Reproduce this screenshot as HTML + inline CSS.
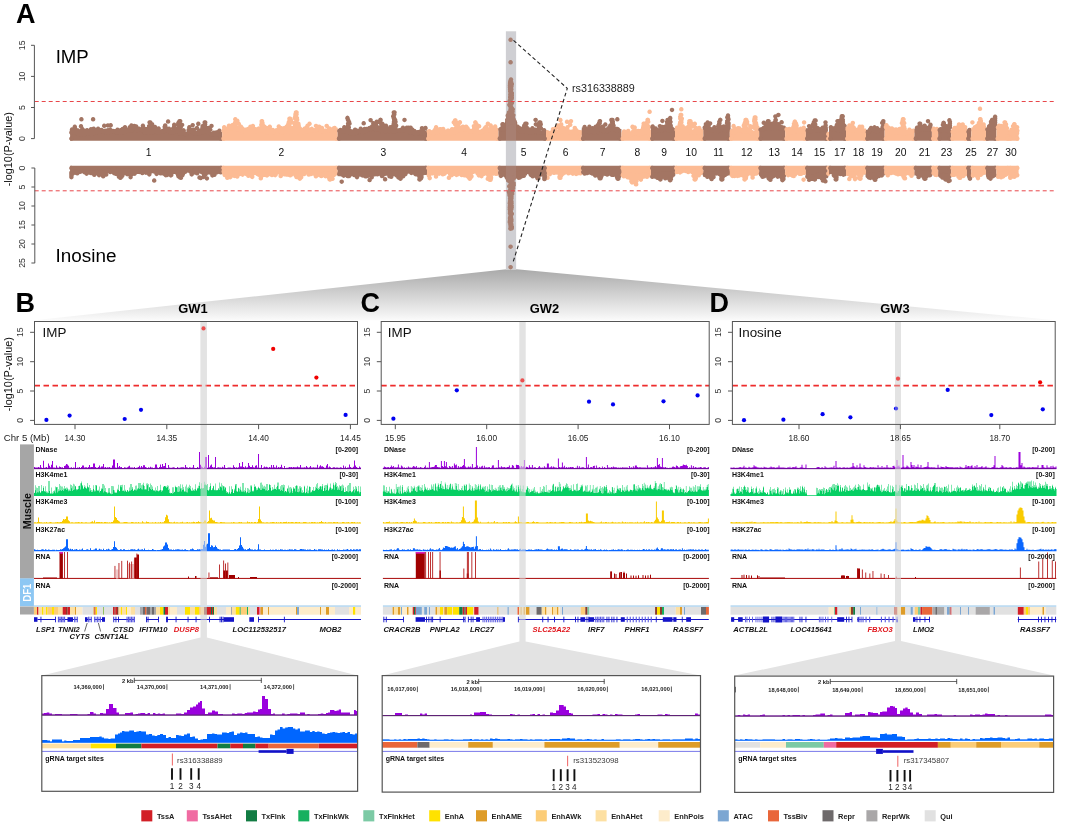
<!DOCTYPE html><html><head><meta charset="utf-8"><title>Figure</title><style>html,body{margin:0;padding:0;background:#fff;width:1065px;height:827px;overflow:hidden;}svg{display:block;font-family:"Liberation Sans",sans-serif;filter:blur(0.35px);}</style></head><body><svg width="1065" height="827" viewBox="0 0 1065 827" font-family="Liberation Sans, sans-serif"><defs><linearGradient id="fanA" gradientUnits="userSpaceOnUse" x1="0" y1="269" x2="0" y2="320"><stop offset="0" stop-color="#a9a9a9"/><stop offset="0.55" stop-color="#d6d6d6"/><stop offset="1" stop-color="#fafafa"/></linearGradient></defs><polygon points="506.3,269.3 516.8,269.3 1055,320.2 35,320.2" fill="url(#fanA)"/>
<rect x="505.9" y="31.3" width="10.2" height="238.5" fill="#d0d0d3"/>
<polygon points="70.1,140.8 70.1,130.4 71.6,130 73.1,129.9 74.6,130.1 76.1,130.6 77.6,131.2 79.1,131.7 80.6,132 82.1,131.9 83.7,131.6 85.2,131.3 86.7,131.1 88.2,131.1 89.7,131.2 91.2,131.3 92.7,131.2 94.2,130.8 95.7,130.2 97.2,129.5 98.7,128.8 100.2,128.5 101.7,128.5 103.2,128.8 104.7,129.2 106.2,129.4 107.7,129.4 109.3,129.3 110.8,129.1 112.3,129.1 113.8,129.2 115.3,129.7 116.8,130.2 118.3,130.5 119.8,130.6 121.3,130.3 122.8,129.8 124.3,129.1 125.8,128.7 127.3,128.4 128.8,128.5 130.3,128.6 131.8,128.6 133.3,128.5 134.9,128.2 136.4,127.8 137.9,127.5 139.4,127.6 140.9,127.9 142.4,128.6 143.9,129.3 145.4,129.8 146.9,130 148.4,130 149.9,129.8 151.4,129.7 152.9,129.7 154.4,129.9 155.9,130.2 157.4,130.4 159,130.4 160.5,130.1 162,129.5 163.5,129 165,128.6 166.5,128.5 168,128.8 169.5,129.3 171,129.7 172.5,130.1 174,130.1 175.5,130.1 177,130.1 178.5,130.3 180,130.7 181.5,131.3 183,131.9 184.6,132.4 186.1,132.4 187.6,132.2 189.1,131.7 190.6,131.2 192.1,130.9 193.6,130.8 195.1,131 196.6,131.1 198.1,131.1 199.6,130.9 201.1,130.5 202.6,130.2 204.1,129.9 205.6,130.1 207.1,130.5 208.6,131.1 210.2,131.7 211.7,132.1 213.2,132.2 214.7,132 216.2,131.8 217.7,131.6 219.2,131.6 220.7,131.8 222.2,132 222.2,140.8" fill="#a37563"/><path d="M71.4 136.3a2.25 2.25 0 1 0 0.01 0zM220.9 136.3a2.25 2.25 0 1 0 0.01 0zM80.1 131.1a2.25 2.25 0 1 0 0.01 0zM77 130.4a2.25 2.25 0 1 0 0.01 0zM81.8 132.4a2.25 2.25 0 1 0 0.01 0zM134.9 125.2a2.25 2.25 0 1 0 0.01 0zM89.9 131.3a2.25 2.25 0 1 0 0.01 0zM165.2 123.2a2.25 2.25 0 1 0 0.01 0zM157.7 130.1a2.25 2.25 0 1 0 0.01 0zM217.3 132.2a2.25 2.25 0 1 0 0.01 0zM199.7 130.8a2.25 2.25 0 1 0 0.01 0zM93 131.6a2.25 2.25 0 1 0 0.01 0zM117.5 127.5a2.25 2.25 0 1 0 0.01 0zM98.4 127.8a2.25 2.25 0 1 0 0.01 0zM166.9 128.3a2.25 2.25 0 1 0 0.01 0zM153.3 130.2a2.25 2.25 0 1 0 0.01 0zM80.3 132.1a2.25 2.25 0 1 0 0.01 0zM173.1 129.6a2.25 2.25 0 1 0 0.01 0zM118.4 129.4a2.25 2.25 0 1 0 0.01 0zM139.1 127.5a2.25 2.25 0 1 0 0.01 0zM190.2 129.5a2.25 2.25 0 1 0 0.01 0zM107.9 128.3a2.25 2.25 0 1 0 0.01 0zM149.9 126.2a2.25 2.25 0 1 0 0.01 0zM180.4 130.8a2.25 2.25 0 1 0 0.01 0zM217.9 132a2.25 2.25 0 1 0 0.01 0zM133.9 126.1a2.25 2.25 0 1 0 0.01 0zM94.1 130.1a2.25 2.25 0 1 0 0.01 0zM77.3 129.5a2.25 2.25 0 1 0 0.01 0zM185.7 131.4a2.25 2.25 0 1 0 0.01 0zM202.3 130.1a2.25 2.25 0 1 0 0.01 0zM175.3 128.9a2.25 2.25 0 1 0 0.01 0zM158.1 129.9a2.25 2.25 0 1 0 0.01 0zM197 125.8a2.25 2.25 0 1 0 0.01 0zM142.3 126.9a2.25 2.25 0 1 0 0.01 0zM80.5 130.1a2.25 2.25 0 1 0 0.01 0zM168.1 119.3a2.25 2.25 0 1 0 0.01 0zM194.3 130.8a2.25 2.25 0 1 0 0.01 0zM129.1 126.9a2.25 2.25 0 1 0 0.01 0zM74.8 129.5a2.25 2.25 0 1 0 0.01 0zM96.5 130.2a2.25 2.25 0 1 0 0.01 0zM80.2 129.6a2.25 2.25 0 1 0 0.01 0zM90.7 131.3a2.25 2.25 0 1 0 0.01 0zM129.8 125a2.25 2.25 0 1 0 0.01 0zM83.4 131.1a2.25 2.25 0 1 0 0.01 0zM153.5 126a2.25 2.25 0 1 0 0.01 0zM193.9 127.4a2.25 2.25 0 1 0 0.01 0zM113 128.7a2.25 2.25 0 1 0 0.01 0zM125 125.1a2.25 2.25 0 1 0 0.01 0zM214.6 132.4a2.25 2.25 0 1 0 0.01 0zM97.7 129.3a2.25 2.25 0 1 0 0.01 0zM106.3 128.7a2.25 2.25 0 1 0 0.01 0zM159.5 130.4a2.25 2.25 0 1 0 0.01 0zM72 129.5a2.25 2.25 0 1 0 0.01 0zM126.6 127.5a2.25 2.25 0 1 0 0.01 0zM213.9 130.4a2.25 2.25 0 1 0 0.01 0zM148.5 128.7a2.25 2.25 0 1 0 0.01 0zM172.5 130.6a2.25 2.25 0 1 0 0.01 0zM205.9 127.7a2.25 2.25 0 1 0 0.01 0zM202.1 127.6a2.25 2.25 0 1 0 0.01 0zM130.1 128.2a2.25 2.25 0 1 0 0.01 0zM86.9 129.7a2.25 2.25 0 1 0 0.01 0zM80.7 132.5a2.25 2.25 0 1 0 0.01 0zM102.6 129a2.25 2.25 0 1 0 0.01 0zM122.2 130.5a2.25 2.25 0 1 0 0.01 0zM71.4 130.4a2.25 2.25 0 1 0 0.01 0zM86.6 130.8a2.25 2.25 0 1 0 0.01 0zM75.2 126.7a2.25 2.25 0 1 0 0.01 0zM163.2 129.4a2.25 2.25 0 1 0 0.01 0zM109.1 129.1a2.25 2.25 0 1 0 0.01 0zM125.8 129a2.25 2.25 0 1 0 0.01 0zM198.3 121.6a2.25 2.25 0 1 0 0.01 0zM141.1 127.3a2.25 2.25 0 1 0 0.01 0zM84.2 131.9a2.25 2.25 0 1 0 0.01 0zM122.6 129.9a2.25 2.25 0 1 0 0.01 0zM195.3 131.3a2.25 2.25 0 1 0 0.01 0zM74.8 124.6a2.25 2.25 0 1 0 0.01 0zM150.4 130.1a2.25 2.25 0 1 0 0.01 0zM152.6 130.3a2.25 2.25 0 1 0 0.01 0zM150.3 122.6a2.25 2.25 0 1 0 0.01 0zM200.5 128.9a2.25 2.25 0 1 0 0.01 0zM110.4 128.9a2.25 2.25 0 1 0 0.01 0zM96.4 127.5a2.25 2.25 0 1 0 0.01 0zM151 127.3a2.25 2.25 0 1 0 0.01 0zM120.7 130.6a2.25 2.25 0 1 0 0.01 0zM192.7 122.9a2.25 2.25 0 1 0 0.01 0zM198.9 128.3a2.25 2.25 0 1 0 0.01 0zM193.7 128.7a2.25 2.25 0 1 0 0.01 0zM105.3 128.4a2.25 2.25 0 1 0 0.01 0zM124.6 129.6a2.25 2.25 0 1 0 0.01 0zM75.6 130.4a2.25 2.25 0 1 0 0.01 0zM110.1 127.4a2.25 2.25 0 1 0 0.01 0zM214.4 131.5a2.25 2.25 0 1 0 0.01 0zM211.5 123.7a2.25 2.25 0 1 0 0.01 0zM214.2 131.8a2.25 2.25 0 1 0 0.01 0zM104.4 129.2a2.25 2.25 0 1 0 0.01 0zM100.8 128.7a2.25 2.25 0 1 0 0.01 0zM164.7 124.6a2.25 2.25 0 1 0 0.01 0zM197 130.5a2.25 2.25 0 1 0 0.01 0zM169 126.5a2.25 2.25 0 1 0 0.01 0zM84.1 130a2.25 2.25 0 1 0 0.01 0zM207.4 128.1a2.25 2.25 0 1 0 0.01 0zM183.5 131.4a2.25 2.25 0 1 0 0.01 0zM98.1 126.5a2.25 2.25 0 1 0 0.01 0zM121.1 127.7a2.25 2.25 0 1 0 0.01 0zM216.7 131.3a2.25 2.25 0 1 0 0.01 0zM131.4 123.3a2.25 2.25 0 1 0 0.01 0zM179.8 130.9a2.25 2.25 0 1 0 0.01 0zM90.4 131.6a2.25 2.25 0 1 0 0.01 0zM206.7 127.6a2.25 2.25 0 1 0 0.01 0zM93.2 128.2a2.25 2.25 0 1 0 0.01 0zM218 130a2.25 2.25 0 1 0 0.01 0zM123.8 128.4a2.25 2.25 0 1 0 0.01 0zM91 131.9a2.25 2.25 0 1 0 0.01 0zM216.5 130.2a2.25 2.25 0 1 0 0.01 0zM150.1 124.9a2.25 2.25 0 1 0 0.01 0zM136.2 124.3a2.25 2.25 0 1 0 0.01 0zM194.9 131.1a2.25 2.25 0 1 0 0.01 0zM109 129.3a2.25 2.25 0 1 0 0.01 0zM107.4 128.3a2.25 2.25 0 1 0 0.01 0zM110.2 128.7a2.25 2.25 0 1 0 0.01 0zM91 127a2.25 2.25 0 1 0 0.01 0zM124.3 128.6a2.25 2.25 0 1 0 0.01 0zM158.6 126.3a2.25 2.25 0 1 0 0.01 0zM134.3 123.8a2.25 2.25 0 1 0 0.01 0zM146.4 129.1a2.25 2.25 0 1 0 0.01 0zM149.7 130.5a2.25 2.25 0 1 0 0.01 0zM137.2 127.9a2.25 2.25 0 1 0 0.01 0zM72 127.3a2.25 2.25 0 1 0 0.01 0zM97.2 128.8a2.25 2.25 0 1 0 0.01 0zM179.8 129.6a2.25 2.25 0 1 0 0.01 0zM120.1 129.7a2.25 2.25 0 1 0 0.01 0zM154.4 127.4a2.25 2.25 0 1 0 0.01 0zM87.3 130a2.25 2.25 0 1 0 0.01 0zM108.5 129.4a2.25 2.25 0 1 0 0.01 0zM186.8 131.5a2.25 2.25 0 1 0 0.01 0zM155.4 127.8a2.25 2.25 0 1 0 0.01 0zM207.8 130.2a2.25 2.25 0 1 0 0.01 0zM163 128.4a2.25 2.25 0 1 0 0.01 0zM148 128.3a2.25 2.25 0 1 0 0.01 0zM139 126.6a2.25 2.25 0 1 0 0.01 0zM142.9 123.6a2.25 2.25 0 1 0 0.01 0zM175.9 126.5a2.25 2.25 0 1 0 0.01 0zM212.3 132.2a2.25 2.25 0 1 0 0.01 0zM155 124.8a2.25 2.25 0 1 0 0.01 0zM197 131.5a2.25 2.25 0 1 0 0.01 0zM89.6 130.6a2.25 2.25 0 1 0 0.01 0zM82.2 132a2.25 2.25 0 1 0 0.01 0zM82.3 130.3a2.25 2.25 0 1 0 0.01 0zM188.6 127.8a2.25 2.25 0 1 0 0.01 0zM94.5 128.8a2.25 2.25 0 1 0 0.01 0zM170.1 129.8a2.25 2.25 0 1 0 0.01 0zM203.4 123.6a2.25 2.25 0 1 0 0.01 0zM104.2 123.5a2.25 2.25 0 1 0 0.01 0zM130.9 127.9a2.25 2.25 0 1 0 0.01 0zM219.4 128.6a2.25 2.25 0 1 0 0.01 0zM95.5 129.8a2.25 2.25 0 1 0 0.01 0zM148.5 129.8a2.25 2.25 0 1 0 0.01 0zM100.7 128.4a2.25 2.25 0 1 0 0.01 0zM179.4 131.1a2.25 2.25 0 1 0 0.01 0zM154.2 129.3a2.25 2.25 0 1 0 0.01 0zM74.1 129.8a2.25 2.25 0 1 0 0.01 0zM164.7 127.8a2.25 2.25 0 1 0 0.01 0zM81 124a2.25 2.25 0 1 0 0.01 0zM189.3 125a2.25 2.25 0 1 0 0.01 0zM87.1 131.1a2.25 2.25 0 1 0 0.01 0zM77.3 128.6a2.25 2.25 0 1 0 0.01 0zM111.8 129.4a2.25 2.25 0 1 0 0.01 0zM134.5 123.9a2.25 2.25 0 1 0 0.01 0zM193.8 130.9a2.25 2.25 0 1 0 0.01 0zM93.7 126.5a2.25 2.25 0 1 0 0.01 0zM156.7 128.5a2.25 2.25 0 1 0 0.01 0zM84.8 131.9a2.25 2.25 0 1 0 0.01 0zM174.3 129.7a2.25 2.25 0 1 0 0.01 0zM82.2 126.8a2.25 2.25 0 1 0 0.01 0zM166.2 125.9a2.25 2.25 0 1 0 0.01 0zM83.9 128.2a2.25 2.25 0 1 0 0.01 0zM81.4 128.6a2.25 2.25 0 1 0 0.01 0zM139.2 127.3a2.25 2.25 0 1 0 0.01 0zM154.1 125.1a2.25 2.25 0 1 0 0.01 0zM111.4 129.4a2.25 2.25 0 1 0 0.01 0zM150.2 129.9a2.25 2.25 0 1 0 0.01 0zM87.8 131.3a2.25 2.25 0 1 0 0.01 0zM78.9 131.9a2.25 2.25 0 1 0 0.01 0zM118 130.4a2.25 2.25 0 1 0 0.01 0zM184.9 132.4a2.25 2.25 0 1 0 0.01 0zM146.2 130.2a2.25 2.25 0 1 0 0.01 0zM123.3 130.2a2.25 2.25 0 1 0 0.01 0zM108.8 130a2.25 2.25 0 1 0 0.01 0zM181 130.1a2.25 2.25 0 1 0 0.01 0zM99.7 127.9a2.25 2.25 0 1 0 0.01 0zM211.1 132.4a2.25 2.25 0 1 0 0.01 0zM193.8 130.3a2.25 2.25 0 1 0 0.01 0zM145.4 126.8a2.25 2.25 0 1 0 0.01 0zM130.2 127.8a2.25 2.25 0 1 0 0.01 0zM174.2 122.5a2.25 2.25 0 1 0 0.01 0zM122.6 126.8a2.25 2.25 0 1 0 0.01 0zM177.1 128.7a2.25 2.25 0 1 0 0.01 0zM131.9 128.4a2.25 2.25 0 1 0 0.01 0zM79.5 132.2a2.25 2.25 0 1 0 0.01 0zM82 129.8a2.25 2.25 0 1 0 0.01 0zM109.6 129.5a2.25 2.25 0 1 0 0.01 0zM84 128.4a2.25 2.25 0 1 0 0.01 0zM201.5 128.8a2.25 2.25 0 1 0 0.01 0zM113.5 129.3a2.25 2.25 0 1 0 0.01 0zM115.2 129a2.25 2.25 0 1 0 0.01 0zM94.9 130a2.25 2.25 0 1 0 0.01 0zM110.7 123.1a2.25 2.25 0 1 0 0.01 0zM216.8 130.7a2.25 2.25 0 1 0 0.01 0zM107.9 123.2a2.25 2.25 0 1 0 0.01 0zM117.7 130.1a2.25 2.25 0 1 0 0.01 0zM71.6 129.7a2.25 2.25 0 1 0 0.01 0zM142.4 127.8a2.25 2.25 0 1 0 0.01 0zM101.4 127.7a2.25 2.25 0 1 0 0.01 0zM72.1 130a2.25 2.25 0 1 0 0.01 0zM84.8 131a2.25 2.25 0 1 0 0.01 0zM77.6 131.8a2.25 2.25 0 1 0 0.01 0zM116.9 130.3a2.25 2.25 0 1 0 0.01 0zM158.9 129.5a2.25 2.25 0 1 0 0.01 0zM183.6 130.6a2.25 2.25 0 1 0 0.01 0zM178.4 126.6a2.25 2.25 0 1 0 0.01 0zM129.6 128.4a2.25 2.25 0 1 0 0.01 0zM218.6 131.9a2.25 2.25 0 1 0 0.01 0zM179.7 129.1a2.25 2.25 0 1 0 0.01 0zM77.9 128.3a2.25 2.25 0 1 0 0.01 0zM204.7 128.6a2.25 2.25 0 1 0 0.01 0zM181.1 128.4a2.25 2.25 0 1 0 0.01 0zM92.2 130.4a2.25 2.25 0 1 0 0.01 0zM146.8 127a2.25 2.25 0 1 0 0.01 0zM191.7 128a2.25 2.25 0 1 0 0.01 0zM158.7 126.5a2.25 2.25 0 1 0 0.01 0zM173.5 128.4a2.25 2.25 0 1 0 0.01 0zM105.8 130a2.25 2.25 0 1 0 0.01 0zM91.3 131a2.25 2.25 0 1 0 0.01 0zM87.1 128a2.25 2.25 0 1 0 0.01 0zM154.9 128.6a2.25 2.25 0 1 0 0.01 0zM165 126.9a2.25 2.25 0 1 0 0.01 0zM144.5 130.2a2.25 2.25 0 1 0 0.01 0zM190.7 129a2.25 2.25 0 1 0 0.01 0zM146.6 129.1a2.25 2.25 0 1 0 0.01 0zM170 130a2.25 2.25 0 1 0 0.01 0zM181.5 131.4a2.25 2.25 0 1 0 0.01 0zM82.5 131.9a2.25 2.25 0 1 0 0.01 0zM150.3 120.2a2.25 2.25 0 1 0 0.01 0zM149.6 120.2a2.25 2.25 0 1 0 0.01 0zM151.1 122a2.25 2.25 0 1 0 0.01 0zM152.1 122a2.25 2.25 0 1 0 0.01 0zM149.9 123.9a2.25 2.25 0 1 0 0.01 0zM149.1 123.9a2.25 2.25 0 1 0 0.01 0zM149.8 125.8a2.25 2.25 0 1 0 0.01 0zM152 125.8a2.25 2.25 0 1 0 0.01 0zM153.9 127.6a2.25 2.25 0 1 0 0.01 0zM151.7 127.6a2.25 2.25 0 1 0 0.01 0zM180.2 118.9a2.25 2.25 0 1 0 0.01 0zM179.5 118.9a2.25 2.25 0 1 0 0.01 0zM178.3 120.8a2.25 2.25 0 1 0 0.01 0zM178.8 120.8a2.25 2.25 0 1 0 0.01 0zM182.1 122.7a2.25 2.25 0 1 0 0.01 0zM178.3 122.7a2.25 2.25 0 1 0 0.01 0zM180.8 124.5a2.25 2.25 0 1 0 0.01 0zM174.1 124.5a2.25 2.25 0 1 0 0.01 0zM173.1 126.4a2.25 2.25 0 1 0 0.01 0zM176.4 126.4a2.25 2.25 0 1 0 0.01 0zM183.3 128.3a2.25 2.25 0 1 0 0.01 0zM183.7 128.3a2.25 2.25 0 1 0 0.01 0zM205.2 120.2a2.25 2.25 0 1 0 0.01 0zM204.7 120.2a2.25 2.25 0 1 0 0.01 0zM205.1 122a2.25 2.25 0 1 0 0.01 0zM204.9 122a2.25 2.25 0 1 0 0.01 0zM204.8 123.9a2.25 2.25 0 1 0 0.01 0zM202.6 123.9a2.25 2.25 0 1 0 0.01 0zM208.4 125.8a2.25 2.25 0 1 0 0.01 0zM202.4 125.8a2.25 2.25 0 1 0 0.01 0zM210.3 127.6a2.25 2.25 0 1 0 0.01 0zM209.9 127.6a2.25 2.25 0 1 0 0.01 0zM81.4 117.1a2.25 2.25 0 1 0 0.01 0zM93.1 117.1a2.25 2.25 0 1 0 0.01 0z" fill="#a37563"/>
<polygon points="70.1,165.8 70.1,173.2 71.6,173.3 73.1,173.4 74.6,173.6 76.1,173.7 77.6,173.6 79.1,173.5 80.6,173.3 82.1,173.2 83.7,173.2 85.2,173.4 86.7,173.7 88.2,174.1 89.7,174.4 91.2,174.6 92.7,174.6 94.2,174.5 95.7,174.3 97.2,174.1 98.7,174 100.2,174 101.7,174.1 103.2,174.1 104.7,174 106.2,173.7 107.7,173.2 109.3,172.8 110.8,172.3 112.3,172.1 113.8,172 115.3,172.1 116.8,172.2 118.3,172.4 119.8,172.5 121.3,172.5 122.8,172.4 124.3,172.3 125.8,172.4 127.3,172.6 128.8,172.9 130.3,173.3 131.8,173.6 133.3,173.8 134.9,173.8 136.4,173.7 137.9,173.4 139.4,173.2 140.9,173.2 142.4,173.2 143.9,173.3 145.4,173.5 146.9,173.6 148.4,173.6 149.9,173.5 151.4,173.3 152.9,173.2 154.4,173.2 155.9,173.4 157.4,173.7 159,174.1 160.5,174.4 162,174.6 163.5,174.6 165,174.5 166.5,174.3 168,174.1 169.5,174 171,174.1 172.5,174.1 174,174.1 175.5,173.9 177,173.7 178.5,173.2 180,172.8 181.5,172.3 183,172.1 184.6,172 186.1,172.1 187.6,172.3 189.1,172.4 190.6,172.5 192.1,172.5 193.6,172.4 195.1,172.4 196.6,172.4 198.1,172.6 199.6,172.9 201.1,173.3 202.6,173.6 204.1,173.8 205.6,173.8 207.1,173.6 208.6,173.4 210.2,173.2 211.7,173.1 213.2,173.1 214.7,173.3 216.2,173.5 217.7,173.6 219.2,173.6 220.7,173.5 222.2,173.3 222.2,165.8" fill="#a37563"/><path d="M71.4 165.8a2.25 2.25 0 1 0 0.01 0zM220.9 165.8a2.25 2.25 0 1 0 0.01 0zM102.8 173.2a2.25 2.25 0 1 0 0.01 0zM102.9 170.6a2.25 2.25 0 1 0 0.01 0zM92.6 171a2.25 2.25 0 1 0 0.01 0zM213.8 168.8a2.25 2.25 0 1 0 0.01 0zM194 168.7a2.25 2.25 0 1 0 0.01 0zM204 170.8a2.25 2.25 0 1 0 0.01 0zM106 172a2.25 2.25 0 1 0 0.01 0zM144.1 168.9a2.25 2.25 0 1 0 0.01 0zM71.9 169.6a2.25 2.25 0 1 0 0.01 0zM138.8 169.2a2.25 2.25 0 1 0 0.01 0zM92.4 170.6a2.25 2.25 0 1 0 0.01 0zM118.6 170.2a2.25 2.25 0 1 0 0.01 0zM71.7 170.5a2.25 2.25 0 1 0 0.01 0zM196.8 168a2.25 2.25 0 1 0 0.01 0zM209.9 170.2a2.25 2.25 0 1 0 0.01 0zM206.2 169.6a2.25 2.25 0 1 0 0.01 0zM127 168.6a2.25 2.25 0 1 0 0.01 0zM220.7 170a2.25 2.25 0 1 0 0.01 0zM125.3 168.5a2.25 2.25 0 1 0 0.01 0zM112.5 167.6a2.25 2.25 0 1 0 0.01 0zM86.6 171.4a2.25 2.25 0 1 0 0.01 0zM114.1 170.9a2.25 2.25 0 1 0 0.01 0zM108.7 168.8a2.25 2.25 0 1 0 0.01 0zM147.8 169.3a2.25 2.25 0 1 0 0.01 0zM127.2 171.9a2.25 2.25 0 1 0 0.01 0zM203.6 171.3a2.25 2.25 0 1 0 0.01 0zM165.7 172.9a2.25 2.25 0 1 0 0.01 0zM212 169.5a2.25 2.25 0 1 0 0.01 0zM179 168.6a2.25 2.25 0 1 0 0.01 0zM180.9 168.7a2.25 2.25 0 1 0 0.01 0zM183.9 168.8a2.25 2.25 0 1 0 0.01 0zM114.2 167.5a2.25 2.25 0 1 0 0.01 0zM209.9 168.8a2.25 2.25 0 1 0 0.01 0zM142 169.2a2.25 2.25 0 1 0 0.01 0zM115.9 169.3a2.25 2.25 0 1 0 0.01 0zM217.4 169.4a2.25 2.25 0 1 0 0.01 0zM169.5 169.9a2.25 2.25 0 1 0 0.01 0zM154.7 169.3a2.25 2.25 0 1 0 0.01 0zM96.4 169.9a2.25 2.25 0 1 0 0.01 0zM102.5 172.5a2.25 2.25 0 1 0 0.01 0zM145.7 169.3a2.25 2.25 0 1 0 0.01 0zM206.9 176.2a2.25 2.25 0 1 0 0.01 0zM138.7 169a2.25 2.25 0 1 0 0.01 0zM100.2 169.6a2.25 2.25 0 1 0 0.01 0zM122.5 168a2.25 2.25 0 1 0 0.01 0zM107.1 169.3a2.25 2.25 0 1 0 0.01 0zM156.6 171.7a2.25 2.25 0 1 0 0.01 0zM183.5 168.2a2.25 2.25 0 1 0 0.01 0zM133.3 170.2a2.25 2.25 0 1 0 0.01 0zM127.7 168.6a2.25 2.25 0 1 0 0.01 0zM80.7 169.2a2.25 2.25 0 1 0 0.01 0zM216.1 169.1a2.25 2.25 0 1 0 0.01 0zM146.7 170.3a2.25 2.25 0 1 0 0.01 0zM200.4 168.9a2.25 2.25 0 1 0 0.01 0zM111.9 167.9a2.25 2.25 0 1 0 0.01 0zM131.2 169.7a2.25 2.25 0 1 0 0.01 0zM214 171a2.25 2.25 0 1 0 0.01 0zM201.9 169a2.25 2.25 0 1 0 0.01 0zM76.2 170.7a2.25 2.25 0 1 0 0.01 0zM205.3 170a2.25 2.25 0 1 0 0.01 0zM159.2 169.6a2.25 2.25 0 1 0 0.01 0zM129.9 171.9a2.25 2.25 0 1 0 0.01 0zM194.8 170.2a2.25 2.25 0 1 0 0.01 0zM216.7 169.3a2.25 2.25 0 1 0 0.01 0zM87.7 169.6a2.25 2.25 0 1 0 0.01 0zM149.5 170.4a2.25 2.25 0 1 0 0.01 0zM212.1 170.2a2.25 2.25 0 1 0 0.01 0zM168.2 171.4a2.25 2.25 0 1 0 0.01 0zM139.8 169.7a2.25 2.25 0 1 0 0.01 0zM77.3 171a2.25 2.25 0 1 0 0.01 0zM106.2 172.3a2.25 2.25 0 1 0 0.01 0zM167.9 170a2.25 2.25 0 1 0 0.01 0zM90.5 170.3a2.25 2.25 0 1 0 0.01 0zM166.5 171.3a2.25 2.25 0 1 0 0.01 0zM88.2 169.6a2.25 2.25 0 1 0 0.01 0zM149.8 170a2.25 2.25 0 1 0 0.01 0zM129.4 168.8a2.25 2.25 0 1 0 0.01 0zM161.3 170a2.25 2.25 0 1 0 0.01 0zM116.5 168.4a2.25 2.25 0 1 0 0.01 0zM214.8 170.1a2.25 2.25 0 1 0 0.01 0zM203.5 170a2.25 2.25 0 1 0 0.01 0zM106.5 169.4a2.25 2.25 0 1 0 0.01 0zM215 170.3a2.25 2.25 0 1 0 0.01 0zM117.4 167.8a2.25 2.25 0 1 0 0.01 0zM145.9 170.4a2.25 2.25 0 1 0 0.01 0zM134.2 169.7a2.25 2.25 0 1 0 0.01 0zM171.2 172.8a2.25 2.25 0 1 0 0.01 0zM105.3 169.4a2.25 2.25 0 1 0 0.01 0zM121.9 168.6a2.25 2.25 0 1 0 0.01 0zM173.4 169.8a2.25 2.25 0 1 0 0.01 0zM190.6 169.6a2.25 2.25 0 1 0 0.01 0zM146.9 169.4a2.25 2.25 0 1 0 0.01 0zM216.4 169.4a2.25 2.25 0 1 0 0.01 0zM194 168.2a2.25 2.25 0 1 0 0.01 0zM104.5 171.2a2.25 2.25 0 1 0 0.01 0zM115.5 171.4a2.25 2.25 0 1 0 0.01 0zM145.5 169.2a2.25 2.25 0 1 0 0.01 0zM104.8 170.1a2.25 2.25 0 1 0 0.01 0zM170.9 173.2a2.25 2.25 0 1 0 0.01 0zM93.3 170.6a2.25 2.25 0 1 0 0.01 0zM103.2 174.1a2.25 2.25 0 1 0 0.01 0zM92.6 170.1a2.25 2.25 0 1 0 0.01 0zM80.4 169.4a2.25 2.25 0 1 0 0.01 0zM205.7 171.9a2.25 2.25 0 1 0 0.01 0zM180.9 175.5a2.25 2.25 0 1 0 0.01 0zM210.7 169.1a2.25 2.25 0 1 0 0.01 0zM99.1 172.9a2.25 2.25 0 1 0 0.01 0zM183 167.6a2.25 2.25 0 1 0 0.01 0zM170.7 170.1a2.25 2.25 0 1 0 0.01 0zM127.3 168.5a2.25 2.25 0 1 0 0.01 0zM96.7 169.6a2.25 2.25 0 1 0 0.01 0zM113.2 168a2.25 2.25 0 1 0 0.01 0zM214.2 168.9a2.25 2.25 0 1 0 0.01 0zM215.6 169.1a2.25 2.25 0 1 0 0.01 0zM124.7 169.9a2.25 2.25 0 1 0 0.01 0zM194.3 168.5a2.25 2.25 0 1 0 0.01 0zM78.8 169.8a2.25 2.25 0 1 0 0.01 0zM127.1 171.2a2.25 2.25 0 1 0 0.01 0zM100.3 170.1a2.25 2.25 0 1 0 0.01 0zM205.5 169.3a2.25 2.25 0 1 0 0.01 0zM132.8 171.3a2.25 2.25 0 1 0 0.01 0zM186 167.6a2.25 2.25 0 1 0 0.01 0zM76.6 169.2a2.25 2.25 0 1 0 0.01 0zM208.9 169.2a2.25 2.25 0 1 0 0.01 0zM183.1 170.4a2.25 2.25 0 1 0 0.01 0zM122.1 168.3a2.25 2.25 0 1 0 0.01 0zM214.6 169.9a2.25 2.25 0 1 0 0.01 0zM110.6 169.4a2.25 2.25 0 1 0 0.01 0zM118.7 168.3a2.25 2.25 0 1 0 0.01 0zM72 170.5a2.25 2.25 0 1 0 0.01 0zM208.4 170.1a2.25 2.25 0 1 0 0.01 0zM212.4 168.6a2.25 2.25 0 1 0 0.01 0zM106.4 169.9a2.25 2.25 0 1 0 0.01 0zM214.4 172.6a2.25 2.25 0 1 0 0.01 0zM129.2 168.8a2.25 2.25 0 1 0 0.01 0zM135.7 170a2.25 2.25 0 1 0 0.01 0zM210.1 168.9a2.25 2.25 0 1 0 0.01 0zM191.4 169.6a2.25 2.25 0 1 0 0.01 0zM194.4 169.7a2.25 2.25 0 1 0 0.01 0zM162.2 170.6a2.25 2.25 0 1 0 0.01 0zM119.2 168.5a2.25 2.25 0 1 0 0.01 0zM188.3 167.9a2.25 2.25 0 1 0 0.01 0zM100.9 171.3a2.25 2.25 0 1 0 0.01 0zM108.4 168.6a2.25 2.25 0 1 0 0.01 0zM76.5 170.1a2.25 2.25 0 1 0 0.01 0zM120.1 172.9a2.25 2.25 0 1 0 0.01 0zM203.5 174.7a2.25 2.25 0 1 0 0.01 0zM111 167.9a2.25 2.25 0 1 0 0.01 0zM85.8 169.8a2.25 2.25 0 1 0 0.01 0zM177.5 169.7a2.25 2.25 0 1 0 0.01 0zM106.4 169.8a2.25 2.25 0 1 0 0.01 0zM164.1 171.5a2.25 2.25 0 1 0 0.01 0zM183.2 169.9a2.25 2.25 0 1 0 0.01 0zM170.7 169.7a2.25 2.25 0 1 0 0.01 0zM197.1 168.3a2.25 2.25 0 1 0 0.01 0zM156.1 169.5a2.25 2.25 0 1 0 0.01 0zM181.7 168a2.25 2.25 0 1 0 0.01 0zM108.4 168.8a2.25 2.25 0 1 0 0.01 0zM94.3 172.6a2.25 2.25 0 1 0 0.01 0zM157.8 169.8a2.25 2.25 0 1 0 0.01 0zM130.6 174.9a2.25 2.25 0 1 0 0.01 0zM147.2 169.4a2.25 2.25 0 1 0 0.01 0zM192.3 169.3a2.25 2.25 0 1 0 0.01 0zM219.5 169.1a2.25 2.25 0 1 0 0.01 0zM142.4 170.8a2.25 2.25 0 1 0 0.01 0zM197.1 171a2.25 2.25 0 1 0 0.01 0zM77.4 169.5a2.25 2.25 0 1 0 0.01 0zM89.2 170a2.25 2.25 0 1 0 0.01 0zM216.9 170.1a2.25 2.25 0 1 0 0.01 0zM210.5 169.2a2.25 2.25 0 1 0 0.01 0zM200.9 169.4a2.25 2.25 0 1 0 0.01 0zM110.3 169.8a2.25 2.25 0 1 0 0.01 0zM212.8 168.7a2.25 2.25 0 1 0 0.01 0zM160.5 171.1a2.25 2.25 0 1 0 0.01 0zM103.9 170.1a2.25 2.25 0 1 0 0.01 0zM92.5 170.3a2.25 2.25 0 1 0 0.01 0zM109.5 169.3a2.25 2.25 0 1 0 0.01 0zM168.8 169.8a2.25 2.25 0 1 0 0.01 0zM73.1 169.3a2.25 2.25 0 1 0 0.01 0zM172.8 169.8a2.25 2.25 0 1 0 0.01 0zM118.1 168.1a2.25 2.25 0 1 0 0.01 0zM190.3 168.9a2.25 2.25 0 1 0 0.01 0zM80.9 168.9a2.25 2.25 0 1 0 0.01 0zM130.5 169.8a2.25 2.25 0 1 0 0.01 0zM167 169.8a2.25 2.25 0 1 0 0.01 0zM95.9 171.2a2.25 2.25 0 1 0 0.01 0zM132.7 169.6a2.25 2.25 0 1 0 0.01 0zM117.4 171.6a2.25 2.25 0 1 0 0.01 0zM118.1 168.9a2.25 2.25 0 1 0 0.01 0zM124.8 168.5a2.25 2.25 0 1 0 0.01 0zM200.6 175.8a2.25 2.25 0 1 0 0.01 0zM125.8 168.1a2.25 2.25 0 1 0 0.01 0zM180.2 168.4a2.25 2.25 0 1 0 0.01 0zM72.3 171.7a2.25 2.25 0 1 0 0.01 0zM134.7 171.4a2.25 2.25 0 1 0 0.01 0zM132.1 171.8a2.25 2.25 0 1 0 0.01 0zM140.3 168.8a2.25 2.25 0 1 0 0.01 0zM73.6 169.9a2.25 2.25 0 1 0 0.01 0zM167.2 172.7a2.25 2.25 0 1 0 0.01 0zM84.7 170a2.25 2.25 0 1 0 0.01 0zM126.8 168.8a2.25 2.25 0 1 0 0.01 0zM93.2 170.4a2.25 2.25 0 1 0 0.01 0zM149.3 172.2a2.25 2.25 0 1 0 0.01 0zM87.7 170.2a2.25 2.25 0 1 0 0.01 0zM191.7 172.2a2.25 2.25 0 1 0 0.01 0zM100.9 169.7a2.25 2.25 0 1 0 0.01 0zM212.4 173.2a2.25 2.25 0 1 0 0.01 0zM143.6 168.8a2.25 2.25 0 1 0 0.01 0zM209.9 169.3a2.25 2.25 0 1 0 0.01 0zM206.6 170.4a2.25 2.25 0 1 0 0.01 0zM194.7 168a2.25 2.25 0 1 0 0.01 0zM188.9 168.2a2.25 2.25 0 1 0 0.01 0zM131.9 171.4a2.25 2.25 0 1 0 0.01 0zM195.4 168.1a2.25 2.25 0 1 0 0.01 0zM104 170.1a2.25 2.25 0 1 0 0.01 0zM148.8 169.6a2.25 2.25 0 1 0 0.01 0zM89.8 170.2a2.25 2.25 0 1 0 0.01 0zM179.8 171.1a2.25 2.25 0 1 0 0.01 0zM77.5 170.1a2.25 2.25 0 1 0 0.01 0zM184.6 167.5a2.25 2.25 0 1 0 0.01 0zM196.7 168a2.25 2.25 0 1 0 0.01 0zM161 171a2.25 2.25 0 1 0 0.01 0zM165.1 170.4a2.25 2.25 0 1 0 0.01 0zM134.2 170.4a2.25 2.25 0 1 0 0.01 0zM135 170.6a2.25 2.25 0 1 0 0.01 0zM138.2 169.6a2.25 2.25 0 1 0 0.01 0zM74.9 170.2a2.25 2.25 0 1 0 0.01 0zM144.6 169.2a2.25 2.25 0 1 0 0.01 0zM185.5 169.4a2.25 2.25 0 1 0 0.01 0zM139.9 168.9a2.25 2.25 0 1 0 0.01 0zM142.1 168.8a2.25 2.25 0 1 0 0.01 0zM90.6 170.7a2.25 2.25 0 1 0 0.01 0zM85.1 169.6a2.25 2.25 0 1 0 0.01 0zM147.7 169.1a2.25 2.25 0 1 0 0.01 0zM166.5 169.9a2.25 2.25 0 1 0 0.01 0zM181.1 169.8a2.25 2.25 0 1 0 0.01 0zM147.9 169.1a2.25 2.25 0 1 0 0.01 0zM146.7 169.7a2.25 2.25 0 1 0 0.01 0zM213.5 168.8a2.25 2.25 0 1 0 0.01 0zM199.5 175.3a2.25 2.25 0 1 0 0.01 0zM120.3 175.6a2.25 2.25 0 1 0 0.01 0zM120.4 175.6a2.25 2.25 0 1 0 0.01 0zM119 174.5a2.25 2.25 0 1 0 0.01 0zM121.5 174.5a2.25 2.25 0 1 0 0.01 0zM120 173.3a2.25 2.25 0 1 0 0.01 0zM122.3 173.3a2.25 2.25 0 1 0 0.01 0zM122.9 172.2a2.25 2.25 0 1 0 0.01 0zM117.6 172.2a2.25 2.25 0 1 0 0.01 0zM122.6 171.1a2.25 2.25 0 1 0 0.01 0zM123.8 171.1a2.25 2.25 0 1 0 0.01 0zM115.3 169.9a2.25 2.25 0 1 0 0.01 0zM118.4 169.9a2.25 2.25 0 1 0 0.01 0zM71.4 174.9a2.25 2.25 0 1 0 0.01 0zM71.4 174.9a2.25 2.25 0 1 0 0.01 0zM71.4 173.7a2.25 2.25 0 1 0 0.01 0zM71.4 173.7a2.25 2.25 0 1 0 0.01 0zM71.5 172.6a2.25 2.25 0 1 0 0.01 0zM71.4 172.6a2.25 2.25 0 1 0 0.01 0zM71.4 171.4a2.25 2.25 0 1 0 0.01 0zM72.7 171.4a2.25 2.25 0 1 0 0.01 0zM71.4 170.3a2.25 2.25 0 1 0 0.01 0zM71.4 170.3a2.25 2.25 0 1 0 0.01 0zM180 175.2a2.25 2.25 0 1 0 0.01 0zM179.8 175.2a2.25 2.25 0 1 0 0.01 0zM178.5 174.1a2.25 2.25 0 1 0 0.01 0zM179 174.1a2.25 2.25 0 1 0 0.01 0zM178.2 173a2.25 2.25 0 1 0 0.01 0zM182.3 173a2.25 2.25 0 1 0 0.01 0zM181.3 171.8a2.25 2.25 0 1 0 0.01 0zM182.9 171.8a2.25 2.25 0 1 0 0.01 0zM176.9 170.7a2.25 2.25 0 1 0 0.01 0zM182.7 170.7a2.25 2.25 0 1 0 0.01 0zM154.2 178.3a2.25 2.25 0 1 0 0.01 0z" fill="#a37563"/>
<polygon points="222.2,140.8 222.2,129.1 223.7,128.5 225.2,127.8 226.7,127.4 228.2,127.2 229.7,127.3 231.2,127.4 232.7,127.3 234.2,126.9 235.7,126.5 237.2,126.3 238.7,126.6 240.2,127.3 241.7,128.1 243.2,128.8 244.7,129.1 246.2,129 247.7,128.8 249.2,128.6 250.7,128.7 252.2,128.9 253.7,129.1 255.2,129.1 256.7,128.7 258.2,128.1 259.7,127.6 261.2,127.5 262.7,127.9 264.2,128.6 265.7,129.3 267.2,129.8 268.7,129.9 270.2,129.9 271.7,129.9 273.2,130.2 274.7,130.6 276.2,131.1 277.7,131.3 279.2,131.1 280.7,130.5 282.2,129.7 283.7,129.1 285.2,128.9 286.7,129.1 288.2,129.5 289.7,129.7 291.2,129.7 292.7,129.5 294.2,129.3 295.7,129.5 297.2,129.9 298.7,130.5 300.2,131 301.7,131.1 303.2,130.8 304.7,130.1 306.2,129.4 307.7,128.9 309.2,128.7 310.7,128.7 312.2,128.7 313.7,128.4 315.2,127.9 316.7,127.4 318.2,127.1 319.7,127.3 321.2,127.9 322.7,128.6 324.2,129.1 325.7,129.2 327.2,128.9 328.7,128.5 330.2,128.2 331.7,128.1 333.2,128.2 334.7,128.3 336.2,128 337.7,127.5 337.7,140.8" fill="#fcbb94"/><path d="M223.5 136.3a2.25 2.25 0 1 0 0.01 0zM336.4 136.3a2.25 2.25 0 1 0 0.01 0zM289 125.9a2.25 2.25 0 1 0 0.01 0zM235.3 117.1a2.25 2.25 0 1 0 0.01 0zM294.6 129a2.25 2.25 0 1 0 0.01 0zM313.6 128.4a2.25 2.25 0 1 0 0.01 0zM335.3 127.1a2.25 2.25 0 1 0 0.01 0zM264.2 126.2a2.25 2.25 0 1 0 0.01 0zM273.4 130.5a2.25 2.25 0 1 0 0.01 0zM307.4 129.5a2.25 2.25 0 1 0 0.01 0zM316.1 127.6a2.25 2.25 0 1 0 0.01 0zM295.7 121.6a2.25 2.25 0 1 0 0.01 0zM289.6 128.1a2.25 2.25 0 1 0 0.01 0zM258.8 128.6a2.25 2.25 0 1 0 0.01 0zM227.3 127.6a2.25 2.25 0 1 0 0.01 0zM293 128.9a2.25 2.25 0 1 0 0.01 0zM281.4 126.1a2.25 2.25 0 1 0 0.01 0zM238.4 126.7a2.25 2.25 0 1 0 0.01 0zM297.2 130.5a2.25 2.25 0 1 0 0.01 0zM223.8 128.2a2.25 2.25 0 1 0 0.01 0zM235.5 126.3a2.25 2.25 0 1 0 0.01 0zM248.8 127.5a2.25 2.25 0 1 0 0.01 0zM290 129.9a2.25 2.25 0 1 0 0.01 0zM293.9 128.7a2.25 2.25 0 1 0 0.01 0zM238.7 121.6a2.25 2.25 0 1 0 0.01 0zM251 129a2.25 2.25 0 1 0 0.01 0zM234.3 125.4a2.25 2.25 0 1 0 0.01 0zM321.9 125.7a2.25 2.25 0 1 0 0.01 0zM268.9 130a2.25 2.25 0 1 0 0.01 0zM224.8 126.5a2.25 2.25 0 1 0 0.01 0zM287 128.9a2.25 2.25 0 1 0 0.01 0zM296.4 129.1a2.25 2.25 0 1 0 0.01 0zM329.3 126.2a2.25 2.25 0 1 0 0.01 0zM251.6 124.7a2.25 2.25 0 1 0 0.01 0zM228.5 126.3a2.25 2.25 0 1 0 0.01 0zM269.3 130a2.25 2.25 0 1 0 0.01 0zM230.1 124.9a2.25 2.25 0 1 0 0.01 0zM224.9 126.9a2.25 2.25 0 1 0 0.01 0zM329.7 128.6a2.25 2.25 0 1 0 0.01 0zM246 127.8a2.25 2.25 0 1 0 0.01 0zM280.7 129a2.25 2.25 0 1 0 0.01 0zM315.3 128.1a2.25 2.25 0 1 0 0.01 0zM258.4 128a2.25 2.25 0 1 0 0.01 0zM229 123.4a2.25 2.25 0 1 0 0.01 0zM311.9 126.8a2.25 2.25 0 1 0 0.01 0zM224.2 125.1a2.25 2.25 0 1 0 0.01 0zM307.6 128.3a2.25 2.25 0 1 0 0.01 0zM307.2 128.4a2.25 2.25 0 1 0 0.01 0zM249 129a2.25 2.25 0 1 0 0.01 0zM249.7 129.2a2.25 2.25 0 1 0 0.01 0zM261.4 125.4a2.25 2.25 0 1 0 0.01 0zM302 127.9a2.25 2.25 0 1 0 0.01 0zM303.8 130.5a2.25 2.25 0 1 0 0.01 0zM286 128.5a2.25 2.25 0 1 0 0.01 0zM312.5 127.8a2.25 2.25 0 1 0 0.01 0zM253.4 127.7a2.25 2.25 0 1 0 0.01 0zM332.5 128.3a2.25 2.25 0 1 0 0.01 0zM322.9 129.3a2.25 2.25 0 1 0 0.01 0zM252.9 129.1a2.25 2.25 0 1 0 0.01 0zM307.5 123.6a2.25 2.25 0 1 0 0.01 0zM307.7 128.7a2.25 2.25 0 1 0 0.01 0zM322.9 128.5a2.25 2.25 0 1 0 0.01 0zM250.5 124.4a2.25 2.25 0 1 0 0.01 0zM294.7 127.6a2.25 2.25 0 1 0 0.01 0zM298.6 123.2a2.25 2.25 0 1 0 0.01 0zM276.5 128.1a2.25 2.25 0 1 0 0.01 0zM302.3 127.7a2.25 2.25 0 1 0 0.01 0zM272.9 128.1a2.25 2.25 0 1 0 0.01 0zM287.9 129.3a2.25 2.25 0 1 0 0.01 0zM247.4 127.5a2.25 2.25 0 1 0 0.01 0zM232.3 123a2.25 2.25 0 1 0 0.01 0zM239.8 127.7a2.25 2.25 0 1 0 0.01 0zM235.5 121.8a2.25 2.25 0 1 0 0.01 0zM262.4 128.1a2.25 2.25 0 1 0 0.01 0zM226.7 127.9a2.25 2.25 0 1 0 0.01 0zM301.7 129.7a2.25 2.25 0 1 0 0.01 0zM302.2 129a2.25 2.25 0 1 0 0.01 0zM230.9 126.2a2.25 2.25 0 1 0 0.01 0zM264.5 125.9a2.25 2.25 0 1 0 0.01 0zM316 123.7a2.25 2.25 0 1 0 0.01 0zM230.9 123.9a2.25 2.25 0 1 0 0.01 0zM326.7 123.7a2.25 2.25 0 1 0 0.01 0zM235.6 126.7a2.25 2.25 0 1 0 0.01 0zM236.1 127a2.25 2.25 0 1 0 0.01 0zM319.2 124.4a2.25 2.25 0 1 0 0.01 0zM295.1 126.4a2.25 2.25 0 1 0 0.01 0zM294.8 129.3a2.25 2.25 0 1 0 0.01 0zM234.8 127.2a2.25 2.25 0 1 0 0.01 0zM309 128.9a2.25 2.25 0 1 0 0.01 0zM259.5 127.2a2.25 2.25 0 1 0 0.01 0zM225.9 127.6a2.25 2.25 0 1 0 0.01 0zM255.4 127.1a2.25 2.25 0 1 0 0.01 0zM265 128.8a2.25 2.25 0 1 0 0.01 0zM332.3 127.3a2.25 2.25 0 1 0 0.01 0zM319.6 126a2.25 2.25 0 1 0 0.01 0zM227 126.9a2.25 2.25 0 1 0 0.01 0zM272.8 127.7a2.25 2.25 0 1 0 0.01 0zM262.6 126a2.25 2.25 0 1 0 0.01 0zM284.2 129.2a2.25 2.25 0 1 0 0.01 0zM320.8 128.2a2.25 2.25 0 1 0 0.01 0zM316.1 127.8a2.25 2.25 0 1 0 0.01 0zM223.6 128.7a2.25 2.25 0 1 0 0.01 0zM309.5 121.5a2.25 2.25 0 1 0 0.01 0zM224 127.6a2.25 2.25 0 1 0 0.01 0zM279 128.5a2.25 2.25 0 1 0 0.01 0zM244.3 128.3a2.25 2.25 0 1 0 0.01 0zM262.7 124.9a2.25 2.25 0 1 0 0.01 0zM252.9 123.8a2.25 2.25 0 1 0 0.01 0zM255.5 129.2a2.25 2.25 0 1 0 0.01 0zM302.5 130.2a2.25 2.25 0 1 0 0.01 0zM235.9 125a2.25 2.25 0 1 0 0.01 0zM232.6 124.7a2.25 2.25 0 1 0 0.01 0zM302.2 128.5a2.25 2.25 0 1 0 0.01 0zM294.4 129.1a2.25 2.25 0 1 0 0.01 0zM268.8 129.6a2.25 2.25 0 1 0 0.01 0zM324 129.5a2.25 2.25 0 1 0 0.01 0zM323.8 129.6a2.25 2.25 0 1 0 0.01 0zM246.8 129a2.25 2.25 0 1 0 0.01 0zM325.2 128.4a2.25 2.25 0 1 0 0.01 0zM266.3 125.8a2.25 2.25 0 1 0 0.01 0zM249.9 128a2.25 2.25 0 1 0 0.01 0zM283.5 127a2.25 2.25 0 1 0 0.01 0zM308.5 127.3a2.25 2.25 0 1 0 0.01 0zM262.8 127.8a2.25 2.25 0 1 0 0.01 0zM241 124.6a2.25 2.25 0 1 0 0.01 0zM298.2 128.2a2.25 2.25 0 1 0 0.01 0zM242.6 128.1a2.25 2.25 0 1 0 0.01 0zM310.8 127.6a2.25 2.25 0 1 0 0.01 0zM237.7 125.8a2.25 2.25 0 1 0 0.01 0zM323.4 129a2.25 2.25 0 1 0 0.01 0zM245.1 129.1a2.25 2.25 0 1 0 0.01 0zM302.9 127.7a2.25 2.25 0 1 0 0.01 0zM240.9 128a2.25 2.25 0 1 0 0.01 0zM251.4 128.6a2.25 2.25 0 1 0 0.01 0zM282.4 129.9a2.25 2.25 0 1 0 0.01 0zM260.5 127.7a2.25 2.25 0 1 0 0.01 0zM333.6 126.2a2.25 2.25 0 1 0 0.01 0zM235 120.6a2.25 2.25 0 1 0 0.01 0zM235 126.3a2.25 2.25 0 1 0 0.01 0zM334.6 125.7a2.25 2.25 0 1 0 0.01 0zM306.3 128.8a2.25 2.25 0 1 0 0.01 0zM245.6 127.7a2.25 2.25 0 1 0 0.01 0zM235.6 126.7a2.25 2.25 0 1 0 0.01 0zM267.3 130.4a2.25 2.25 0 1 0 0.01 0zM268.5 127.4a2.25 2.25 0 1 0 0.01 0zM301.8 130.4a2.25 2.25 0 1 0 0.01 0zM294.9 128.7a2.25 2.25 0 1 0 0.01 0zM239.5 125.7a2.25 2.25 0 1 0 0.01 0zM269.2 127.8a2.25 2.25 0 1 0 0.01 0zM326 128.6a2.25 2.25 0 1 0 0.01 0zM288.3 127.3a2.25 2.25 0 1 0 0.01 0zM271 130a2.25 2.25 0 1 0 0.01 0zM305 126.2a2.25 2.25 0 1 0 0.01 0zM310.9 126.9a2.25 2.25 0 1 0 0.01 0zM319.7 125.7a2.25 2.25 0 1 0 0.01 0zM295.9 128.9a2.25 2.25 0 1 0 0.01 0zM258.8 126.5a2.25 2.25 0 1 0 0.01 0zM234.5 126.3a2.25 2.25 0 1 0 0.01 0zM311.8 126.8a2.25 2.25 0 1 0 0.01 0zM294.6 129.4a2.25 2.25 0 1 0 0.01 0zM271.3 129.3a2.25 2.25 0 1 0 0.01 0zM293.7 128.9a2.25 2.25 0 1 0 0.01 0zM299.7 126.1a2.25 2.25 0 1 0 0.01 0zM244.2 127.5a2.25 2.25 0 1 0 0.01 0zM311.4 128.4a2.25 2.25 0 1 0 0.01 0zM278.8 124.3a2.25 2.25 0 1 0 0.01 0zM227.8 126.3a2.25 2.25 0 1 0 0.01 0zM241.7 125.6a2.25 2.25 0 1 0 0.01 0zM329.7 127.4a2.25 2.25 0 1 0 0.01 0zM234.9 125.6a2.25 2.25 0 1 0 0.01 0zM284.6 127a2.25 2.25 0 1 0 0.01 0zM281.3 128.7a2.25 2.25 0 1 0 0.01 0zM317.1 126.4a2.25 2.25 0 1 0 0.01 0zM269.8 124.5a2.25 2.25 0 1 0 0.01 0zM247.2 127.2a2.25 2.25 0 1 0 0.01 0zM267.8 127.6a2.25 2.25 0 1 0 0.01 0zM237.3 118.5a2.25 2.25 0 1 0 0.01 0zM263.6 128.8a2.25 2.25 0 1 0 0.01 0zM254.5 128.8a2.25 2.25 0 1 0 0.01 0zM225 127.4a2.25 2.25 0 1 0 0.01 0zM271 128.1a2.25 2.25 0 1 0 0.01 0zM263.2 128.1a2.25 2.25 0 1 0 0.01 0zM248.8 126.5a2.25 2.25 0 1 0 0.01 0zM296.5 110.2a2.25 2.25 0 1 0 0.01 0zM296 110.2a2.25 2.25 0 1 0 0.01 0zM295.5 112.1a2.25 2.25 0 1 0 0.01 0zM296.5 112.1a2.25 2.25 0 1 0 0.01 0zM295.7 114a2.25 2.25 0 1 0 0.01 0zM295.3 114a2.25 2.25 0 1 0 0.01 0zM294.8 115.8a2.25 2.25 0 1 0 0.01 0zM296.9 115.8a2.25 2.25 0 1 0 0.01 0zM297.1 117.7a2.25 2.25 0 1 0 0.01 0zM296.5 117.7a2.25 2.25 0 1 0 0.01 0zM295.9 119.6a2.25 2.25 0 1 0 0.01 0zM296.3 119.6a2.25 2.25 0 1 0 0.01 0zM294.6 121.4a2.25 2.25 0 1 0 0.01 0zM298.3 121.4a2.25 2.25 0 1 0 0.01 0zM295.2 123.3a2.25 2.25 0 1 0 0.01 0zM296.8 123.3a2.25 2.25 0 1 0 0.01 0zM298 125.2a2.25 2.25 0 1 0 0.01 0zM298 125.2a2.25 2.25 0 1 0 0.01 0zM295.8 127a2.25 2.25 0 1 0 0.01 0zM294.6 127a2.25 2.25 0 1 0 0.01 0zM290.1 116.4a2.25 2.25 0 1 0 0.01 0zM289.5 116.4a2.25 2.25 0 1 0 0.01 0zM291 118.3a2.25 2.25 0 1 0 0.01 0zM289.5 118.3a2.25 2.25 0 1 0 0.01 0zM291.8 120.2a2.25 2.25 0 1 0 0.01 0zM288.8 120.2a2.25 2.25 0 1 0 0.01 0zM289.1 122a2.25 2.25 0 1 0 0.01 0zM288.3 122a2.25 2.25 0 1 0 0.01 0zM289.3 123.9a2.25 2.25 0 1 0 0.01 0zM287.2 123.9a2.25 2.25 0 1 0 0.01 0zM284.6 125.8a2.25 2.25 0 1 0 0.01 0zM292.4 125.8a2.25 2.25 0 1 0 0.01 0zM287.2 127.6a2.25 2.25 0 1 0 0.01 0zM286.7 127.6a2.25 2.25 0 1 0 0.01 0zM261.8 118.9a2.25 2.25 0 1 0 0.01 0zM262 118.9a2.25 2.25 0 1 0 0.01 0zM261.8 120.8a2.25 2.25 0 1 0 0.01 0zM262.4 120.8a2.25 2.25 0 1 0 0.01 0zM262.7 122.7a2.25 2.25 0 1 0 0.01 0zM261.4 122.7a2.25 2.25 0 1 0 0.01 0zM264.6 124.5a2.25 2.25 0 1 0 0.01 0zM264.2 124.5a2.25 2.25 0 1 0 0.01 0zM258.5 126.4a2.25 2.25 0 1 0 0.01 0zM264.6 126.4a2.25 2.25 0 1 0 0.01 0z" fill="#fcbb94"/>
<polygon points="222.2,165.8 222.2,173.2 223.7,173.4 225.2,173.7 226.7,174.1 228.2,174.4 229.7,174.8 231.2,175 232.7,175.1 234.2,175 235.7,174.8 237.2,174.6 238.7,174.4 240.2,174.2 241.7,174.1 243.2,174.2 244.7,174.3 246.2,174.5 247.7,174.7 249.2,174.9 250.7,175 252.2,175 253.7,175.1 255.2,175.1 256.7,175.1 258.2,175.3 259.7,175.4 261.2,175.6 262.7,175.8 264.2,175.9 265.7,175.9 267.2,175.8 268.7,175.5 270.2,175.1 271.7,174.7 273.2,174.2 274.7,173.9 276.2,173.6 277.7,173.6 279.2,173.6 280.7,173.7 282.2,173.9 283.7,174.1 285.2,174.2 286.7,174.3 288.2,174.2 289.7,174.2 291.2,174.1 292.7,174 294.2,174 295.7,174 297.2,174.1 298.7,174.1 300.2,174.2 301.7,174.1 303.2,174 304.7,173.8 306.2,173.6 307.7,173.4 309.2,173.3 310.7,173.3 312.2,173.4 313.7,173.7 315.2,174.1 316.7,174.6 318.2,175 319.7,175.4 321.2,175.6 322.7,175.7 324.2,175.6 325.7,175.5 327.2,175.4 328.7,175.3 330.2,175.2 331.7,175.2 333.2,175.2 334.7,175.2 336.2,175.1 337.7,175.1 337.7,165.8" fill="#fcbb94"/><path d="M223.5 165.8a2.25 2.25 0 1 0 0.01 0zM336.4 165.8a2.25 2.25 0 1 0 0.01 0zM224.8 172.8a2.25 2.25 0 1 0 0.01 0zM297.6 169.9a2.25 2.25 0 1 0 0.01 0zM235 170.6a2.25 2.25 0 1 0 0.01 0zM249.9 172.2a2.25 2.25 0 1 0 0.01 0zM262.6 171.4a2.25 2.25 0 1 0 0.01 0zM325.6 173a2.25 2.25 0 1 0 0.01 0zM242.5 172.4a2.25 2.25 0 1 0 0.01 0zM292.2 171.4a2.25 2.25 0 1 0 0.01 0zM299 172.4a2.25 2.25 0 1 0 0.01 0zM312.5 171.2a2.25 2.25 0 1 0 0.01 0zM245.8 171.4a2.25 2.25 0 1 0 0.01 0zM283.4 171.2a2.25 2.25 0 1 0 0.01 0zM273 172.4a2.25 2.25 0 1 0 0.01 0zM286.2 170.1a2.25 2.25 0 1 0 0.01 0zM249.9 170.6a2.25 2.25 0 1 0 0.01 0zM279.2 169.1a2.25 2.25 0 1 0 0.01 0zM276.2 169.3a2.25 2.25 0 1 0 0.01 0zM279 169.9a2.25 2.25 0 1 0 0.01 0zM284.4 172.1a2.25 2.25 0 1 0 0.01 0zM224.2 171.2a2.25 2.25 0 1 0 0.01 0zM276.3 170.1a2.25 2.25 0 1 0 0.01 0zM298.6 171.9a2.25 2.25 0 1 0 0.01 0zM265.8 172a2.25 2.25 0 1 0 0.01 0zM331.9 170.7a2.25 2.25 0 1 0 0.01 0zM295.4 170.7a2.25 2.25 0 1 0 0.01 0zM226.7 170.7a2.25 2.25 0 1 0 0.01 0zM300.6 173a2.25 2.25 0 1 0 0.01 0zM260.8 176a2.25 2.25 0 1 0 0.01 0zM281.1 170.1a2.25 2.25 0 1 0 0.01 0zM324.8 171.1a2.25 2.25 0 1 0 0.01 0zM304.6 170.5a2.25 2.25 0 1 0 0.01 0zM261.7 173.6a2.25 2.25 0 1 0 0.01 0zM264.8 172.2a2.25 2.25 0 1 0 0.01 0zM282.8 171.3a2.25 2.25 0 1 0 0.01 0zM247.3 170.8a2.25 2.25 0 1 0 0.01 0zM271.2 171.3a2.25 2.25 0 1 0 0.01 0zM316.8 170.5a2.25 2.25 0 1 0 0.01 0zM316.9 170.8a2.25 2.25 0 1 0 0.01 0zM280.4 169.5a2.25 2.25 0 1 0 0.01 0zM280.7 173.8a2.25 2.25 0 1 0 0.01 0zM297.4 171.5a2.25 2.25 0 1 0 0.01 0zM260.9 171.5a2.25 2.25 0 1 0 0.01 0zM257.3 171.7a2.25 2.25 0 1 0 0.01 0zM295.2 171.4a2.25 2.25 0 1 0 0.01 0zM228 171.5a2.25 2.25 0 1 0 0.01 0zM323.5 172.1a2.25 2.25 0 1 0 0.01 0zM229.1 170.5a2.25 2.25 0 1 0 0.01 0zM224.2 169.2a2.25 2.25 0 1 0 0.01 0zM327.5 172a2.25 2.25 0 1 0 0.01 0zM297.8 171.5a2.25 2.25 0 1 0 0.01 0zM326.2 172.1a2.25 2.25 0 1 0 0.01 0zM293.1 170.7a2.25 2.25 0 1 0 0.01 0zM302.1 170.7a2.25 2.25 0 1 0 0.01 0zM300.4 169.9a2.25 2.25 0 1 0 0.01 0zM298.8 170.4a2.25 2.25 0 1 0 0.01 0zM309.6 168.8a2.25 2.25 0 1 0 0.01 0zM244 169.7a2.25 2.25 0 1 0 0.01 0zM310.9 171.8a2.25 2.25 0 1 0 0.01 0zM297.5 170.1a2.25 2.25 0 1 0 0.01 0zM316.4 171.9a2.25 2.25 0 1 0 0.01 0zM287 170.1a2.25 2.25 0 1 0 0.01 0zM257.6 171.3a2.25 2.25 0 1 0 0.01 0zM259.5 171.5a2.25 2.25 0 1 0 0.01 0zM296 172.9a2.25 2.25 0 1 0 0.01 0zM229.7 171.3a2.25 2.25 0 1 0 0.01 0zM227.9 170a2.25 2.25 0 1 0 0.01 0zM315 170.6a2.25 2.25 0 1 0 0.01 0zM327.2 171.6a2.25 2.25 0 1 0 0.01 0zM225.1 169.7a2.25 2.25 0 1 0 0.01 0zM290.3 173.1a2.25 2.25 0 1 0 0.01 0zM334.2 171.4a2.25 2.25 0 1 0 0.01 0zM270.1 170.7a2.25 2.25 0 1 0 0.01 0zM296.3 169.8a2.25 2.25 0 1 0 0.01 0zM240.6 169.6a2.25 2.25 0 1 0 0.01 0zM224 170.3a2.25 2.25 0 1 0 0.01 0zM237.2 174.3a2.25 2.25 0 1 0 0.01 0zM233.4 173a2.25 2.25 0 1 0 0.01 0zM238.1 169.9a2.25 2.25 0 1 0 0.01 0zM304.7 169.6a2.25 2.25 0 1 0 0.01 0zM306.3 169.3a2.25 2.25 0 1 0 0.01 0zM229.2 172a2.25 2.25 0 1 0 0.01 0zM304.1 171.8a2.25 2.25 0 1 0 0.01 0zM305.9 169.2a2.25 2.25 0 1 0 0.01 0zM294.5 171a2.25 2.25 0 1 0 0.01 0zM275.5 172.6a2.25 2.25 0 1 0 0.01 0zM252.2 174.7a2.25 2.25 0 1 0 0.01 0zM304.5 169.3a2.25 2.25 0 1 0 0.01 0zM225.2 170.4a2.25 2.25 0 1 0 0.01 0zM315.8 169.9a2.25 2.25 0 1 0 0.01 0zM258.6 172.4a2.25 2.25 0 1 0 0.01 0zM242.2 172a2.25 2.25 0 1 0 0.01 0zM278.4 169.1a2.25 2.25 0 1 0 0.01 0zM265 172.4a2.25 2.25 0 1 0 0.01 0zM273 171.2a2.25 2.25 0 1 0 0.01 0zM239.9 171.7a2.25 2.25 0 1 0 0.01 0zM264.5 172.6a2.25 2.25 0 1 0 0.01 0zM294.6 170.1a2.25 2.25 0 1 0 0.01 0zM267 173.2a2.25 2.25 0 1 0 0.01 0zM330.2 172.6a2.25 2.25 0 1 0 0.01 0zM287.5 170.1a2.25 2.25 0 1 0 0.01 0zM230.3 174.9a2.25 2.25 0 1 0 0.01 0zM302.9 171.7a2.25 2.25 0 1 0 0.01 0zM261 172.2a2.25 2.25 0 1 0 0.01 0zM333.8 172.8a2.25 2.25 0 1 0 0.01 0zM291.4 170a2.25 2.25 0 1 0 0.01 0zM271.9 172.8a2.25 2.25 0 1 0 0.01 0zM266 172.8a2.25 2.25 0 1 0 0.01 0zM291.4 172.3a2.25 2.25 0 1 0 0.01 0zM314.7 169.9a2.25 2.25 0 1 0 0.01 0zM223.7 169.2a2.25 2.25 0 1 0 0.01 0zM271.2 171.4a2.25 2.25 0 1 0 0.01 0zM315.6 172.5a2.25 2.25 0 1 0 0.01 0zM228.3 172.2a2.25 2.25 0 1 0 0.01 0zM315.1 172.1a2.25 2.25 0 1 0 0.01 0zM288.1 170.1a2.25 2.25 0 1 0 0.01 0zM319.6 172.9a2.25 2.25 0 1 0 0.01 0zM300.8 172.7a2.25 2.25 0 1 0 0.01 0zM262.7 171.3a2.25 2.25 0 1 0 0.01 0zM286 171.7a2.25 2.25 0 1 0 0.01 0zM246.1 171.7a2.25 2.25 0 1 0 0.01 0zM328.7 171.1a2.25 2.25 0 1 0 0.01 0zM292 170.9a2.25 2.25 0 1 0 0.01 0zM276 169.4a2.25 2.25 0 1 0 0.01 0zM252.3 172.2a2.25 2.25 0 1 0 0.01 0zM312.9 169.8a2.25 2.25 0 1 0 0.01 0zM233.4 172.5a2.25 2.25 0 1 0 0.01 0zM310.7 169.1a2.25 2.25 0 1 0 0.01 0zM288.9 172.5a2.25 2.25 0 1 0 0.01 0zM323.4 172a2.25 2.25 0 1 0 0.01 0zM277.3 170.1a2.25 2.25 0 1 0 0.01 0zM244.9 170a2.25 2.25 0 1 0 0.01 0zM243.9 171.2a2.25 2.25 0 1 0 0.01 0zM264.5 172.4a2.25 2.25 0 1 0 0.01 0zM268.9 171.8a2.25 2.25 0 1 0 0.01 0zM240.3 169.7a2.25 2.25 0 1 0 0.01 0zM336.1 171.2a2.25 2.25 0 1 0 0.01 0zM235.5 171.5a2.25 2.25 0 1 0 0.01 0zM312.4 169.1a2.25 2.25 0 1 0 0.01 0zM290.9 170.1a2.25 2.25 0 1 0 0.01 0zM282.1 169.4a2.25 2.25 0 1 0 0.01 0zM227.3 175.5a2.25 2.25 0 1 0 0.01 0zM321.3 171.9a2.25 2.25 0 1 0 0.01 0zM287.5 170.1a2.25 2.25 0 1 0 0.01 0zM311.5 169.5a2.25 2.25 0 1 0 0.01 0zM330.4 172.5a2.25 2.25 0 1 0 0.01 0zM315.9 174a2.25 2.25 0 1 0 0.01 0zM252.2 170.5a2.25 2.25 0 1 0 0.01 0zM246.2 170.2a2.25 2.25 0 1 0 0.01 0zM232.9 170.6a2.25 2.25 0 1 0 0.01 0zM286.4 172.3a2.25 2.25 0 1 0 0.01 0zM275.2 172.9a2.25 2.25 0 1 0 0.01 0zM326.2 171a2.25 2.25 0 1 0 0.01 0zM291 170.2a2.25 2.25 0 1 0 0.01 0zM237 174.1a2.25 2.25 0 1 0 0.01 0zM252.5 171.5a2.25 2.25 0 1 0 0.01 0zM295.8 173.4a2.25 2.25 0 1 0 0.01 0zM299.1 170.2a2.25 2.25 0 1 0 0.01 0zM274.1 169.7a2.25 2.25 0 1 0 0.01 0zM332.5 176.6a2.25 2.25 0 1 0 0.01 0zM248.5 170.3a2.25 2.25 0 1 0 0.01 0zM252.4 171a2.25 2.25 0 1 0 0.01 0zM325.4 173.9a2.25 2.25 0 1 0 0.01 0zM318 170.5a2.25 2.25 0 1 0 0.01 0zM312.3 170.5a2.25 2.25 0 1 0 0.01 0zM296.5 174.8a2.25 2.25 0 1 0 0.01 0zM229.8 170.4a2.25 2.25 0 1 0 0.01 0zM308.7 172.3a2.25 2.25 0 1 0 0.01 0zM299.9 170.1a2.25 2.25 0 1 0 0.01 0zM290.3 171.4a2.25 2.25 0 1 0 0.01 0zM235.4 170.8a2.25 2.25 0 1 0 0.01 0zM252.5 170.7a2.25 2.25 0 1 0 0.01 0zM277.8 169.2a2.25 2.25 0 1 0 0.01 0zM250.4 170.6a2.25 2.25 0 1 0 0.01 0zM300 169.6a2.25 2.25 0 1 0 0.01 0zM304.5 169.6a2.25 2.25 0 1 0 0.01 0zM227.6 173a2.25 2.25 0 1 0 0.01 0zM248.4 173.6a2.25 2.25 0 1 0 0.01 0zM321.4 173.8a2.25 2.25 0 1 0 0.01 0zM239.3 170.5a2.25 2.25 0 1 0 0.01 0zM234.4 173.7a2.25 2.25 0 1 0 0.01 0zM318.6 171.8a2.25 2.25 0 1 0 0.01 0zM299.9 176.4a2.25 2.25 0 1 0 0.01 0zM299.8 176.4a2.25 2.25 0 1 0 0.01 0zM301.1 175.2a2.25 2.25 0 1 0 0.01 0zM299.9 175.2a2.25 2.25 0 1 0 0.01 0zM300.7 174.1a2.25 2.25 0 1 0 0.01 0zM298.1 174.1a2.25 2.25 0 1 0 0.01 0zM297.9 173a2.25 2.25 0 1 0 0.01 0zM296.7 173a2.25 2.25 0 1 0 0.01 0zM302 171.8a2.25 2.25 0 1 0 0.01 0zM300.5 171.8a2.25 2.25 0 1 0 0.01 0zM329.6 177.2a2.25 2.25 0 1 0 0.01 0zM330.4 177.2a2.25 2.25 0 1 0 0.01 0zM329.4 176a2.25 2.25 0 1 0 0.01 0zM329.8 176a2.25 2.25 0 1 0 0.01 0zM328.6 174.9a2.25 2.25 0 1 0 0.01 0zM329.1 174.9a2.25 2.25 0 1 0 0.01 0zM331.9 173.7a2.25 2.25 0 1 0 0.01 0zM329.1 173.7a2.25 2.25 0 1 0 0.01 0zM327.7 172.6a2.25 2.25 0 1 0 0.01 0zM329.9 172.6a2.25 2.25 0 1 0 0.01 0zM328.5 171.4a2.25 2.25 0 1 0 0.01 0zM333.4 171.4a2.25 2.25 0 1 0 0.01 0z" fill="#fcbb94"/>
<polygon points="337.7,140.8 337.7,129.9 339.2,129.4 340.7,129 342.2,128.7 343.8,128.6 345.3,128.8 346.8,129.3 348.3,129.9 349.8,130.4 351.3,130.7 352.8,130.7 354.3,130.5 355.9,130.2 357.4,129.8 358.9,129.6 360.4,129.5 361.9,129.4 363.4,129.3 364.9,129.1 366.5,128.7 368,128.1 369.5,127.4 371,126.8 372.5,126.4 374,126.3 375.5,126.5 377.1,127 378.6,127.6 380.1,128.1 381.6,128.4 383.1,128.5 384.6,128.4 386.1,128.3 387.6,128.2 389.2,128.3 390.7,128.5 392.2,128.8 393.7,129 395.2,129 396.7,128.8 398.2,128.5 399.8,128.1 401.3,127.7 402.8,127.7 404.3,127.9 405.8,128.5 407.3,129.1 408.8,129.8 410.4,130.4 411.9,130.7 413.4,130.7 414.9,130.7 416.4,130.6 417.9,130.5 419.4,130.6 420.9,130.8 422.5,130.9 424,130.8 425.5,130.5 427,129.9 427,140.8" fill="#a37563"/><path d="M339 136.3a2.25 2.25 0 1 0 0.01 0zM425.7 136.3a2.25 2.25 0 1 0 0.01 0zM380.4 128.1a2.25 2.25 0 1 0 0.01 0zM361.3 129.6a2.25 2.25 0 1 0 0.01 0zM370.6 117.9a2.25 2.25 0 1 0 0.01 0zM425.5 125.8a2.25 2.25 0 1 0 0.01 0zM347.5 129.5a2.25 2.25 0 1 0 0.01 0zM416.7 131.1a2.25 2.25 0 1 0 0.01 0zM402 127.6a2.25 2.25 0 1 0 0.01 0zM423.8 131.4a2.25 2.25 0 1 0 0.01 0zM409 129.7a2.25 2.25 0 1 0 0.01 0zM351.1 131.3a2.25 2.25 0 1 0 0.01 0zM411.2 129.7a2.25 2.25 0 1 0 0.01 0zM355.1 129.9a2.25 2.25 0 1 0 0.01 0zM418.1 130.7a2.25 2.25 0 1 0 0.01 0zM388.5 128.6a2.25 2.25 0 1 0 0.01 0zM354.6 128.1a2.25 2.25 0 1 0 0.01 0zM400.7 128a2.25 2.25 0 1 0 0.01 0zM345.9 129.5a2.25 2.25 0 1 0 0.01 0zM391.8 128a2.25 2.25 0 1 0 0.01 0zM362.7 129.5a2.25 2.25 0 1 0 0.01 0zM392.1 126.9a2.25 2.25 0 1 0 0.01 0zM409.4 128.9a2.25 2.25 0 1 0 0.01 0zM356.5 130.6a2.25 2.25 0 1 0 0.01 0zM402.5 127.3a2.25 2.25 0 1 0 0.01 0zM401.6 128.2a2.25 2.25 0 1 0 0.01 0zM409.3 129.8a2.25 2.25 0 1 0 0.01 0zM412 127.2a2.25 2.25 0 1 0 0.01 0zM381.7 129a2.25 2.25 0 1 0 0.01 0zM417.9 129.9a2.25 2.25 0 1 0 0.01 0zM414.6 130.7a2.25 2.25 0 1 0 0.01 0zM355.1 127.4a2.25 2.25 0 1 0 0.01 0zM370.8 127.1a2.25 2.25 0 1 0 0.01 0zM371.2 125.5a2.25 2.25 0 1 0 0.01 0zM339.4 128.5a2.25 2.25 0 1 0 0.01 0zM377.6 126.4a2.25 2.25 0 1 0 0.01 0zM349.5 128.4a2.25 2.25 0 1 0 0.01 0zM409.8 126.7a2.25 2.25 0 1 0 0.01 0zM366.8 126.7a2.25 2.25 0 1 0 0.01 0zM372.1 124.3a2.25 2.25 0 1 0 0.01 0zM344.3 125.1a2.25 2.25 0 1 0 0.01 0zM421.7 130.1a2.25 2.25 0 1 0 0.01 0zM383.5 127.6a2.25 2.25 0 1 0 0.01 0zM385.6 128.9a2.25 2.25 0 1 0 0.01 0zM422.9 131a2.25 2.25 0 1 0 0.01 0zM354.8 130.9a2.25 2.25 0 1 0 0.01 0zM360.7 126.6a2.25 2.25 0 1 0 0.01 0zM341.6 129.2a2.25 2.25 0 1 0 0.01 0zM399.6 128.3a2.25 2.25 0 1 0 0.01 0zM340.5 127.8a2.25 2.25 0 1 0 0.01 0zM389 127.4a2.25 2.25 0 1 0 0.01 0zM399.9 128.4a2.25 2.25 0 1 0 0.01 0zM414.4 128.8a2.25 2.25 0 1 0 0.01 0zM342.9 129a2.25 2.25 0 1 0 0.01 0zM381.8 127.6a2.25 2.25 0 1 0 0.01 0zM363.2 129.7a2.25 2.25 0 1 0 0.01 0zM374.2 126.7a2.25 2.25 0 1 0 0.01 0zM390.3 125.1a2.25 2.25 0 1 0 0.01 0zM351.8 129.6a2.25 2.25 0 1 0 0.01 0zM403.7 128.1a2.25 2.25 0 1 0 0.01 0zM410.6 125.4a2.25 2.25 0 1 0 0.01 0zM372.7 125.9a2.25 2.25 0 1 0 0.01 0zM411.8 129.8a2.25 2.25 0 1 0 0.01 0zM373.3 121.1a2.25 2.25 0 1 0 0.01 0zM406.4 128.5a2.25 2.25 0 1 0 0.01 0zM359.8 129.3a2.25 2.25 0 1 0 0.01 0zM376.8 119.4a2.25 2.25 0 1 0 0.01 0zM408.7 125.4a2.25 2.25 0 1 0 0.01 0zM409.7 126.9a2.25 2.25 0 1 0 0.01 0zM343.6 127.8a2.25 2.25 0 1 0 0.01 0zM422 125.9a2.25 2.25 0 1 0 0.01 0zM360.6 129a2.25 2.25 0 1 0 0.01 0zM393.8 128.7a2.25 2.25 0 1 0 0.01 0zM385 128.9a2.25 2.25 0 1 0 0.01 0zM376.5 126.1a2.25 2.25 0 1 0 0.01 0zM340.8 129.3a2.25 2.25 0 1 0 0.01 0zM423.1 128.4a2.25 2.25 0 1 0 0.01 0zM420.2 129.3a2.25 2.25 0 1 0 0.01 0zM409.2 126.2a2.25 2.25 0 1 0 0.01 0zM415.7 131.2a2.25 2.25 0 1 0 0.01 0zM394.6 129.1a2.25 2.25 0 1 0 0.01 0zM397.8 128.6a2.25 2.25 0 1 0 0.01 0zM386 123.6a2.25 2.25 0 1 0 0.01 0zM392.9 129a2.25 2.25 0 1 0 0.01 0zM384.1 127.9a2.25 2.25 0 1 0 0.01 0zM421.4 130.8a2.25 2.25 0 1 0 0.01 0zM365.5 127.5a2.25 2.25 0 1 0 0.01 0zM349.4 129.1a2.25 2.25 0 1 0 0.01 0zM421.9 130a2.25 2.25 0 1 0 0.01 0zM362.3 128.8a2.25 2.25 0 1 0 0.01 0zM385.3 128.7a2.25 2.25 0 1 0 0.01 0zM349.7 130.7a2.25 2.25 0 1 0 0.01 0zM364.5 128.8a2.25 2.25 0 1 0 0.01 0zM364 129.3a2.25 2.25 0 1 0 0.01 0zM346.6 128.3a2.25 2.25 0 1 0 0.01 0zM411.8 129.4a2.25 2.25 0 1 0 0.01 0zM388.4 126.8a2.25 2.25 0 1 0 0.01 0zM356.4 128.2a2.25 2.25 0 1 0 0.01 0zM379 126.8a2.25 2.25 0 1 0 0.01 0zM392.1 128.2a2.25 2.25 0 1 0 0.01 0zM365.9 128.9a2.25 2.25 0 1 0 0.01 0zM358.2 128.9a2.25 2.25 0 1 0 0.01 0zM372.2 125.3a2.25 2.25 0 1 0 0.01 0zM340 129a2.25 2.25 0 1 0 0.01 0zM413.7 130.8a2.25 2.25 0 1 0 0.01 0zM387.3 127.5a2.25 2.25 0 1 0 0.01 0zM363.7 121a2.25 2.25 0 1 0 0.01 0zM364.6 126.8a2.25 2.25 0 1 0 0.01 0zM352.7 131.3a2.25 2.25 0 1 0 0.01 0zM414.5 130.1a2.25 2.25 0 1 0 0.01 0zM344.4 128.3a2.25 2.25 0 1 0 0.01 0zM377.1 125a2.25 2.25 0 1 0 0.01 0zM348.5 130.1a2.25 2.25 0 1 0 0.01 0zM422.2 128.7a2.25 2.25 0 1 0 0.01 0zM352.4 130.6a2.25 2.25 0 1 0 0.01 0zM369.6 125.7a2.25 2.25 0 1 0 0.01 0zM392.4 125.6a2.25 2.25 0 1 0 0.01 0zM410.2 129.5a2.25 2.25 0 1 0 0.01 0zM403 125.6a2.25 2.25 0 1 0 0.01 0zM404.9 127.4a2.25 2.25 0 1 0 0.01 0zM407 127.1a2.25 2.25 0 1 0 0.01 0zM418.3 130.9a2.25 2.25 0 1 0 0.01 0zM414.5 131.3a2.25 2.25 0 1 0 0.01 0zM405.4 127.1a2.25 2.25 0 1 0 0.01 0zM382.2 122.3a2.25 2.25 0 1 0 0.01 0zM388.6 127.8a2.25 2.25 0 1 0 0.01 0zM406.9 125.4a2.25 2.25 0 1 0 0.01 0zM391.7 128.4a2.25 2.25 0 1 0 0.01 0zM378.2 126.9a2.25 2.25 0 1 0 0.01 0zM401.7 127.6a2.25 2.25 0 1 0 0.01 0zM372.9 125.3a2.25 2.25 0 1 0 0.01 0zM372.3 126.3a2.25 2.25 0 1 0 0.01 0zM407.2 125.9a2.25 2.25 0 1 0 0.01 0zM382.3 127.9a2.25 2.25 0 1 0 0.01 0zM355 130.3a2.25 2.25 0 1 0 0.01 0zM351.6 129.6a2.25 2.25 0 1 0 0.01 0zM389.4 128.8a2.25 2.25 0 1 0 0.01 0zM418.8 130.4a2.25 2.25 0 1 0 0.01 0zM412.1 127.6a2.25 2.25 0 1 0 0.01 0zM422.1 131a2.25 2.25 0 1 0 0.01 0zM376 122.4a2.25 2.25 0 1 0 0.01 0zM347.4 115.8a2.25 2.25 0 1 0 0.01 0zM347.5 115.8a2.25 2.25 0 1 0 0.01 0zM348.1 117.7a2.25 2.25 0 1 0 0.01 0zM348 117.7a2.25 2.25 0 1 0 0.01 0zM349 119.6a2.25 2.25 0 1 0 0.01 0zM348.7 119.6a2.25 2.25 0 1 0 0.01 0zM348.1 121.4a2.25 2.25 0 1 0 0.01 0zM349.5 121.4a2.25 2.25 0 1 0 0.01 0zM348.1 123.3a2.25 2.25 0 1 0 0.01 0zM348.1 123.3a2.25 2.25 0 1 0 0.01 0zM348.8 125.2a2.25 2.25 0 1 0 0.01 0zM347.5 125.2a2.25 2.25 0 1 0 0.01 0zM347.3 127a2.25 2.25 0 1 0 0.01 0zM348.5 127a2.25 2.25 0 1 0 0.01 0zM393.8 110.2a2.25 2.25 0 1 0 0.01 0zM394.5 110.2a2.25 2.25 0 1 0 0.01 0zM394.3 112.1a2.25 2.25 0 1 0 0.01 0zM394 112.1a2.25 2.25 0 1 0 0.01 0zM393.2 114a2.25 2.25 0 1 0 0.01 0zM393.7 114a2.25 2.25 0 1 0 0.01 0zM393.8 115.8a2.25 2.25 0 1 0 0.01 0zM394.1 115.8a2.25 2.25 0 1 0 0.01 0zM394.2 117.7a2.25 2.25 0 1 0 0.01 0zM395.1 117.7a2.25 2.25 0 1 0 0.01 0zM395.5 119.6a2.25 2.25 0 1 0 0.01 0zM394 119.6a2.25 2.25 0 1 0 0.01 0zM393.8 121.4a2.25 2.25 0 1 0 0.01 0zM394.5 121.4a2.25 2.25 0 1 0 0.01 0zM396.1 123.3a2.25 2.25 0 1 0 0.01 0zM393.3 123.3a2.25 2.25 0 1 0 0.01 0zM394.1 125.2a2.25 2.25 0 1 0 0.01 0zM395.4 125.2a2.25 2.25 0 1 0 0.01 0zM392.4 127a2.25 2.25 0 1 0 0.01 0zM393.1 127a2.25 2.25 0 1 0 0.01 0zM380.6 117.7a2.25 2.25 0 1 0 0.01 0zM380.4 117.7a2.25 2.25 0 1 0 0.01 0zM380 119.6a2.25 2.25 0 1 0 0.01 0zM378.7 119.6a2.25 2.25 0 1 0 0.01 0zM382.2 121.4a2.25 2.25 0 1 0 0.01 0zM381.1 121.4a2.25 2.25 0 1 0 0.01 0zM382.5 123.3a2.25 2.25 0 1 0 0.01 0zM383.8 123.3a2.25 2.25 0 1 0 0.01 0zM383.8 125.2a2.25 2.25 0 1 0 0.01 0zM379.2 125.2a2.25 2.25 0 1 0 0.01 0zM375.8 127a2.25 2.25 0 1 0 0.01 0zM377.5 127a2.25 2.25 0 1 0 0.01 0zM404.5 117.7a2.25 2.25 0 1 0 0.01 0z" fill="#a37563"/>
<polygon points="337.7,165.8 337.7,176.2 339.2,175.9 340.7,175.5 342.2,175.2 343.8,175.2 345.3,175.3 346.8,175.4 348.3,175.4 349.8,175.2 351.3,174.9 352.8,174.8 354.3,174.9 355.9,175.3 357.4,175.7 358.9,176 360.4,176.1 361.9,175.9 363.4,175.8 364.9,175.7 366.5,175.8 368,176 369.5,176 371,175.8 372.5,175.4 374,174.9 375.5,174.5 377.1,174.4 378.6,174.5 380.1,174.6 381.6,174.6 383.1,174.5 384.6,174.2 386.1,174.1 387.6,174.2 389.2,174.5 390.7,174.9 392.2,175.2 393.7,175.2 395.2,175 396.7,174.7 398.2,174.5 399.8,174.5 401.3,174.6 402.8,174.7 404.3,174.5 405.8,174.1 407.3,173.7 408.8,173.3 410.4,173.2 411.9,173.4 413.4,173.7 414.9,173.9 416.4,173.9 417.9,173.8 419.4,173.8 420.9,173.9 422.5,174.3 424,174.7 425.5,175.1 427,175.1 427,165.8" fill="#a37563"/><path d="M339 165.8a2.25 2.25 0 1 0 0.01 0zM425.7 165.8a2.25 2.25 0 1 0 0.01 0zM369.6 177.8a2.25 2.25 0 1 0 0.01 0zM394.2 170.7a2.25 2.25 0 1 0 0.01 0zM374.7 172.1a2.25 2.25 0 1 0 0.01 0zM365.6 172.6a2.25 2.25 0 1 0 0.01 0zM339.3 171.8a2.25 2.25 0 1 0 0.01 0zM412 170a2.25 2.25 0 1 0 0.01 0zM396.9 170.4a2.25 2.25 0 1 0 0.01 0zM382.2 171.1a2.25 2.25 0 1 0 0.01 0zM362.1 172.7a2.25 2.25 0 1 0 0.01 0zM385.1 177a2.25 2.25 0 1 0 0.01 0zM388.8 170.5a2.25 2.25 0 1 0 0.01 0zM349.5 170.9a2.25 2.25 0 1 0 0.01 0zM404.8 170a2.25 2.25 0 1 0 0.01 0zM347.7 171.1a2.25 2.25 0 1 0 0.01 0zM384.3 171.9a2.25 2.25 0 1 0 0.01 0zM392.1 172.7a2.25 2.25 0 1 0 0.01 0zM344.4 170.7a2.25 2.25 0 1 0 0.01 0zM405.8 170.1a2.25 2.25 0 1 0 0.01 0zM401 170.6a2.25 2.25 0 1 0 0.01 0zM353.7 170.7a2.25 2.25 0 1 0 0.01 0zM347.6 173.8a2.25 2.25 0 1 0 0.01 0zM389.5 170.6a2.25 2.25 0 1 0 0.01 0zM378 170.5a2.25 2.25 0 1 0 0.01 0zM343.7 173.4a2.25 2.25 0 1 0 0.01 0zM389.5 174.1a2.25 2.25 0 1 0 0.01 0zM377.1 171a2.25 2.25 0 1 0 0.01 0zM360.6 171.6a2.25 2.25 0 1 0 0.01 0zM419.7 171.7a2.25 2.25 0 1 0 0.01 0zM366.3 174.1a2.25 2.25 0 1 0 0.01 0zM409.7 169.1a2.25 2.25 0 1 0 0.01 0zM391.2 174.5a2.25 2.25 0 1 0 0.01 0zM382 173.8a2.25 2.25 0 1 0 0.01 0zM360.1 172.2a2.25 2.25 0 1 0 0.01 0zM401.3 170.4a2.25 2.25 0 1 0 0.01 0zM365.8 173.8a2.25 2.25 0 1 0 0.01 0zM381 172.1a2.25 2.25 0 1 0 0.01 0zM360.1 171.8a2.25 2.25 0 1 0 0.01 0zM370.1 171.7a2.25 2.25 0 1 0 0.01 0zM423.2 170.4a2.25 2.25 0 1 0 0.01 0zM387.7 169.8a2.25 2.25 0 1 0 0.01 0zM385.3 170.2a2.25 2.25 0 1 0 0.01 0zM374 170.4a2.25 2.25 0 1 0 0.01 0zM349.7 172.8a2.25 2.25 0 1 0 0.01 0zM369.4 171.8a2.25 2.25 0 1 0 0.01 0zM355.6 171.1a2.25 2.25 0 1 0 0.01 0zM359.6 171.6a2.25 2.25 0 1 0 0.01 0zM396.6 170.7a2.25 2.25 0 1 0 0.01 0zM352.5 171.8a2.25 2.25 0 1 0 0.01 0zM347 171.3a2.25 2.25 0 1 0 0.01 0zM411.4 169a2.25 2.25 0 1 0 0.01 0zM377.4 172.1a2.25 2.25 0 1 0 0.01 0zM408.8 169a2.25 2.25 0 1 0 0.01 0zM369.6 173.1a2.25 2.25 0 1 0 0.01 0zM371.7 175.1a2.25 2.25 0 1 0 0.01 0zM357 174.9a2.25 2.25 0 1 0 0.01 0zM382.8 170.3a2.25 2.25 0 1 0 0.01 0zM378.2 170.1a2.25 2.25 0 1 0 0.01 0zM400.2 170.4a2.25 2.25 0 1 0 0.01 0zM417 170.5a2.25 2.25 0 1 0 0.01 0zM370.9 171.7a2.25 2.25 0 1 0 0.01 0zM391.7 170.9a2.25 2.25 0 1 0 0.01 0zM414.6 169.5a2.25 2.25 0 1 0 0.01 0zM383.5 170.9a2.25 2.25 0 1 0 0.01 0zM362.4 173.2a2.25 2.25 0 1 0 0.01 0zM372.4 172.2a2.25 2.25 0 1 0 0.01 0zM388.2 170.2a2.25 2.25 0 1 0 0.01 0zM372.8 170.9a2.25 2.25 0 1 0 0.01 0zM354.3 172.8a2.25 2.25 0 1 0 0.01 0zM366.8 172.7a2.25 2.25 0 1 0 0.01 0zM348.4 171.9a2.25 2.25 0 1 0 0.01 0zM370.3 172.3a2.25 2.25 0 1 0 0.01 0zM364.7 171.2a2.25 2.25 0 1 0 0.01 0zM366 171.5a2.25 2.25 0 1 0 0.01 0zM349.9 172.2a2.25 2.25 0 1 0 0.01 0zM363.5 171.8a2.25 2.25 0 1 0 0.01 0zM417.8 171.2a2.25 2.25 0 1 0 0.01 0zM415.5 171.9a2.25 2.25 0 1 0 0.01 0zM350.5 170.9a2.25 2.25 0 1 0 0.01 0zM341.6 172.2a2.25 2.25 0 1 0 0.01 0zM396.5 170.8a2.25 2.25 0 1 0 0.01 0zM374.8 171.5a2.25 2.25 0 1 0 0.01 0zM399.6 170.3a2.25 2.25 0 1 0 0.01 0zM412.4 169.5a2.25 2.25 0 1 0 0.01 0zM393.5 170.9a2.25 2.25 0 1 0 0.01 0zM349 173.8a2.25 2.25 0 1 0 0.01 0zM402.6 171.7a2.25 2.25 0 1 0 0.01 0zM342.5 170.7a2.25 2.25 0 1 0 0.01 0zM353 170.5a2.25 2.25 0 1 0 0.01 0zM365.3 171.8a2.25 2.25 0 1 0 0.01 0zM342.4 171.1a2.25 2.25 0 1 0 0.01 0zM394.3 170.9a2.25 2.25 0 1 0 0.01 0zM411.8 169.9a2.25 2.25 0 1 0 0.01 0zM401.1 170.5a2.25 2.25 0 1 0 0.01 0zM376.7 171.3a2.25 2.25 0 1 0 0.01 0zM369.3 171.5a2.25 2.25 0 1 0 0.01 0zM411.3 170.7a2.25 2.25 0 1 0 0.01 0zM363.8 171.2a2.25 2.25 0 1 0 0.01 0zM413 170.3a2.25 2.25 0 1 0 0.01 0zM343.1 171a2.25 2.25 0 1 0 0.01 0zM348.6 172.8a2.25 2.25 0 1 0 0.01 0zM357.2 174.2a2.25 2.25 0 1 0 0.01 0zM404 170.1a2.25 2.25 0 1 0 0.01 0zM399.2 170.6a2.25 2.25 0 1 0 0.01 0zM403.8 172.3a2.25 2.25 0 1 0 0.01 0zM363.4 171.3a2.25 2.25 0 1 0 0.01 0zM421 170.1a2.25 2.25 0 1 0 0.01 0zM419.6 170.7a2.25 2.25 0 1 0 0.01 0zM403 172.3a2.25 2.25 0 1 0 0.01 0zM393.5 171.5a2.25 2.25 0 1 0 0.01 0zM343.7 172.1a2.25 2.25 0 1 0 0.01 0zM376.1 170.8a2.25 2.25 0 1 0 0.01 0zM419.5 169.4a2.25 2.25 0 1 0 0.01 0zM405.1 169.9a2.25 2.25 0 1 0 0.01 0zM399.9 172.1a2.25 2.25 0 1 0 0.01 0zM361.6 172.4a2.25 2.25 0 1 0 0.01 0zM423 171.2a2.25 2.25 0 1 0 0.01 0zM386.2 169.9a2.25 2.25 0 1 0 0.01 0zM344.1 171.2a2.25 2.25 0 1 0 0.01 0zM374.7 170.4a2.25 2.25 0 1 0 0.01 0zM365.9 171.4a2.25 2.25 0 1 0 0.01 0zM400.3 171.4a2.25 2.25 0 1 0 0.01 0zM359.6 171.9a2.25 2.25 0 1 0 0.01 0zM383.7 170.6a2.25 2.25 0 1 0 0.01 0zM420.1 169.8a2.25 2.25 0 1 0 0.01 0zM365 173.9a2.25 2.25 0 1 0 0.01 0zM351.3 171.4a2.25 2.25 0 1 0 0.01 0zM367.9 173.5a2.25 2.25 0 1 0 0.01 0zM386.5 171.3a2.25 2.25 0 1 0 0.01 0zM353.7 171.7a2.25 2.25 0 1 0 0.01 0zM390.9 171.2a2.25 2.25 0 1 0 0.01 0zM405.4 171.9a2.25 2.25 0 1 0 0.01 0zM348.9 171.2a2.25 2.25 0 1 0 0.01 0zM370.2 171.7a2.25 2.25 0 1 0 0.01 0zM344.2 171.1a2.25 2.25 0 1 0 0.01 0zM356.1 172.3a2.25 2.25 0 1 0 0.01 0zM377.8 170a2.25 2.25 0 1 0 0.01 0zM367.1 172.1a2.25 2.25 0 1 0 0.01 0zM370.5 171.6a2.25 2.25 0 1 0 0.01 0zM345.2 170.8a2.25 2.25 0 1 0 0.01 0zM400.6 176.4a2.25 2.25 0 1 0 0.01 0zM400.3 176.4a2.25 2.25 0 1 0 0.01 0zM398.4 175.2a2.25 2.25 0 1 0 0.01 0zM400.8 175.2a2.25 2.25 0 1 0 0.01 0zM403.1 174.1a2.25 2.25 0 1 0 0.01 0zM400.4 174.1a2.25 2.25 0 1 0 0.01 0zM396.4 173a2.25 2.25 0 1 0 0.01 0zM399.9 173a2.25 2.25 0 1 0 0.01 0zM399.2 171.8a2.25 2.25 0 1 0 0.01 0zM396.3 171.8a2.25 2.25 0 1 0 0.01 0zM420 177.2a2.25 2.25 0 1 0 0.01 0zM419.4 177.2a2.25 2.25 0 1 0 0.01 0zM421 176a2.25 2.25 0 1 0 0.01 0zM420.3 176a2.25 2.25 0 1 0 0.01 0zM420.4 174.9a2.25 2.25 0 1 0 0.01 0zM421.5 174.9a2.25 2.25 0 1 0 0.01 0zM420.7 173.7a2.25 2.25 0 1 0 0.01 0zM418.8 173.7a2.25 2.25 0 1 0 0.01 0zM418.5 172.6a2.25 2.25 0 1 0 0.01 0zM417.9 172.6a2.25 2.25 0 1 0 0.01 0zM416.7 171.4a2.25 2.25 0 1 0 0.01 0zM421.9 171.4a2.25 2.25 0 1 0 0.01 0zM341.7 179.4a2.25 2.25 0 1 0 0.01 0z" fill="#a37563"/>
<polygon points="427,140.8 427,131.1 428.5,130.4 430,130 431.6,130.2 433.1,130.4 434.6,130.2 436.1,129.6 437.6,129.1 439.2,129.2 440.7,129.8 442.2,130.5 443.7,130.8 445.3,130.6 446.8,130.2 448.3,130.1 449.8,130.4 451.3,130.7 452.9,130.6 454.4,129.8 455.9,128.8 457.4,128.1 458.9,128.1 460.5,128.2 462,128.2 463.5,127.7 465,127.2 466.6,127.1 468.1,127.6 469.6,128.4 471.1,129 472.6,129.1 474.2,128.8 475.7,128.6 477.2,128.9 478.7,129.4 480.2,129.7 481.8,129.3 483.3,128.5 484.8,127.9 486.3,127.8 487.9,128.2 489.4,128.6 490.9,128.6 492.4,128.3 493.9,128.2 495.5,128.7 497,129.7 498.5,130.6 498.5,140.8" fill="#fcbb94"/><path d="M428.3 136.3a2.25 2.25 0 1 0 0.01 0zM497.2 136.3a2.25 2.25 0 1 0 0.01 0zM439.9 126.9a2.25 2.25 0 1 0 0.01 0zM485.5 125.7a2.25 2.25 0 1 0 0.01 0zM450.8 130.9a2.25 2.25 0 1 0 0.01 0zM485.2 127.7a2.25 2.25 0 1 0 0.01 0zM453.7 129.2a2.25 2.25 0 1 0 0.01 0zM453.7 127.2a2.25 2.25 0 1 0 0.01 0zM444.8 131.3a2.25 2.25 0 1 0 0.01 0zM467.4 125.9a2.25 2.25 0 1 0 0.01 0zM484.8 126a2.25 2.25 0 1 0 0.01 0zM490.7 123.3a2.25 2.25 0 1 0 0.01 0zM462.4 127.4a2.25 2.25 0 1 0 0.01 0zM439.1 129.1a2.25 2.25 0 1 0 0.01 0zM468.3 128.2a2.25 2.25 0 1 0 0.01 0zM475.7 128.9a2.25 2.25 0 1 0 0.01 0zM458.8 121.5a2.25 2.25 0 1 0 0.01 0zM434.5 130.8a2.25 2.25 0 1 0 0.01 0zM458.6 128.3a2.25 2.25 0 1 0 0.01 0zM478.1 129.9a2.25 2.25 0 1 0 0.01 0zM486.2 124.5a2.25 2.25 0 1 0 0.01 0zM482.5 128.4a2.25 2.25 0 1 0 0.01 0zM447.8 128.5a2.25 2.25 0 1 0 0.01 0zM463.8 127.2a2.25 2.25 0 1 0 0.01 0zM451.6 130.2a2.25 2.25 0 1 0 0.01 0zM474.2 125.8a2.25 2.25 0 1 0 0.01 0zM490.6 128.9a2.25 2.25 0 1 0 0.01 0zM448.7 129.6a2.25 2.25 0 1 0 0.01 0zM467.1 127a2.25 2.25 0 1 0 0.01 0zM441.8 130.8a2.25 2.25 0 1 0 0.01 0zM450.6 130a2.25 2.25 0 1 0 0.01 0zM495.2 124.3a2.25 2.25 0 1 0 0.01 0zM487.9 121.4a2.25 2.25 0 1 0 0.01 0zM494.6 127a2.25 2.25 0 1 0 0.01 0zM484.2 128.6a2.25 2.25 0 1 0 0.01 0zM474.9 127.4a2.25 2.25 0 1 0 0.01 0zM448.8 129.1a2.25 2.25 0 1 0 0.01 0zM493.9 127.5a2.25 2.25 0 1 0 0.01 0zM472.9 128.9a2.25 2.25 0 1 0 0.01 0zM452 127a2.25 2.25 0 1 0 0.01 0zM430.2 130.3a2.25 2.25 0 1 0 0.01 0zM475.1 128.1a2.25 2.25 0 1 0 0.01 0zM434.2 128.7a2.25 2.25 0 1 0 0.01 0zM453.9 128.9a2.25 2.25 0 1 0 0.01 0zM457 127.4a2.25 2.25 0 1 0 0.01 0zM467.2 126.8a2.25 2.25 0 1 0 0.01 0zM436.2 129.9a2.25 2.25 0 1 0 0.01 0zM489.6 127.7a2.25 2.25 0 1 0 0.01 0zM436 126.2a2.25 2.25 0 1 0 0.01 0zM445.8 130.9a2.25 2.25 0 1 0 0.01 0zM464.9 127.3a2.25 2.25 0 1 0 0.01 0zM462 127.2a2.25 2.25 0 1 0 0.01 0zM443.9 129.7a2.25 2.25 0 1 0 0.01 0zM436.1 128.8a2.25 2.25 0 1 0 0.01 0zM468.8 128.5a2.25 2.25 0 1 0 0.01 0zM456.4 129a2.25 2.25 0 1 0 0.01 0zM458.6 124.6a2.25 2.25 0 1 0 0.01 0zM466.2 125.1a2.25 2.25 0 1 0 0.01 0zM480.4 130a2.25 2.25 0 1 0 0.01 0zM496.6 127.4a2.25 2.25 0 1 0 0.01 0zM435.3 127a2.25 2.25 0 1 0 0.01 0zM455.3 129.4a2.25 2.25 0 1 0 0.01 0zM494.4 127.2a2.25 2.25 0 1 0 0.01 0zM481.7 129.6a2.25 2.25 0 1 0 0.01 0zM481.8 129.8a2.25 2.25 0 1 0 0.01 0zM444.6 130.4a2.25 2.25 0 1 0 0.01 0zM429.3 128.9a2.25 2.25 0 1 0 0.01 0zM443 130.7a2.25 2.25 0 1 0 0.01 0zM477 128.4a2.25 2.25 0 1 0 0.01 0zM489.5 127.3a2.25 2.25 0 1 0 0.01 0zM488.4 127.4a2.25 2.25 0 1 0 0.01 0zM491.5 124.9a2.25 2.25 0 1 0 0.01 0zM439.9 127.3a2.25 2.25 0 1 0 0.01 0zM451.8 128.4a2.25 2.25 0 1 0 0.01 0zM475.2 125.7a2.25 2.25 0 1 0 0.01 0zM436.8 129.1a2.25 2.25 0 1 0 0.01 0zM479.1 124.1a2.25 2.25 0 1 0 0.01 0zM478 129.8a2.25 2.25 0 1 0 0.01 0zM469.9 129a2.25 2.25 0 1 0 0.01 0zM466.1 124.4a2.25 2.25 0 1 0 0.01 0zM436.1 125a2.25 2.25 0 1 0 0.01 0zM474.8 128.7a2.25 2.25 0 1 0 0.01 0zM441.6 129.7a2.25 2.25 0 1 0 0.01 0zM486 126.7a2.25 2.25 0 1 0 0.01 0zM436.1 130.2a2.25 2.25 0 1 0 0.01 0zM435.9 127.1a2.25 2.25 0 1 0 0.01 0zM441.1 129a2.25 2.25 0 1 0 0.01 0zM448.3 128.4a2.25 2.25 0 1 0 0.01 0zM454.5 130a2.25 2.25 0 1 0 0.01 0zM488.6 127.5a2.25 2.25 0 1 0 0.01 0zM475.8 125.9a2.25 2.25 0 1 0 0.01 0zM493.7 128.8a2.25 2.25 0 1 0 0.01 0zM451.9 131.1a2.25 2.25 0 1 0 0.01 0zM462.9 124.4a2.25 2.25 0 1 0 0.01 0zM483.4 129a2.25 2.25 0 1 0 0.01 0zM440.9 127.1a2.25 2.25 0 1 0 0.01 0zM475.1 128.3a2.25 2.25 0 1 0 0.01 0zM461.1 128.6a2.25 2.25 0 1 0 0.01 0zM486.5 127.5a2.25 2.25 0 1 0 0.01 0zM488.4 127.1a2.25 2.25 0 1 0 0.01 0zM433.5 130.2a2.25 2.25 0 1 0 0.01 0zM443.2 126.8a2.25 2.25 0 1 0 0.01 0zM468.9 128.6a2.25 2.25 0 1 0 0.01 0zM440 129.2a2.25 2.25 0 1 0 0.01 0zM460.5 127.1a2.25 2.25 0 1 0 0.01 0zM455 129.1a2.25 2.25 0 1 0 0.01 0zM428.7 129.2a2.25 2.25 0 1 0 0.01 0zM451.3 131.3a2.25 2.25 0 1 0 0.01 0zM459.9 120a2.25 2.25 0 1 0 0.01 0zM431.4 130.5a2.25 2.25 0 1 0 0.01 0zM474.5 128.7a2.25 2.25 0 1 0 0.01 0zM447.1 129.4a2.25 2.25 0 1 0 0.01 0zM446.4 129.2a2.25 2.25 0 1 0 0.01 0zM455 118.3a2.25 2.25 0 1 0 0.01 0zM455.5 118.3a2.25 2.25 0 1 0 0.01 0zM456.3 120.2a2.25 2.25 0 1 0 0.01 0zM453.8 120.2a2.25 2.25 0 1 0 0.01 0zM455.2 122a2.25 2.25 0 1 0 0.01 0zM456.1 122a2.25 2.25 0 1 0 0.01 0zM457.1 123.9a2.25 2.25 0 1 0 0.01 0zM456.5 123.9a2.25 2.25 0 1 0 0.01 0zM455.9 125.8a2.25 2.25 0 1 0 0.01 0zM455.9 125.8a2.25 2.25 0 1 0 0.01 0zM453.8 127.6a2.25 2.25 0 1 0 0.01 0zM453.1 127.6a2.25 2.25 0 1 0 0.01 0zM475.3 120.2a2.25 2.25 0 1 0 0.01 0zM475.4 120.2a2.25 2.25 0 1 0 0.01 0zM476.5 122a2.25 2.25 0 1 0 0.01 0zM475.6 122a2.25 2.25 0 1 0 0.01 0zM473.9 123.9a2.25 2.25 0 1 0 0.01 0zM476.5 123.9a2.25 2.25 0 1 0 0.01 0zM476.9 125.8a2.25 2.25 0 1 0 0.01 0zM475.1 125.8a2.25 2.25 0 1 0 0.01 0zM476.4 127.6a2.25 2.25 0 1 0 0.01 0zM473.5 127.6a2.25 2.25 0 1 0 0.01 0z" fill="#fcbb94"/>
<polygon points="427,165.8 427,175.4 428.5,174.9 430,174.5 431.6,174.3 433.1,174.4 434.6,174.5 436.1,174.3 437.6,173.8 439.2,173.4 440.7,173.5 442.2,173.8 443.7,174 445.3,174 446.8,173.7 448.3,173.5 449.8,173.7 451.3,174.2 452.9,174.5 454.4,174.5 455.9,174.2 457.4,174 458.9,174.1 460.5,174.4 462,174.6 463.5,174.4 465,173.9 466.6,173.6 468.1,173.6 469.6,173.8 471.1,173.9 472.6,173.7 474.2,173.2 475.7,173 477.2,173.2 478.7,173.5 480.2,173.8 481.8,173.7 483.3,173.5 484.8,173.5 486.3,173.9 487.9,174.5 489.4,174.8 490.9,174.8 492.4,174.7 493.9,174.7 495.5,175.1 497,175.5 498.5,175.7 498.5,165.8" fill="#fcbb94"/><path d="M428.3 165.8a2.25 2.25 0 1 0 0.01 0zM497.2 165.8a2.25 2.25 0 1 0 0.01 0zM461.5 170.6a2.25 2.25 0 1 0 0.01 0zM445.1 169.8a2.25 2.25 0 1 0 0.01 0zM452.4 170.1a2.25 2.25 0 1 0 0.01 0zM428.8 172.8a2.25 2.25 0 1 0 0.01 0zM459.5 170.4a2.25 2.25 0 1 0 0.01 0zM467.5 169.5a2.25 2.25 0 1 0 0.01 0zM439.9 168.9a2.25 2.25 0 1 0 0.01 0zM449.1 169.5a2.25 2.25 0 1 0 0.01 0zM478.4 169.9a2.25 2.25 0 1 0 0.01 0zM492.9 170.6a2.25 2.25 0 1 0 0.01 0zM491.8 171.3a2.25 2.25 0 1 0 0.01 0zM433.8 170.2a2.25 2.25 0 1 0 0.01 0zM468.3 174.6a2.25 2.25 0 1 0 0.01 0zM452.9 171.8a2.25 2.25 0 1 0 0.01 0zM457.8 172a2.25 2.25 0 1 0 0.01 0zM433 170.7a2.25 2.25 0 1 0 0.01 0zM490.2 170.7a2.25 2.25 0 1 0 0.01 0zM446 169.3a2.25 2.25 0 1 0 0.01 0zM439.6 169.2a2.25 2.25 0 1 0 0.01 0zM476.8 168.9a2.25 2.25 0 1 0 0.01 0zM455.8 169.9a2.25 2.25 0 1 0 0.01 0zM469.8 171.8a2.25 2.25 0 1 0 0.01 0zM472.9 169.3a2.25 2.25 0 1 0 0.01 0zM478.9 173.2a2.25 2.25 0 1 0 0.01 0zM469.7 169.4a2.25 2.25 0 1 0 0.01 0zM484.1 171.5a2.25 2.25 0 1 0 0.01 0zM451.8 169.9a2.25 2.25 0 1 0 0.01 0zM441.3 170a2.25 2.25 0 1 0 0.01 0zM488.6 171.4a2.25 2.25 0 1 0 0.01 0zM491.9 170.5a2.25 2.25 0 1 0 0.01 0zM450.8 171.2a2.25 2.25 0 1 0 0.01 0zM473 169.7a2.25 2.25 0 1 0 0.01 0zM475.1 169a2.25 2.25 0 1 0 0.01 0zM432.3 170.5a2.25 2.25 0 1 0 0.01 0zM431.4 171a2.25 2.25 0 1 0 0.01 0zM451.3 170.5a2.25 2.25 0 1 0 0.01 0zM469.5 169.7a2.25 2.25 0 1 0 0.01 0zM460.2 169.9a2.25 2.25 0 1 0 0.01 0zM492 171.2a2.25 2.25 0 1 0 0.01 0zM496.3 170.9a2.25 2.25 0 1 0 0.01 0zM470.6 171a2.25 2.25 0 1 0 0.01 0zM451 169.6a2.25 2.25 0 1 0 0.01 0zM439.1 169.1a2.25 2.25 0 1 0 0.01 0zM481.2 169.3a2.25 2.25 0 1 0 0.01 0zM484.4 169.6a2.25 2.25 0 1 0 0.01 0zM465.4 170.4a2.25 2.25 0 1 0 0.01 0zM466.5 170.4a2.25 2.25 0 1 0 0.01 0zM469.7 169.8a2.25 2.25 0 1 0 0.01 0zM479.4 169.5a2.25 2.25 0 1 0 0.01 0zM477.3 170.4a2.25 2.25 0 1 0 0.01 0zM481.8 169.6a2.25 2.25 0 1 0 0.01 0zM481.5 173.9a2.25 2.25 0 1 0 0.01 0zM459.5 170.1a2.25 2.25 0 1 0 0.01 0zM464.4 173.1a2.25 2.25 0 1 0 0.01 0zM437.4 169.3a2.25 2.25 0 1 0 0.01 0zM461.1 171.3a2.25 2.25 0 1 0 0.01 0zM481.6 169.7a2.25 2.25 0 1 0 0.01 0zM496.5 171.1a2.25 2.25 0 1 0 0.01 0zM480.4 169.4a2.25 2.25 0 1 0 0.01 0zM430.2 170a2.25 2.25 0 1 0 0.01 0zM432.4 170.7a2.25 2.25 0 1 0 0.01 0zM466.6 169.3a2.25 2.25 0 1 0 0.01 0zM493 170.7a2.25 2.25 0 1 0 0.01 0zM438.6 169.2a2.25 2.25 0 1 0 0.01 0zM479.1 172.3a2.25 2.25 0 1 0 0.01 0zM439.5 168.9a2.25 2.25 0 1 0 0.01 0zM481.9 169.5a2.25 2.25 0 1 0 0.01 0zM496 171.5a2.25 2.25 0 1 0 0.01 0zM472.1 169.8a2.25 2.25 0 1 0 0.01 0zM483.5 169.7a2.25 2.25 0 1 0 0.01 0zM450.6 172.3a2.25 2.25 0 1 0 0.01 0zM435.7 171.5a2.25 2.25 0 1 0 0.01 0zM432.8 171.1a2.25 2.25 0 1 0 0.01 0zM456 172.1a2.25 2.25 0 1 0 0.01 0zM432.4 170.8a2.25 2.25 0 1 0 0.01 0zM456.5 172.7a2.25 2.25 0 1 0 0.01 0zM493.4 171.3a2.25 2.25 0 1 0 0.01 0zM443.7 169.8a2.25 2.25 0 1 0 0.01 0zM446.4 169.9a2.25 2.25 0 1 0 0.01 0zM444.2 169.8a2.25 2.25 0 1 0 0.01 0zM480.6 170.5a2.25 2.25 0 1 0 0.01 0zM448.9 175.5a2.25 2.25 0 1 0 0.01 0zM443.2 170.5a2.25 2.25 0 1 0 0.01 0zM439.1 171.4a2.25 2.25 0 1 0 0.01 0zM488.2 170.4a2.25 2.25 0 1 0 0.01 0zM480.1 171.4a2.25 2.25 0 1 0 0.01 0zM447.8 169.5a2.25 2.25 0 1 0 0.01 0zM461.7 172.8a2.25 2.25 0 1 0 0.01 0zM439.4 170.3a2.25 2.25 0 1 0 0.01 0zM469.5 170a2.25 2.25 0 1 0 0.01 0zM468.2 171.8a2.25 2.25 0 1 0 0.01 0zM442.8 172a2.25 2.25 0 1 0 0.01 0zM453.1 171.9a2.25 2.25 0 1 0 0.01 0zM487.8 170.1a2.25 2.25 0 1 0 0.01 0zM487.8 176.5a2.25 2.25 0 1 0 0.01 0zM448.8 169a2.25 2.25 0 1 0 0.01 0zM436 174.3a2.25 2.25 0 1 0 0.01 0zM428.9 173.3a2.25 2.25 0 1 0 0.01 0zM438.7 170.6a2.25 2.25 0 1 0 0.01 0zM435 170.1a2.25 2.25 0 1 0 0.01 0zM475.3 168.6a2.25 2.25 0 1 0 0.01 0zM451.7 172.9a2.25 2.25 0 1 0 0.01 0zM477.7 171.4a2.25 2.25 0 1 0 0.01 0zM495.8 170.7a2.25 2.25 0 1 0 0.01 0zM444.5 171.4a2.25 2.25 0 1 0 0.01 0zM475.8 168.5a2.25 2.25 0 1 0 0.01 0zM463.1 170.3a2.25 2.25 0 1 0 0.01 0zM458 169.6a2.25 2.25 0 1 0 0.01 0zM429.7 175.9a2.25 2.25 0 1 0 0.01 0zM450.1 171.9a2.25 2.25 0 1 0 0.01 0zM436.6 170.4a2.25 2.25 0 1 0 0.01 0zM469.6 176.4a2.25 2.25 0 1 0 0.01 0zM469.9 176.4a2.25 2.25 0 1 0 0.01 0zM468.8 175.2a2.25 2.25 0 1 0 0.01 0zM470.7 175.2a2.25 2.25 0 1 0 0.01 0zM467.8 174.1a2.25 2.25 0 1 0 0.01 0zM471.5 174.1a2.25 2.25 0 1 0 0.01 0zM470 173a2.25 2.25 0 1 0 0.01 0zM466.6 173a2.25 2.25 0 1 0 0.01 0zM468.4 171.8a2.25 2.25 0 1 0 0.01 0zM470 171.8a2.25 2.25 0 1 0 0.01 0zM490.5 177.5a2.25 2.25 0 1 0 0.01 0zM489.8 177.5a2.25 2.25 0 1 0 0.01 0zM489.5 176.4a2.25 2.25 0 1 0 0.01 0zM490.9 176.4a2.25 2.25 0 1 0 0.01 0zM491 175.2a2.25 2.25 0 1 0 0.01 0zM490.6 175.2a2.25 2.25 0 1 0 0.01 0zM489.3 174.1a2.25 2.25 0 1 0 0.01 0zM488.9 174.1a2.25 2.25 0 1 0 0.01 0zM489.1 173a2.25 2.25 0 1 0 0.01 0zM488.3 173a2.25 2.25 0 1 0 0.01 0zM487.9 171.8a2.25 2.25 0 1 0 0.01 0zM490 171.8a2.25 2.25 0 1 0 0.01 0z" fill="#fcbb94"/>
<polygon points="546,140.8 546,132 547.6,132 549.1,131.5 550.7,130.7 552.2,130 553.8,129.7 555.3,129.8 556.9,129.9 558.5,129.7 560,129.2 561.6,128.6 563.1,128.4 564.7,128.6 566.2,129.2 567.8,129.9 569.3,130.2 570.9,130.2 572.5,129.8 574,129.7 575.6,129.8 577.1,130.1 578.7,130.4 580.2,130.2 581.8,129.5 581.8,140.8" fill="#fcbb94"/><path d="M547.3 136.3a2.25 2.25 0 1 0 0.01 0zM580.5 136.3a2.25 2.25 0 1 0 0.01 0zM565.4 127.9a2.25 2.25 0 1 0 0.01 0zM570.2 122.6a2.25 2.25 0 1 0 0.01 0zM576.3 128a2.25 2.25 0 1 0 0.01 0zM560.6 128.9a2.25 2.25 0 1 0 0.01 0zM561.2 122a2.25 2.25 0 1 0 0.01 0zM560.1 128.8a2.25 2.25 0 1 0 0.01 0zM560.9 129.2a2.25 2.25 0 1 0 0.01 0zM580.4 130.8a2.25 2.25 0 1 0 0.01 0zM567.5 125.1a2.25 2.25 0 1 0 0.01 0zM555.7 128.5a2.25 2.25 0 1 0 0.01 0zM559.8 129.4a2.25 2.25 0 1 0 0.01 0zM553.9 130.1a2.25 2.25 0 1 0 0.01 0zM575.3 127.3a2.25 2.25 0 1 0 0.01 0zM577.5 130.8a2.25 2.25 0 1 0 0.01 0zM570.3 130.1a2.25 2.25 0 1 0 0.01 0zM568.7 129.2a2.25 2.25 0 1 0 0.01 0zM557.8 123.2a2.25 2.25 0 1 0 0.01 0zM547.3 129.9a2.25 2.25 0 1 0 0.01 0zM575.6 129a2.25 2.25 0 1 0 0.01 0zM567 119.5a2.25 2.25 0 1 0 0.01 0zM555.1 128.4a2.25 2.25 0 1 0 0.01 0zM572 129.6a2.25 2.25 0 1 0 0.01 0zM570.9 129.8a2.25 2.25 0 1 0 0.01 0zM564.8 127.3a2.25 2.25 0 1 0 0.01 0zM569.8 130.1a2.25 2.25 0 1 0 0.01 0zM568.2 129.1a2.25 2.25 0 1 0 0.01 0zM554.7 128.4a2.25 2.25 0 1 0 0.01 0zM556.1 125.6a2.25 2.25 0 1 0 0.01 0zM563 126.4a2.25 2.25 0 1 0 0.01 0zM564.6 127.9a2.25 2.25 0 1 0 0.01 0zM554.6 130.1a2.25 2.25 0 1 0 0.01 0zM578.1 129.4a2.25 2.25 0 1 0 0.01 0zM564.7 127.7a2.25 2.25 0 1 0 0.01 0zM574.3 129.7a2.25 2.25 0 1 0 0.01 0zM553 126.9a2.25 2.25 0 1 0 0.01 0zM562.6 127a2.25 2.25 0 1 0 0.01 0zM574.8 125.7a2.25 2.25 0 1 0 0.01 0zM576.1 130.5a2.25 2.25 0 1 0 0.01 0zM560 126.2a2.25 2.25 0 1 0 0.01 0zM574.4 130a2.25 2.25 0 1 0 0.01 0zM552.4 130a2.25 2.25 0 1 0 0.01 0zM550.7 130.4a2.25 2.25 0 1 0 0.01 0zM574 128.8a2.25 2.25 0 1 0 0.01 0zM562.3 128.9a2.25 2.25 0 1 0 0.01 0zM560.4 117.8a2.25 2.25 0 1 0 0.01 0zM570.4 129.7a2.25 2.25 0 1 0 0.01 0zM563.2 125.7a2.25 2.25 0 1 0 0.01 0zM572.5 130.2a2.25 2.25 0 1 0 0.01 0zM569.9 130a2.25 2.25 0 1 0 0.01 0zM564.6 128.7a2.25 2.25 0 1 0 0.01 0zM559.6 129.2a2.25 2.25 0 1 0 0.01 0zM559.9 129.8a2.25 2.25 0 1 0 0.01 0zM554 128.6a2.25 2.25 0 1 0 0.01 0zM549.2 131.7a2.25 2.25 0 1 0 0.01 0zM571 118.9a2.25 2.25 0 1 0 0.01 0z" fill="#fcbb94"/>
<polygon points="546,165.8 546,174.5 547.6,174.4 549.1,174.4 550.7,174.3 552.2,174.3 553.8,174.4 555.3,174.3 556.9,174.2 558.5,174 560,173.7 561.6,173.4 563.1,173.1 564.7,173 566.2,172.9 567.8,173.1 569.3,173.4 570.9,173.8 572.5,174.1 574,174.3 575.6,174.3 577.1,174.1 578.7,173.8 580.2,173.4 581.8,173.1 581.8,165.8" fill="#fcbb94"/><path d="M547.3 165.8a2.25 2.25 0 1 0 0.01 0zM580.5 165.8a2.25 2.25 0 1 0 0.01 0zM568.4 171.1a2.25 2.25 0 1 0 0.01 0zM554 170.5a2.25 2.25 0 1 0 0.01 0zM573.6 170.9a2.25 2.25 0 1 0 0.01 0zM559.6 169.3a2.25 2.25 0 1 0 0.01 0zM562 169.3a2.25 2.25 0 1 0 0.01 0zM571 169.7a2.25 2.25 0 1 0 0.01 0zM560.8 170.3a2.25 2.25 0 1 0 0.01 0zM574.2 170.3a2.25 2.25 0 1 0 0.01 0zM560.1 170.3a2.25 2.25 0 1 0 0.01 0zM578 169.7a2.25 2.25 0 1 0 0.01 0zM579.5 170.6a2.25 2.25 0 1 0 0.01 0zM559.7 170.6a2.25 2.25 0 1 0 0.01 0zM558.2 169.6a2.25 2.25 0 1 0 0.01 0zM572.4 170.1a2.25 2.25 0 1 0 0.01 0zM564.8 169.3a2.25 2.25 0 1 0 0.01 0zM577.2 171.3a2.25 2.25 0 1 0 0.01 0zM548.1 171a2.25 2.25 0 1 0 0.01 0zM562.7 169.4a2.25 2.25 0 1 0 0.01 0zM575.2 170.4a2.25 2.25 0 1 0 0.01 0zM563 171.4a2.25 2.25 0 1 0 0.01 0zM561.9 169.6a2.25 2.25 0 1 0 0.01 0zM564.3 170.6a2.25 2.25 0 1 0 0.01 0zM569.6 170.6a2.25 2.25 0 1 0 0.01 0zM560.6 169.1a2.25 2.25 0 1 0 0.01 0zM569.9 170a2.25 2.25 0 1 0 0.01 0zM572.8 171.4a2.25 2.25 0 1 0 0.01 0zM551.2 170.1a2.25 2.25 0 1 0 0.01 0zM549.9 171.9a2.25 2.25 0 1 0 0.01 0zM550.7 169.9a2.25 2.25 0 1 0 0.01 0zM572.3 170.5a2.25 2.25 0 1 0 0.01 0zM549.1 171.3a2.25 2.25 0 1 0 0.01 0zM570.9 170a2.25 2.25 0 1 0 0.01 0zM549.1 171.3a2.25 2.25 0 1 0 0.01 0zM561.2 170a2.25 2.25 0 1 0 0.01 0zM580.4 171a2.25 2.25 0 1 0 0.01 0zM576.2 169.9a2.25 2.25 0 1 0 0.01 0zM558.4 170.4a2.25 2.25 0 1 0 0.01 0zM547.5 175.5a2.25 2.25 0 1 0 0.01 0zM556.4 170.1a2.25 2.25 0 1 0 0.01 0zM557.7 170a2.25 2.25 0 1 0 0.01 0zM575.8 170.7a2.25 2.25 0 1 0 0.01 0zM564.3 169.1a2.25 2.25 0 1 0 0.01 0zM549 170.3a2.25 2.25 0 1 0 0.01 0zM576.1 171.7a2.25 2.25 0 1 0 0.01 0zM575.7 170.1a2.25 2.25 0 1 0 0.01 0zM554 169.9a2.25 2.25 0 1 0 0.01 0zM565.1 169a2.25 2.25 0 1 0 0.01 0zM562.7 169.5a2.25 2.25 0 1 0 0.01 0zM566.7 169a2.25 2.25 0 1 0 0.01 0zM573.9 170a2.25 2.25 0 1 0 0.01 0zM577.8 170.5a2.25 2.25 0 1 0 0.01 0zM549 170.3a2.25 2.25 0 1 0 0.01 0zM565 169a2.25 2.25 0 1 0 0.01 0zM566.1 168.9a2.25 2.25 0 1 0 0.01 0zM559.7 175.6a2.25 2.25 0 1 0 0.01 0zM560.4 175.6a2.25 2.25 0 1 0 0.01 0zM559.5 174.5a2.25 2.25 0 1 0 0.01 0zM560.5 174.5a2.25 2.25 0 1 0 0.01 0zM561.1 173.3a2.25 2.25 0 1 0 0.01 0zM560.3 173.3a2.25 2.25 0 1 0 0.01 0zM559.8 172.2a2.25 2.25 0 1 0 0.01 0zM562 172.2a2.25 2.25 0 1 0 0.01 0zM559.7 171.1a2.25 2.25 0 1 0 0.01 0zM562.2 171.1a2.25 2.25 0 1 0 0.01 0zM556.9 169.9a2.25 2.25 0 1 0 0.01 0zM559.5 169.9a2.25 2.25 0 1 0 0.01 0z" fill="#fcbb94"/>
<polygon points="581.8,140.8 581.8,127.5 583.3,127.6 584.8,127.9 586.4,128.4 587.9,129.1 589.4,129.7 590.9,130.1 592.5,130.3 594,130.1 595.5,129.8 597,129.4 598.6,129 600.1,128.8 601.6,128.7 603.1,128.7 604.6,128.7 606.2,128.6 607.7,128.3 609.2,127.9 610.7,127.5 612.3,127.1 613.8,127 615.3,127.2 616.8,127.6 618.4,128.1 619.9,128.7 621.4,129 621.4,140.8" fill="#a37563"/><path d="M583.1 136.3a2.25 2.25 0 1 0 0.01 0zM620.1 136.3a2.25 2.25 0 1 0 0.01 0zM617.2 126.7a2.25 2.25 0 1 0 0.01 0zM612.7 126.3a2.25 2.25 0 1 0 0.01 0zM608 126.6a2.25 2.25 0 1 0 0.01 0zM594 130.3a2.25 2.25 0 1 0 0.01 0zM614.1 127.3a2.25 2.25 0 1 0 0.01 0zM617.1 127.8a2.25 2.25 0 1 0 0.01 0zM586.8 129.1a2.25 2.25 0 1 0 0.01 0zM612.1 121.6a2.25 2.25 0 1 0 0.01 0zM598.4 127.5a2.25 2.25 0 1 0 0.01 0zM592.6 126.1a2.25 2.25 0 1 0 0.01 0zM608.5 128.4a2.25 2.25 0 1 0 0.01 0zM585.2 126.2a2.25 2.25 0 1 0 0.01 0zM584.6 124.8a2.25 2.25 0 1 0 0.01 0zM594 130.2a2.25 2.25 0 1 0 0.01 0zM604.6 128.6a2.25 2.25 0 1 0 0.01 0zM603.8 129a2.25 2.25 0 1 0 0.01 0zM616.8 127.4a2.25 2.25 0 1 0 0.01 0zM614.2 127.3a2.25 2.25 0 1 0 0.01 0zM612.7 119.7a2.25 2.25 0 1 0 0.01 0zM597.6 129.8a2.25 2.25 0 1 0 0.01 0zM597.2 127.9a2.25 2.25 0 1 0 0.01 0zM591.4 129.2a2.25 2.25 0 1 0 0.01 0zM586.6 127.9a2.25 2.25 0 1 0 0.01 0zM610 127.2a2.25 2.25 0 1 0 0.01 0zM608.2 128.6a2.25 2.25 0 1 0 0.01 0zM613.7 127.4a2.25 2.25 0 1 0 0.01 0zM617.3 117a2.25 2.25 0 1 0 0.01 0zM617.9 127.1a2.25 2.25 0 1 0 0.01 0zM593.9 129.9a2.25 2.25 0 1 0 0.01 0zM610.9 126.7a2.25 2.25 0 1 0 0.01 0zM617.5 128.3a2.25 2.25 0 1 0 0.01 0zM601 125.3a2.25 2.25 0 1 0 0.01 0zM605.2 127.7a2.25 2.25 0 1 0 0.01 0zM586.4 128.8a2.25 2.25 0 1 0 0.01 0zM593.1 126.3a2.25 2.25 0 1 0 0.01 0zM614.4 127.2a2.25 2.25 0 1 0 0.01 0zM617.3 128.3a2.25 2.25 0 1 0 0.01 0zM605.3 122.3a2.25 2.25 0 1 0 0.01 0zM595.8 124.4a2.25 2.25 0 1 0 0.01 0zM607.4 128.9a2.25 2.25 0 1 0 0.01 0zM595.4 129.2a2.25 2.25 0 1 0 0.01 0zM592.2 128.1a2.25 2.25 0 1 0 0.01 0zM589.7 127.3a2.25 2.25 0 1 0 0.01 0zM594.1 130.6a2.25 2.25 0 1 0 0.01 0zM603.8 129.2a2.25 2.25 0 1 0 0.01 0zM603.5 126.2a2.25 2.25 0 1 0 0.01 0zM605.1 128.1a2.25 2.25 0 1 0 0.01 0zM584.3 126.9a2.25 2.25 0 1 0 0.01 0zM586.7 127.1a2.25 2.25 0 1 0 0.01 0zM588 128a2.25 2.25 0 1 0 0.01 0zM596.2 129.3a2.25 2.25 0 1 0 0.01 0zM607.6 128.6a2.25 2.25 0 1 0 0.01 0zM589.4 124.5a2.25 2.25 0 1 0 0.01 0zM595.4 126.7a2.25 2.25 0 1 0 0.01 0zM615.4 126.5a2.25 2.25 0 1 0 0.01 0zM588.6 129.8a2.25 2.25 0 1 0 0.01 0zM615.6 127.6a2.25 2.25 0 1 0 0.01 0zM601.5 127.8a2.25 2.25 0 1 0 0.01 0zM587.4 128.2a2.25 2.25 0 1 0 0.01 0zM589.2 128.7a2.25 2.25 0 1 0 0.01 0zM600 118.9a2.25 2.25 0 1 0 0.01 0zM599.8 118.9a2.25 2.25 0 1 0 0.01 0zM599.1 120.8a2.25 2.25 0 1 0 0.01 0zM599.7 120.8a2.25 2.25 0 1 0 0.01 0zM598.5 122.7a2.25 2.25 0 1 0 0.01 0zM598.1 122.7a2.25 2.25 0 1 0 0.01 0zM598.2 124.5a2.25 2.25 0 1 0 0.01 0zM602.6 124.5a2.25 2.25 0 1 0 0.01 0zM600 126.4a2.25 2.25 0 1 0 0.01 0zM603.5 126.4a2.25 2.25 0 1 0 0.01 0zM611.4 117.7a2.25 2.25 0 1 0 0.01 0zM612.5 117.7a2.25 2.25 0 1 0 0.01 0zM612 119.6a2.25 2.25 0 1 0 0.01 0zM612.8 119.6a2.25 2.25 0 1 0 0.01 0zM612.3 121.4a2.25 2.25 0 1 0 0.01 0zM612.8 121.4a2.25 2.25 0 1 0 0.01 0zM610.3 123.3a2.25 2.25 0 1 0 0.01 0zM613.5 123.3a2.25 2.25 0 1 0 0.01 0zM609.3 125.2a2.25 2.25 0 1 0 0.01 0zM610.2 125.2a2.25 2.25 0 1 0 0.01 0z" fill="#a37563"/>
<polygon points="581.8,165.8 581.8,173.7 583.3,173.7 584.8,173.7 586.4,173.7 587.9,173.8 589.4,173.8 590.9,173.7 592.5,173.6 594,173.3 595.5,173.1 597,173 598.6,172.9 600.1,173.1 601.6,173.3 603.1,173.7 604.6,174.1 606.2,174.4 607.7,174.6 609.2,174.6 610.7,174.4 612.3,174 613.8,173.6 615.3,173.3 616.8,173 618.4,172.8 619.9,172.8 621.4,172.8 621.4,165.8" fill="#a37563"/><path d="M583.1 165.8a2.25 2.25 0 1 0 0.01 0zM620.1 165.8a2.25 2.25 0 1 0 0.01 0zM604.5 169.8a2.25 2.25 0 1 0 0.01 0zM605.1 171.6a2.25 2.25 0 1 0 0.01 0zM609.4 170.1a2.25 2.25 0 1 0 0.01 0zM592.2 170.2a2.25 2.25 0 1 0 0.01 0zM619.5 168.3a2.25 2.25 0 1 0 0.01 0zM606 171.3a2.25 2.25 0 1 0 0.01 0zM613.2 169.7a2.25 2.25 0 1 0 0.01 0zM613.1 170a2.25 2.25 0 1 0 0.01 0zM617.2 168.4a2.25 2.25 0 1 0 0.01 0zM617.9 169a2.25 2.25 0 1 0 0.01 0zM598.2 168.5a2.25 2.25 0 1 0 0.01 0zM592.2 170.7a2.25 2.25 0 1 0 0.01 0zM608.2 170.2a2.25 2.25 0 1 0 0.01 0zM595.8 168.7a2.25 2.25 0 1 0 0.01 0zM590.4 169.5a2.25 2.25 0 1 0 0.01 0zM595.3 173.3a2.25 2.25 0 1 0 0.01 0zM620 170.2a2.25 2.25 0 1 0 0.01 0zM600.8 169.5a2.25 2.25 0 1 0 0.01 0zM611.9 172.5a2.25 2.25 0 1 0 0.01 0zM610.9 171a2.25 2.25 0 1 0 0.01 0zM590.5 170.4a2.25 2.25 0 1 0 0.01 0zM614.4 170.9a2.25 2.25 0 1 0 0.01 0zM586.5 170.8a2.25 2.25 0 1 0 0.01 0zM596 168.7a2.25 2.25 0 1 0 0.01 0zM618.8 169.6a2.25 2.25 0 1 0 0.01 0zM610.7 170a2.25 2.25 0 1 0 0.01 0zM613.7 172.6a2.25 2.25 0 1 0 0.01 0zM616.6 170.2a2.25 2.25 0 1 0 0.01 0zM613.9 171.1a2.25 2.25 0 1 0 0.01 0zM604.9 170.3a2.25 2.25 0 1 0 0.01 0zM613.6 171a2.25 2.25 0 1 0 0.01 0zM615.3 169.1a2.25 2.25 0 1 0 0.01 0zM618.6 169.2a2.25 2.25 0 1 0 0.01 0zM618.1 168.4a2.25 2.25 0 1 0 0.01 0zM618.9 170.2a2.25 2.25 0 1 0 0.01 0zM592.4 171.3a2.25 2.25 0 1 0 0.01 0zM591.7 169.4a2.25 2.25 0 1 0 0.01 0zM600 168.9a2.25 2.25 0 1 0 0.01 0zM601.3 171.7a2.25 2.25 0 1 0 0.01 0zM608.5 171.6a2.25 2.25 0 1 0 0.01 0zM597.6 170.3a2.25 2.25 0 1 0 0.01 0zM612.5 170.9a2.25 2.25 0 1 0 0.01 0zM617.9 170.5a2.25 2.25 0 1 0 0.01 0zM598.1 168.5a2.25 2.25 0 1 0 0.01 0zM607.2 172.3a2.25 2.25 0 1 0 0.01 0zM595.7 169.7a2.25 2.25 0 1 0 0.01 0zM614 171a2.25 2.25 0 1 0 0.01 0zM583.3 169.9a2.25 2.25 0 1 0 0.01 0zM583.7 169.3a2.25 2.25 0 1 0 0.01 0zM613.2 169.9a2.25 2.25 0 1 0 0.01 0zM605.5 170.5a2.25 2.25 0 1 0 0.01 0zM595.5 168.9a2.25 2.25 0 1 0 0.01 0zM596.2 170.8a2.25 2.25 0 1 0 0.01 0zM606 170.3a2.25 2.25 0 1 0 0.01 0zM586.4 169.6a2.25 2.25 0 1 0 0.01 0zM609 170.8a2.25 2.25 0 1 0 0.01 0zM607.6 172.1a2.25 2.25 0 1 0 0.01 0zM587.6 170.7a2.25 2.25 0 1 0 0.01 0zM584.6 171.3a2.25 2.25 0 1 0 0.01 0zM589.9 169.6a2.25 2.25 0 1 0 0.01 0zM600.5 176a2.25 2.25 0 1 0 0.01 0zM599.8 176a2.25 2.25 0 1 0 0.01 0zM599.3 174.9a2.25 2.25 0 1 0 0.01 0zM601 174.9a2.25 2.25 0 1 0 0.01 0zM600.4 173.7a2.25 2.25 0 1 0 0.01 0zM601.5 173.7a2.25 2.25 0 1 0 0.01 0zM599.4 172.6a2.25 2.25 0 1 0 0.01 0zM600 172.6a2.25 2.25 0 1 0 0.01 0zM603 171.4a2.25 2.25 0 1 0 0.01 0zM600 171.4a2.25 2.25 0 1 0 0.01 0zM603.9 170.3a2.25 2.25 0 1 0 0.01 0zM597.5 170.3a2.25 2.25 0 1 0 0.01 0zM618.4 176.4a2.25 2.25 0 1 0 0.01 0zM617.6 176.4a2.25 2.25 0 1 0 0.01 0zM618 175.2a2.25 2.25 0 1 0 0.01 0zM617.1 175.2a2.25 2.25 0 1 0 0.01 0zM617.2 174.1a2.25 2.25 0 1 0 0.01 0zM619.1 174.1a2.25 2.25 0 1 0 0.01 0zM617.9 173a2.25 2.25 0 1 0 0.01 0zM619 173a2.25 2.25 0 1 0 0.01 0zM617 171.8a2.25 2.25 0 1 0 0.01 0zM617.4 171.8a2.25 2.25 0 1 0 0.01 0zM616.2 170.7a2.25 2.25 0 1 0 0.01 0zM618.2 170.7a2.25 2.25 0 1 0 0.01 0zM619.8 169.6a2.25 2.25 0 1 0 0.01 0zM618.1 169.6a2.25 2.25 0 1 0 0.01 0z" fill="#a37563"/>
<polygon points="621.4,140.8 621.4,132.2 623,132.1 624.5,132.3 626.1,132.7 627.6,133 629.2,132.9 630.7,132.3 632.3,131.7 633.9,131.2 635.4,131.2 637,131.4 638.5,131.6 640.1,131.5 641.7,131 643.2,130.3 644.8,129.9 646.3,130 647.9,130.3 649.4,130.7 651,130.8 651,140.8" fill="#fcbb94"/><path d="M622.7 136.3a2.25 2.25 0 1 0 0.01 0zM649.7 136.3a2.25 2.25 0 1 0 0.01 0zM634.7 125.3a2.25 2.25 0 1 0 0.01 0zM632.5 130.1a2.25 2.25 0 1 0 0.01 0zM639.8 131.2a2.25 2.25 0 1 0 0.01 0zM636.8 129.7a2.25 2.25 0 1 0 0.01 0zM647.2 129.4a2.25 2.25 0 1 0 0.01 0zM632.5 124.6a2.25 2.25 0 1 0 0.01 0zM624.2 129.2a2.25 2.25 0 1 0 0.01 0zM641.2 130.1a2.25 2.25 0 1 0 0.01 0zM634.8 128.9a2.25 2.25 0 1 0 0.01 0zM646.8 128a2.25 2.25 0 1 0 0.01 0zM642.9 131a2.25 2.25 0 1 0 0.01 0zM631.5 132.4a2.25 2.25 0 1 0 0.01 0zM648.4 126.6a2.25 2.25 0 1 0 0.01 0zM626.6 131.7a2.25 2.25 0 1 0 0.01 0zM638.3 132.1a2.25 2.25 0 1 0 0.01 0zM633.3 129.2a2.25 2.25 0 1 0 0.01 0zM640 131.5a2.25 2.25 0 1 0 0.01 0zM643.3 130.3a2.25 2.25 0 1 0 0.01 0zM637.4 131a2.25 2.25 0 1 0 0.01 0zM649.1 129.2a2.25 2.25 0 1 0 0.01 0zM644.4 128.3a2.25 2.25 0 1 0 0.01 0zM633 125.3a2.25 2.25 0 1 0 0.01 0zM641.9 129.1a2.25 2.25 0 1 0 0.01 0zM630.2 132.9a2.25 2.25 0 1 0 0.01 0zM638.2 128.7a2.25 2.25 0 1 0 0.01 0zM644.1 129.8a2.25 2.25 0 1 0 0.01 0zM626.5 132a2.25 2.25 0 1 0 0.01 0zM646.4 130.3a2.25 2.25 0 1 0 0.01 0zM642.6 130.8a2.25 2.25 0 1 0 0.01 0zM631.1 132.7a2.25 2.25 0 1 0 0.01 0zM630.7 132a2.25 2.25 0 1 0 0.01 0zM648.8 124.5a2.25 2.25 0 1 0 0.01 0zM627.7 132.9a2.25 2.25 0 1 0 0.01 0zM648.2 130.6a2.25 2.25 0 1 0 0.01 0zM631.4 131.6a2.25 2.25 0 1 0 0.01 0zM625.6 132.6a2.25 2.25 0 1 0 0.01 0zM633.3 131a2.25 2.25 0 1 0 0.01 0zM648.7 130.6a2.25 2.25 0 1 0 0.01 0zM628.2 128.7a2.25 2.25 0 1 0 0.01 0zM634.9 128.1a2.25 2.25 0 1 0 0.01 0zM639.9 129.1a2.25 2.25 0 1 0 0.01 0zM631.2 132.5a2.25 2.25 0 1 0 0.01 0zM643.1 129.7a2.25 2.25 0 1 0 0.01 0zM637.8 129.9a2.25 2.25 0 1 0 0.01 0zM644.3 121.4a2.25 2.25 0 1 0 0.01 0zM643.7 121.4a2.25 2.25 0 1 0 0.01 0zM643.6 123.3a2.25 2.25 0 1 0 0.01 0zM645.1 123.3a2.25 2.25 0 1 0 0.01 0zM644.1 125.2a2.25 2.25 0 1 0 0.01 0zM643.2 125.2a2.25 2.25 0 1 0 0.01 0zM644.7 127a2.25 2.25 0 1 0 0.01 0zM642.7 127a2.25 2.25 0 1 0 0.01 0zM645.8 128.9a2.25 2.25 0 1 0 0.01 0zM641 128.9a2.25 2.25 0 1 0 0.01 0zM647.9 117.7a2.25 2.25 0 1 0 0.01 0zM647.6 117.7a2.25 2.25 0 1 0 0.01 0zM647.3 119.6a2.25 2.25 0 1 0 0.01 0zM648.2 119.6a2.25 2.25 0 1 0 0.01 0zM647.1 121.4a2.25 2.25 0 1 0 0.01 0zM647 121.4a2.25 2.25 0 1 0 0.01 0zM646.6 123.3a2.25 2.25 0 1 0 0.01 0zM647.6 123.3a2.25 2.25 0 1 0 0.01 0zM648.1 125.2a2.25 2.25 0 1 0 0.01 0zM647.9 125.2a2.25 2.25 0 1 0 0.01 0zM647.3 127a2.25 2.25 0 1 0 0.01 0zM648.3 127a2.25 2.25 0 1 0 0.01 0zM646.3 128.9a2.25 2.25 0 1 0 0.01 0zM646.9 128.9a2.25 2.25 0 1 0 0.01 0zM649.6 109.6a2.25 2.25 0 1 0 0.01 0z" fill="#fcbb94"/>
<polygon points="621.4,165.8 621.4,175.7 623,176.1 624.5,176.6 626.1,176.9 627.6,177.1 629.2,177.1 630.7,177.1 632.3,177.2 633.9,177.4 635.4,177.7 637,177.8 638.5,177.8 640.1,177.6 641.7,177.2 643.2,176.7 644.8,176.4 646.3,176.3 647.9,176.4 649.4,176.6 651,176.7 651,165.8" fill="#fcbb94"/><path d="M622.7 165.8a2.25 2.25 0 1 0 0.01 0zM649.7 165.8a2.25 2.25 0 1 0 0.01 0zM648.1 173.5a2.25 2.25 0 1 0 0.01 0zM631.9 173.2a2.25 2.25 0 1 0 0.01 0zM644.4 172.4a2.25 2.25 0 1 0 0.01 0zM627.7 175.1a2.25 2.25 0 1 0 0.01 0zM637.1 174.2a2.25 2.25 0 1 0 0.01 0zM640.8 175.8a2.25 2.25 0 1 0 0.01 0zM626.3 172.9a2.25 2.25 0 1 0 0.01 0zM624.5 172.7a2.25 2.25 0 1 0 0.01 0zM636.3 175.6a2.25 2.25 0 1 0 0.01 0zM640.7 174a2.25 2.25 0 1 0 0.01 0zM633.6 173.9a2.25 2.25 0 1 0 0.01 0zM630.1 174.9a2.25 2.25 0 1 0 0.01 0zM644 174.3a2.25 2.25 0 1 0 0.01 0zM626.8 173.9a2.25 2.25 0 1 0 0.01 0zM643.1 173.1a2.25 2.25 0 1 0 0.01 0zM647 174.6a2.25 2.25 0 1 0 0.01 0zM642.8 174.5a2.25 2.25 0 1 0 0.01 0zM640.2 175.7a2.25 2.25 0 1 0 0.01 0zM626.2 173.9a2.25 2.25 0 1 0 0.01 0zM641.7 173.8a2.25 2.25 0 1 0 0.01 0zM630.1 172.6a2.25 2.25 0 1 0 0.01 0zM639 175.4a2.25 2.25 0 1 0 0.01 0zM630.1 172.9a2.25 2.25 0 1 0 0.01 0zM628.7 172.7a2.25 2.25 0 1 0 0.01 0zM640.9 177.4a2.25 2.25 0 1 0 0.01 0zM644.4 172.5a2.25 2.25 0 1 0 0.01 0zM641.6 172.7a2.25 2.25 0 1 0 0.01 0zM645.3 172.3a2.25 2.25 0 1 0 0.01 0zM622.8 172.8a2.25 2.25 0 1 0 0.01 0zM626.4 172.8a2.25 2.25 0 1 0 0.01 0zM624.3 172.7a2.25 2.25 0 1 0 0.01 0zM637.7 175.4a2.25 2.25 0 1 0 0.01 0zM623.8 174a2.25 2.25 0 1 0 0.01 0zM625.7 172.6a2.25 2.25 0 1 0 0.01 0zM639.7 173.7a2.25 2.25 0 1 0 0.01 0zM631.6 173.7a2.25 2.25 0 1 0 0.01 0zM628.6 174.5a2.25 2.25 0 1 0 0.01 0zM628.3 174.9a2.25 2.25 0 1 0 0.01 0zM644.5 172.8a2.25 2.25 0 1 0 0.01 0zM623.5 173.6a2.25 2.25 0 1 0 0.01 0zM623.5 172.6a2.25 2.25 0 1 0 0.01 0zM634.1 173a2.25 2.25 0 1 0 0.01 0zM639.7 174.7a2.25 2.25 0 1 0 0.01 0zM638.5 173.9a2.25 2.25 0 1 0 0.01 0zM632 180.2a2.25 2.25 0 1 0 0.01 0zM632.1 180.2a2.25 2.25 0 1 0 0.01 0zM631.4 179.1a2.25 2.25 0 1 0 0.01 0zM632.8 179.1a2.25 2.25 0 1 0 0.01 0zM633.5 177.9a2.25 2.25 0 1 0 0.01 0zM632.9 177.9a2.25 2.25 0 1 0 0.01 0zM633.8 176.8a2.25 2.25 0 1 0 0.01 0zM631.3 176.8a2.25 2.25 0 1 0 0.01 0zM634.4 175.6a2.25 2.25 0 1 0 0.01 0zM629.9 175.6a2.25 2.25 0 1 0 0.01 0zM631.9 174.5a2.25 2.25 0 1 0 0.01 0zM629.9 174.5a2.25 2.25 0 1 0 0.01 0zM631.7 173.3a2.25 2.25 0 1 0 0.01 0zM633.2 173.3a2.25 2.25 0 1 0 0.01 0zM636.2 182.1a2.25 2.25 0 1 0 0.01 0zM635.9 182.1a2.25 2.25 0 1 0 0.01 0zM635.7 180.9a2.25 2.25 0 1 0 0.01 0zM635.5 180.9a2.25 2.25 0 1 0 0.01 0zM635.8 179.8a2.25 2.25 0 1 0 0.01 0zM635.6 179.8a2.25 2.25 0 1 0 0.01 0zM635.3 178.7a2.25 2.25 0 1 0 0.01 0zM636.5 178.7a2.25 2.25 0 1 0 0.01 0zM636 177.5a2.25 2.25 0 1 0 0.01 0zM635.8 177.5a2.25 2.25 0 1 0 0.01 0zM635.1 176.4a2.25 2.25 0 1 0 0.01 0zM636.6 176.4a2.25 2.25 0 1 0 0.01 0zM635 175.2a2.25 2.25 0 1 0 0.01 0zM635.2 175.2a2.25 2.25 0 1 0 0.01 0zM636.2 174.1a2.25 2.25 0 1 0 0.01 0zM636.8 174.1a2.25 2.25 0 1 0 0.01 0zM638 173a2.25 2.25 0 1 0 0.01 0zM637 173a2.25 2.25 0 1 0 0.01 0z" fill="#fcbb94"/>
<polygon points="651,140.8 651,128.2 652.5,128.5 654,128.7 655.5,128.7 657,128.6 658.5,128.3 660,127.9 661.5,127.7 663,127.6 664.5,127.7 666,128.1 667.5,128.5 669,128.8 670.5,128.9 672,128.8 673.5,128.5 675,128.1 675,140.8" fill="#a37563"/><path d="M652.3 136.3a2.25 2.25 0 1 0 0.01 0zM673.7 136.3a2.25 2.25 0 1 0 0.01 0zM652.6 125.1a2.25 2.25 0 1 0 0.01 0zM667.7 127.1a2.25 2.25 0 1 0 0.01 0zM657.9 128.2a2.25 2.25 0 1 0 0.01 0zM655.8 127.3a2.25 2.25 0 1 0 0.01 0zM673.5 128.4a2.25 2.25 0 1 0 0.01 0zM653.2 128.9a2.25 2.25 0 1 0 0.01 0zM659.9 123.9a2.25 2.25 0 1 0 0.01 0zM669.5 128.3a2.25 2.25 0 1 0 0.01 0zM654.5 129.1a2.25 2.25 0 1 0 0.01 0zM655.6 126.3a2.25 2.25 0 1 0 0.01 0zM662.4 118.7a2.25 2.25 0 1 0 0.01 0zM671.8 126.2a2.25 2.25 0 1 0 0.01 0zM662.5 124.7a2.25 2.25 0 1 0 0.01 0zM655 129.2a2.25 2.25 0 1 0 0.01 0zM664.4 126.9a2.25 2.25 0 1 0 0.01 0zM656.8 128.7a2.25 2.25 0 1 0 0.01 0zM652.7 124.3a2.25 2.25 0 1 0 0.01 0zM667.5 123.2a2.25 2.25 0 1 0 0.01 0zM673.3 128a2.25 2.25 0 1 0 0.01 0zM668 128.2a2.25 2.25 0 1 0 0.01 0zM669.7 125.7a2.25 2.25 0 1 0 0.01 0zM655.2 129.4a2.25 2.25 0 1 0 0.01 0zM656.9 127.5a2.25 2.25 0 1 0 0.01 0zM660.4 128.5a2.25 2.25 0 1 0 0.01 0zM670.1 126.4a2.25 2.25 0 1 0 0.01 0zM662.2 128.2a2.25 2.25 0 1 0 0.01 0zM671.3 128a2.25 2.25 0 1 0 0.01 0zM653.8 128.5a2.25 2.25 0 1 0 0.01 0zM665.7 124.2a2.25 2.25 0 1 0 0.01 0zM662.7 126.2a2.25 2.25 0 1 0 0.01 0zM656.7 128.7a2.25 2.25 0 1 0 0.01 0zM671.7 128.5a2.25 2.25 0 1 0 0.01 0zM654.5 127.5a2.25 2.25 0 1 0 0.01 0zM655 128.9a2.25 2.25 0 1 0 0.01 0zM662.1 126.5a2.25 2.25 0 1 0 0.01 0zM670.2 115.8a2.25 2.25 0 1 0 0.01 0zM670.2 115.8a2.25 2.25 0 1 0 0.01 0zM669.9 117.7a2.25 2.25 0 1 0 0.01 0zM669.3 117.7a2.25 2.25 0 1 0 0.01 0zM670.5 119.6a2.25 2.25 0 1 0 0.01 0zM669 119.6a2.25 2.25 0 1 0 0.01 0zM669.9 121.4a2.25 2.25 0 1 0 0.01 0zM669.7 121.4a2.25 2.25 0 1 0 0.01 0zM670.5 123.3a2.25 2.25 0 1 0 0.01 0zM670.7 123.3a2.25 2.25 0 1 0 0.01 0zM669 125.2a2.25 2.25 0 1 0 0.01 0zM670.5 125.2a2.25 2.25 0 1 0 0.01 0zM670.8 127a2.25 2.25 0 1 0 0.01 0zM669.9 127a2.25 2.25 0 1 0 0.01 0zM667.6 117.7a2.25 2.25 0 1 0 0.01 0zM668.5 117.7a2.25 2.25 0 1 0 0.01 0zM668.2 119.6a2.25 2.25 0 1 0 0.01 0zM667.1 119.6a2.25 2.25 0 1 0 0.01 0zM667.3 121.4a2.25 2.25 0 1 0 0.01 0zM669.3 121.4a2.25 2.25 0 1 0 0.01 0zM667 123.3a2.25 2.25 0 1 0 0.01 0zM667.6 123.3a2.25 2.25 0 1 0 0.01 0zM669.2 125.2a2.25 2.25 0 1 0 0.01 0zM669.4 125.2a2.25 2.25 0 1 0 0.01 0zM668.7 127a2.25 2.25 0 1 0 0.01 0zM669.2 127a2.25 2.25 0 1 0 0.01 0zM672 107.7a2.25 2.25 0 1 0 0.01 0z" fill="#a37563"/>
<polygon points="651,165.8 651,176.4 652.5,176.7 654,176.8 655.5,176.9 657,176.8 658.5,176.6 660,176.4 661.5,176.1 663,175.9 664.5,175.8 666,175.7 667.5,175.7 669,175.8 670.5,175.7 672,175.6 673.5,175.4 675,175.1 675,165.8" fill="#a37563"/><path d="M652.3 165.8a2.25 2.25 0 1 0 0.01 0zM673.7 165.8a2.25 2.25 0 1 0 0.01 0zM657.4 175.5a2.25 2.25 0 1 0 0.01 0zM657 173.6a2.25 2.25 0 1 0 0.01 0zM672.2 172.3a2.25 2.25 0 1 0 0.01 0zM672 171.5a2.25 2.25 0 1 0 0.01 0zM655.6 172.3a2.25 2.25 0 1 0 0.01 0zM668.5 171.4a2.25 2.25 0 1 0 0.01 0zM673.1 172.5a2.25 2.25 0 1 0 0.01 0zM656.3 174.3a2.25 2.25 0 1 0 0.01 0zM655.8 173.2a2.25 2.25 0 1 0 0.01 0zM654.6 174.2a2.25 2.25 0 1 0 0.01 0zM671.3 174.3a2.25 2.25 0 1 0 0.01 0zM652.3 174.5a2.25 2.25 0 1 0 0.01 0zM664.2 173.4a2.25 2.25 0 1 0 0.01 0zM663 172.6a2.25 2.25 0 1 0 0.01 0zM665 173.2a2.25 2.25 0 1 0 0.01 0zM654 172.3a2.25 2.25 0 1 0 0.01 0zM664 171.7a2.25 2.25 0 1 0 0.01 0zM660.8 171.7a2.25 2.25 0 1 0 0.01 0zM668.2 171.2a2.25 2.25 0 1 0 0.01 0zM670 173.3a2.25 2.25 0 1 0 0.01 0zM662.1 171.6a2.25 2.25 0 1 0 0.01 0zM666.2 171.5a2.25 2.25 0 1 0 0.01 0zM661.5 171.7a2.25 2.25 0 1 0 0.01 0zM673.2 171.9a2.25 2.25 0 1 0 0.01 0zM659.8 172a2.25 2.25 0 1 0 0.01 0zM667.9 173.6a2.25 2.25 0 1 0 0.01 0zM670.4 171.3a2.25 2.25 0 1 0 0.01 0zM660.2 172.2a2.25 2.25 0 1 0 0.01 0zM668.6 171.4a2.25 2.25 0 1 0 0.01 0zM665.3 176a2.25 2.25 0 1 0 0.01 0zM668.7 171.2a2.25 2.25 0 1 0 0.01 0zM653.9 172.4a2.25 2.25 0 1 0 0.01 0zM667.1 172.3a2.25 2.25 0 1 0 0.01 0zM663.4 172.1a2.25 2.25 0 1 0 0.01 0zM661 172.8a2.25 2.25 0 1 0 0.01 0zM660.2 177.2a2.25 2.25 0 1 0 0.01 0zM660.5 177.2a2.25 2.25 0 1 0 0.01 0zM660.6 176a2.25 2.25 0 1 0 0.01 0zM660.7 176a2.25 2.25 0 1 0 0.01 0zM661.6 174.9a2.25 2.25 0 1 0 0.01 0zM661.3 174.9a2.25 2.25 0 1 0 0.01 0zM661.1 173.7a2.25 2.25 0 1 0 0.01 0zM657.6 173.7a2.25 2.25 0 1 0 0.01 0zM661.2 172.6a2.25 2.25 0 1 0 0.01 0zM662.3 172.6a2.25 2.25 0 1 0 0.01 0zM669.9 177.9a2.25 2.25 0 1 0 0.01 0zM670.4 177.9a2.25 2.25 0 1 0 0.01 0zM669.4 176.8a2.25 2.25 0 1 0 0.01 0zM670.9 176.8a2.25 2.25 0 1 0 0.01 0zM669.8 175.6a2.25 2.25 0 1 0 0.01 0zM670.6 175.6a2.25 2.25 0 1 0 0.01 0zM669.1 174.5a2.25 2.25 0 1 0 0.01 0zM669.3 174.5a2.25 2.25 0 1 0 0.01 0zM669.3 173.3a2.25 2.25 0 1 0 0.01 0zM669.2 173.3a2.25 2.25 0 1 0 0.01 0zM667.9 172.2a2.25 2.25 0 1 0 0.01 0zM669.7 172.2a2.25 2.25 0 1 0 0.01 0z" fill="#a37563"/>
<polygon points="675,140.8 675,127.9 676.6,127.4 678.2,127.5 679.7,128.2 681.3,129.2 682.9,129.9 684.5,130 686,129.8 687.6,130.1 689.2,130.8 690.8,131.4 692.4,131.3 693.9,130.7 695.5,130 697.1,129.9 698.7,130.2 700.2,130.4 701.8,130.1 703.4,129.5 703.4,140.8" fill="#fcbb94"/><path d="M676.3 136.3a2.25 2.25 0 1 0 0.01 0zM702.1 136.3a2.25 2.25 0 1 0 0.01 0zM695.7 129.9a2.25 2.25 0 1 0 0.01 0zM682.7 129.4a2.25 2.25 0 1 0 0.01 0zM676.8 127.5a2.25 2.25 0 1 0 0.01 0zM699.2 125.7a2.25 2.25 0 1 0 0.01 0zM684.8 127.6a2.25 2.25 0 1 0 0.01 0zM696.3 126a2.25 2.25 0 1 0 0.01 0zM696.8 128.9a2.25 2.25 0 1 0 0.01 0zM679 124.8a2.25 2.25 0 1 0 0.01 0zM684.4 128.6a2.25 2.25 0 1 0 0.01 0zM685.8 128.9a2.25 2.25 0 1 0 0.01 0zM701.2 130.6a2.25 2.25 0 1 0 0.01 0zM690 129.7a2.25 2.25 0 1 0 0.01 0zM690.2 126.2a2.25 2.25 0 1 0 0.01 0zM686.8 125.5a2.25 2.25 0 1 0 0.01 0zM694.1 124.2a2.25 2.25 0 1 0 0.01 0zM678.6 127.8a2.25 2.25 0 1 0 0.01 0zM683.7 125.8a2.25 2.25 0 1 0 0.01 0zM676.6 127.5a2.25 2.25 0 1 0 0.01 0zM694.8 121.5a2.25 2.25 0 1 0 0.01 0zM680.8 128.4a2.25 2.25 0 1 0 0.01 0zM694 128.9a2.25 2.25 0 1 0 0.01 0zM695.5 127.8a2.25 2.25 0 1 0 0.01 0zM682.7 129.9a2.25 2.25 0 1 0 0.01 0zM677 125.6a2.25 2.25 0 1 0 0.01 0zM681.7 129.5a2.25 2.25 0 1 0 0.01 0zM701.2 128.8a2.25 2.25 0 1 0 0.01 0zM691.5 129.9a2.25 2.25 0 1 0 0.01 0zM691.7 129.7a2.25 2.25 0 1 0 0.01 0zM684.1 130.5a2.25 2.25 0 1 0 0.01 0zM678 128a2.25 2.25 0 1 0 0.01 0zM685.6 130.2a2.25 2.25 0 1 0 0.01 0zM679.2 127.1a2.25 2.25 0 1 0 0.01 0zM701.3 128.5a2.25 2.25 0 1 0 0.01 0zM683.4 127.6a2.25 2.25 0 1 0 0.01 0zM680.9 129.4a2.25 2.25 0 1 0 0.01 0zM684.1 129.6a2.25 2.25 0 1 0 0.01 0zM694.1 130a2.25 2.25 0 1 0 0.01 0zM695.1 130.6a2.25 2.25 0 1 0 0.01 0zM700.3 130.2a2.25 2.25 0 1 0 0.01 0zM697.8 130.6a2.25 2.25 0 1 0 0.01 0zM697.7 130.1a2.25 2.25 0 1 0 0.01 0zM698.4 127.4a2.25 2.25 0 1 0 0.01 0zM681.2 112.7a2.25 2.25 0 1 0 0.01 0zM680.7 112.7a2.25 2.25 0 1 0 0.01 0zM680.2 114.6a2.25 2.25 0 1 0 0.01 0zM680.5 114.6a2.25 2.25 0 1 0 0.01 0zM681.8 116.4a2.25 2.25 0 1 0 0.01 0zM680.3 116.4a2.25 2.25 0 1 0 0.01 0zM681.4 118.3a2.25 2.25 0 1 0 0.01 0zM681.2 118.3a2.25 2.25 0 1 0 0.01 0zM681.4 120.2a2.25 2.25 0 1 0 0.01 0zM680.2 120.2a2.25 2.25 0 1 0 0.01 0zM679.9 122a2.25 2.25 0 1 0 0.01 0zM679.8 122a2.25 2.25 0 1 0 0.01 0zM682.6 123.9a2.25 2.25 0 1 0 0.01 0zM680.6 123.9a2.25 2.25 0 1 0 0.01 0zM681.6 125.8a2.25 2.25 0 1 0 0.01 0zM681.3 125.8a2.25 2.25 0 1 0 0.01 0zM679.9 127.6a2.25 2.25 0 1 0 0.01 0zM679.2 127.6a2.25 2.25 0 1 0 0.01 0zM689.4 118.9a2.25 2.25 0 1 0 0.01 0zM690.4 118.9a2.25 2.25 0 1 0 0.01 0zM689.1 120.8a2.25 2.25 0 1 0 0.01 0zM691.1 120.8a2.25 2.25 0 1 0 0.01 0zM689.5 122.7a2.25 2.25 0 1 0 0.01 0zM690.8 122.7a2.25 2.25 0 1 0 0.01 0zM688.3 124.5a2.25 2.25 0 1 0 0.01 0zM691.3 124.5a2.25 2.25 0 1 0 0.01 0zM688.5 126.4a2.25 2.25 0 1 0 0.01 0zM689.2 126.4a2.25 2.25 0 1 0 0.01 0zM690.2 128.3a2.25 2.25 0 1 0 0.01 0zM687.3 128.3a2.25 2.25 0 1 0 0.01 0zM681.3 107.1a2.25 2.25 0 1 0 0.01 0z" fill="#fcbb94"/>
<polygon points="675,165.8 675,174.1 676.6,173.7 678.2,173.2 679.7,172.8 681.3,172.4 682.9,172.3 684.5,172.4 686,172.5 687.6,172.7 689.2,172.8 690.8,172.9 692.4,172.9 693.9,172.9 695.5,172.9 697.1,173.1 698.7,173.4 700.2,173.7 701.8,173.9 703.4,173.9 703.4,165.8" fill="#fcbb94"/><path d="M676.3 165.8a2.25 2.25 0 1 0 0.01 0zM702.1 165.8a2.25 2.25 0 1 0 0.01 0zM681.3 168.2a2.25 2.25 0 1 0 0.01 0zM686.2 168.6a2.25 2.25 0 1 0 0.01 0zM692.8 169.1a2.25 2.25 0 1 0 0.01 0zM698.7 168.9a2.25 2.25 0 1 0 0.01 0zM693.4 170.6a2.25 2.25 0 1 0 0.01 0zM682.4 167.8a2.25 2.25 0 1 0 0.01 0zM687.6 168.3a2.25 2.25 0 1 0 0.01 0zM688.2 169.8a2.25 2.25 0 1 0 0.01 0zM678.7 168.7a2.25 2.25 0 1 0 0.01 0zM688.7 168.5a2.25 2.25 0 1 0 0.01 0zM682.2 168.5a2.25 2.25 0 1 0 0.01 0zM679.3 168.4a2.25 2.25 0 1 0 0.01 0zM685.6 168.7a2.25 2.25 0 1 0 0.01 0zM700.5 170.2a2.25 2.25 0 1 0 0.01 0zM678.1 169a2.25 2.25 0 1 0 0.01 0zM695.5 169.4a2.25 2.25 0 1 0 0.01 0zM698.7 173a2.25 2.25 0 1 0 0.01 0zM698.4 169a2.25 2.25 0 1 0 0.01 0zM700.6 170.1a2.25 2.25 0 1 0 0.01 0zM682.5 168a2.25 2.25 0 1 0 0.01 0zM698.6 169.1a2.25 2.25 0 1 0 0.01 0zM678.4 169a2.25 2.25 0 1 0 0.01 0zM700.1 169.9a2.25 2.25 0 1 0 0.01 0zM695.2 168.5a2.25 2.25 0 1 0 0.01 0zM688 168.7a2.25 2.25 0 1 0 0.01 0zM681.6 169.2a2.25 2.25 0 1 0 0.01 0zM685.6 168.1a2.25 2.25 0 1 0 0.01 0zM701.7 170.2a2.25 2.25 0 1 0 0.01 0zM680.9 168a2.25 2.25 0 1 0 0.01 0zM693.1 169.2a2.25 2.25 0 1 0 0.01 0zM676.9 169.8a2.25 2.25 0 1 0 0.01 0zM695.4 169.3a2.25 2.25 0 1 0 0.01 0zM682.3 168.6a2.25 2.25 0 1 0 0.01 0zM691.9 169.7a2.25 2.25 0 1 0 0.01 0zM680 170.2a2.25 2.25 0 1 0 0.01 0zM700.7 170.9a2.25 2.25 0 1 0 0.01 0zM698.4 169.4a2.25 2.25 0 1 0 0.01 0zM699.6 169.3a2.25 2.25 0 1 0 0.01 0zM682.1 168.9a2.25 2.25 0 1 0 0.01 0zM699.6 169.1a2.25 2.25 0 1 0 0.01 0zM681.9 167.9a2.25 2.25 0 1 0 0.01 0zM687.6 168.4a2.25 2.25 0 1 0 0.01 0zM694.6 177.2a2.25 2.25 0 1 0 0.01 0zM695.3 177.2a2.25 2.25 0 1 0 0.01 0zM695.1 176a2.25 2.25 0 1 0 0.01 0zM695.8 176a2.25 2.25 0 1 0 0.01 0zM694.8 174.9a2.25 2.25 0 1 0 0.01 0zM695.4 174.9a2.25 2.25 0 1 0 0.01 0zM693.5 173.7a2.25 2.25 0 1 0 0.01 0zM696.4 173.7a2.25 2.25 0 1 0 0.01 0zM694 172.6a2.25 2.25 0 1 0 0.01 0zM694.9 172.6a2.25 2.25 0 1 0 0.01 0zM695 171.4a2.25 2.25 0 1 0 0.01 0zM697 171.4a2.25 2.25 0 1 0 0.01 0zM695 170.3a2.25 2.25 0 1 0 0.01 0zM697.5 170.3a2.25 2.25 0 1 0 0.01 0z" fill="#fcbb94"/>
<polygon points="703.4,140.8 703.4,127 705,126.5 706.5,126.2 708.1,126.4 709.6,127 711.2,127.8 712.7,128.5 714.3,129 715.8,128.9 717.4,128.6 718.9,128.3 720.5,128.1 722,128.1 723.6,128.2 725.1,128.2 726.7,128.1 728.2,127.7 729.8,127.2 729.8,140.8" fill="#a37563"/><path d="M704.7 136.3a2.25 2.25 0 1 0 0.01 0zM728.5 136.3a2.25 2.25 0 1 0 0.01 0zM710.1 121.2a2.25 2.25 0 1 0 0.01 0zM712.4 128a2.25 2.25 0 1 0 0.01 0zM712.9 127a2.25 2.25 0 1 0 0.01 0zM705.2 126.1a2.25 2.25 0 1 0 0.01 0zM708.6 123.6a2.25 2.25 0 1 0 0.01 0zM704.7 125.3a2.25 2.25 0 1 0 0.01 0zM710.8 127a2.25 2.25 0 1 0 0.01 0zM718.1 126.6a2.25 2.25 0 1 0 0.01 0zM708 126.5a2.25 2.25 0 1 0 0.01 0zM707.6 120.3a2.25 2.25 0 1 0 0.01 0zM708.2 126.8a2.25 2.25 0 1 0 0.01 0zM717.1 127.6a2.25 2.25 0 1 0 0.01 0zM725.8 128.7a2.25 2.25 0 1 0 0.01 0zM710.3 127.6a2.25 2.25 0 1 0 0.01 0zM718.6 127.7a2.25 2.25 0 1 0 0.01 0zM714.4 125.1a2.25 2.25 0 1 0 0.01 0zM720.4 124.7a2.25 2.25 0 1 0 0.01 0zM727.5 127.9a2.25 2.25 0 1 0 0.01 0zM727.1 127.5a2.25 2.25 0 1 0 0.01 0zM705.9 121.9a2.25 2.25 0 1 0 0.01 0zM707.2 126.9a2.25 2.25 0 1 0 0.01 0zM711.6 128a2.25 2.25 0 1 0 0.01 0zM727.7 124.3a2.25 2.25 0 1 0 0.01 0zM714.7 128.1a2.25 2.25 0 1 0 0.01 0zM724.9 125.5a2.25 2.25 0 1 0 0.01 0zM720.2 127.2a2.25 2.25 0 1 0 0.01 0zM707.5 126.4a2.25 2.25 0 1 0 0.01 0zM720.4 126.9a2.25 2.25 0 1 0 0.01 0zM723.8 124.2a2.25 2.25 0 1 0 0.01 0zM727.6 128.1a2.25 2.25 0 1 0 0.01 0zM706.5 122.2a2.25 2.25 0 1 0 0.01 0zM718.3 128.7a2.25 2.25 0 1 0 0.01 0zM721.2 128.1a2.25 2.25 0 1 0 0.01 0zM710.3 127.1a2.25 2.25 0 1 0 0.01 0zM717.2 127a2.25 2.25 0 1 0 0.01 0zM706.4 124.1a2.25 2.25 0 1 0 0.01 0zM719.6 127.5a2.25 2.25 0 1 0 0.01 0zM720.7 125.4a2.25 2.25 0 1 0 0.01 0zM704.9 125.8a2.25 2.25 0 1 0 0.01 0zM728 113.3a2.25 2.25 0 1 0 0.01 0zM728 113.3a2.25 2.25 0 1 0 0.01 0zM728 115.2a2.25 2.25 0 1 0 0.01 0zM727.3 115.2a2.25 2.25 0 1 0 0.01 0zM728.5 117.1a2.25 2.25 0 1 0 0.01 0zM728.4 117.1a2.25 2.25 0 1 0 0.01 0zM727.2 118.9a2.25 2.25 0 1 0 0.01 0zM727.6 118.9a2.25 2.25 0 1 0 0.01 0zM728.5 120.8a2.25 2.25 0 1 0 0.01 0zM727 120.8a2.25 2.25 0 1 0 0.01 0zM727.5 122.7a2.25 2.25 0 1 0 0.01 0zM728.5 122.7a2.25 2.25 0 1 0 0.01 0zM728.5 124.5a2.25 2.25 0 1 0 0.01 0zM726.9 124.5a2.25 2.25 0 1 0 0.01 0zM728.5 126.4a2.25 2.25 0 1 0 0.01 0zM727.3 126.4a2.25 2.25 0 1 0 0.01 0zM720.2 117.7a2.25 2.25 0 1 0 0.01 0zM720.3 117.7a2.25 2.25 0 1 0 0.01 0zM719.3 119.6a2.25 2.25 0 1 0 0.01 0zM719.5 119.6a2.25 2.25 0 1 0 0.01 0zM719.2 121.4a2.25 2.25 0 1 0 0.01 0zM719.4 121.4a2.25 2.25 0 1 0 0.01 0zM718.4 123.3a2.25 2.25 0 1 0 0.01 0zM718.8 123.3a2.25 2.25 0 1 0 0.01 0zM719.6 125.2a2.25 2.25 0 1 0 0.01 0zM719.7 125.2a2.25 2.25 0 1 0 0.01 0zM718 127a2.25 2.25 0 1 0 0.01 0zM720.4 127a2.25 2.25 0 1 0 0.01 0z" fill="#a37563"/>
<polygon points="703.4,165.8 703.4,176.8 705,176.4 706.5,176 708.1,175.6 709.6,175.4 711.2,175.3 712.7,175.3 714.3,175.4 715.8,175.3 717.4,175.2 718.9,175 720.5,174.8 722,174.6 723.6,174.6 725.1,174.7 726.7,175 728.2,175.3 729.8,175.6 729.8,165.8" fill="#a37563"/><path d="M704.7 165.8a2.25 2.25 0 1 0 0.01 0zM728.5 165.8a2.25 2.25 0 1 0 0.01 0zM716.2 170.8a2.25 2.25 0 1 0 0.01 0zM720.8 170.4a2.25 2.25 0 1 0 0.01 0zM713.5 174.9a2.25 2.25 0 1 0 0.01 0zM722.9 172.3a2.25 2.25 0 1 0 0.01 0zM720 171.5a2.25 2.25 0 1 0 0.01 0zM721.5 174.4a2.25 2.25 0 1 0 0.01 0zM709.4 172.7a2.25 2.25 0 1 0 0.01 0zM711.9 171.2a2.25 2.25 0 1 0 0.01 0zM724.2 171.2a2.25 2.25 0 1 0 0.01 0zM724.9 172.8a2.25 2.25 0 1 0 0.01 0zM718.7 170.7a2.25 2.25 0 1 0 0.01 0zM705.1 172.8a2.25 2.25 0 1 0 0.01 0zM722 170.5a2.25 2.25 0 1 0 0.01 0zM706.4 171.5a2.25 2.25 0 1 0 0.01 0zM708.8 172.5a2.25 2.25 0 1 0 0.01 0zM704.8 172.2a2.25 2.25 0 1 0 0.01 0zM711 172.3a2.25 2.25 0 1 0 0.01 0zM728.2 170.8a2.25 2.25 0 1 0 0.01 0zM707.4 174.6a2.25 2.25 0 1 0 0.01 0zM727.8 170.9a2.25 2.25 0 1 0 0.01 0zM712.7 171.7a2.25 2.25 0 1 0 0.01 0zM712.3 171.5a2.25 2.25 0 1 0 0.01 0zM716.1 171.1a2.25 2.25 0 1 0 0.01 0zM706 171.7a2.25 2.25 0 1 0 0.01 0zM708.6 171.1a2.25 2.25 0 1 0 0.01 0zM719.5 171.8a2.25 2.25 0 1 0 0.01 0zM711 172.8a2.25 2.25 0 1 0 0.01 0zM722 170.6a2.25 2.25 0 1 0 0.01 0zM716.4 171a2.25 2.25 0 1 0 0.01 0zM726.8 171.5a2.25 2.25 0 1 0 0.01 0zM705.9 171.8a2.25 2.25 0 1 0 0.01 0zM721.2 170.7a2.25 2.25 0 1 0 0.01 0zM721.8 170.4a2.25 2.25 0 1 0 0.01 0zM723.7 172.1a2.25 2.25 0 1 0 0.01 0zM706.9 172.4a2.25 2.25 0 1 0 0.01 0zM709.2 172.5a2.25 2.25 0 1 0 0.01 0zM723.8 172a2.25 2.25 0 1 0 0.01 0zM710.2 170.9a2.25 2.25 0 1 0 0.01 0zM720.5 171.3a2.25 2.25 0 1 0 0.01 0zM711.6 176.8a2.25 2.25 0 1 0 0.01 0zM711.6 176.8a2.25 2.25 0 1 0 0.01 0zM712.2 175.6a2.25 2.25 0 1 0 0.01 0zM711 175.6a2.25 2.25 0 1 0 0.01 0zM712.5 174.5a2.25 2.25 0 1 0 0.01 0zM710.9 174.5a2.25 2.25 0 1 0 0.01 0zM710.7 173.3a2.25 2.25 0 1 0 0.01 0zM711.6 173.3a2.25 2.25 0 1 0 0.01 0zM712.2 172.2a2.25 2.25 0 1 0 0.01 0zM713.6 172.2a2.25 2.25 0 1 0 0.01 0zM721.4 177.2a2.25 2.25 0 1 0 0.01 0zM722.3 177.2a2.25 2.25 0 1 0 0.01 0zM721.4 176a2.25 2.25 0 1 0 0.01 0zM721.6 176a2.25 2.25 0 1 0 0.01 0zM722.4 174.9a2.25 2.25 0 1 0 0.01 0zM722.6 174.9a2.25 2.25 0 1 0 0.01 0zM722.4 173.7a2.25 2.25 0 1 0 0.01 0zM723.5 173.7a2.25 2.25 0 1 0 0.01 0zM720.6 172.6a2.25 2.25 0 1 0 0.01 0zM721.1 172.6a2.25 2.25 0 1 0 0.01 0z" fill="#a37563"/>
<polygon points="729.8,140.8 729.8,129.7 731.3,130 732.9,130.1 734.4,129.6 736,128.8 737.5,128.2 739.1,128.2 740.6,128.6 742.2,129 743.7,129.1 745.3,128.8 746.8,128.7 748.4,128.9 749.9,129.7 751.5,130.4 753,130.8 754.6,130.5 756.1,129.9 757.7,129.6 759.2,129.6 759.2,140.8" fill="#fcbb94"/><path d="M731.1 136.3a2.25 2.25 0 1 0 0.01 0zM757.9 136.3a2.25 2.25 0 1 0 0.01 0zM750.3 124a2.25 2.25 0 1 0 0.01 0zM752.4 130.6a2.25 2.25 0 1 0 0.01 0zM739.5 126.3a2.25 2.25 0 1 0 0.01 0zM732.6 128.8a2.25 2.25 0 1 0 0.01 0zM733.5 130.5a2.25 2.25 0 1 0 0.01 0zM744.9 129.2a2.25 2.25 0 1 0 0.01 0zM756.1 126.3a2.25 2.25 0 1 0 0.01 0zM743.5 129.3a2.25 2.25 0 1 0 0.01 0zM734.3 128.8a2.25 2.25 0 1 0 0.01 0zM745.1 128.6a2.25 2.25 0 1 0 0.01 0zM750.3 129a2.25 2.25 0 1 0 0.01 0zM751.9 131a2.25 2.25 0 1 0 0.01 0zM733 129.7a2.25 2.25 0 1 0 0.01 0zM744.1 129.1a2.25 2.25 0 1 0 0.01 0zM749 129.4a2.25 2.25 0 1 0 0.01 0zM739.6 127.6a2.25 2.25 0 1 0 0.01 0zM750.2 127.5a2.25 2.25 0 1 0 0.01 0zM741.1 128.2a2.25 2.25 0 1 0 0.01 0zM756 125.1a2.25 2.25 0 1 0 0.01 0zM747.7 129.2a2.25 2.25 0 1 0 0.01 0zM743.3 127.7a2.25 2.25 0 1 0 0.01 0zM738.6 128.7a2.25 2.25 0 1 0 0.01 0zM757.4 125.3a2.25 2.25 0 1 0 0.01 0zM734.6 128.9a2.25 2.25 0 1 0 0.01 0zM747.7 128.7a2.25 2.25 0 1 0 0.01 0zM732.9 127.9a2.25 2.25 0 1 0 0.01 0zM751.8 130a2.25 2.25 0 1 0 0.01 0zM733.4 129.6a2.25 2.25 0 1 0 0.01 0zM733.6 123.8a2.25 2.25 0 1 0 0.01 0zM732.5 130.1a2.25 2.25 0 1 0 0.01 0zM751.7 130.9a2.25 2.25 0 1 0 0.01 0zM734 130.3a2.25 2.25 0 1 0 0.01 0zM735.5 128.1a2.25 2.25 0 1 0 0.01 0zM753.4 131a2.25 2.25 0 1 0 0.01 0zM735.7 126.6a2.25 2.25 0 1 0 0.01 0zM742.5 128.9a2.25 2.25 0 1 0 0.01 0zM734.4 129.7a2.25 2.25 0 1 0 0.01 0zM757.1 130a2.25 2.25 0 1 0 0.01 0zM738.1 126a2.25 2.25 0 1 0 0.01 0zM755 126.2a2.25 2.25 0 1 0 0.01 0zM743.8 123.3a2.25 2.25 0 1 0 0.01 0zM747.3 128.6a2.25 2.25 0 1 0 0.01 0zM743.6 127.2a2.25 2.25 0 1 0 0.01 0zM746.3 117.7a2.25 2.25 0 1 0 0.01 0zM745.6 117.7a2.25 2.25 0 1 0 0.01 0zM745.3 119.6a2.25 2.25 0 1 0 0.01 0zM747.1 119.6a2.25 2.25 0 1 0 0.01 0zM744.6 121.4a2.25 2.25 0 1 0 0.01 0zM747.1 121.4a2.25 2.25 0 1 0 0.01 0zM745.2 123.3a2.25 2.25 0 1 0 0.01 0zM744.8 123.3a2.25 2.25 0 1 0 0.01 0zM744.6 125.2a2.25 2.25 0 1 0 0.01 0zM745.8 125.2a2.25 2.25 0 1 0 0.01 0zM749.4 127a2.25 2.25 0 1 0 0.01 0zM743.5 127a2.25 2.25 0 1 0 0.01 0zM755.4 115.2a2.25 2.25 0 1 0 0.01 0zM754.8 115.2a2.25 2.25 0 1 0 0.01 0zM754.4 117.1a2.25 2.25 0 1 0 0.01 0zM755.4 117.1a2.25 2.25 0 1 0 0.01 0zM754.6 118.9a2.25 2.25 0 1 0 0.01 0zM754.2 118.9a2.25 2.25 0 1 0 0.01 0zM754.7 120.8a2.25 2.25 0 1 0 0.01 0zM756 120.8a2.25 2.25 0 1 0 0.01 0zM756.3 122.7a2.25 2.25 0 1 0 0.01 0zM755.3 122.7a2.25 2.25 0 1 0 0.01 0zM752.9 124.5a2.25 2.25 0 1 0 0.01 0zM756.1 124.5a2.25 2.25 0 1 0 0.01 0zM755.5 126.4a2.25 2.25 0 1 0 0.01 0zM756.9 126.4a2.25 2.25 0 1 0 0.01 0z" fill="#fcbb94"/>
<polygon points="729.8,165.8 729.8,176.3 731.3,176 732.9,175.6 734.4,175.3 736,175.1 737.5,175.1 739.1,175.1 740.6,175 742.2,174.8 743.7,174.4 745.3,174 746.8,173.7 748.4,173.5 749.9,173.6 751.5,173.8 753,174 754.6,174.1 756.1,174.1 757.7,174 759.2,173.9 759.2,165.8" fill="#fcbb94"/><path d="M731.1 165.8a2.25 2.25 0 1 0 0.01 0zM757.9 165.8a2.25 2.25 0 1 0 0.01 0zM741.1 171a2.25 2.25 0 1 0 0.01 0zM741.2 170.6a2.25 2.25 0 1 0 0.01 0zM737.2 173.6a2.25 2.25 0 1 0 0.01 0zM742.1 171.5a2.25 2.25 0 1 0 0.01 0zM754.9 171.4a2.25 2.25 0 1 0 0.01 0zM737.6 173.7a2.25 2.25 0 1 0 0.01 0zM752.6 175.3a2.25 2.25 0 1 0 0.01 0zM750.6 170.9a2.25 2.25 0 1 0 0.01 0zM752.9 169.8a2.25 2.25 0 1 0 0.01 0zM748.7 169.6a2.25 2.25 0 1 0 0.01 0zM753.6 169.7a2.25 2.25 0 1 0 0.01 0zM745.5 169.9a2.25 2.25 0 1 0 0.01 0zM753.1 170a2.25 2.25 0 1 0 0.01 0zM753.7 171.9a2.25 2.25 0 1 0 0.01 0zM754.6 169.8a2.25 2.25 0 1 0 0.01 0zM756.2 171.3a2.25 2.25 0 1 0 0.01 0zM749.2 170.3a2.25 2.25 0 1 0 0.01 0zM732.4 173.7a2.25 2.25 0 1 0 0.01 0zM745.8 170.1a2.25 2.25 0 1 0 0.01 0zM740.2 172.4a2.25 2.25 0 1 0 0.01 0zM752.1 171.9a2.25 2.25 0 1 0 0.01 0zM736.8 171.1a2.25 2.25 0 1 0 0.01 0zM737.8 170.7a2.25 2.25 0 1 0 0.01 0zM739.9 170.6a2.25 2.25 0 1 0 0.01 0zM752.4 169.7a2.25 2.25 0 1 0 0.01 0zM733 171.1a2.25 2.25 0 1 0 0.01 0zM751 169.4a2.25 2.25 0 1 0 0.01 0zM743.5 170.6a2.25 2.25 0 1 0 0.01 0zM752.6 173.3a2.25 2.25 0 1 0 0.01 0zM739.4 171.8a2.25 2.25 0 1 0 0.01 0zM755.1 170.4a2.25 2.25 0 1 0 0.01 0zM755.2 171.3a2.25 2.25 0 1 0 0.01 0zM739.4 173.2a2.25 2.25 0 1 0 0.01 0zM746.5 169.3a2.25 2.25 0 1 0 0.01 0zM746.8 171.3a2.25 2.25 0 1 0 0.01 0zM745 170.3a2.25 2.25 0 1 0 0.01 0zM742.3 172.9a2.25 2.25 0 1 0 0.01 0zM748.9 169.3a2.25 2.25 0 1 0 0.01 0zM740.8 171a2.25 2.25 0 1 0 0.01 0zM756.8 171a2.25 2.25 0 1 0 0.01 0zM734.4 173.8a2.25 2.25 0 1 0 0.01 0zM732 172.4a2.25 2.25 0 1 0 0.01 0zM742.7 171.7a2.25 2.25 0 1 0 0.01 0zM744.9 177.2a2.25 2.25 0 1 0 0.01 0zM744.5 177.2a2.25 2.25 0 1 0 0.01 0zM745.1 176a2.25 2.25 0 1 0 0.01 0zM745.8 176a2.25 2.25 0 1 0 0.01 0zM746 174.9a2.25 2.25 0 1 0 0.01 0zM744.5 174.9a2.25 2.25 0 1 0 0.01 0zM743.7 173.7a2.25 2.25 0 1 0 0.01 0zM746.1 173.7a2.25 2.25 0 1 0 0.01 0zM746.8 172.6a2.25 2.25 0 1 0 0.01 0zM743.4 172.6a2.25 2.25 0 1 0 0.01 0zM747.7 171.4a2.25 2.25 0 1 0 0.01 0zM748.4 171.4a2.25 2.25 0 1 0 0.01 0z" fill="#fcbb94"/>
<polygon points="759.2,140.8 759.2,128.1 760.7,127.6 762.3,126.9 763.8,126.3 765.3,125.8 766.8,125.6 768.4,125.7 769.9,125.9 771.4,126.2 773,126.3 774.5,126.1 776,125.9 777.6,125.6 779.1,125.5 780.6,125.6 782.1,126 783.7,126.5 785.2,127 785.2,140.8" fill="#a37563"/><path d="M760.5 136.3a2.25 2.25 0 1 0 0.01 0zM783.9 136.3a2.25 2.25 0 1 0 0.01 0zM768.2 123.6a2.25 2.25 0 1 0 0.01 0zM764.9 124.9a2.25 2.25 0 1 0 0.01 0zM772.2 124.6a2.25 2.25 0 1 0 0.01 0zM763.8 120.5a2.25 2.25 0 1 0 0.01 0zM783.9 125.6a2.25 2.25 0 1 0 0.01 0zM779.1 125.7a2.25 2.25 0 1 0 0.01 0zM781.8 124.9a2.25 2.25 0 1 0 0.01 0zM778.3 122a2.25 2.25 0 1 0 0.01 0zM769 121.1a2.25 2.25 0 1 0 0.01 0zM765.3 126.4a2.25 2.25 0 1 0 0.01 0zM772.3 122.2a2.25 2.25 0 1 0 0.01 0zM781.6 120.1a2.25 2.25 0 1 0 0.01 0zM772.4 121.4a2.25 2.25 0 1 0 0.01 0zM773.6 126.6a2.25 2.25 0 1 0 0.01 0zM775.3 123.3a2.25 2.25 0 1 0 0.01 0zM770.4 124.8a2.25 2.25 0 1 0 0.01 0zM766.6 125.6a2.25 2.25 0 1 0 0.01 0zM770.3 125.2a2.25 2.25 0 1 0 0.01 0zM771.5 126.6a2.25 2.25 0 1 0 0.01 0zM760.6 127.4a2.25 2.25 0 1 0 0.01 0zM777.3 123.4a2.25 2.25 0 1 0 0.01 0zM766 125.7a2.25 2.25 0 1 0 0.01 0zM772.6 126.5a2.25 2.25 0 1 0 0.01 0zM774.6 122a2.25 2.25 0 1 0 0.01 0zM765.2 124.7a2.25 2.25 0 1 0 0.01 0zM777.4 123.4a2.25 2.25 0 1 0 0.01 0zM777.2 123.8a2.25 2.25 0 1 0 0.01 0zM766.9 122.5a2.25 2.25 0 1 0 0.01 0zM782.1 126.6a2.25 2.25 0 1 0 0.01 0zM782.6 125.6a2.25 2.25 0 1 0 0.01 0zM762.5 127.3a2.25 2.25 0 1 0 0.01 0zM779.1 123.8a2.25 2.25 0 1 0 0.01 0zM763.8 125.7a2.25 2.25 0 1 0 0.01 0zM775.4 114.2a2.25 2.25 0 1 0 0.01 0zM768.4 123.4a2.25 2.25 0 1 0 0.01 0zM766.2 125.8a2.25 2.25 0 1 0 0.01 0zM764.3 125.7a2.25 2.25 0 1 0 0.01 0zM775 126a2.25 2.25 0 1 0 0.01 0zM775.6 117.7a2.25 2.25 0 1 0 0.01 0zM775.7 117.7a2.25 2.25 0 1 0 0.01 0zM775.1 119.6a2.25 2.25 0 1 0 0.01 0zM775.4 119.6a2.25 2.25 0 1 0 0.01 0zM775.4 121.4a2.25 2.25 0 1 0 0.01 0zM776 121.4a2.25 2.25 0 1 0 0.01 0zM774.8 123.3a2.25 2.25 0 1 0 0.01 0zM775.9 123.3a2.25 2.25 0 1 0 0.01 0zM775.7 125.2a2.25 2.25 0 1 0 0.01 0zM778.2 125.2a2.25 2.25 0 1 0 0.01 0zM768 118.9a2.25 2.25 0 1 0 0.01 0zM768.5 118.9a2.25 2.25 0 1 0 0.01 0zM767.9 120.8a2.25 2.25 0 1 0 0.01 0zM767.3 120.8a2.25 2.25 0 1 0 0.01 0zM768.3 122.7a2.25 2.25 0 1 0 0.01 0zM766.8 122.7a2.25 2.25 0 1 0 0.01 0zM766.6 124.5a2.25 2.25 0 1 0 0.01 0zM766.1 124.5a2.25 2.25 0 1 0 0.01 0zM778.4 112.7a2.25 2.25 0 1 0 0.01 0z" fill="#a37563"/>
<polygon points="759.2,165.8 759.2,176 760.7,175.9 762.3,175.9 763.8,176.1 765.3,176.3 766.8,176.4 768.4,176.3 769.9,176.1 771.4,175.7 773,175.3 774.5,175.1 776,175 777.6,175.2 779.1,175.4 780.6,175.5 782.1,175.6 783.7,175.6 785.2,175.5 785.2,165.8" fill="#a37563"/><path d="M760.5 165.8a2.25 2.25 0 1 0 0.01 0zM783.9 165.8a2.25 2.25 0 1 0 0.01 0zM776.7 171.1a2.25 2.25 0 1 0 0.01 0zM764.1 174.1a2.25 2.25 0 1 0 0.01 0zM773.9 170.6a2.25 2.25 0 1 0 0.01 0zM780.4 172.6a2.25 2.25 0 1 0 0.01 0zM768.8 172.9a2.25 2.25 0 1 0 0.01 0zM782 171.7a2.25 2.25 0 1 0 0.01 0zM770.6 171.8a2.25 2.25 0 1 0 0.01 0zM773.5 172a2.25 2.25 0 1 0 0.01 0zM777.7 174.4a2.25 2.25 0 1 0 0.01 0zM763.9 172.1a2.25 2.25 0 1 0 0.01 0zM780.4 172.9a2.25 2.25 0 1 0 0.01 0zM774.3 172a2.25 2.25 0 1 0 0.01 0zM768.5 175.4a2.25 2.25 0 1 0 0.01 0zM773.4 171.3a2.25 2.25 0 1 0 0.01 0zM764.8 171.8a2.25 2.25 0 1 0 0.01 0zM781.5 173.1a2.25 2.25 0 1 0 0.01 0zM761.1 171.8a2.25 2.25 0 1 0 0.01 0zM771.7 171.9a2.25 2.25 0 1 0 0.01 0zM769 174.5a2.25 2.25 0 1 0 0.01 0zM768.7 172.7a2.25 2.25 0 1 0 0.01 0zM782.2 172.3a2.25 2.25 0 1 0 0.01 0zM771.7 171.6a2.25 2.25 0 1 0 0.01 0zM769.6 172.7a2.25 2.25 0 1 0 0.01 0zM778.9 171.2a2.25 2.25 0 1 0 0.01 0zM769.2 172.3a2.25 2.25 0 1 0 0.01 0zM769 174.7a2.25 2.25 0 1 0 0.01 0zM773.1 171.1a2.25 2.25 0 1 0 0.01 0zM768.3 173.9a2.25 2.25 0 1 0 0.01 0zM764.2 173a2.25 2.25 0 1 0 0.01 0zM761 171.6a2.25 2.25 0 1 0 0.01 0zM761.9 173.4a2.25 2.25 0 1 0 0.01 0zM763.9 171.9a2.25 2.25 0 1 0 0.01 0zM761.8 171.7a2.25 2.25 0 1 0 0.01 0zM777.7 172.2a2.25 2.25 0 1 0 0.01 0zM781.8 174.7a2.25 2.25 0 1 0 0.01 0zM773.4 173.9a2.25 2.25 0 1 0 0.01 0zM762.6 174.6a2.25 2.25 0 1 0 0.01 0zM770.7 171.6a2.25 2.25 0 1 0 0.01 0zM770.3 177.5a2.25 2.25 0 1 0 0.01 0zM770.4 177.5a2.25 2.25 0 1 0 0.01 0zM769.7 176.4a2.25 2.25 0 1 0 0.01 0zM768.9 176.4a2.25 2.25 0 1 0 0.01 0zM771.5 175.2a2.25 2.25 0 1 0 0.01 0zM771 175.2a2.25 2.25 0 1 0 0.01 0zM770.5 174.1a2.25 2.25 0 1 0 0.01 0zM772.6 174.1a2.25 2.25 0 1 0 0.01 0zM766.8 173a2.25 2.25 0 1 0 0.01 0zM766.9 173a2.25 2.25 0 1 0 0.01 0zM782.5 177.9a2.25 2.25 0 1 0 0.01 0zM782.4 177.9a2.25 2.25 0 1 0 0.01 0zM783.4 176.8a2.25 2.25 0 1 0 0.01 0zM783.3 176.8a2.25 2.25 0 1 0 0.01 0zM781.8 175.6a2.25 2.25 0 1 0 0.01 0zM782 175.6a2.25 2.25 0 1 0 0.01 0zM781.8 174.5a2.25 2.25 0 1 0 0.01 0zM783.4 174.5a2.25 2.25 0 1 0 0.01 0zM783.8 173.3a2.25 2.25 0 1 0 0.01 0zM783.9 173.3a2.25 2.25 0 1 0 0.01 0z" fill="#a37563"/>
<polygon points="785.2,140.8 785.2,129.7 786.8,129.8 788.4,130 790,130.1 791.6,130 793.2,129.7 794.8,129.4 796.3,129 797.9,128.9 799.5,129.1 801.1,129.5 802.7,130 804.3,130.4 805.9,130.6 805.9,140.8" fill="#fcbb94"/><path d="M786.5 136.3a2.25 2.25 0 1 0 0.01 0zM804.6 136.3a2.25 2.25 0 1 0 0.01 0zM804.1 120.2a2.25 2.25 0 1 0 0.01 0zM799.3 129.3a2.25 2.25 0 1 0 0.01 0zM789.8 130.4a2.25 2.25 0 1 0 0.01 0zM792.8 127.7a2.25 2.25 0 1 0 0.01 0zM787.6 129a2.25 2.25 0 1 0 0.01 0zM798.8 129.6a2.25 2.25 0 1 0 0.01 0zM794.5 126.9a2.25 2.25 0 1 0 0.01 0zM796.9 128.4a2.25 2.25 0 1 0 0.01 0zM802.4 128.7a2.25 2.25 0 1 0 0.01 0zM792.6 129.5a2.25 2.25 0 1 0 0.01 0zM803.6 126.9a2.25 2.25 0 1 0 0.01 0zM803.1 129.1a2.25 2.25 0 1 0 0.01 0zM789.1 130.3a2.25 2.25 0 1 0 0.01 0zM793.4 127.9a2.25 2.25 0 1 0 0.01 0zM786.6 127.1a2.25 2.25 0 1 0 0.01 0zM800.7 128.6a2.25 2.25 0 1 0 0.01 0zM786.6 127.1a2.25 2.25 0 1 0 0.01 0zM794 127.9a2.25 2.25 0 1 0 0.01 0zM796.8 127a2.25 2.25 0 1 0 0.01 0zM793.9 123.6a2.25 2.25 0 1 0 0.01 0zM803.8 125.5a2.25 2.25 0 1 0 0.01 0zM797.6 128.8a2.25 2.25 0 1 0 0.01 0zM793.3 129.7a2.25 2.25 0 1 0 0.01 0zM802.9 127.5a2.25 2.25 0 1 0 0.01 0zM800.8 126.5a2.25 2.25 0 1 0 0.01 0zM804.4 128.7a2.25 2.25 0 1 0 0.01 0zM792.3 127.7a2.25 2.25 0 1 0 0.01 0zM791.2 128.7a2.25 2.25 0 1 0 0.01 0zM789.4 126.7a2.25 2.25 0 1 0 0.01 0zM795 119.6a2.25 2.25 0 1 0 0.01 0zM794.7 119.6a2.25 2.25 0 1 0 0.01 0zM796 121.4a2.25 2.25 0 1 0 0.01 0zM794 121.4a2.25 2.25 0 1 0 0.01 0zM796.6 123.3a2.25 2.25 0 1 0 0.01 0zM795.9 123.3a2.25 2.25 0 1 0 0.01 0zM793.3 125.2a2.25 2.25 0 1 0 0.01 0zM796.3 125.2a2.25 2.25 0 1 0 0.01 0zM795.4 127a2.25 2.25 0 1 0 0.01 0zM797.5 127a2.25 2.25 0 1 0 0.01 0z" fill="#fcbb94"/>
<polygon points="785.2,165.8 785.2,174.8 786.8,175 788.4,175.1 790,175 791.6,174.9 793.2,174.7 794.8,174.5 796.3,174.4 797.9,174.4 799.5,174.4 801.1,174.4 802.7,174.3 804.3,174.2 805.9,174 805.9,165.8" fill="#fcbb94"/><path d="M786.5 165.8a2.25 2.25 0 1 0 0.01 0zM804.6 165.8a2.25 2.25 0 1 0 0.01 0zM791.5 170.5a2.25 2.25 0 1 0 0.01 0zM802.3 170.5a2.25 2.25 0 1 0 0.01 0zM799.6 170.2a2.25 2.25 0 1 0 0.01 0zM799.7 171.2a2.25 2.25 0 1 0 0.01 0zM788.3 171.4a2.25 2.25 0 1 0 0.01 0zM799.6 170.2a2.25 2.25 0 1 0 0.01 0zM798.3 170.3a2.25 2.25 0 1 0 0.01 0zM793.2 173.3a2.25 2.25 0 1 0 0.01 0zM803.6 177.4a2.25 2.25 0 1 0 0.01 0zM794.2 171.1a2.25 2.25 0 1 0 0.01 0zM801.1 171.6a2.25 2.25 0 1 0 0.01 0zM794.8 172.5a2.25 2.25 0 1 0 0.01 0zM793.8 173.8a2.25 2.25 0 1 0 0.01 0zM795.1 170.1a2.25 2.25 0 1 0 0.01 0zM800.1 170.1a2.25 2.25 0 1 0 0.01 0zM798.8 169.9a2.25 2.25 0 1 0 0.01 0zM804.4 170.6a2.25 2.25 0 1 0 0.01 0zM799.9 170a2.25 2.25 0 1 0 0.01 0zM798 170.4a2.25 2.25 0 1 0 0.01 0zM791 172.5a2.25 2.25 0 1 0 0.01 0zM787.1 171.3a2.25 2.25 0 1 0 0.01 0zM788.1 172.9a2.25 2.25 0 1 0 0.01 0zM802.7 169.8a2.25 2.25 0 1 0 0.01 0zM794.9 170.7a2.25 2.25 0 1 0 0.01 0zM799.5 171.5a2.25 2.25 0 1 0 0.01 0zM792.7 173.6a2.25 2.25 0 1 0 0.01 0zM789.8 170.7a2.25 2.25 0 1 0 0.01 0zM801.2 170a2.25 2.25 0 1 0 0.01 0zM789.9 171.4a2.25 2.25 0 1 0 0.01 0z" fill="#fcbb94"/>
<polygon points="805.9,140.8 805.9,128.3 807.4,128.3 809,128.3 810.5,128.5 812.1,128.8 813.6,129 815.2,129 816.8,128.7 818.3,128.3 819.9,127.7 821.4,127.3 823,127.2 824.5,127.4 826.1,128 827.6,128.6 827.6,140.8" fill="#a37563"/><path d="M807.2 136.3a2.25 2.25 0 1 0 0.01 0zM826.3 136.3a2.25 2.25 0 1 0 0.01 0zM824.6 127.6a2.25 2.25 0 1 0 0.01 0zM824.5 126.2a2.25 2.25 0 1 0 0.01 0zM825.7 125.5a2.25 2.25 0 1 0 0.01 0zM819.2 127a2.25 2.25 0 1 0 0.01 0zM823.5 126.7a2.25 2.25 0 1 0 0.01 0zM809.1 123.9a2.25 2.25 0 1 0 0.01 0zM822.6 125.5a2.25 2.25 0 1 0 0.01 0zM821.4 127.4a2.25 2.25 0 1 0 0.01 0zM816 126a2.25 2.25 0 1 0 0.01 0zM825.6 123.2a2.25 2.25 0 1 0 0.01 0zM810.3 126.8a2.25 2.25 0 1 0 0.01 0zM817.8 128a2.25 2.25 0 1 0 0.01 0zM810.4 128.8a2.25 2.25 0 1 0 0.01 0zM816.2 128.1a2.25 2.25 0 1 0 0.01 0zM812.3 128.5a2.25 2.25 0 1 0 0.01 0zM817.8 126.1a2.25 2.25 0 1 0 0.01 0zM818.5 128.5a2.25 2.25 0 1 0 0.01 0zM824.1 127.1a2.25 2.25 0 1 0 0.01 0zM825.5 120.2a2.25 2.25 0 1 0 0.01 0zM809.9 127.3a2.25 2.25 0 1 0 0.01 0zM825.7 127.5a2.25 2.25 0 1 0 0.01 0zM817.7 128.3a2.25 2.25 0 1 0 0.01 0zM807.7 128.4a2.25 2.25 0 1 0 0.01 0zM809.6 128.3a2.25 2.25 0 1 0 0.01 0zM819.2 126.9a2.25 2.25 0 1 0 0.01 0zM825.3 126a2.25 2.25 0 1 0 0.01 0zM814.1 123.5a2.25 2.25 0 1 0 0.01 0zM819.3 127a2.25 2.25 0 1 0 0.01 0zM823.7 125.7a2.25 2.25 0 1 0 0.01 0zM814.1 127.7a2.25 2.25 0 1 0 0.01 0zM812.9 122.4a2.25 2.25 0 1 0 0.01 0zM814.7 118.3a2.25 2.25 0 1 0 0.01 0zM815.6 118.3a2.25 2.25 0 1 0 0.01 0zM813.9 120.2a2.25 2.25 0 1 0 0.01 0zM813.8 120.2a2.25 2.25 0 1 0 0.01 0zM815.2 122a2.25 2.25 0 1 0 0.01 0zM813.9 122a2.25 2.25 0 1 0 0.01 0zM815 123.9a2.25 2.25 0 1 0 0.01 0zM813 123.9a2.25 2.25 0 1 0 0.01 0zM817.2 125.8a2.25 2.25 0 1 0 0.01 0zM816.1 125.8a2.25 2.25 0 1 0 0.01 0z" fill="#a37563"/>
<polygon points="805.9,165.8 805.9,178.3 807.4,178.5 809,178.7 810.5,178.7 812.1,178.5 813.6,178.2 815.2,177.8 816.8,177.5 818.3,177.1 819.9,176.9 821.4,176.9 823,177 824.5,177.2 826.1,177.4 827.6,177.6 827.6,165.8" fill="#a37563"/><path d="M807.2 165.8a2.25 2.25 0 1 0 0.01 0zM826.3 165.8a2.25 2.25 0 1 0 0.01 0zM808.1 174.8a2.25 2.25 0 1 0 0.01 0zM825.7 173.3a2.25 2.25 0 1 0 0.01 0zM818.1 172.6a2.25 2.25 0 1 0 0.01 0zM815.1 176.2a2.25 2.25 0 1 0 0.01 0zM818.5 174.7a2.25 2.25 0 1 0 0.01 0zM807.4 174.3a2.25 2.25 0 1 0 0.01 0zM810.6 176.4a2.25 2.25 0 1 0 0.01 0zM809.1 177.5a2.25 2.25 0 1 0 0.01 0zM812.3 176.6a2.25 2.25 0 1 0 0.01 0zM817 173.3a2.25 2.25 0 1 0 0.01 0zM825.7 173.4a2.25 2.25 0 1 0 0.01 0zM820.5 172.4a2.25 2.25 0 1 0 0.01 0zM823.1 177.4a2.25 2.25 0 1 0 0.01 0zM809.3 175.9a2.25 2.25 0 1 0 0.01 0zM812.4 174.1a2.25 2.25 0 1 0 0.01 0zM814.2 174.9a2.25 2.25 0 1 0 0.01 0zM825.4 179.1a2.25 2.25 0 1 0 0.01 0zM826.2 174.1a2.25 2.25 0 1 0 0.01 0zM819.7 172.6a2.25 2.25 0 1 0 0.01 0zM821.1 173.3a2.25 2.25 0 1 0 0.01 0zM814.1 176.5a2.25 2.25 0 1 0 0.01 0zM812.1 174.2a2.25 2.25 0 1 0 0.01 0zM810.2 174.3a2.25 2.25 0 1 0 0.01 0zM818.4 174.6a2.25 2.25 0 1 0 0.01 0zM810.3 175a2.25 2.25 0 1 0 0.01 0zM818.2 173.6a2.25 2.25 0 1 0 0.01 0zM815.1 174.3a2.25 2.25 0 1 0 0.01 0zM807.5 174.1a2.25 2.25 0 1 0 0.01 0zM815.3 173.6a2.25 2.25 0 1 0 0.01 0zM821.7 172.7a2.25 2.25 0 1 0 0.01 0zM822.9 172.8a2.25 2.25 0 1 0 0.01 0zM814.5 177.2a2.25 2.25 0 1 0 0.01 0zM815 177.2a2.25 2.25 0 1 0 0.01 0zM814.6 176a2.25 2.25 0 1 0 0.01 0zM814.5 176a2.25 2.25 0 1 0 0.01 0zM816.3 174.9a2.25 2.25 0 1 0 0.01 0zM813.6 174.9a2.25 2.25 0 1 0 0.01 0zM816.2 173.7a2.25 2.25 0 1 0 0.01 0zM817.3 173.7a2.25 2.25 0 1 0 0.01 0zM822.9 178.3a2.25 2.25 0 1 0 0.01 0zM823 178.3a2.25 2.25 0 1 0 0.01 0zM823.9 177.2a2.25 2.25 0 1 0 0.01 0zM823.2 177.2a2.25 2.25 0 1 0 0.01 0zM822 176a2.25 2.25 0 1 0 0.01 0zM821.7 176a2.25 2.25 0 1 0 0.01 0zM821.3 174.9a2.25 2.25 0 1 0 0.01 0zM822.3 174.9a2.25 2.25 0 1 0 0.01 0zM820.9 173.7a2.25 2.25 0 1 0 0.01 0zM823.7 173.7a2.25 2.25 0 1 0 0.01 0z" fill="#a37563"/>
<polygon points="827.6,140.8 827.6,131.9 828.3,131.9 829,131.8 829,140.8" fill="#fcbb94"/><path d="M828.3 136.3a2.25 2.25 0 1 0 0.01 0zM828.3 136.3a2.25 2.25 0 1 0 0.01 0zM828.3 131.8a2.25 2.25 0 1 0 0.01 0z" fill="#fcbb94"/>
<polygon points="827.6,165.8 827.6,174.6 828.3,174.6 829,174.6 829,165.8" fill="#fcbb94"/><path d="M828.3 165.8a2.25 2.25 0 1 0 0.01 0zM828.3 165.8a2.25 2.25 0 1 0 0.01 0zM828.3 171.4a2.25 2.25 0 1 0 0.01 0z" fill="#fcbb94"/>
<polygon points="829,140.8 829,127.4 830.5,127 832.1,126.7 833.6,126.7 835.2,126.9 836.7,127.2 838.3,127.7 839.8,128.1 841.4,128.4 842.9,128.5 844.5,128.4 846,128.1 846,140.8" fill="#a37563"/><path d="M830.3 136.3a2.25 2.25 0 1 0 0.01 0zM844.7 136.3a2.25 2.25 0 1 0 0.01 0zM841 126.4a2.25 2.25 0 1 0 0.01 0zM837.6 127.8a2.25 2.25 0 1 0 0.01 0zM839.9 127.7a2.25 2.25 0 1 0 0.01 0zM839.8 128.6a2.25 2.25 0 1 0 0.01 0zM843.3 129.1a2.25 2.25 0 1 0 0.01 0zM833.5 126.3a2.25 2.25 0 1 0 0.01 0zM833.2 127.1a2.25 2.25 0 1 0 0.01 0zM840.2 118.4a2.25 2.25 0 1 0 0.01 0zM835.1 126.9a2.25 2.25 0 1 0 0.01 0zM840 128.3a2.25 2.25 0 1 0 0.01 0zM836.1 125.3a2.25 2.25 0 1 0 0.01 0zM836.5 127.5a2.25 2.25 0 1 0 0.01 0zM831.3 125.9a2.25 2.25 0 1 0 0.01 0zM844.6 123.8a2.25 2.25 0 1 0 0.01 0zM831.7 126a2.25 2.25 0 1 0 0.01 0zM837.3 127.6a2.25 2.25 0 1 0 0.01 0zM839.9 127.4a2.25 2.25 0 1 0 0.01 0zM841.9 128.4a2.25 2.25 0 1 0 0.01 0zM843.7 125.7a2.25 2.25 0 1 0 0.01 0zM837.1 127.7a2.25 2.25 0 1 0 0.01 0zM837.3 127.8a2.25 2.25 0 1 0 0.01 0zM840.2 126.4a2.25 2.25 0 1 0 0.01 0zM838.6 120.8a2.25 2.25 0 1 0 0.01 0zM830.9 125a2.25 2.25 0 1 0 0.01 0zM842.7 114a2.25 2.25 0 1 0 0.01 0zM841.8 114a2.25 2.25 0 1 0 0.01 0zM842 115.8a2.25 2.25 0 1 0 0.01 0zM841.6 115.8a2.25 2.25 0 1 0 0.01 0zM842.5 117.7a2.25 2.25 0 1 0 0.01 0zM842.8 117.7a2.25 2.25 0 1 0 0.01 0zM841.9 119.6a2.25 2.25 0 1 0 0.01 0zM842.8 119.6a2.25 2.25 0 1 0 0.01 0zM841.9 121.4a2.25 2.25 0 1 0 0.01 0zM842.9 121.4a2.25 2.25 0 1 0 0.01 0zM841.5 123.3a2.25 2.25 0 1 0 0.01 0zM844 123.3a2.25 2.25 0 1 0 0.01 0zM842 125.2a2.25 2.25 0 1 0 0.01 0zM840.3 125.2a2.25 2.25 0 1 0 0.01 0zM837.5 118.9a2.25 2.25 0 1 0 0.01 0zM838.3 118.9a2.25 2.25 0 1 0 0.01 0zM838.8 120.8a2.25 2.25 0 1 0 0.01 0zM838.3 120.8a2.25 2.25 0 1 0 0.01 0zM836.9 122.7a2.25 2.25 0 1 0 0.01 0zM839.2 122.7a2.25 2.25 0 1 0 0.01 0zM838.9 124.5a2.25 2.25 0 1 0 0.01 0zM836.3 124.5a2.25 2.25 0 1 0 0.01 0z" fill="#a37563"/>
<polygon points="829,165.8 829,174.2 830.5,173.9 832.1,174 833.6,174.3 835.2,174.5 836.7,174.4 838.3,174.2 839.8,174.1 841.4,174.3 842.9,174.8 844.5,175.3 846,175.5 846,165.8" fill="#a37563"/><path d="M830.3 165.8a2.25 2.25 0 1 0 0.01 0zM844.7 165.8a2.25 2.25 0 1 0 0.01 0zM844.6 171.3a2.25 2.25 0 1 0 0.01 0zM843.4 172.4a2.25 2.25 0 1 0 0.01 0zM842.8 171.3a2.25 2.25 0 1 0 0.01 0zM844.3 172a2.25 2.25 0 1 0 0.01 0zM843.9 171.7a2.25 2.25 0 1 0 0.01 0zM833.1 170.5a2.25 2.25 0 1 0 0.01 0zM837.2 170.3a2.25 2.25 0 1 0 0.01 0zM835.7 170.9a2.25 2.25 0 1 0 0.01 0zM838.8 169.9a2.25 2.25 0 1 0 0.01 0zM834.3 170.7a2.25 2.25 0 1 0 0.01 0zM837.6 170.5a2.25 2.25 0 1 0 0.01 0zM839.9 169.8a2.25 2.25 0 1 0 0.01 0zM838 170.1a2.25 2.25 0 1 0 0.01 0zM841.4 171.3a2.25 2.25 0 1 0 0.01 0zM841.5 170.7a2.25 2.25 0 1 0 0.01 0zM833.9 173a2.25 2.25 0 1 0 0.01 0zM837.7 170.4a2.25 2.25 0 1 0 0.01 0zM834.5 170.5a2.25 2.25 0 1 0 0.01 0zM840.5 171.8a2.25 2.25 0 1 0 0.01 0zM837.2 171.5a2.25 2.25 0 1 0 0.01 0zM833.4 170.4a2.25 2.25 0 1 0 0.01 0zM835.4 170.4a2.25 2.25 0 1 0 0.01 0zM835.5 171.7a2.25 2.25 0 1 0 0.01 0zM840.9 170a2.25 2.25 0 1 0 0.01 0zM835.7 177.2a2.25 2.25 0 1 0 0.01 0zM836.3 177.2a2.25 2.25 0 1 0 0.01 0zM836.3 176a2.25 2.25 0 1 0 0.01 0zM836.3 176a2.25 2.25 0 1 0 0.01 0zM836.4 174.9a2.25 2.25 0 1 0 0.01 0zM836.5 174.9a2.25 2.25 0 1 0 0.01 0zM835.2 173.7a2.25 2.25 0 1 0 0.01 0zM834.4 173.7a2.25 2.25 0 1 0 0.01 0zM835.4 172.6a2.25 2.25 0 1 0 0.01 0zM834 172.6a2.25 2.25 0 1 0 0.01 0zM838.3 171.4a2.25 2.25 0 1 0 0.01 0zM836.1 171.4a2.25 2.25 0 1 0 0.01 0z" fill="#a37563"/>
<polygon points="846,140.8 846,128.1 847.5,127.6 849.1,127.4 850.6,127.3 852.2,127.5 853.7,127.8 855.2,128.1 856.8,128.4 858.3,128.5 859.8,128.5 861.4,128.4 862.9,128.3 864.5,128.4 866,128.6 866,140.8" fill="#fcbb94"/><path d="M847.3 136.3a2.25 2.25 0 1 0 0.01 0zM864.7 136.3a2.25 2.25 0 1 0 0.01 0zM861.1 126.3a2.25 2.25 0 1 0 0.01 0zM855.8 127.9a2.25 2.25 0 1 0 0.01 0zM852 126.7a2.25 2.25 0 1 0 0.01 0zM859.7 124.5a2.25 2.25 0 1 0 0.01 0zM862.1 124.9a2.25 2.25 0 1 0 0.01 0zM854.9 127.6a2.25 2.25 0 1 0 0.01 0zM852.8 120.7a2.25 2.25 0 1 0 0.01 0zM850.5 127.6a2.25 2.25 0 1 0 0.01 0zM852.2 122.9a2.25 2.25 0 1 0 0.01 0zM862.1 128.2a2.25 2.25 0 1 0 0.01 0zM862.1 124.5a2.25 2.25 0 1 0 0.01 0zM854.7 128.2a2.25 2.25 0 1 0 0.01 0zM860.7 128.1a2.25 2.25 0 1 0 0.01 0zM849.4 123.2a2.25 2.25 0 1 0 0.01 0zM854.9 127.7a2.25 2.25 0 1 0 0.01 0zM857.7 128.5a2.25 2.25 0 1 0 0.01 0zM847.6 127.2a2.25 2.25 0 1 0 0.01 0zM853.9 128.5a2.25 2.25 0 1 0 0.01 0zM853.8 125.5a2.25 2.25 0 1 0 0.01 0zM853.1 126a2.25 2.25 0 1 0 0.01 0zM858.2 128.7a2.25 2.25 0 1 0 0.01 0zM847.6 125.9a2.25 2.25 0 1 0 0.01 0zM857.9 128.4a2.25 2.25 0 1 0 0.01 0zM850.8 124a2.25 2.25 0 1 0 0.01 0zM863.1 128.4a2.25 2.25 0 1 0 0.01 0zM857.5 127.4a2.25 2.25 0 1 0 0.01 0zM852.9 128.2a2.25 2.25 0 1 0 0.01 0zM853 126.2a2.25 2.25 0 1 0 0.01 0z" fill="#fcbb94"/>
<polygon points="846,165.8 846,175.4 847.5,175.7 849.1,175.9 850.6,176 852.2,175.9 853.7,175.5 855.2,175.2 856.8,174.9 858.3,174.7 859.8,174.7 861.4,174.8 862.9,174.7 864.5,174.5 866,174.2 866,165.8" fill="#fcbb94"/><path d="M847.3 165.8a2.25 2.25 0 1 0 0.01 0zM864.7 165.8a2.25 2.25 0 1 0 0.01 0zM853.6 173.9a2.25 2.25 0 1 0 0.01 0zM849.3 176.8a2.25 2.25 0 1 0 0.01 0zM851.5 173.8a2.25 2.25 0 1 0 0.01 0zM851.5 172.5a2.25 2.25 0 1 0 0.01 0zM853.9 171a2.25 2.25 0 1 0 0.01 0zM861.2 172.3a2.25 2.25 0 1 0 0.01 0zM852 173.2a2.25 2.25 0 1 0 0.01 0zM855.6 176a2.25 2.25 0 1 0 0.01 0zM848.2 171.8a2.25 2.25 0 1 0 0.01 0zM851.3 172.6a2.25 2.25 0 1 0 0.01 0zM860.8 172.5a2.25 2.25 0 1 0 0.01 0zM856.8 170.9a2.25 2.25 0 1 0 0.01 0zM861.2 170.4a2.25 2.25 0 1 0 0.01 0zM851.8 173.1a2.25 2.25 0 1 0 0.01 0zM855 176.9a2.25 2.25 0 1 0 0.01 0zM848.9 172.1a2.25 2.25 0 1 0 0.01 0zM851 171.4a2.25 2.25 0 1 0 0.01 0zM848.9 171.5a2.25 2.25 0 1 0 0.01 0zM853.7 171.7a2.25 2.25 0 1 0 0.01 0zM856.1 170.8a2.25 2.25 0 1 0 0.01 0zM859.5 171.1a2.25 2.25 0 1 0 0.01 0zM864.4 170.2a2.25 2.25 0 1 0 0.01 0zM856.2 171.3a2.25 2.25 0 1 0 0.01 0zM853.8 173.4a2.25 2.25 0 1 0 0.01 0zM850.9 174.1a2.25 2.25 0 1 0 0.01 0zM853.5 171.5a2.25 2.25 0 1 0 0.01 0zM858 171.2a2.25 2.25 0 1 0 0.01 0zM852.2 171.4a2.25 2.25 0 1 0 0.01 0zM860.5 176.4a2.25 2.25 0 1 0 0.01 0zM859.8 176.4a2.25 2.25 0 1 0 0.01 0zM859.2 175.2a2.25 2.25 0 1 0 0.01 0zM860.3 175.2a2.25 2.25 0 1 0 0.01 0zM860.1 174.1a2.25 2.25 0 1 0 0.01 0zM859.5 174.1a2.25 2.25 0 1 0 0.01 0zM859.3 173a2.25 2.25 0 1 0 0.01 0zM861.3 173a2.25 2.25 0 1 0 0.01 0zM859.2 171.8a2.25 2.25 0 1 0 0.01 0zM859.6 171.8a2.25 2.25 0 1 0 0.01 0z" fill="#fcbb94"/>
<polygon points="866,140.8 866,129.8 867.5,129.7 869.1,129.1 870.6,128.5 872.2,128.2 873.8,128.2 875.3,128.5 876.9,128.6 878.4,128.3 880,127.8 881.5,127.4 883.1,127.4 884.6,128 884.6,140.8" fill="#a37563"/><path d="M867.3 136.3a2.25 2.25 0 1 0 0.01 0zM883.3 136.3a2.25 2.25 0 1 0 0.01 0zM874.4 127.9a2.25 2.25 0 1 0 0.01 0zM871 125.8a2.25 2.25 0 1 0 0.01 0zM874.6 125.3a2.25 2.25 0 1 0 0.01 0zM873.3 126.1a2.25 2.25 0 1 0 0.01 0zM867.8 129.8a2.25 2.25 0 1 0 0.01 0zM882.7 125.7a2.25 2.25 0 1 0 0.01 0zM878.1 127.6a2.25 2.25 0 1 0 0.01 0zM874.9 128.6a2.25 2.25 0 1 0 0.01 0zM870.1 127.2a2.25 2.25 0 1 0 0.01 0zM878.4 128.3a2.25 2.25 0 1 0 0.01 0zM877.6 128.8a2.25 2.25 0 1 0 0.01 0zM877.1 128.8a2.25 2.25 0 1 0 0.01 0zM875.4 128.4a2.25 2.25 0 1 0 0.01 0zM876.1 128.9a2.25 2.25 0 1 0 0.01 0zM875 127.1a2.25 2.25 0 1 0 0.01 0zM869.5 128.9a2.25 2.25 0 1 0 0.01 0zM878.2 127.4a2.25 2.25 0 1 0 0.01 0zM877.2 126.1a2.25 2.25 0 1 0 0.01 0zM876.4 128.7a2.25 2.25 0 1 0 0.01 0zM874.4 125.3a2.25 2.25 0 1 0 0.01 0zM876.4 126.3a2.25 2.25 0 1 0 0.01 0zM873.1 127.6a2.25 2.25 0 1 0 0.01 0zM882.8 124.5a2.25 2.25 0 1 0 0.01 0zM877.7 128.9a2.25 2.25 0 1 0 0.01 0zM877.1 129.1a2.25 2.25 0 1 0 0.01 0zM882.2 120.7a2.25 2.25 0 1 0 0.01 0zM883.3 118.9a2.25 2.25 0 1 0 0.01 0zM883.3 118.9a2.25 2.25 0 1 0 0.01 0zM883.3 120.8a2.25 2.25 0 1 0 0.01 0zM883.3 120.8a2.25 2.25 0 1 0 0.01 0zM883.3 122.7a2.25 2.25 0 1 0 0.01 0zM883.3 122.7a2.25 2.25 0 1 0 0.01 0zM882.7 124.5a2.25 2.25 0 1 0 0.01 0zM883.3 124.5a2.25 2.25 0 1 0 0.01 0zM883.3 126.4a2.25 2.25 0 1 0 0.01 0zM883.3 126.4a2.25 2.25 0 1 0 0.01 0z" fill="#a37563"/>
<polygon points="866,165.8 866,176.9 867.5,176.7 869.1,176.5 870.6,176.3 872.2,176.3 873.8,176.3 875.3,176.3 876.9,176.1 878.4,175.8 880,175.5 881.5,175.2 883.1,175.1 884.6,175.3 884.6,165.8" fill="#a37563"/><path d="M867.3 165.8a2.25 2.25 0 1 0 0.01 0zM883.3 165.8a2.25 2.25 0 1 0 0.01 0zM867.7 172.7a2.25 2.25 0 1 0 0.01 0zM868.4 172.1a2.25 2.25 0 1 0 0.01 0zM877.3 171.6a2.25 2.25 0 1 0 0.01 0zM869.8 172.3a2.25 2.25 0 1 0 0.01 0zM871.8 174.9a2.25 2.25 0 1 0 0.01 0zM881.8 173.2a2.25 2.25 0 1 0 0.01 0zM883.1 171.3a2.25 2.25 0 1 0 0.01 0zM880 171.3a2.25 2.25 0 1 0 0.01 0zM882.1 172.7a2.25 2.25 0 1 0 0.01 0zM879 171.5a2.25 2.25 0 1 0 0.01 0zM868.8 175.2a2.25 2.25 0 1 0 0.01 0zM876.1 172.8a2.25 2.25 0 1 0 0.01 0zM881.1 170.9a2.25 2.25 0 1 0 0.01 0zM878.5 172a2.25 2.25 0 1 0 0.01 0zM879.9 171.7a2.25 2.25 0 1 0 0.01 0zM870.4 175.7a2.25 2.25 0 1 0 0.01 0zM871.8 173.5a2.25 2.25 0 1 0 0.01 0zM880.6 171.1a2.25 2.25 0 1 0 0.01 0zM878.4 171.9a2.25 2.25 0 1 0 0.01 0zM870.9 172.1a2.25 2.25 0 1 0 0.01 0zM882.6 171.1a2.25 2.25 0 1 0 0.01 0zM875.5 172.6a2.25 2.25 0 1 0 0.01 0zM867.7 173.9a2.25 2.25 0 1 0 0.01 0zM879.2 173.7a2.25 2.25 0 1 0 0.01 0zM873 172a2.25 2.25 0 1 0 0.01 0zM872.9 173.4a2.25 2.25 0 1 0 0.01 0zM875.2 177.5a2.25 2.25 0 1 0 0.01 0zM874.9 177.5a2.25 2.25 0 1 0 0.01 0zM875.1 176.4a2.25 2.25 0 1 0 0.01 0zM874.2 176.4a2.25 2.25 0 1 0 0.01 0zM876.4 175.2a2.25 2.25 0 1 0 0.01 0zM874.9 175.2a2.25 2.25 0 1 0 0.01 0zM875 174.1a2.25 2.25 0 1 0 0.01 0zM876.2 174.1a2.25 2.25 0 1 0 0.01 0z" fill="#a37563"/>
<polygon points="884.6,140.8 884.6,127.2 886.2,127.6 887.7,128.2 889.3,128.9 890.9,129.5 892.5,129.8 894,129.9 895.6,129.8 897.2,129.7 898.8,129.7 900.3,129.9 901.9,130.3 903.5,130.7 905.1,130.9 906.6,130.8 908.2,130.4 909.8,129.8 911.4,129.2 912.9,128.7 914.5,128.5 914.5,140.8" fill="#fcbb94"/><path d="M885.9 136.3a2.25 2.25 0 1 0 0.01 0zM913.2 136.3a2.25 2.25 0 1 0 0.01 0zM903.2 129.9a2.25 2.25 0 1 0 0.01 0zM896.2 128.6a2.25 2.25 0 1 0 0.01 0zM891.8 129.2a2.25 2.25 0 1 0 0.01 0zM885.9 124.9a2.25 2.25 0 1 0 0.01 0zM892.8 126.9a2.25 2.25 0 1 0 0.01 0zM901 128.8a2.25 2.25 0 1 0 0.01 0zM903 130.9a2.25 2.25 0 1 0 0.01 0zM907.1 130.6a2.25 2.25 0 1 0 0.01 0zM909.4 127.4a2.25 2.25 0 1 0 0.01 0zM904.4 128a2.25 2.25 0 1 0 0.01 0zM897.8 128a2.25 2.25 0 1 0 0.01 0zM911.9 129.2a2.25 2.25 0 1 0 0.01 0zM888.6 128.2a2.25 2.25 0 1 0 0.01 0zM899.8 130.1a2.25 2.25 0 1 0 0.01 0zM891.9 126.3a2.25 2.25 0 1 0 0.01 0zM896.5 130.1a2.25 2.25 0 1 0 0.01 0zM890.9 128.4a2.25 2.25 0 1 0 0.01 0zM891.1 128.9a2.25 2.25 0 1 0 0.01 0zM900.6 129.4a2.25 2.25 0 1 0 0.01 0zM899.6 126.7a2.25 2.25 0 1 0 0.01 0zM886.4 122.9a2.25 2.25 0 1 0 0.01 0zM891.3 130.2a2.25 2.25 0 1 0 0.01 0zM906.8 129.7a2.25 2.25 0 1 0 0.01 0zM900.6 130.1a2.25 2.25 0 1 0 0.01 0zM907.2 130.6a2.25 2.25 0 1 0 0.01 0zM905.7 131a2.25 2.25 0 1 0 0.01 0zM901.5 128.7a2.25 2.25 0 1 0 0.01 0zM896 129.1a2.25 2.25 0 1 0 0.01 0zM887.7 126.7a2.25 2.25 0 1 0 0.01 0zM904.8 131.2a2.25 2.25 0 1 0 0.01 0zM900.9 128a2.25 2.25 0 1 0 0.01 0zM888.7 125.5a2.25 2.25 0 1 0 0.01 0zM909.7 130.4a2.25 2.25 0 1 0 0.01 0zM892.7 130.3a2.25 2.25 0 1 0 0.01 0zM892.8 130.4a2.25 2.25 0 1 0 0.01 0zM899.3 129.8a2.25 2.25 0 1 0 0.01 0zM894.1 129.3a2.25 2.25 0 1 0 0.01 0zM896 127.2a2.25 2.25 0 1 0 0.01 0zM905.6 131.3a2.25 2.25 0 1 0 0.01 0zM892 130.4a2.25 2.25 0 1 0 0.01 0zM894.9 130.3a2.25 2.25 0 1 0 0.01 0zM904.9 128.4a2.25 2.25 0 1 0 0.01 0zM913.1 128.8a2.25 2.25 0 1 0 0.01 0zM886.9 125.6a2.25 2.25 0 1 0 0.01 0zM902.9 117.1a2.25 2.25 0 1 0 0.01 0zM903.5 117.1a2.25 2.25 0 1 0 0.01 0zM902.8 118.9a2.25 2.25 0 1 0 0.01 0zM902.6 118.9a2.25 2.25 0 1 0 0.01 0zM901.9 120.8a2.25 2.25 0 1 0 0.01 0zM904.2 120.8a2.25 2.25 0 1 0 0.01 0zM903 122.7a2.25 2.25 0 1 0 0.01 0zM902.8 122.7a2.25 2.25 0 1 0 0.01 0zM902.7 124.5a2.25 2.25 0 1 0 0.01 0zM904.1 124.5a2.25 2.25 0 1 0 0.01 0zM904.6 126.4a2.25 2.25 0 1 0 0.01 0zM902.9 126.4a2.25 2.25 0 1 0 0.01 0z" fill="#fcbb94"/>
<polygon points="884.6,165.8 884.6,174.2 886.2,174.1 887.7,174.2 889.3,174.2 890.9,174.1 892.5,173.7 894,173.4 895.6,173.2 897.2,173.3 898.8,173.6 900.3,174.1 901.9,174.4 903.5,174.6 905.1,174.5 906.6,174.5 908.2,174.6 909.8,174.9 911.4,175.3 912.9,175.5 914.5,175.4 914.5,165.8" fill="#fcbb94"/><path d="M885.9 165.8a2.25 2.25 0 1 0 0.01 0zM913.2 165.8a2.25 2.25 0 1 0 0.01 0zM898.5 170.1a2.25 2.25 0 1 0 0.01 0zM892.6 170.2a2.25 2.25 0 1 0 0.01 0zM909.5 170.4a2.25 2.25 0 1 0 0.01 0zM896 171.3a2.25 2.25 0 1 0 0.01 0zM912.6 170.9a2.25 2.25 0 1 0 0.01 0zM903 171.2a2.25 2.25 0 1 0 0.01 0zM908.9 171a2.25 2.25 0 1 0 0.01 0zM889.5 170.1a2.25 2.25 0 1 0 0.01 0zM905.4 171.6a2.25 2.25 0 1 0 0.01 0zM891.5 170.7a2.25 2.25 0 1 0 0.01 0zM903.8 171.3a2.25 2.25 0 1 0 0.01 0zM886.5 170.3a2.25 2.25 0 1 0 0.01 0zM894.8 169.8a2.25 2.25 0 1 0 0.01 0zM895.1 168.8a2.25 2.25 0 1 0 0.01 0zM904.2 170.4a2.25 2.25 0 1 0 0.01 0zM907.5 170.5a2.25 2.25 0 1 0 0.01 0zM900.8 171.7a2.25 2.25 0 1 0 0.01 0zM889.1 171.3a2.25 2.25 0 1 0 0.01 0zM887.8 173.1a2.25 2.25 0 1 0 0.01 0zM886.6 171.2a2.25 2.25 0 1 0 0.01 0zM896 168.9a2.25 2.25 0 1 0 0.01 0zM896.7 169.5a2.25 2.25 0 1 0 0.01 0zM897.2 168.9a2.25 2.25 0 1 0 0.01 0zM900.2 170a2.25 2.25 0 1 0 0.01 0zM912.3 171.5a2.25 2.25 0 1 0 0.01 0zM897.8 169.2a2.25 2.25 0 1 0 0.01 0zM912.3 171.4a2.25 2.25 0 1 0 0.01 0zM903.5 172.2a2.25 2.25 0 1 0 0.01 0zM896.6 170.4a2.25 2.25 0 1 0 0.01 0zM893.5 169.1a2.25 2.25 0 1 0 0.01 0zM887 170.3a2.25 2.25 0 1 0 0.01 0zM909.8 170.7a2.25 2.25 0 1 0 0.01 0zM897.9 170.7a2.25 2.25 0 1 0 0.01 0zM893.4 169.2a2.25 2.25 0 1 0 0.01 0zM900.1 170.2a2.25 2.25 0 1 0 0.01 0zM911.5 173.6a2.25 2.25 0 1 0 0.01 0zM892.4 170.2a2.25 2.25 0 1 0 0.01 0zM897.3 168.8a2.25 2.25 0 1 0 0.01 0zM898 172a2.25 2.25 0 1 0 0.01 0zM894.2 169.9a2.25 2.25 0 1 0 0.01 0zM905.3 170a2.25 2.25 0 1 0 0.01 0zM911.1 170.9a2.25 2.25 0 1 0 0.01 0zM894.1 170.4a2.25 2.25 0 1 0 0.01 0zM886.4 170.1a2.25 2.25 0 1 0 0.01 0zM904.5 176a2.25 2.25 0 1 0 0.01 0zM905 176a2.25 2.25 0 1 0 0.01 0zM903.7 174.9a2.25 2.25 0 1 0 0.01 0zM904.1 174.9a2.25 2.25 0 1 0 0.01 0zM903.9 173.7a2.25 2.25 0 1 0 0.01 0zM903.3 173.7a2.25 2.25 0 1 0 0.01 0zM902.7 172.6a2.25 2.25 0 1 0 0.01 0zM903.3 172.6a2.25 2.25 0 1 0 0.01 0zM905.1 171.4a2.25 2.25 0 1 0 0.01 0zM902.5 171.4a2.25 2.25 0 1 0 0.01 0z" fill="#fcbb94"/>
<polygon points="914.5,140.8 914.5,128.7 916.1,128.9 917.7,128.9 919.2,128.5 920.8,128 922.4,127.4 924,127 925.6,126.7 927.2,126.8 928.7,127.1 930.3,127.7 931.9,128.3 931.9,140.8" fill="#a37563"/><path d="M915.8 136.3a2.25 2.25 0 1 0 0.01 0zM930.6 136.3a2.25 2.25 0 1 0 0.01 0zM926.8 127.2a2.25 2.25 0 1 0 0.01 0zM929.8 127a2.25 2.25 0 1 0 0.01 0zM924.6 123.4a2.25 2.25 0 1 0 0.01 0zM917.3 129.4a2.25 2.25 0 1 0 0.01 0zM926.1 125.5a2.25 2.25 0 1 0 0.01 0zM926.5 126.7a2.25 2.25 0 1 0 0.01 0zM923.1 127.4a2.25 2.25 0 1 0 0.01 0zM922.3 127.5a2.25 2.25 0 1 0 0.01 0zM924.5 126.8a2.25 2.25 0 1 0 0.01 0zM919.9 126.9a2.25 2.25 0 1 0 0.01 0zM917.1 126.3a2.25 2.25 0 1 0 0.01 0zM923.1 127.3a2.25 2.25 0 1 0 0.01 0zM917.5 128.1a2.25 2.25 0 1 0 0.01 0zM923.3 125.2a2.25 2.25 0 1 0 0.01 0zM921.3 127.4a2.25 2.25 0 1 0 0.01 0zM929 127.2a2.25 2.25 0 1 0 0.01 0zM930.3 123.7a2.25 2.25 0 1 0 0.01 0zM930.5 122.5a2.25 2.25 0 1 0 0.01 0zM919.6 125.6a2.25 2.25 0 1 0 0.01 0zM924.9 127a2.25 2.25 0 1 0 0.01 0zM930.6 126.3a2.25 2.25 0 1 0 0.01 0zM927.8 125.8a2.25 2.25 0 1 0 0.01 0zM917 125.5a2.25 2.25 0 1 0 0.01 0zM918.4 128.8a2.25 2.25 0 1 0 0.01 0zM920.1 121.4a2.25 2.25 0 1 0 0.01 0zM919.6 121.4a2.25 2.25 0 1 0 0.01 0zM919.9 123.3a2.25 2.25 0 1 0 0.01 0zM920.5 123.3a2.25 2.25 0 1 0 0.01 0zM918.5 125.2a2.25 2.25 0 1 0 0.01 0zM920.6 125.2a2.25 2.25 0 1 0 0.01 0zM918 127a2.25 2.25 0 1 0 0.01 0zM919.9 127a2.25 2.25 0 1 0 0.01 0zM928 118.9a2.25 2.25 0 1 0 0.01 0z" fill="#a37563"/>
<polygon points="914.5,165.8 914.5,175.4 916.1,175.5 917.7,175.6 919.2,175.5 920.8,175.2 922.4,174.8 924,174.5 925.6,174.4 927.2,174.7 928.7,175.1 930.3,175.6 931.9,175.9 931.9,165.8" fill="#a37563"/><path d="M915.8 165.8a2.25 2.25 0 1 0 0.01 0zM930.6 165.8a2.25 2.25 0 1 0 0.01 0zM922.1 170.9a2.25 2.25 0 1 0 0.01 0zM926.1 171.6a2.25 2.25 0 1 0 0.01 0zM925.4 170.5a2.25 2.25 0 1 0 0.01 0zM924.2 170.8a2.25 2.25 0 1 0 0.01 0zM918.6 174.8a2.25 2.25 0 1 0 0.01 0zM930.1 172.8a2.25 2.25 0 1 0 0.01 0zM930.5 171.9a2.25 2.25 0 1 0 0.01 0zM928.2 170.7a2.25 2.25 0 1 0 0.01 0zM926.8 171.6a2.25 2.25 0 1 0 0.01 0zM929.7 173.1a2.25 2.25 0 1 0 0.01 0zM928.8 171a2.25 2.25 0 1 0 0.01 0zM927.4 171a2.25 2.25 0 1 0 0.01 0zM920.4 171.3a2.25 2.25 0 1 0 0.01 0zM927.6 172.5a2.25 2.25 0 1 0 0.01 0zM928.3 171.8a2.25 2.25 0 1 0 0.01 0zM918.3 171.2a2.25 2.25 0 1 0 0.01 0zM924.2 170.2a2.25 2.25 0 1 0 0.01 0zM920.8 170.8a2.25 2.25 0 1 0 0.01 0zM918.1 172.6a2.25 2.25 0 1 0 0.01 0zM919.1 173.3a2.25 2.25 0 1 0 0.01 0zM920.7 173a2.25 2.25 0 1 0 0.01 0zM920.3 171.1a2.25 2.25 0 1 0 0.01 0zM921.6 170.4a2.25 2.25 0 1 0 0.01 0zM922.2 170.9a2.25 2.25 0 1 0 0.01 0zM924.4 176.4a2.25 2.25 0 1 0 0.01 0zM925.4 176.4a2.25 2.25 0 1 0 0.01 0zM924.7 175.2a2.25 2.25 0 1 0 0.01 0zM923.9 175.2a2.25 2.25 0 1 0 0.01 0zM926.5 174.1a2.25 2.25 0 1 0 0.01 0zM924.1 174.1a2.25 2.25 0 1 0 0.01 0zM923.9 173a2.25 2.25 0 1 0 0.01 0zM922.9 173a2.25 2.25 0 1 0 0.01 0z" fill="#a37563"/>
<polygon points="931.9,140.8 931.9,129.4 933.5,129.7 935,130.1 936.6,130.4 938.2,130.5 938.2,140.8" fill="#fcbb94"/><path d="M933.2 136.3a2.25 2.25 0 1 0 0.01 0zM936.9 136.3a2.25 2.25 0 1 0 0.01 0zM936.8 130.2a2.25 2.25 0 1 0 0.01 0zM936.9 126.7a2.25 2.25 0 1 0 0.01 0zM933.7 126.6a2.25 2.25 0 1 0 0.01 0zM933.3 127.8a2.25 2.25 0 1 0 0.01 0zM936.2 128.6a2.25 2.25 0 1 0 0.01 0zM935.2 127.4a2.25 2.25 0 1 0 0.01 0z" fill="#fcbb94"/>
<polygon points="931.9,165.8 931.9,174.3 933.5,174.8 935,175.1 936.6,175.2 938.2,175 938.2,165.8" fill="#fcbb94"/><path d="M933.2 165.8a2.25 2.25 0 1 0 0.01 0zM936.9 165.8a2.25 2.25 0 1 0 0.01 0zM935.3 172.5a2.25 2.25 0 1 0 0.01 0zM935.5 171.8a2.25 2.25 0 1 0 0.01 0zM936.6 172.7a2.25 2.25 0 1 0 0.01 0zM935.3 171.1a2.25 2.25 0 1 0 0.01 0zM936.6 171.2a2.25 2.25 0 1 0 0.01 0zM933.6 170.8a2.25 2.25 0 1 0 0.01 0z" fill="#fcbb94"/>
<polygon points="938.2,140.8 938.2,128.4 939.8,128.5 941.5,128.2 943.1,127.6 944.7,127.3 946.3,127.7 948,128.5 949.6,129.3 951.2,129.6 951.2,140.8" fill="#a37563"/><path d="M939.5 136.3a2.25 2.25 0 1 0 0.01 0zM949.9 136.3a2.25 2.25 0 1 0 0.01 0zM944.1 126.8a2.25 2.25 0 1 0 0.01 0zM947.4 128a2.25 2.25 0 1 0 0.01 0zM940.6 127.1a2.25 2.25 0 1 0 0.01 0zM947.9 128.5a2.25 2.25 0 1 0 0.01 0zM946.6 123.9a2.25 2.25 0 1 0 0.01 0zM940.8 128.7a2.25 2.25 0 1 0 0.01 0zM944.6 127.2a2.25 2.25 0 1 0 0.01 0zM949.4 118.1a2.25 2.25 0 1 0 0.01 0zM944.1 124.8a2.25 2.25 0 1 0 0.01 0zM946.1 127.8a2.25 2.25 0 1 0 0.01 0zM949.6 129.5a2.25 2.25 0 1 0 0.01 0zM940.3 127.9a2.25 2.25 0 1 0 0.01 0zM939.7 127.9a2.25 2.25 0 1 0 0.01 0zM943.8 121.8a2.25 2.25 0 1 0 0.01 0zM943.8 124.2a2.25 2.25 0 1 0 0.01 0zM947.6 127.1a2.25 2.25 0 1 0 0.01 0zM942 127.9a2.25 2.25 0 1 0 0.01 0zM949.9 119.6a2.25 2.25 0 1 0 0.01 0zM949.9 119.6a2.25 2.25 0 1 0 0.01 0zM949.9 121.4a2.25 2.25 0 1 0 0.01 0zM949.9 121.4a2.25 2.25 0 1 0 0.01 0zM949.9 123.3a2.25 2.25 0 1 0 0.01 0zM949.9 123.3a2.25 2.25 0 1 0 0.01 0zM949.9 125.2a2.25 2.25 0 1 0 0.01 0zM949.2 125.2a2.25 2.25 0 1 0 0.01 0zM943.8 120.8a2.25 2.25 0 1 0 0.01 0zM943.4 120.8a2.25 2.25 0 1 0 0.01 0zM943 122.7a2.25 2.25 0 1 0 0.01 0zM942.9 122.7a2.25 2.25 0 1 0 0.01 0zM943.7 124.5a2.25 2.25 0 1 0 0.01 0zM945.2 124.5a2.25 2.25 0 1 0 0.01 0zM945 126.4a2.25 2.25 0 1 0 0.01 0zM946.3 126.4a2.25 2.25 0 1 0 0.01 0z" fill="#a37563"/>
<polygon points="938.2,165.8 938.2,176.5 939.8,176.5 941.5,176.6 943.1,176.9 944.7,177.2 946.3,177.6 948,177.9 949.6,177.9 951.2,177.8 951.2,165.8" fill="#a37563"/><path d="M939.5 165.8a2.25 2.25 0 1 0 0.01 0zM949.9 165.8a2.25 2.25 0 1 0 0.01 0zM946 173.1a2.25 2.25 0 1 0 0.01 0zM945.1 173.4a2.25 2.25 0 1 0 0.01 0zM944.6 173.3a2.25 2.25 0 1 0 0.01 0zM940.6 173.6a2.25 2.25 0 1 0 0.01 0zM947.8 174.5a2.25 2.25 0 1 0 0.01 0zM940.7 173.1a2.25 2.25 0 1 0 0.01 0zM948.6 178.8a2.25 2.25 0 1 0 0.01 0zM947.4 173.3a2.25 2.25 0 1 0 0.01 0zM948.6 174.8a2.25 2.25 0 1 0 0.01 0zM942.4 175.3a2.25 2.25 0 1 0 0.01 0zM948.1 176.2a2.25 2.25 0 1 0 0.01 0zM942.1 173.2a2.25 2.25 0 1 0 0.01 0zM943.4 172.8a2.25 2.25 0 1 0 0.01 0zM947.4 174.5a2.25 2.25 0 1 0 0.01 0zM942.9 173.3a2.25 2.25 0 1 0 0.01 0zM949.1 174.4a2.25 2.25 0 1 0 0.01 0zM949 174.4a2.25 2.25 0 1 0 0.01 0zM946.6 177.2a2.25 2.25 0 1 0 0.01 0zM945.4 177.2a2.25 2.25 0 1 0 0.01 0zM945.9 176a2.25 2.25 0 1 0 0.01 0zM946.1 176a2.25 2.25 0 1 0 0.01 0zM946.8 174.9a2.25 2.25 0 1 0 0.01 0zM947.7 174.9a2.25 2.25 0 1 0 0.01 0zM946.6 173.7a2.25 2.25 0 1 0 0.01 0zM945.9 173.7a2.25 2.25 0 1 0 0.01 0zM949.6 178.3a2.25 2.25 0 1 0 0.01 0z" fill="#a37563"/>
<polygon points="951.2,140.8 951.2,129.9 952.8,129.6 954.4,129.1 955.9,128.4 957.5,127.7 959.1,127.2 960.7,127.1 962.3,127.2 963.8,127.3 965.4,127.4 967,127.2 967,140.8" fill="#fcbb94"/><path d="M952.5 136.3a2.25 2.25 0 1 0 0.01 0zM965.7 136.3a2.25 2.25 0 1 0 0.01 0zM964.1 127.9a2.25 2.25 0 1 0 0.01 0zM962.9 127.8a2.25 2.25 0 1 0 0.01 0zM961.1 124.4a2.25 2.25 0 1 0 0.01 0zM955.6 128.2a2.25 2.25 0 1 0 0.01 0zM955.5 126.7a2.25 2.25 0 1 0 0.01 0zM959.5 125.9a2.25 2.25 0 1 0 0.01 0zM956.8 126.8a2.25 2.25 0 1 0 0.01 0zM965.1 124.9a2.25 2.25 0 1 0 0.01 0zM965.1 127.5a2.25 2.25 0 1 0 0.01 0zM959.3 126.8a2.25 2.25 0 1 0 0.01 0zM957.1 125.2a2.25 2.25 0 1 0 0.01 0zM954.8 127.9a2.25 2.25 0 1 0 0.01 0zM962.7 122.2a2.25 2.25 0 1 0 0.01 0zM952.7 129.6a2.25 2.25 0 1 0 0.01 0zM959 122.2a2.25 2.25 0 1 0 0.01 0zM954.6 125.8a2.25 2.25 0 1 0 0.01 0zM957.7 126.6a2.25 2.25 0 1 0 0.01 0zM964.7 127.9a2.25 2.25 0 1 0 0.01 0zM956.8 128.3a2.25 2.25 0 1 0 0.01 0zM954.3 129a2.25 2.25 0 1 0 0.01 0zM961.7 126a2.25 2.25 0 1 0 0.01 0zM954.1 126.5a2.25 2.25 0 1 0 0.01 0z" fill="#fcbb94"/>
<polygon points="951.2,165.8 951.2,174.8 952.8,174.5 954.4,174.7 955.9,175 957.5,175.1 959.1,175 960.7,174.7 962.3,174.8 963.8,175.2 965.4,175.7 967,176 967,165.8" fill="#fcbb94"/><path d="M952.5 165.8a2.25 2.25 0 1 0 0.01 0zM965.7 165.8a2.25 2.25 0 1 0 0.01 0zM963.2 170.8a2.25 2.25 0 1 0 0.01 0zM952.5 172.5a2.25 2.25 0 1 0 0.01 0zM963.4 170.6a2.25 2.25 0 1 0 0.01 0zM962.6 172.1a2.25 2.25 0 1 0 0.01 0zM960.9 172.4a2.25 2.25 0 1 0 0.01 0zM965.5 171.7a2.25 2.25 0 1 0 0.01 0zM963.5 173.7a2.25 2.25 0 1 0 0.01 0zM956.6 172a2.25 2.25 0 1 0 0.01 0zM961.5 172.5a2.25 2.25 0 1 0 0.01 0zM960 170.7a2.25 2.25 0 1 0 0.01 0zM955.8 171.4a2.25 2.25 0 1 0 0.01 0zM954.3 172.6a2.25 2.25 0 1 0 0.01 0zM964.2 171.1a2.25 2.25 0 1 0 0.01 0zM961.7 171.6a2.25 2.25 0 1 0 0.01 0zM954.1 172a2.25 2.25 0 1 0 0.01 0zM962.6 170.7a2.25 2.25 0 1 0 0.01 0zM953.8 170.4a2.25 2.25 0 1 0 0.01 0zM962.7 171.1a2.25 2.25 0 1 0 0.01 0zM963.3 170.7a2.25 2.25 0 1 0 0.01 0zM953.9 170.6a2.25 2.25 0 1 0 0.01 0zM964.1 171a2.25 2.25 0 1 0 0.01 0zM953.5 171.7a2.25 2.25 0 1 0 0.01 0zM959.5 175.6a2.25 2.25 0 1 0 0.01 0zM960.2 175.6a2.25 2.25 0 1 0 0.01 0zM958.6 174.5a2.25 2.25 0 1 0 0.01 0zM959.2 174.5a2.25 2.25 0 1 0 0.01 0zM960.9 173.3a2.25 2.25 0 1 0 0.01 0zM962 173.3a2.25 2.25 0 1 0 0.01 0z" fill="#fcbb94"/>
<polygon points="967,140.8 967,129.5 969.1,130.1 971.3,130.1 971.3,140.8" fill="#a37563"/><path d="M968.3 136.3a2.25 2.25 0 1 0 0.01 0zM970 136.3a2.25 2.25 0 1 0 0.01 0zM969.5 127.7a2.25 2.25 0 1 0 0.01 0zM969.2 128.3a2.25 2.25 0 1 0 0.01 0zM968.5 129.6a2.25 2.25 0 1 0 0.01 0z" fill="#a37563"/>
<polygon points="967,165.8 967,176.3 969.1,176.6 971.3,176.9 971.3,165.8" fill="#a37563"/><path d="M968.3 165.8a2.25 2.25 0 1 0 0.01 0zM970 165.8a2.25 2.25 0 1 0 0.01 0zM969.8 173.4a2.25 2.25 0 1 0 0.01 0zM969.1 172.7a2.25 2.25 0 1 0 0.01 0zM969.9 175.7a2.25 2.25 0 1 0 0.01 0zM969.9 176.4a2.25 2.25 0 1 0 0.01 0zM970 176.4a2.25 2.25 0 1 0 0.01 0zM970 175.2a2.25 2.25 0 1 0 0.01 0zM969.6 175.2a2.25 2.25 0 1 0 0.01 0zM969.5 174.1a2.25 2.25 0 1 0 0.01 0zM969.1 174.1a2.25 2.25 0 1 0 0.01 0zM970 173a2.25 2.25 0 1 0 0.01 0zM970 173a2.25 2.25 0 1 0 0.01 0z" fill="#a37563"/>
<polygon points="971.3,140.8 971.3,127.4 972.9,127.9 974.6,127.7 976.2,127.1 977.8,126.4 979.5,126.2 981.1,126.4 982.7,126.5 984.4,126.1 986,125.3 986,140.8" fill="#fcbb94"/><path d="M972.6 136.3a2.25 2.25 0 1 0 0.01 0zM984.7 136.3a2.25 2.25 0 1 0 0.01 0zM983.4 126.1a2.25 2.25 0 1 0 0.01 0zM974.1 126.4a2.25 2.25 0 1 0 0.01 0zM981.6 121.9a2.25 2.25 0 1 0 0.01 0zM980.6 126.2a2.25 2.25 0 1 0 0.01 0zM978.8 126.2a2.25 2.25 0 1 0 0.01 0zM978 125.7a2.25 2.25 0 1 0 0.01 0zM983.6 122.2a2.25 2.25 0 1 0 0.01 0zM983.8 125.7a2.25 2.25 0 1 0 0.01 0zM984.3 126.5a2.25 2.25 0 1 0 0.01 0zM983.7 124.9a2.25 2.25 0 1 0 0.01 0zM983.2 126a2.25 2.25 0 1 0 0.01 0zM984.6 126.6a2.25 2.25 0 1 0 0.01 0zM982.9 123.7a2.25 2.25 0 1 0 0.01 0zM977.1 123.7a2.25 2.25 0 1 0 0.01 0zM975.2 125.3a2.25 2.25 0 1 0 0.01 0zM978.3 125.9a2.25 2.25 0 1 0 0.01 0zM975 124.9a2.25 2.25 0 1 0 0.01 0zM981.4 126.9a2.25 2.25 0 1 0 0.01 0zM984.4 126.2a2.25 2.25 0 1 0 0.01 0zM977.1 126.2a2.25 2.25 0 1 0 0.01 0zM980.1 117.1a2.25 2.25 0 1 0 0.01 0zM980.5 117.1a2.25 2.25 0 1 0 0.01 0zM980.9 118.9a2.25 2.25 0 1 0 0.01 0zM980.3 118.9a2.25 2.25 0 1 0 0.01 0zM979.6 120.8a2.25 2.25 0 1 0 0.01 0zM978.9 120.8a2.25 2.25 0 1 0 0.01 0zM978.4 122.7a2.25 2.25 0 1 0 0.01 0zM980.1 122.7a2.25 2.25 0 1 0 0.01 0zM980.4 124.5a2.25 2.25 0 1 0 0.01 0zM979.8 124.5a2.25 2.25 0 1 0 0.01 0zM972.4 120.2a2.25 2.25 0 1 0 0.01 0zM980 106.5a2.25 2.25 0 1 0 0.01 0z" fill="#fcbb94"/>
<polygon points="971.3,165.8 971.3,176.7 972.9,176.3 974.6,175.8 976.2,175.5 977.8,175.5 979.5,175.7 981.1,175.5 982.7,175 984.4,174.6 986,174.6 986,165.8" fill="#fcbb94"/><path d="M972.6 165.8a2.25 2.25 0 1 0 0.01 0zM984.7 165.8a2.25 2.25 0 1 0 0.01 0zM979.7 172.1a2.25 2.25 0 1 0 0.01 0zM977.7 171.3a2.25 2.25 0 1 0 0.01 0zM976.4 171.8a2.25 2.25 0 1 0 0.01 0zM978 175.9a2.25 2.25 0 1 0 0.01 0zM979.4 171.4a2.25 2.25 0 1 0 0.01 0zM973.2 171.9a2.25 2.25 0 1 0 0.01 0zM976.8 172.8a2.25 2.25 0 1 0 0.01 0zM983.4 170.6a2.25 2.25 0 1 0 0.01 0zM982 171.4a2.25 2.25 0 1 0 0.01 0zM979.1 172a2.25 2.25 0 1 0 0.01 0zM973.1 171.8a2.25 2.25 0 1 0 0.01 0zM980.7 172.5a2.25 2.25 0 1 0 0.01 0zM977.2 174.1a2.25 2.25 0 1 0 0.01 0zM982.5 171a2.25 2.25 0 1 0 0.01 0zM973.4 172.6a2.25 2.25 0 1 0 0.01 0zM980.5 171.4a2.25 2.25 0 1 0 0.01 0zM973.1 172.5a2.25 2.25 0 1 0 0.01 0zM973 173.4a2.25 2.25 0 1 0 0.01 0zM980.2 171.5a2.25 2.25 0 1 0 0.01 0zM978 171.3a2.25 2.25 0 1 0 0.01 0z" fill="#fcbb94"/>
<polygon points="986,140.8 986,127.9 987.7,127.7 989.5,127.2 991.2,126.8 992.9,126.7 994.7,126.7 996.4,126.7 996.4,140.8" fill="#a37563"/><path d="M987.3 136.3a2.25 2.25 0 1 0 0.01 0zM995.1 136.3a2.25 2.25 0 1 0 0.01 0zM993.6 125.5a2.25 2.25 0 1 0 0.01 0zM992.4 126.3a2.25 2.25 0 1 0 0.01 0zM991.7 127a2.25 2.25 0 1 0 0.01 0zM994.9 125.1a2.25 2.25 0 1 0 0.01 0zM991.4 125.4a2.25 2.25 0 1 0 0.01 0zM988.1 127.4a2.25 2.25 0 1 0 0.01 0zM989.1 124.2a2.25 2.25 0 1 0 0.01 0zM987.4 127.2a2.25 2.25 0 1 0 0.01 0zM994.1 124.2a2.25 2.25 0 1 0 0.01 0zM992.9 126.6a2.25 2.25 0 1 0 0.01 0zM989.1 125.5a2.25 2.25 0 1 0 0.01 0zM989.6 125.2a2.25 2.25 0 1 0 0.01 0zM990 124.8a2.25 2.25 0 1 0 0.01 0zM995.1 114.6a2.25 2.25 0 1 0 0.01 0zM995.1 114.6a2.25 2.25 0 1 0 0.01 0zM995.1 116.4a2.25 2.25 0 1 0 0.01 0zM995.1 116.4a2.25 2.25 0 1 0 0.01 0zM995.1 118.3a2.25 2.25 0 1 0 0.01 0zM994.7 118.3a2.25 2.25 0 1 0 0.01 0zM995.1 120.2a2.25 2.25 0 1 0 0.01 0zM994.5 120.2a2.25 2.25 0 1 0 0.01 0zM995.1 122a2.25 2.25 0 1 0 0.01 0zM995.1 122a2.25 2.25 0 1 0 0.01 0zM995.1 123.9a2.25 2.25 0 1 0 0.01 0zM995.1 123.9a2.25 2.25 0 1 0 0.01 0zM994.6 125.8a2.25 2.25 0 1 0 0.01 0zM995.1 125.8a2.25 2.25 0 1 0 0.01 0zM992.1 117.7a2.25 2.25 0 1 0 0.01 0zM992.3 117.7a2.25 2.25 0 1 0 0.01 0zM992 119.6a2.25 2.25 0 1 0 0.01 0zM991 119.6a2.25 2.25 0 1 0 0.01 0zM992.8 121.4a2.25 2.25 0 1 0 0.01 0zM991.2 121.4a2.25 2.25 0 1 0 0.01 0zM991.9 123.3a2.25 2.25 0 1 0 0.01 0zM990.1 123.3a2.25 2.25 0 1 0 0.01 0zM990.8 125.2a2.25 2.25 0 1 0 0.01 0zM992.8 125.2a2.25 2.25 0 1 0 0.01 0z" fill="#a37563"/>
<polygon points="986,165.8 986,176.1 987.7,176.2 989.5,176.5 991.2,176.8 992.9,177 994.7,177 996.4,176.8 996.4,165.8" fill="#a37563"/><path d="M987.3 165.8a2.25 2.25 0 1 0 0.01 0zM995.1 165.8a2.25 2.25 0 1 0 0.01 0zM991.5 173.4a2.25 2.25 0 1 0 0.01 0zM993 172.7a2.25 2.25 0 1 0 0.01 0zM989.7 172.5a2.25 2.25 0 1 0 0.01 0zM988 172.3a2.25 2.25 0 1 0 0.01 0zM993 173.5a2.25 2.25 0 1 0 0.01 0zM988.6 173.5a2.25 2.25 0 1 0 0.01 0zM988.2 173.5a2.25 2.25 0 1 0 0.01 0zM988.4 171.9a2.25 2.25 0 1 0 0.01 0zM989.3 172.8a2.25 2.25 0 1 0 0.01 0zM989.4 174.7a2.25 2.25 0 1 0 0.01 0zM994.6 172.9a2.25 2.25 0 1 0 0.01 0zM993.1 173.9a2.25 2.25 0 1 0 0.01 0zM991.7 172.7a2.25 2.25 0 1 0 0.01 0zM990.5 176.4a2.25 2.25 0 1 0 0.01 0zM990.5 176.4a2.25 2.25 0 1 0 0.01 0zM988.7 175.2a2.25 2.25 0 1 0 0.01 0zM989.6 175.2a2.25 2.25 0 1 0 0.01 0zM989.3 174.1a2.25 2.25 0 1 0 0.01 0zM988.8 174.1a2.25 2.25 0 1 0 0.01 0z" fill="#a37563"/>
<polygon points="996.4,140.8 996.4,126.6 998,127 999.5,127.6 1001.1,128.2 1002.7,128.9 1004.3,129.4 1005.9,129.8 1007.4,130 1009,130 1009,140.8" fill="#fcbb94"/><path d="M997.7 136.3a2.25 2.25 0 1 0 0.01 0zM1007.7 136.3a2.25 2.25 0 1 0 0.01 0zM1006.7 129.9a2.25 2.25 0 1 0 0.01 0zM999.8 128.1a2.25 2.25 0 1 0 0.01 0zM1001.4 128.7a2.25 2.25 0 1 0 0.01 0zM999.5 127.6a2.25 2.25 0 1 0 0.01 0zM1003.5 128.6a2.25 2.25 0 1 0 0.01 0zM1000.7 127.2a2.25 2.25 0 1 0 0.01 0zM1005.4 127.7a2.25 2.25 0 1 0 0.01 0zM1001.1 123.8a2.25 2.25 0 1 0 0.01 0zM1005.6 128.7a2.25 2.25 0 1 0 0.01 0zM1002.5 128.6a2.25 2.25 0 1 0 0.01 0zM999 123.6a2.25 2.25 0 1 0 0.01 0zM1003.8 129.7a2.25 2.25 0 1 0 0.01 0zM1007 126.1a2.25 2.25 0 1 0 0.01 0zM998 125.2a2.25 2.25 0 1 0 0.01 0zM1000.1 126.9a2.25 2.25 0 1 0 0.01 0zM1006 129.6a2.25 2.25 0 1 0 0.01 0zM1002.7 127.3a2.25 2.25 0 1 0 0.01 0zM1004.6 120.2a2.25 2.25 0 1 0 0.01 0zM1005.1 120.2a2.25 2.25 0 1 0 0.01 0zM1004.8 122a2.25 2.25 0 1 0 0.01 0zM1006 122a2.25 2.25 0 1 0 0.01 0zM1004 123.9a2.25 2.25 0 1 0 0.01 0zM1005.7 123.9a2.25 2.25 0 1 0 0.01 0zM1003.1 125.8a2.25 2.25 0 1 0 0.01 0zM1004.1 125.8a2.25 2.25 0 1 0 0.01 0zM1003.1 127.6a2.25 2.25 0 1 0 0.01 0zM1003.2 127.6a2.25 2.25 0 1 0 0.01 0z" fill="#fcbb94"/>
<polygon points="996.4,165.8 996.4,175.4 998,175.7 999.5,175.6 1001.1,175.4 1002.7,175.2 1004.3,175.3 1005.9,175.5 1007.4,175.6 1009,175.3 1009,165.8" fill="#fcbb94"/><path d="M997.7 165.8a2.25 2.25 0 1 0 0.01 0zM1007.7 165.8a2.25 2.25 0 1 0 0.01 0zM999 171.5a2.25 2.25 0 1 0 0.01 0zM1005.3 171.7a2.25 2.25 0 1 0 0.01 0zM1007 171.5a2.25 2.25 0 1 0 0.01 0zM1001.7 174.7a2.25 2.25 0 1 0 0.01 0zM1001.1 175.1a2.25 2.25 0 1 0 0.01 0zM1006.6 171.3a2.25 2.25 0 1 0 0.01 0zM1003.2 174.2a2.25 2.25 0 1 0 0.01 0zM998.9 173.5a2.25 2.25 0 1 0 0.01 0zM1005.4 172.6a2.25 2.25 0 1 0 0.01 0zM1003.7 170.8a2.25 2.25 0 1 0 0.01 0zM1007.3 171.2a2.25 2.25 0 1 0 0.01 0zM1005.5 172.5a2.25 2.25 0 1 0 0.01 0zM1000.9 172.3a2.25 2.25 0 1 0 0.01 0zM1001.8 172.4a2.25 2.25 0 1 0 0.01 0zM998.1 174.6a2.25 2.25 0 1 0 0.01 0zM1001.5 172.8a2.25 2.25 0 1 0 0.01 0zM1002.4 172.7a2.25 2.25 0 1 0 0.01 0z" fill="#fcbb94"/>
<polygon points="1009,140.8 1009,129.8 1010.6,130.5 1012.2,130.7 1013.8,130.4 1015.4,130.2 1017,130.4 1018.6,131 1018.6,140.8" fill="#fcbb94"/><path d="M1010.3 136.3a2.25 2.25 0 1 0 0.01 0zM1017.3 136.3a2.25 2.25 0 1 0 0.01 0zM1015 129.7a2.25 2.25 0 1 0 0.01 0zM1017.1 125.1a2.25 2.25 0 1 0 0.01 0zM1017 130.9a2.25 2.25 0 1 0 0.01 0zM1015.2 128.1a2.25 2.25 0 1 0 0.01 0zM1014.5 130.9a2.25 2.25 0 1 0 0.01 0zM1016.8 129.8a2.25 2.25 0 1 0 0.01 0zM1014.5 127.4a2.25 2.25 0 1 0 0.01 0zM1012.2 131.3a2.25 2.25 0 1 0 0.01 0zM1016.8 130.3a2.25 2.25 0 1 0 0.01 0zM1010.6 130.8a2.25 2.25 0 1 0 0.01 0zM1017.3 128.4a2.25 2.25 0 1 0 0.01 0zM1011.8 131a2.25 2.25 0 1 0 0.01 0zM1014.5 122a2.25 2.25 0 1 0 0.01 0zM1014.2 122a2.25 2.25 0 1 0 0.01 0zM1014.2 123.9a2.25 2.25 0 1 0 0.01 0zM1013.1 123.9a2.25 2.25 0 1 0 0.01 0zM1013.7 125.8a2.25 2.25 0 1 0 0.01 0zM1015.7 125.8a2.25 2.25 0 1 0 0.01 0zM1011.5 127.6a2.25 2.25 0 1 0 0.01 0zM1013.6 127.6a2.25 2.25 0 1 0 0.01 0z" fill="#fcbb94"/>
<polygon points="1009,165.8 1009,175.8 1010.6,175.7 1012.2,175.8 1013.8,176.2 1015.4,176.7 1017,177.1 1018.6,177.2 1018.6,165.8" fill="#fcbb94"/><path d="M1010.3 165.8a2.25 2.25 0 1 0 0.01 0zM1017.3 165.8a2.25 2.25 0 1 0 0.01 0zM1010.6 172.6a2.25 2.25 0 1 0 0.01 0zM1013.7 172.5a2.25 2.25 0 1 0 0.01 0zM1011.3 172a2.25 2.25 0 1 0 0.01 0zM1015.9 172.5a2.25 2.25 0 1 0 0.01 0zM1016.4 173.2a2.25 2.25 0 1 0 0.01 0zM1012.2 171.6a2.25 2.25 0 1 0 0.01 0zM1013.5 172.8a2.25 2.25 0 1 0 0.01 0zM1014.3 174.6a2.25 2.25 0 1 0 0.01 0zM1013.9 172.6a2.25 2.25 0 1 0 0.01 0zM1017.2 172.9a2.25 2.25 0 1 0 0.01 0zM1010.4 171.7a2.25 2.25 0 1 0 0.01 0zM1012.5 171.4a2.25 2.25 0 1 0 0.01 0zM1010.3 175.6a2.25 2.25 0 1 0 0.01 0zM1010.3 175.6a2.25 2.25 0 1 0 0.01 0zM1011.3 174.5a2.25 2.25 0 1 0 0.01 0zM1010.3 174.5a2.25 2.25 0 1 0 0.01 0zM1011.9 173.3a2.25 2.25 0 1 0 0.01 0zM1011 173.3a2.25 2.25 0 1 0 0.01 0zM1011.6 172.2a2.25 2.25 0 1 0 0.01 0zM1011.8 172.2a2.25 2.25 0 1 0 0.01 0z" fill="#fcbb94"/>
<polygon points="498.5,140.8 498.5,129.7 500,129.1 501.6,128.3 503.1,127.2 504.6,125.7 506.2,123.5 507.7,120.4 509.2,116.1 510.8,110.1 512.3,115.8 513.8,120.2 515.4,123.3 516.9,125.6 518.4,127.1 520,128.3 521.5,129.1 523,129.6 524.5,129.2 526.1,128.8 527.6,128.9 529.1,129.4 530.7,129.9 532.2,129.9 533.7,129.7 535.3,129.4 536.8,129.4 538.3,129.9 539.9,130.5 541.4,130.7 542.9,130.3 544.5,129.6 546,129.1 546,140.8" fill="#a37563"/><path d="M499.8 136.3a2.25 2.25 0 1 0 0.01 0zM544.7 136.3a2.25 2.25 0 1 0 0.01 0zM507.3 119.6a2.25 2.25 0 1 0 0.01 0zM535.9 122.2a2.25 2.25 0 1 0 0.01 0zM509.2 114.8a2.25 2.25 0 1 0 0.01 0zM533.3 128.3a2.25 2.25 0 1 0 0.01 0zM523 127.7a2.25 2.25 0 1 0 0.01 0zM528.9 127.8a2.25 2.25 0 1 0 0.01 0zM522 128.2a2.25 2.25 0 1 0 0.01 0zM505.6 124a2.25 2.25 0 1 0 0.01 0zM519.2 127.6a2.25 2.25 0 1 0 0.01 0zM517.4 125.9a2.25 2.25 0 1 0 0.01 0zM543.4 130.6a2.25 2.25 0 1 0 0.01 0zM532.2 129.6a2.25 2.25 0 1 0 0.01 0zM526.4 128.5a2.25 2.25 0 1 0 0.01 0zM500.5 126.9a2.25 2.25 0 1 0 0.01 0zM512.6 116.9a2.25 2.25 0 1 0 0.01 0zM502.4 126.1a2.25 2.25 0 1 0 0.01 0zM510.6 109.5a2.25 2.25 0 1 0 0.01 0zM535.6 128.7a2.25 2.25 0 1 0 0.01 0zM510.3 110.4a2.25 2.25 0 1 0 0.01 0zM538.3 130.3a2.25 2.25 0 1 0 0.01 0zM544 127.9a2.25 2.25 0 1 0 0.01 0zM506.3 121.9a2.25 2.25 0 1 0 0.01 0zM502.9 126.3a2.25 2.25 0 1 0 0.01 0zM521.1 126.8a2.25 2.25 0 1 0 0.01 0zM527.5 129.3a2.25 2.25 0 1 0 0.01 0zM518.7 125.5a2.25 2.25 0 1 0 0.01 0zM532.6 130.3a2.25 2.25 0 1 0 0.01 0zM515.2 123a2.25 2.25 0 1 0 0.01 0zM519.5 128a2.25 2.25 0 1 0 0.01 0zM532.1 129.8a2.25 2.25 0 1 0 0.01 0zM542.5 130.3a2.25 2.25 0 1 0 0.01 0zM504.8 124.5a2.25 2.25 0 1 0 0.01 0zM528.4 128.9a2.25 2.25 0 1 0 0.01 0zM505.4 125.1a2.25 2.25 0 1 0 0.01 0zM513.5 117.7a2.25 2.25 0 1 0 0.01 0zM522.9 128.7a2.25 2.25 0 1 0 0.01 0zM512.2 115.9a2.25 2.25 0 1 0 0.01 0zM511.6 111.3a2.25 2.25 0 1 0 0.01 0zM507.2 122a2.25 2.25 0 1 0 0.01 0zM509.4 115.3a2.25 2.25 0 1 0 0.01 0zM533.9 129.2a2.25 2.25 0 1 0 0.01 0zM517.6 124.5a2.25 2.25 0 1 0 0.01 0zM518.9 126.2a2.25 2.25 0 1 0 0.01 0zM543.7 129.1a2.25 2.25 0 1 0 0.01 0zM516.9 126.1a2.25 2.25 0 1 0 0.01 0zM539.5 130.1a2.25 2.25 0 1 0 0.01 0zM520.5 128.9a2.25 2.25 0 1 0 0.01 0zM507.7 119.1a2.25 2.25 0 1 0 0.01 0zM524.2 128.7a2.25 2.25 0 1 0 0.01 0zM519.2 128a2.25 2.25 0 1 0 0.01 0zM509.3 115.1a2.25 2.25 0 1 0 0.01 0zM514.5 121.7a2.25 2.25 0 1 0 0.01 0zM512.4 114.6a2.25 2.25 0 1 0 0.01 0zM535.2 127.6a2.25 2.25 0 1 0 0.01 0zM529.2 129.8a2.25 2.25 0 1 0 0.01 0zM507.2 120.9a2.25 2.25 0 1 0 0.01 0zM536.7 128.3a2.25 2.25 0 1 0 0.01 0zM510.7 109.1a2.25 2.25 0 1 0 0.01 0zM515.1 120.8a2.25 2.25 0 1 0 0.01 0zM511.3 112.7a2.25 2.25 0 1 0 0.01 0zM529.1 129.1a2.25 2.25 0 1 0 0.01 0zM513.1 118.8a2.25 2.25 0 1 0 0.01 0zM536 122.1a2.25 2.25 0 1 0 0.01 0zM530.4 129.8a2.25 2.25 0 1 0 0.01 0zM503.7 123.6a2.25 2.25 0 1 0 0.01 0zM527.3 128.6a2.25 2.25 0 1 0 0.01 0zM519.4 126a2.25 2.25 0 1 0 0.01 0zM507.2 120.5a2.25 2.25 0 1 0 0.01 0zM522.7 127.8a2.25 2.25 0 1 0 0.01 0zM504.8 125.7a2.25 2.25 0 1 0 0.01 0zM522.9 128.8a2.25 2.25 0 1 0 0.01 0zM532.4 126a2.25 2.25 0 1 0 0.01 0zM525.4 121.4a2.25 2.25 0 1 0 0.01 0zM526.4 121.4a2.25 2.25 0 1 0 0.01 0zM524.3 123.3a2.25 2.25 0 1 0 0.01 0zM525.3 123.3a2.25 2.25 0 1 0 0.01 0zM523.9 125.2a2.25 2.25 0 1 0 0.01 0zM526.6 125.2a2.25 2.25 0 1 0 0.01 0zM528.4 127a2.25 2.25 0 1 0 0.01 0zM522.9 127a2.25 2.25 0 1 0 0.01 0zM523.8 128.9a2.25 2.25 0 1 0 0.01 0zM529.8 128.9a2.25 2.25 0 1 0 0.01 0zM540.2 120.2a2.25 2.25 0 1 0 0.01 0zM539.5 120.2a2.25 2.25 0 1 0 0.01 0zM540.5 122a2.25 2.25 0 1 0 0.01 0zM540.7 122a2.25 2.25 0 1 0 0.01 0zM539.7 123.9a2.25 2.25 0 1 0 0.01 0zM538.7 123.9a2.25 2.25 0 1 0 0.01 0zM540.8 125.8a2.25 2.25 0 1 0 0.01 0zM539.1 125.8a2.25 2.25 0 1 0 0.01 0zM537.7 127.6a2.25 2.25 0 1 0 0.01 0zM537.9 127.6a2.25 2.25 0 1 0 0.01 0zM502.9 122a2.25 2.25 0 1 0 0.01 0zM502.5 122a2.25 2.25 0 1 0 0.01 0zM502.7 123.9a2.25 2.25 0 1 0 0.01 0zM503.1 123.9a2.25 2.25 0 1 0 0.01 0zM503.2 125.8a2.25 2.25 0 1 0 0.01 0zM502.7 125.8a2.25 2.25 0 1 0 0.01 0zM504.3 127.6a2.25 2.25 0 1 0 0.01 0zM501.2 127.6a2.25 2.25 0 1 0 0.01 0zM535.6 117.7a2.25 2.25 0 1 0 0.01 0z" fill="#a37563"/>
<polygon points="498.5,165.8 498.5,175 500,174.7 501.6,174.5 503.1,174.6 504.6,175.6 506.2,177.2 507.7,179.9 509.2,184.4 510.8,191.9 512.3,184.7 513.8,180.1 515.4,177.3 516.9,175.6 518.4,174.7 520,174.8 521.5,174.6 523,174.3 524.5,174.1 526.1,174.1 527.6,174.1 529.1,174.1 530.7,173.9 532.2,173.5 533.7,173 535.3,172.5 536.8,172.3 538.3,172.4 539.9,172.7 541.4,173 542.9,173.1 544.5,173.1 546,173.1 546,165.8" fill="#a37563"/><path d="M499.8 165.8a2.25 2.25 0 1 0 0.01 0zM544.7 165.8a2.25 2.25 0 1 0 0.01 0zM535.2 169.1a2.25 2.25 0 1 0 0.01 0zM511.3 186.3a2.25 2.25 0 1 0 0.01 0zM514.3 175.4a2.25 2.25 0 1 0 0.01 0zM504.3 172.1a2.25 2.25 0 1 0 0.01 0zM535.5 170.6a2.25 2.25 0 1 0 0.01 0zM506.3 174a2.25 2.25 0 1 0 0.01 0zM516.5 171.6a2.25 2.25 0 1 0 0.01 0zM537.1 168.5a2.25 2.25 0 1 0 0.01 0zM515 174a2.25 2.25 0 1 0 0.01 0zM533.3 171.3a2.25 2.25 0 1 0 0.01 0zM530.9 170a2.25 2.25 0 1 0 0.01 0zM533.9 169.4a2.25 2.25 0 1 0 0.01 0zM512.1 182.3a2.25 2.25 0 1 0 0.01 0zM513.5 176.5a2.25 2.25 0 1 0 0.01 0zM543.1 168.6a2.25 2.25 0 1 0 0.01 0zM523.5 170.7a2.25 2.25 0 1 0 0.01 0zM518.2 171.2a2.25 2.25 0 1 0 0.01 0zM541.1 168.5a2.25 2.25 0 1 0 0.01 0zM530 170.8a2.25 2.25 0 1 0 0.01 0zM530.9 172.7a2.25 2.25 0 1 0 0.01 0zM500.3 170.5a2.25 2.25 0 1 0 0.01 0zM506.6 174.6a2.25 2.25 0 1 0 0.01 0zM506.8 175.2a2.25 2.25 0 1 0 0.01 0zM533.4 169.2a2.25 2.25 0 1 0 0.01 0zM512.3 181.5a2.25 2.25 0 1 0 0.01 0zM530.3 169.9a2.25 2.25 0 1 0 0.01 0zM521.7 172a2.25 2.25 0 1 0 0.01 0zM539.4 169.5a2.25 2.25 0 1 0 0.01 0zM525.1 171.6a2.25 2.25 0 1 0 0.01 0zM542.9 168.6a2.25 2.25 0 1 0 0.01 0zM531.9 169.9a2.25 2.25 0 1 0 0.01 0zM506.5 174.3a2.25 2.25 0 1 0 0.01 0zM536.8 168.4a2.25 2.25 0 1 0 0.01 0zM528.9 169.6a2.25 2.25 0 1 0 0.01 0zM503.2 171a2.25 2.25 0 1 0 0.01 0zM511.5 183.5a2.25 2.25 0 1 0 0.01 0zM540.6 170.6a2.25 2.25 0 1 0 0.01 0zM519.8 170.7a2.25 2.25 0 1 0 0.01 0zM515.4 174.4a2.25 2.25 0 1 0 0.01 0zM532.4 171.1a2.25 2.25 0 1 0 0.01 0zM505.3 171.7a2.25 2.25 0 1 0 0.01 0zM518.8 175.6a2.25 2.25 0 1 0 0.01 0zM542.8 168.9a2.25 2.25 0 1 0 0.01 0zM500.8 170.4a2.25 2.25 0 1 0 0.01 0zM523.5 170.1a2.25 2.25 0 1 0 0.01 0zM525 170.7a2.25 2.25 0 1 0 0.01 0zM532.8 170.2a2.25 2.25 0 1 0 0.01 0zM520.9 170.9a2.25 2.25 0 1 0 0.01 0zM501.6 170.7a2.25 2.25 0 1 0 0.01 0zM508.2 178a2.25 2.25 0 1 0 0.01 0zM538.1 170a2.25 2.25 0 1 0 0.01 0zM507.7 176.6a2.25 2.25 0 1 0 0.01 0zM544 168.7a2.25 2.25 0 1 0 0.01 0zM515.7 173.3a2.25 2.25 0 1 0 0.01 0zM504.8 172.3a2.25 2.25 0 1 0 0.01 0zM540.6 168.8a2.25 2.25 0 1 0 0.01 0zM507.7 176.3a2.25 2.25 0 1 0 0.01 0zM536.9 167.9a2.25 2.25 0 1 0 0.01 0zM532.7 174a2.25 2.25 0 1 0 0.01 0zM504.5 172.6a2.25 2.25 0 1 0 0.01 0zM523.8 173.6a2.25 2.25 0 1 0 0.01 0zM500.9 173.7a2.25 2.25 0 1 0 0.01 0zM525 170.1a2.25 2.25 0 1 0 0.01 0zM541.7 172.1a2.25 2.25 0 1 0 0.01 0zM511.3 184.4a2.25 2.25 0 1 0 0.01 0zM518.5 173.8a2.25 2.25 0 1 0 0.01 0zM516.3 171.9a2.25 2.25 0 1 0 0.01 0zM531.6 170.5a2.25 2.25 0 1 0 0.01 0zM541.1 168.5a2.25 2.25 0 1 0 0.01 0zM515.4 172.6a2.25 2.25 0 1 0 0.01 0zM544.6 170.6a2.25 2.25 0 1 0 0.01 0zM535.5 172.3a2.25 2.25 0 1 0 0.01 0zM520 175.2a2.25 2.25 0 1 0 0.01 0zM519.7 175.2a2.25 2.25 0 1 0 0.01 0zM520.1 174.1a2.25 2.25 0 1 0 0.01 0zM521.5 174.1a2.25 2.25 0 1 0 0.01 0zM521.1 173a2.25 2.25 0 1 0 0.01 0zM520.8 173a2.25 2.25 0 1 0 0.01 0zM522.3 171.8a2.25 2.25 0 1 0 0.01 0zM519.4 171.8a2.25 2.25 0 1 0 0.01 0zM520.5 170.7a2.25 2.25 0 1 0 0.01 0zM523 170.7a2.25 2.25 0 1 0 0.01 0zM537.6 176a2.25 2.25 0 1 0 0.01 0zM538.4 176a2.25 2.25 0 1 0 0.01 0zM536.9 174.9a2.25 2.25 0 1 0 0.01 0zM538.1 174.9a2.25 2.25 0 1 0 0.01 0zM538.3 173.7a2.25 2.25 0 1 0 0.01 0zM536.7 173.7a2.25 2.25 0 1 0 0.01 0zM540 172.6a2.25 2.25 0 1 0 0.01 0zM537.7 172.6a2.25 2.25 0 1 0 0.01 0zM536.1 171.4a2.25 2.25 0 1 0 0.01 0zM537.5 171.4a2.25 2.25 0 1 0 0.01 0zM538.7 170.3a2.25 2.25 0 1 0 0.01 0zM537.5 170.3a2.25 2.25 0 1 0 0.01 0zM544.4 176.8a2.25 2.25 0 1 0 0.01 0zM544.5 176.8a2.25 2.25 0 1 0 0.01 0zM544.7 175.6a2.25 2.25 0 1 0 0.01 0zM544.4 175.6a2.25 2.25 0 1 0 0.01 0zM544.5 174.5a2.25 2.25 0 1 0 0.01 0zM544.7 174.5a2.25 2.25 0 1 0 0.01 0zM544.7 173.3a2.25 2.25 0 1 0 0.01 0zM544.7 173.3a2.25 2.25 0 1 0 0.01 0zM544.1 172.2a2.25 2.25 0 1 0 0.01 0zM543.7 172.2a2.25 2.25 0 1 0 0.01 0zM544.7 171.1a2.25 2.25 0 1 0 0.01 0zM544.7 171.1a2.25 2.25 0 1 0 0.01 0z" fill="#a37563"/>
<path d="M510.5 78.5a2.25 2.25 0 1 0 0.01 0zM510.7 78.2a2.25 2.25 0 1 0 0.01 0zM511 77.3a2.25 2.25 0 1 0 0.01 0zM510.2 80.3a2.25 2.25 0 1 0 0.01 0zM511.2 80.2a2.25 2.25 0 1 0 0.01 0zM510.2 79.8a2.25 2.25 0 1 0 0.01 0zM511.8 81.8a2.25 2.25 0 1 0 0.01 0zM510.4 81.6a2.25 2.25 0 1 0 0.01 0zM510.1 81.7a2.25 2.25 0 1 0 0.01 0zM511.2 83.7a2.25 2.25 0 1 0 0.01 0zM511.4 83.9a2.25 2.25 0 1 0 0.01 0zM510 83.3a2.25 2.25 0 1 0 0.01 0zM510.7 84.8a2.25 2.25 0 1 0 0.01 0zM510 85a2.25 2.25 0 1 0 0.01 0zM511.1 85.5a2.25 2.25 0 1 0 0.01 0zM510.1 87.1a2.25 2.25 0 1 0 0.01 0zM511.3 87.2a2.25 2.25 0 1 0 0.01 0zM510.7 87a2.25 2.25 0 1 0 0.01 0zM511 89.2a2.25 2.25 0 1 0 0.01 0zM510.2 89.1a2.25 2.25 0 1 0 0.01 0zM510.9 88.6a2.25 2.25 0 1 0 0.01 0zM511.8 90.9a2.25 2.25 0 1 0 0.01 0zM510.5 91.3a2.25 2.25 0 1 0 0.01 0zM511.1 90.6a2.25 2.25 0 1 0 0.01 0zM510.3 92.6a2.25 2.25 0 1 0 0.01 0zM511.8 92.9a2.25 2.25 0 1 0 0.01 0zM511.7 92.9a2.25 2.25 0 1 0 0.01 0zM511.1 94.2a2.25 2.25 0 1 0 0.01 0zM510.2 94.9a2.25 2.25 0 1 0 0.01 0zM511.8 95.2a2.25 2.25 0 1 0 0.01 0zM510.4 96.6a2.25 2.25 0 1 0 0.01 0zM511.3 96.4a2.25 2.25 0 1 0 0.01 0zM511.7 96.3a2.25 2.25 0 1 0 0.01 0zM509.8 98.9a2.25 2.25 0 1 0 0.01 0zM509.9 98.5a2.25 2.25 0 1 0 0.01 0zM509.8 98.4a2.25 2.25 0 1 0 0.01 0zM511.1 100.6a2.25 2.25 0 1 0 0.01 0zM511.6 100.4a2.25 2.25 0 1 0 0.01 0zM511.9 100.5a2.25 2.25 0 1 0 0.01 0zM511.1 102.1a2.25 2.25 0 1 0 0.01 0zM510.1 101.8a2.25 2.25 0 1 0 0.01 0zM509.4 102.5a2.25 2.25 0 1 0 0.01 0zM510.2 103.5a2.25 2.25 0 1 0 0.01 0zM510.8 104.6a2.25 2.25 0 1 0 0.01 0zM510.1 103.9a2.25 2.25 0 1 0 0.01 0zM512 106.4a2.25 2.25 0 1 0 0.01 0zM511.9 106a2.25 2.25 0 1 0 0.01 0zM510.9 106a2.25 2.25 0 1 0 0.01 0zM510.5 107.1a2.25 2.25 0 1 0 0.01 0zM512.7 107.2a2.25 2.25 0 1 0 0.01 0zM511.9 107.5a2.25 2.25 0 1 0 0.01 0zM509 110.2a2.25 2.25 0 1 0 0.01 0zM512.5 109.4a2.25 2.25 0 1 0 0.01 0zM511.5 109.8a2.25 2.25 0 1 0 0.01 0zM509.5 110.9a2.25 2.25 0 1 0 0.01 0zM511 112.1a2.25 2.25 0 1 0 0.01 0zM509.9 111.7a2.25 2.25 0 1 0 0.01 0zM508.1 112.7a2.25 2.25 0 1 0 0.01 0zM513.3 112.9a2.25 2.25 0 1 0 0.01 0zM507.8 113.4a2.25 2.25 0 1 0 0.01 0zM508.2 114.9a2.25 2.25 0 1 0 0.01 0zM512.9 114.8a2.25 2.25 0 1 0 0.01 0zM512.7 115.7a2.25 2.25 0 1 0 0.01 0zM507.3 117.6a2.25 2.25 0 1 0 0.01 0zM513.3 116.7a2.25 2.25 0 1 0 0.01 0zM510.9 117.4a2.25 2.25 0 1 0 0.01 0zM513.6 119.4a2.25 2.25 0 1 0 0.01 0zM509.4 119.6a2.25 2.25 0 1 0 0.01 0zM514.5 119a2.25 2.25 0 1 0 0.01 0zM513 120.4a2.25 2.25 0 1 0 0.01 0zM511.5 120.2a2.25 2.25 0 1 0 0.01 0zM513.1 120.3a2.25 2.25 0 1 0 0.01 0zM510.6 37.6a2.25 2.25 0 1 0 0.01 0zM510.6 60a2.25 2.25 0 1 0 0.01 0zM511.7 226.2a2.25 2.25 0 1 0 0.01 0zM511.3 226.3a2.25 2.25 0 1 0 0.01 0zM510.4 226.4a2.25 2.25 0 1 0 0.01 0zM511.8 224.7a2.25 2.25 0 1 0 0.01 0zM510.7 224.7a2.25 2.25 0 1 0 0.01 0zM511.8 225a2.25 2.25 0 1 0 0.01 0zM511.2 223.5a2.25 2.25 0 1 0 0.01 0zM511.3 223.4a2.25 2.25 0 1 0 0.01 0zM510.6 223.7a2.25 2.25 0 1 0 0.01 0zM511.2 222.3a2.25 2.25 0 1 0 0.01 0zM510.4 222.3a2.25 2.25 0 1 0 0.01 0zM511.3 222a2.25 2.25 0 1 0 0.01 0zM510.6 220.5a2.25 2.25 0 1 0 0.01 0zM509.9 220.2a2.25 2.25 0 1 0 0.01 0zM510.4 220.2a2.25 2.25 0 1 0 0.01 0zM509.9 219.1a2.25 2.25 0 1 0 0.01 0zM511.3 219a2.25 2.25 0 1 0 0.01 0zM510.2 219.1a2.25 2.25 0 1 0 0.01 0zM511.4 217.5a2.25 2.25 0 1 0 0.01 0zM510.2 217.5a2.25 2.25 0 1 0 0.01 0zM510.6 217.3a2.25 2.25 0 1 0 0.01 0zM510.1 216.2a2.25 2.25 0 1 0 0.01 0zM511.1 216.2a2.25 2.25 0 1 0 0.01 0zM510.1 215.7a2.25 2.25 0 1 0 0.01 0zM510.8 214.1a2.25 2.25 0 1 0 0.01 0zM510.4 214.4a2.25 2.25 0 1 0 0.01 0zM510.8 214.7a2.25 2.25 0 1 0 0.01 0zM510.9 213a2.25 2.25 0 1 0 0.01 0zM511 213.1a2.25 2.25 0 1 0 0.01 0zM510.5 212.5a2.25 2.25 0 1 0 0.01 0zM511.8 211.6a2.25 2.25 0 1 0 0.01 0zM510 211.1a2.25 2.25 0 1 0 0.01 0zM510.2 211.5a2.25 2.25 0 1 0 0.01 0zM510.1 209.5a2.25 2.25 0 1 0 0.01 0zM510.8 209.5a2.25 2.25 0 1 0 0.01 0zM510.3 209.7a2.25 2.25 0 1 0 0.01 0zM510.2 207.9a2.25 2.25 0 1 0 0.01 0zM510.3 208.1a2.25 2.25 0 1 0 0.01 0zM510.4 208.2a2.25 2.25 0 1 0 0.01 0zM510.5 206.7a2.25 2.25 0 1 0 0.01 0zM509.8 207a2.25 2.25 0 1 0 0.01 0zM511.3 206.8a2.25 2.25 0 1 0 0.01 0zM509.8 205.1a2.25 2.25 0 1 0 0.01 0zM511.6 205.2a2.25 2.25 0 1 0 0.01 0zM510.2 205.5a2.25 2.25 0 1 0 0.01 0zM511.6 203.5a2.25 2.25 0 1 0 0.01 0zM510.8 203.8a2.25 2.25 0 1 0 0.01 0zM510 203.6a2.25 2.25 0 1 0 0.01 0zM511 202.4a2.25 2.25 0 1 0 0.01 0zM511.1 202.3a2.25 2.25 0 1 0 0.01 0zM510.6 201.9a2.25 2.25 0 1 0 0.01 0zM509.8 201a2.25 2.25 0 1 0 0.01 0zM511.5 201a2.25 2.25 0 1 0 0.01 0zM509.9 200.9a2.25 2.25 0 1 0 0.01 0zM510.1 199.1a2.25 2.25 0 1 0 0.01 0zM510.2 199.5a2.25 2.25 0 1 0 0.01 0zM511.4 199.4a2.25 2.25 0 1 0 0.01 0zM510.6 198a2.25 2.25 0 1 0 0.01 0zM510.3 197.7a2.25 2.25 0 1 0 0.01 0zM511.1 197.5a2.25 2.25 0 1 0 0.01 0zM510.6 195.8a2.25 2.25 0 1 0 0.01 0zM511.4 195.9a2.25 2.25 0 1 0 0.01 0zM510.1 196a2.25 2.25 0 1 0 0.01 0zM511.1 194.7a2.25 2.25 0 1 0 0.01 0zM510.9 194.9a2.25 2.25 0 1 0 0.01 0zM511.4 194.4a2.25 2.25 0 1 0 0.01 0zM510.9 192.9a2.25 2.25 0 1 0 0.01 0zM510.1 192.8a2.25 2.25 0 1 0 0.01 0zM509.6 193a2.25 2.25 0 1 0 0.01 0zM512.1 191.7a2.25 2.25 0 1 0 0.01 0zM509.4 191.4a2.25 2.25 0 1 0 0.01 0zM511.1 191.6a2.25 2.25 0 1 0 0.01 0zM509 189.8a2.25 2.25 0 1 0 0.01 0zM511 190.1a2.25 2.25 0 1 0 0.01 0zM509.2 190.3a2.25 2.25 0 1 0 0.01 0zM509.7 188.6a2.25 2.25 0 1 0 0.01 0zM510.9 188.4a2.25 2.25 0 1 0 0.01 0zM512.7 188.5a2.25 2.25 0 1 0 0.01 0zM510.4 187.1a2.25 2.25 0 1 0 0.01 0zM512.4 187.4a2.25 2.25 0 1 0 0.01 0zM512 187.1a2.25 2.25 0 1 0 0.01 0zM511.9 185.6a2.25 2.25 0 1 0 0.01 0zM513.1 185.9a2.25 2.25 0 1 0 0.01 0zM512.1 185.3a2.25 2.25 0 1 0 0.01 0zM511.2 183.9a2.25 2.25 0 1 0 0.01 0zM509.3 184.2a2.25 2.25 0 1 0 0.01 0zM509.3 184.1a2.25 2.25 0 1 0 0.01 0zM510.7 182.4a2.25 2.25 0 1 0 0.01 0zM512 182.6a2.25 2.25 0 1 0 0.01 0zM513.7 182.8a2.25 2.25 0 1 0 0.01 0zM512.7 180.8a2.25 2.25 0 1 0 0.01 0zM511.9 180.9a2.25 2.25 0 1 0 0.01 0zM513.6 180.9a2.25 2.25 0 1 0 0.01 0zM509.8 179.1a2.25 2.25 0 1 0 0.01 0zM510.6 179.5a2.25 2.25 0 1 0 0.01 0zM509.5 179.1a2.25 2.25 0 1 0 0.01 0zM510.7 177.6a2.25 2.25 0 1 0 0.01 0zM508.4 177.9a2.25 2.25 0 1 0 0.01 0zM509.7 177.9a2.25 2.25 0 1 0 0.01 0zM511 176.3a2.25 2.25 0 1 0 0.01 0zM508 176a2.25 2.25 0 1 0 0.01 0zM511.3 176.7a2.25 2.25 0 1 0 0.01 0zM509 174.8a2.25 2.25 0 1 0 0.01 0zM509.3 175.1a2.25 2.25 0 1 0 0.01 0zM510.7 175.1a2.25 2.25 0 1 0 0.01 0zM510.6 244.4a2.25 2.25 0 1 0 0.01 0zM510.6 264.9a2.25 2.25 0 1 0 0.01 0z" fill="#a37563"/>
<rect x="505.9" y="31.3" width="10.2" height="238.5" fill="#d0d0d3" opacity="0.12"/>
<line x1="34.7" y1="101.5" x2="1054" y2="101.5" stroke="#e8474a" stroke-width="1" stroke-dasharray="4 3"/>
<line x1="34.7" y1="190.8" x2="1054" y2="190.8" stroke="#e8474a" stroke-width="1" stroke-dasharray="4 3"/>
<text x="148.5" y="155.91" font-size="10.3" text-anchor="middle" fill="#111">1</text>
<text x="281.4" y="155.91" font-size="10.3" text-anchor="middle" fill="#111">2</text>
<text x="383.4" y="155.91" font-size="10.3" text-anchor="middle" fill="#111">3</text>
<text x="464" y="155.91" font-size="10.3" text-anchor="middle" fill="#111">4</text>
<text x="523.6" y="155.91" font-size="10.3" text-anchor="middle" fill="#111">5</text>
<text x="565.5" y="155.91" font-size="10.3" text-anchor="middle" fill="#111">6</text>
<text x="602.6" y="155.91" font-size="10.3" text-anchor="middle" fill="#111">7</text>
<text x="637.3" y="155.91" font-size="10.3" text-anchor="middle" fill="#111">8</text>
<text x="664.1" y="155.91" font-size="10.3" text-anchor="middle" fill="#111">9</text>
<text x="691.2" y="155.91" font-size="10.3" text-anchor="middle" fill="#111">10</text>
<text x="718.5" y="155.91" font-size="10.3" text-anchor="middle" fill="#111">11</text>
<text x="746.8" y="155.91" font-size="10.3" text-anchor="middle" fill="#111">12</text>
<text x="774.3" y="155.91" font-size="10.3" text-anchor="middle" fill="#111">13</text>
<text x="797" y="155.91" font-size="10.3" text-anchor="middle" fill="#111">14</text>
<text x="819.4" y="155.91" font-size="10.3" text-anchor="middle" fill="#111">15</text>
<text x="839.8" y="155.91" font-size="10.3" text-anchor="middle" fill="#111">17</text>
<text x="858.5" y="155.91" font-size="10.3" text-anchor="middle" fill="#111">18</text>
<text x="877.1" y="155.91" font-size="10.3" text-anchor="middle" fill="#111">19</text>
<text x="900.8" y="155.91" font-size="10.3" text-anchor="middle" fill="#111">20</text>
<text x="924.4" y="155.91" font-size="10.3" text-anchor="middle" fill="#111">21</text>
<text x="946.6" y="155.91" font-size="10.3" text-anchor="middle" fill="#111">23</text>
<text x="971.1" y="155.91" font-size="10.3" text-anchor="middle" fill="#111">25</text>
<text x="992.5" y="155.91" font-size="10.3" text-anchor="middle" fill="#111">27</text>
<text x="1011.1" y="155.91" font-size="10.3" text-anchor="middle" fill="#111">30</text>
<line x1="34.4" y1="45.3" x2="34.4" y2="138.6" stroke="#555" stroke-width="1"/>
<line x1="31" y1="138.6" x2="34.4" y2="138.6" stroke="#555" stroke-width="1"/>
<text x="22" y="141.73" font-size="8.7" text-anchor="middle" fill="#333" transform="rotate(-90 22 138.6)">0</text>
<line x1="31" y1="107.5" x2="34.4" y2="107.5" stroke="#555" stroke-width="1"/>
<text x="22" y="110.63" font-size="8.7" text-anchor="middle" fill="#333" transform="rotate(-90 22 107.5)">5</text>
<line x1="31" y1="76.4" x2="34.4" y2="76.4" stroke="#555" stroke-width="1"/>
<text x="22" y="79.53" font-size="8.7" text-anchor="middle" fill="#333" transform="rotate(-90 22 76.4)">10</text>
<line x1="31" y1="45.3" x2="34.4" y2="45.3" stroke="#555" stroke-width="1"/>
<text x="22" y="48.43" font-size="8.7" text-anchor="middle" fill="#333" transform="rotate(-90 22 45.3)">15</text>
<line x1="34.8" y1="168" x2="34.8" y2="263.1" stroke="#555" stroke-width="1"/>
<line x1="31.4" y1="168" x2="34.8" y2="168" stroke="#555" stroke-width="1"/>
<text x="22.3" y="171.13" font-size="8.7" text-anchor="middle" fill="#333" transform="rotate(-90 22.3 168)">0</text>
<line x1="31.4" y1="187" x2="34.8" y2="187" stroke="#555" stroke-width="1"/>
<text x="22.3" y="190.13" font-size="8.7" text-anchor="middle" fill="#333" transform="rotate(-90 22.3 187)">5</text>
<line x1="31.4" y1="206" x2="34.8" y2="206" stroke="#555" stroke-width="1"/>
<text x="22.3" y="209.13" font-size="8.7" text-anchor="middle" fill="#333" transform="rotate(-90 22.3 206)">10</text>
<line x1="31.4" y1="225" x2="34.8" y2="225" stroke="#555" stroke-width="1"/>
<text x="22.3" y="228.13" font-size="8.7" text-anchor="middle" fill="#333" transform="rotate(-90 22.3 225)">15</text>
<line x1="31.4" y1="244" x2="34.8" y2="244" stroke="#555" stroke-width="1"/>
<text x="22.3" y="247.13" font-size="8.7" text-anchor="middle" fill="#333" transform="rotate(-90 22.3 244)">20</text>
<line x1="31.4" y1="263" x2="34.8" y2="263" stroke="#555" stroke-width="1"/>
<text x="22.3" y="266.13" font-size="8.7" text-anchor="middle" fill="#333" transform="rotate(-90 22.3 263)">25</text>
<text x="7.8" y="153.11" font-size="10.85" text-anchor="middle" fill="#111" transform="rotate(-90 7.8 149.2)">-log10(P-value)</text>
<text x="55.7" y="63.2" font-size="18.6">IMP</text>
<text x="55.6" y="262.4" font-size="18.9">Inosine</text>
<text x="16" y="22.52" font-size="27" font-weight="bold">A</text>
<polyline points="513.5,40.3 567.3,88.4 512.8,263" fill="none" stroke="#222" stroke-width="1.1" stroke-dasharray="3.8 2.6"/>
<text x="572" y="92.37" font-size="10.75" fill="#222">rs316338889</text>
<polygon points="200.5,637.4 206.9,637.4 357.6,675.6 41.8,675.6" fill="#e3e3e3"/>
<polygon points="519.4,641.5 525.6,641.5 700.5,675.6 382.2,675.6" fill="#e3e3e3"/>
<polygon points="895,641.1 901,641.1 1053.6,675.6 734.7,675.6" fill="#e3e3e3"/>
<rect x="200.5" y="321.5" width="6.4" height="316.4" fill="#e3e3e3"/>
<line x1="34.5" y1="385.6" x2="357.5" y2="385.6" stroke="#ee2c2c" stroke-width="1.6" stroke-dasharray="5.5 3.5"/>
<circle cx="46.4" cy="419.9" r="2.1" fill="#0000f0"/>
<circle cx="69.6" cy="415.6" r="2.1" fill="#0000f0"/>
<circle cx="124.7" cy="419" r="2.1" fill="#0000f0"/>
<circle cx="141" cy="409.8" r="2.1" fill="#0000f0"/>
<circle cx="203.5" cy="328.4" r="2.1" fill="#f00000"/>
<circle cx="273.2" cy="348.9" r="2.1" fill="#f00000"/>
<circle cx="316.4" cy="377.6" r="2.1" fill="#f00000"/>
<circle cx="345.6" cy="414.9" r="2.1" fill="#0000f0"/>
<rect x="34.5" y="321.5" width="323" height="102.9" fill="none" stroke="#555" stroke-width="1"/>
<line x1="30.1" y1="420.4" x2="34.5" y2="420.4" stroke="#555" stroke-width="1"/>
<text x="19.9" y="423.5" font-size="8.6" text-anchor="middle" fill="#333" transform="rotate(-90 19.9 420.4)">0</text>
<line x1="30.1" y1="391" x2="34.5" y2="391" stroke="#555" stroke-width="1"/>
<text x="19.9" y="394.15" font-size="8.6" text-anchor="middle" fill="#333" transform="rotate(-90 19.9 391)">5</text>
<line x1="30.1" y1="361.7" x2="34.5" y2="361.7" stroke="#555" stroke-width="1"/>
<text x="19.9" y="364.8" font-size="8.6" text-anchor="middle" fill="#333" transform="rotate(-90 19.9 361.7)">10</text>
<line x1="30.1" y1="332.3" x2="34.5" y2="332.3" stroke="#555" stroke-width="1"/>
<text x="19.9" y="335.45" font-size="8.6" text-anchor="middle" fill="#333" transform="rotate(-90 19.9 332.3)">15</text>
<line x1="75" y1="424.4" x2="75" y2="429.2" stroke="#555" stroke-width="1"/>
<text x="75" y="441.29" font-size="8.3" text-anchor="middle" fill="#222">14.30</text>
<line x1="166.8" y1="424.4" x2="166.8" y2="429.2" stroke="#555" stroke-width="1"/>
<text x="166.8" y="441.29" font-size="8.3" text-anchor="middle" fill="#222">14.35</text>
<line x1="258.6" y1="424.4" x2="258.6" y2="429.2" stroke="#555" stroke-width="1"/>
<text x="258.6" y="441.29" font-size="8.3" text-anchor="middle" fill="#222">14.40</text>
<line x1="350.4" y1="424.4" x2="350.4" y2="429.2" stroke="#555" stroke-width="1"/>
<text x="350.4" y="441.29" font-size="8.3" text-anchor="middle" fill="#222">14.45</text>
<text x="42.6" y="336.92" font-size="13.4" fill="#111">IMP</text>
<text x="192.9" y="312.74" font-size="12.9" text-anchor="middle" font-weight="bold">GW1</text>
<text x="15.6" y="311.62" font-size="27" font-weight="bold">B</text>
<rect x="519.4" y="321.5" width="6.2" height="320.5" fill="#e3e3e3"/>
<line x1="381.2" y1="385.6" x2="709.2" y2="385.6" stroke="#ee2c2c" stroke-width="1.6" stroke-dasharray="5.5 3.5"/>
<circle cx="393.4" cy="418.7" r="2.1" fill="#0000f0"/>
<circle cx="456.8" cy="390.3" r="2.1" fill="#0000f0"/>
<circle cx="522.4" cy="380.4" r="2.1" fill="#f00000"/>
<circle cx="589" cy="401.7" r="2.1" fill="#0000f0"/>
<circle cx="613" cy="404.4" r="2.1" fill="#0000f0"/>
<circle cx="663.5" cy="401.3" r="2.1" fill="#0000f0"/>
<circle cx="697.6" cy="395.4" r="2.1" fill="#0000f0"/>
<rect x="381.2" y="321.5" width="328" height="102.9" fill="none" stroke="#555" stroke-width="1"/>
<line x1="376.8" y1="420.4" x2="381.2" y2="420.4" stroke="#555" stroke-width="1"/>
<text x="366.6" y="423.5" font-size="8.6" text-anchor="middle" fill="#333" transform="rotate(-90 366.6 420.4)">0</text>
<line x1="376.8" y1="391" x2="381.2" y2="391" stroke="#555" stroke-width="1"/>
<text x="366.6" y="394.15" font-size="8.6" text-anchor="middle" fill="#333" transform="rotate(-90 366.6 391)">5</text>
<line x1="376.8" y1="361.7" x2="381.2" y2="361.7" stroke="#555" stroke-width="1"/>
<text x="366.6" y="364.8" font-size="8.6" text-anchor="middle" fill="#333" transform="rotate(-90 366.6 361.7)">10</text>
<line x1="376.8" y1="332.3" x2="381.2" y2="332.3" stroke="#555" stroke-width="1"/>
<text x="366.6" y="335.45" font-size="8.6" text-anchor="middle" fill="#333" transform="rotate(-90 366.6 332.3)">15</text>
<line x1="395.3" y1="424.4" x2="395.3" y2="429.2" stroke="#555" stroke-width="1"/>
<text x="395.3" y="441.29" font-size="8.3" text-anchor="middle" fill="#222">15.95</text>
<line x1="486.7" y1="424.4" x2="486.7" y2="429.2" stroke="#555" stroke-width="1"/>
<text x="486.7" y="441.29" font-size="8.3" text-anchor="middle" fill="#222">16.00</text>
<line x1="578.1" y1="424.4" x2="578.1" y2="429.2" stroke="#555" stroke-width="1"/>
<text x="578.1" y="441.29" font-size="8.3" text-anchor="middle" fill="#222">16.05</text>
<line x1="669.5" y1="424.4" x2="669.5" y2="429.2" stroke="#555" stroke-width="1"/>
<text x="669.5" y="441.29" font-size="8.3" text-anchor="middle" fill="#222">16.10</text>
<text x="387.8" y="336.92" font-size="13.4" fill="#111">IMP</text>
<text x="544.4" y="312.74" font-size="12.9" text-anchor="middle" font-weight="bold">GW2</text>
<text x="360.6" y="311.62" font-size="27" font-weight="bold">C</text>
<rect x="895" y="321.5" width="6" height="320.1" fill="#e3e3e3"/>
<line x1="732.4" y1="385.6" x2="1055.2" y2="385.6" stroke="#ee2c2c" stroke-width="1.6" stroke-dasharray="5.5 3.5"/>
<circle cx="744" cy="420.2" r="2.1" fill="#0000f0"/>
<circle cx="783.4" cy="419.7" r="2.1" fill="#0000f0"/>
<circle cx="822.6" cy="414.2" r="2.1" fill="#0000f0"/>
<circle cx="850.4" cy="417.3" r="2.1" fill="#0000f0"/>
<circle cx="896" cy="408.5" r="2.1" fill="#0000f0"/>
<circle cx="898" cy="378.7" r="2.1" fill="#f00000"/>
<circle cx="947.7" cy="389.9" r="2.1" fill="#0000f0"/>
<circle cx="991.3" cy="415.1" r="2.1" fill="#0000f0"/>
<circle cx="1040.1" cy="382.3" r="2.1" fill="#f00000"/>
<circle cx="1042.8" cy="409.3" r="2.1" fill="#0000f0"/>
<rect x="732.4" y="321.5" width="322.8" height="102.9" fill="none" stroke="#555" stroke-width="1"/>
<line x1="728" y1="420.4" x2="732.4" y2="420.4" stroke="#555" stroke-width="1"/>
<text x="717.8" y="423.5" font-size="8.6" text-anchor="middle" fill="#333" transform="rotate(-90 717.8 420.4)">0</text>
<line x1="728" y1="391" x2="732.4" y2="391" stroke="#555" stroke-width="1"/>
<text x="717.8" y="394.15" font-size="8.6" text-anchor="middle" fill="#333" transform="rotate(-90 717.8 391)">5</text>
<line x1="728" y1="361.7" x2="732.4" y2="361.7" stroke="#555" stroke-width="1"/>
<text x="717.8" y="364.8" font-size="8.6" text-anchor="middle" fill="#333" transform="rotate(-90 717.8 361.7)">10</text>
<line x1="728" y1="332.3" x2="732.4" y2="332.3" stroke="#555" stroke-width="1"/>
<text x="717.8" y="335.45" font-size="8.6" text-anchor="middle" fill="#333" transform="rotate(-90 717.8 332.3)">15</text>
<line x1="799" y1="424.4" x2="799" y2="429.2" stroke="#555" stroke-width="1"/>
<text x="799" y="441.29" font-size="8.3" text-anchor="middle" fill="#222">18.60</text>
<line x1="900.4" y1="424.4" x2="900.4" y2="429.2" stroke="#555" stroke-width="1"/>
<text x="900.4" y="441.29" font-size="8.3" text-anchor="middle" fill="#222">18.65</text>
<line x1="999.8" y1="424.4" x2="999.8" y2="429.2" stroke="#555" stroke-width="1"/>
<text x="999.8" y="441.29" font-size="8.3" text-anchor="middle" fill="#222">18.70</text>
<text x="738.5" y="336.92" font-size="13.4" fill="#111">Inosine</text>
<text x="895" y="312.74" font-size="12.9" text-anchor="middle" font-weight="bold">GW3</text>
<text x="709.6" y="311.62" font-size="27" font-weight="bold">D</text>
<text x="7.7" y="378.11" font-size="10.85" text-anchor="middle" fill="#111" transform="rotate(-90 7.7 374.2)">-log10(P-value)</text>
<text x="3.8" y="440.56" font-size="9.6" fill="#222">Chr 5 (Mb)</text>
<path d="M34 469V467H35V467.6H36H37H38V467.1H39V467.4H40V464.9H41V467.5H42V467.9H43V460.7H44V467.7H45V467.6H46V467.1H47V467.7H48V463.5H49V465.8H50V467.2H51V464.7H52V461H53V467.5H54H55V467.8H56V465.4H57V467.4H58V467.8H59V466.4H60V467.1H61V467.5H62V467.2H63V467.9H64V466.1H65V465.6H66V464.1H67V464.5H68V465.7H69V467.7H70V467.8H71V467.2H72V467.9H73V467.5H74V467.8H75V462H76V467.9H77V467.6H78V467.7H79V467H80V467.9H81V467.1H82V465.6H83H84V467.5H85V467.2H86H87V467.7H88V467.1H89V464.9H90V467.3H91V467.1H92V467H93V463.5H94H95V467.1H96V467.7H97V467.8H98V467.1H99V465.5H100V467.4H101V466.5H102V466.6H103V464H104V467.5H105V467.1H106V467.7H107V467.2H108V467.6H109V467.1H110V467.8H111V467.7H112V465.6H113V459.5H114H115V467.4H116V467.7H117V463H118V467.3H119V466H120V467.2H121V467.1H122V467.9H123H124V467.3H125V467.6H126V467.8H127V467.2H128V466.4H129V465.7H130V467.4H131V467.5H132H133V467.7H134V467.1H135V467.9H136V467.8H137V467.5H138V467.1H139V465.8H140V467.4H141V466H142V467.2H143V465.3H144H145V467.1H146V467.4H147V467.9H148V467.2H149V467.8H150V466.7H151V467.4H152H153V467.9H154V467.8H155V464.5H156H157V467.4H158V467.9H159V467.1H160V464.6H161V467.1H162V464H163V466.2H164V466.1H165V463H166V467.7H167V467.9H168V465.1H169V467.5H170V467.8H171V467.7H172V467.4H173V467.3H174V467.6H175V467.9H176H177V467.1H178V467.8H179V467.7H180V467.4H181V467.3H182V467.2H183V467.3H184V467.7H185V465.1H186V467.3H187V467.5H188V467.9H189V467.3H190V467.5H191V467.7H192V467.6H193V465H194V467.7H195V467.9H196H197V467.1H198V467.7H199V452H200V464.8H201V466.4H202V467.2H203V467.9H204V466.7H205V457H206H207V467.8H208V455H209V467.3H210V465.6H211V464.6H212V467H213V467.6H214V467.2H215V457H216V467.9H217V467.6H218V467.2H219V467.4H220V467.5H221V467.7H222V466.7H223V467.5H224V464.9H225V467.8H226V467.9H227V467.8H228V467.6H229H230H231V467.7H232V467.8H233V465.2H234V467.1H235V467.7H236V467.3H237V467.7H238V467.3H239V463H240V466.5H241V466.6H242V462H243V467.1H244V467.6H245V466.2H246V467.6H247V467.3H248V463H249V465.7H250V467.1H251H252V465.2H253V467.2H254V467.4H255V465.8H256V465.2H257V467.4H258V454H259V467.7H260V467.8H261V465H262V467.9H263V467.5H264V466.6H265V467.2H266V466.7H267V467.3H268V467.8H269V467.1H270V467.4H271V465H272V467.4H273V465H274V467.2H275V467.4H276V465.6H277V467.8H278V467.1H279V467.4H280V467.1H281V464.8H282V467.5H283V467.9H284V466.1H285V467.9H286V467.8H287H288V467.4H289V467.1H290V467.3H291V467.1H292V467.4H293V467.1H294V467.2H295H296H297V466.6H298V467.2H299H300V465H301V467.4H302V467.5H303V467.6H304V467.3H305V467.5H306V466.1H307V467.2H308V467.8H309V467.2H310V465.9H311V467.5H312H313V467.2H314V467.6H315V467.5H316V467.6H317V464.8H318V467.7H319V466.4H320V465.3H321V466.4H322V466.3H323V467.1H324V467.7H325V467.8H326V465.6H327V464H328V467.4H329V466.5H330V467.3H331V467.9H332V467.7H333V467.2H334V467.3H335V467.7H336V467.6H337V467.5H338V467.8H339H340V467.2H341V467.6H342V467.9H343V465.5H344V467.8H345V466.6H346V467.9H347V467.6H348V467.5H349V464.6H350V467.1H351V467.8H352H353V466.7H354V460.5H355V465.4H356V466.9H357V467.8H358V467.9H359V466.5H360V467.5H361V469Z" fill="#9b00dc"/>
<line x1="34" y1="468.7" x2="361" y2="468.7" stroke="#5a0a78" stroke-width="0.80"/>
<path d="M34 496V493H34.5V492.7H35V490.3H35.5V485.2H36V487.5H36.5V493.3H37V487.9H37.5V492.2H38V492.6H38.5V486H39H39.5V491.3H40V492.8H40.5V492.4H41V485.1H41.5V491.2H42V490.9H42.5V491.3H43V487.9H43.5V486.3H44V491.1H44.5V491.5H45V491.8H45.5V486.2H46V491.2H46.5V492.7H47V493.2H47.5V491.8H48V493H48.5V481H49H49.5V491H50V493.6H50.5V493.4H51V487.4H51.5V493.4H52V493.9H52.5V492.5H53V490.9H53.5V493.3H54V490.3H54.5V491.6H55V486.5H55.5V493.3H56V487.6H56.5V487H57H57.5V492.4H58V489.2H58.5V491.3H59V484.1H59.5V490.8H60V485.7H60.5V490.3H61V486.5H61.5V491H62V486.4H62.5V490.1H63V488.6H63.5V490.9H64V486.1H64.5V489.3H65V489.1H65.5V487.9H66V487.5H66.5V490.1H67V487.8H67.5V489.3H68V489.6H68.5V491.2H69V489.6H69.5V490.7H70V484.5H70.5V490.9H71V488.3H71.5V485.1H72V486.2H72.5V490.9H73V490.1H73.5V483.7H74V489.6H74.5V484.4H75V485.9H75.5V486.4H76V489.1H76.5V490.3H77V489.4H77.5V489.5H78V488.9H78.5V486H79H79.5V485.4H80V489.4H80.5V483.2H81H81.5V481.6H82V486.3H82.5V485.1H83V489H83.5V488.2H84V485.3H84.5V487.1H85V488.1H85.5V486.6H86V488H86.5V489H87V486.5H87.5V482.9H88V487H88.5V487.8H89V485.1H89.5V491.6H90V490.4H90.5V488.1H91V492.1H91.5V490.1H92V490.5H92.5V491.9H93V488.9H93.5V485.2H94V491.5H94.5V490.3H95V491.2H95.5V485H96H96.5V485.8H97V489.9H97.5V490.9H98V489.8H98.5V491.1H99V492.4H99.5V486.4H100V491H100.5V491.1H101V489.6H101.5V488.3H102V488.8H102.5V484H103H103.5V492.4H104V491.3H104.5V485.4H105V491.8H105.5V488H106V492.5H106.5V492.1H107V492.4H107.5V493.4H108V492.7H108.5V488.3H109V492.6H109.5V488H110V492.9H110.5V494.1H111V494.2H111.5V486H112H112.5V494.1H113V486.2H113.5V489.9H114V490.2H114.5V492.4H115V492.6H115.5V492.7H116V492.3H116.5V493H117V488.7H117.5V490.2H118V489.9H118.5V484.7H119V490.9H119.5V491.2H120V486.4H120.5V485H121H121.5V487.2H122V491.1H122.5V484.7H123V491H123.5V490.2H124V485H124.5V491.4H125V489.7H125.5V491.1H126V491.8H126.5V491.7H127V490H127.5V490.2H128V491H128.5V491.9H129V490.7H129.5V487.5H130V490.7H130.5V484H131H131.5V489.9H132V487H132.5V488.7H133V491.1H133.5V490.6H134V490.1H134.5V489.3H135V485.7H135.5V490.2H136V490.5H136.5V485.5H137V488.4H137.5V489.5H138V488.2H138.5V483.1H139V488.9H139.5V483H140H140.5V488.1H141V489.3H141.5V485.3H142V489.6H142.5V484.5H143V482.7H143.5V485.3H144V485.9H144.5V489.5H145V489.7H145.5V488.9H146V483.6H146.5V489.5H147V483.2H147.5V485.2H148V491H148.5V484H149V487.5H149.5V487H150V483.5H150.5V488.9H151V485.1H151.5V490.1H152V486.4H152.5V489H153V490.4H153.5V490.3H154V490H154.5V490.9H155V487.4H155.5V491.4H156V490.6H156.5V490.2H157V491.1H157.5V485.9H158V491.4H158.5V490.8H159V490.4H159.5V490.6H160V489.9H160.5V484.7H161V491.8H161.5V490.2H162V490.3H162.5V490.8H163V486.5H163.5V487.3H164V486H164.5H165H165.5V486.7H166V486.4H166.5V488H167V485.2H167.5V486.9H168V485.8H168.5V489.9H169V493.1H169.5V488.8H170V492.8H170.5V493.5H171V493.1H171.5H172V493.7H172.5V487.3H173H173.5V492.9H174V492.1H174.5V491.8H175V485.8H175.5V487H176H176.5V487.5H177V487.2H177.5V491.8H178V492.1H178.5V486.1H179V486.6H179.5V491.6H180V488.6H180.5V484.3H181V491.4H181.5V488.3H182V484.4H182.5V490.1H183V487H183.5V489.5H184V491.4H184.5V491.5H185V486.4H185.5V491.6H186V484.6H186.5V492.2H187V492.6H187.5V487.8H188V486.7H188.5V488.7H189V487.9H189.5V484.7H190V486H190.5V489.3H191V490.9H191.5V490.3H192V487.7H192.5V491H193V489.7H193.5V490.6H194V491H194.5V489.3H195V484.2H195.5V489.3H196V490.4H196.5H197V487.7H197.5V488.7H198V485.8H198.5V488.3H199V482.2H199.5V486.1H200V488.4H200.5V488.9H201V483.2H201.5V488H202V488.6H202.5V488.2H203V488H203.5V488.2H204V481.8H204.5V484.7H205V485H205.5V483.7H206V484.9H206.5V485.5H207V490H207.5V484H208V490.4H208.5V490.5H209V489.4H209.5V487H210V485.9H210.5V483.2H211V490.2H211.5V489.9H212V488.1H212.5V489.6H213V485.8H213.5V486.2H214V490.2H214.5V489.8H215V483.6H215.5V490.3H216V489.9H216.5V490.4H217V490.3H217.5V490H218V488H218.5V489.3H219V489.9H219.5V482.6H220V487H220.5V486.3H221V487.5H221.5V483.2H222V490.4H222.5V485.3H223V486.6H223.5V486H224V486.6H224.5V489.4H225V487.7H225.5V487.2H226V492.7H226.5V490.9H227V492H227.5V492.6H228V492.8H228.5V493.9H229V486.3H229.5V492.2H230V494H230.5V493.2H231V486.2H231.5V492.1H232V489.4H232.5V489.1H233V492.9H233.5H234V488.7H234.5V490.6H235V485.4H235.5V484H236H236.5V491.3H237V491.4H237.5V491.7H238V488.2H238.5V487.7H239V491.5H239.5V488.7H240V486.7H240.5V489.8H241V491.7H241.5V490.6H242V491.7H242.5V483H243H243.5V491.4H244V490.2H244.5V492.3H245V490.9H245.5V487.7H246V493.2H246.5V492.3H247V491.8H247.5V488.1H248V493.1H248.5V488.5H249V492.8H249.5V489.7H250V485.6H250.5V491.8H251V486.5H251.5V485.2H252V490.7H252.5V491.4H253V490.6H253.5V491.5H254V484.3H254.5V487H255H255.5V486H256V490.3H256.5V488.3H257V490.1H257.5V488.4H258V487.7H258.5V486.7H259V487.9H259.5V488.7H260V482.8H260.5V490.1H261V482.4H261.5V490.1H262V488.6H262.5V484.7H263V486.4H263.5V488.8H264V485.8H264.5V488.9H265V486.8H265.5V490.4H266V490.2H266.5V484.1H267V490.9H267.5V483.9H268V490.2H268.5V490H269V484.1H269.5V485H270H270.5V487.8H271V490.7H271.5V490.6H272V489.9H272.5V487.1H273V489.7H273.5V488.8H274V484.8H274.5V489H275V488.8H275.5V489.1H276V490.1H276.5V487.1H277V482.6H277.5V486H278V482.4H278.5V489.3H279V489H279.5V489.5H280V486.2H280.5V491.1H281V484.9H281.5V490H282V491H282.5V485H283V484.6H283.5V487.4H284V492.2H284.5V485H285V491H285.5V491.1H286V492.3H286.5V491.4H287V488H287.5V489H288V491.6H288.5V485.5H289V493.3H289.5V487.5H290V492.4H290.5V487.1H291V489.2H291.5V487.7H292V491.2H292.5V493H293V488.5H293.5V487H294V488.6H294.5V488.7H295V491.4H295.5V486H296H296.5V485.1H297V485.8H297.5V492.1H298V488.7H298.5V492.3H299V491.5H299.5V486.3H300V488.2H300.5V486.2H301V492.5H301.5V487.2H302V492.9H302.5V490.3H303V492.2H303.5V492.6H304V486.8H304.5V485.8H305V493.2H305.5V492.7H306V492.1H306.5V488.5H307V485.7H307.5V493.2H308V490.5H308.5V493.3H309V486.2H309.5V487H310H310.5V492.4H311V492.3H311.5V491.6H312V490.4H312.5V490.1H313V491H313.5V487.1H314V490.4H314.5V491.1H315V489.8H315.5V486.8H316V484.3H316.5V488H317V483.1H317.5V488.9H318V489.9H318.5V487.9H319V489H319.5V486.8H320V486.3H320.5H321V489.4H321.5V486.4H322V486.2H322.5V484.1H323V491H323.5H324V485.4H324.5V488.1H325V490.8H325.5V485H326H326.5V490H327V485.6H327.5V483.5H328V490.8H328.5V490.2H329V487.6H329.5V489.3H330V487.4H330.5V483.6H331V488.2H331.5V489.8H332V489.3H332.5V488.5H333V484.7H333.5V482.7H334V489.7H334.5V485.6H335V484.4H335.5V481.9H336V487.1H336.5V482.9H337V490H337.5V485.9H338V489.5H338.5V487.6H339V490H339.5V485.2H340V486H340.5V486.4H341V485.5H341.5V490.9H342V484.5H342.5V490.6H343V488.3H343.5V485.5H344V492.1H344.5V492H345V491.9H345.5V487.3H346V490.9H346.5V491.2H347V485.7H347.5V491.6H348V492.3H348.5V484.9H349V491.3H349.5V483H350H350.5V490.9H351V491.8H351.5V492.6H352V491H352.5V491.7H353V490H353.5V486.7H354V489.1H354.5V492.6H355V490.5H355.5V486.1H356V488.8H356.5V486.8H357V491.6H357.5V491.2H358V491.3H358.5V486.1H359V491.7H359.5V493.4H360V491.9H360.5V486.5H361V496Z" fill="#05cf63"/>
<path d="M34 523.5V522.3H35H36V522.5H37V522.1H38V517.5H39V522.1H40V522.3H41H42V522.6H43V522.5H44V522.3H45V522.6H46V522.1H47V522.5H48V522.4H49V522.2H50V522H51V522.3H52V522.5H53V522.4H54V522.5H55V522.2H56V522.3H57V522.1H58V522.2H59H60V522H61V521.9H62V520.8H63V519H64V519.6H65V519.1H66V516.5H67H68V520.2H69V521.2H70V522.4H71V522.3H72V522.2H73V522.6H74V522.4H75V522.3H76V522.2H77V522.3H78V522.1H79V522.3H80V522.4H81V522H82V522.3H83V522.4H84H85V522.3H86V522.2H87V522.4H88H89V522.6H90V522.3H91V521.8H92V521.2H93V522.3H94V520.5H95V522.4H96V522.1H97H98H99H100V522.2H101V522H102V522.3H103V522.6H104V522H105V522.1H106V522.2H107H108V522.6H109V522.3H110V522.4H111V522.1H112H113V520.6H114V506.5H115V516.9H116V517.9H117V520.1H118V520.7H119V521.4H120V522.5H121V522.6H122V522.4H123V522.3H124V522H125V522.1H126H127V522.2H128V522.4H129V522.5H130V522.4H131V522.1H132H133V522.3H134V522.5H135V522.2H136V522.3H137V522.5H138V522.1H139V522.5H140H141H142V521.2H143V522.2H144V522.4H145V522.6H146V521.5H147V522H148H149V522.4H150H151V522.6H152V522.3H153V522.5H154H155V522H156V522.6H157V522.4H158V522.2H159V522.5H160V522.1H161V522.4H162V522.3H163V522.2H164V521H165V517.3H166V514.8H167V515.4H168V519.3H169V521.9H170V522.2H171V522.3H172V522.6H173V522.3H174V521.7H175V522.5H176V522.3H177H178V522.5H179V522.6H180V522.2H181H182V521.8H183V522.4H184H185V522.5H186V522.3H187V522H188V522.4H189V522.2H190V522.4H191V522.2H192V522.3H193V521.8H194V522H195V522.5H196V522.1H197V522H198V521.3H199V522H200H201H202V522.5H203V522H204V520.5H205H206V522.5H207V522.1H208V520.9H209V510.5H210V518.3H211V517.7H212V519.7H213V520.6H214V520.5H215V521.9H216V522.1H217V522.3H218V522.6H219H220V522.1H221V522H222V522.3H223V522.2H224H225V522.4H226H227V522.6H228V522.5H229V522.4H230H231V522.3H232V522.4H233V522.1H234V522.3H235V522.5H236V522.6H237H238V522.2H239V522.1H240V522.2H241V522.1H242V522.6H243V522.5H244V522.4H245V522.6H246H247V521.4H248V522.3H249V522.1H250V522.4H251V522H252V522.2H253V522.6H254V522H255V522.1H256V522.6H257V522H258V518.9H259V506.5H260V519.5H261V521.2H262V522.3H263H264V522.4H265V522.5H266V522.2H267H268V522.5H269V522.6H270V522.2H271H272V522H273H274V522.3H275V522.6H276V522.1H277V522.6H278V522.2H279V522.4H280V521.9H281V522.2H282V522.4H283V522H284V522.1H285H286V521.7H287V522.4H288V522H289V522.3H290V522.2H291V522H292H293V522.3H294V522.4H295V522H296H297V522.2H298V522.3H299V522.1H300V522.4H301V522.5H302H303V522H304V522.1H305H306V522.3H307V522.6H308V522.4H309V522.2H310V522.5H311V522.1H312H313V522.3H314V522.1H315V522.3H316V522.5H317V522.3H318V522.4H319V522.1H320H321V521H322V522.1H323V522.2H324V522.4H325V522.1H326V522.4H327V522.5H328V522.2H329H330H331H332V522.5H333V522.1H334V522H335V522.3H336V522.2H337V522H338V522.4H339V522.6H340V522.4H341V522.6H342V522H343V522.1H344V522.2H345V522.5H346V522.2H347V522.3H348V522H349V522.4H350V522.5H351V522H352V522.1H353V522.3H354V522.1H355V522.4H356V522.5H357V522.2H358V522.6H359V522.3H360V522.4H361V523.5Z" fill="#f9cb00"/>
<path d="M34 551.3V549.2H35V549.7H36V550H37V549.7H38V550.1H39V550H40V549.9H41V549.4H42V549.3H43V549.6H44V550.1H45V549.3H46V549.7H47V549.9H48V549.5H49V549.8H50V550.1H51V549.9H52V549.7H53H54V549.8H55V550.2H56V549.8H57V550H58V549.9H59V550.1H60V549.3H61V549.4H62V548.9H63V548.3H64V547.6H65V546.4H66V539.3H67H68V548.2H69V549.4H70V548.7H71V549.4H72V549.1H73V549.9H74V549.4H75V549.5H76V549H77V549.8H78V549.9H79V549.5H80V549.7H81V549.6H82V548.4H83V550H84H85V549.9H86V549.4H87V549.2H88V549.7H89V549.9H90V548.3H91V549.9H92H93V549.7H94V549.4H95V548.6H96V548.4H97V550H98V549.8H99V548.8H100V549.5H101H102V550.1H103V548.7H104V550.1H105V549.9H106V549.2H107V549.5H108V548.7H109V549.6H110V550H111V549.5H112V548.9H113V546.9H114V541.3H115V547.1H116V547.8H117V549.2H118V549.9H119V550.1H120V549.2H121V549.6H122V550.1H123V549.2H124V549.3H125V550.1H126V549.9H127V550.1H128V549.7H129V550H130V549.4H131V549.2H132V549.3H133V549.5H134V549.3H135V549.7H136V549.9H137V549.4H138V548.7H139V549.8H140H141V549.4H142V549.2H143V550H144V548.6H145V550.1H146V549.9H147V550.1H148V549.8H149V550.1H150V549.9H151V550.1H152V548.9H153V549.4H154V550.1H155H156V550.2H157V550H158V550.1H159H160V549.8H161V549.4H162V549.1H163V546.5H164V545.4H165V542.4H166V542.6H167V544.6H168V548.1H169V549.5H170V549.4H171V549.5H172V549.9H173V549.6H174V550.1H175V549.5H176V549.6H177V549.3H178V549.2H179V549.5H180V549.8H181H182V549.4H183V550H184V549.5H185V549.3H186V550H187V550.1H188V550.2H189H190V549.3H191H192V548.4H193V549.3H194V549.9H195V550H196V549.9H197V549.3H198V549.6H199V549.2H200V549.4H201V549.1H202V548.9H203V544.7H204V541H205V546.8H206V544.6H207V543.7H208V533.3H209H210V546.9H211V545.3H212V545.7H213V547.2H214V547H215V545.4H216V546.9H217V548.4H218V548.9H219V549.4H220V549.5H221V550H222V549.8H223V549.4H224V549.5H225V549.4H226H227V549.5H228V549.6H229H230V549.9H231H232V550H233V550.1H234V549.2H235V549H236V549.8H237V549.1H238V547.9H239V545.6H240V537.3H241V545H242V546.8H243V548.4H244V549.6H245V549.3H246V550H247V549.2H248V548.9H249V547.9H250V549.3H251V549.4H252H253V549.9H254V549.4H255V549.5H256V550H257V549.4H258V544.3H259V549.4H260V549.5H261V549.9H262V550.1H263H264V549.6H265V550.1H266V550H267H268V550.1H269V549.9H270V549.5H271V550.1H272V549.8H273H274V550.1H275V549.6H276H277V550H278V549.7H279V549.9H280V549.2H281V549.4H282V549.6H283V550H284V549.8H285H286V550H287V549.8H288H289V549.3H290V549.5H291H292H293V549.9H294V549.3H295H296V549.8H297V550H298H299V549.8H300V549.1H301V549H302V549.3H303H304V549.4H305V549.6H306V549.9H307V549.4H308V549.7H309V549.6H310V549.5H311V550.1H312V549.9H313H314V549H315V549.7H316V549.8H317V550.2H318V549.3H319V549.2H320H321V549.4H322H323V549.9H324V549.6H325V550H326V549.7H327V550H328V549.3H329V550H330H331V549.8H332V549.5H333V549.9H334V549.6H335V550.2H336H337V549.3H338V549.9H339V549.8H340V550.1H341H342V549.9H343V549.6H344V549.7H345H346V549.4H347V549.1H348V549.8H349V550.1H350V549.3H351V549.4H352V550H353V549.3H354V549.6H355V549.7H356V549.2H357V549.3H358V549.7H359V549.3H360H361V551.3Z" fill="#0a66ff"/>
<rect x="34" y="577.9" width="327" height="1.1" fill="#b01e1e"/>
<rect x="128.2" y="564" width="6.1" height="14.5" fill="#ebbcbc"/>
<rect x="133.8" y="559.5" width="1.5" height="19" fill="#dfa6a6"/>
<rect x="116" y="569.5" width="2.5" height="9" fill="#efcaca"/>
<rect x="135" y="557.5" width="4" height="21" fill="#a00000"/>
<rect x="137" y="554.5" width="2" height="24" fill="#a00000"/>
<rect x="229" y="575" width="6" height="3.5" fill="#a00000"/>
<rect x="223" y="570.5" width="5" height="8" fill="#a00000"/>
<rect x="43" y="577.5" width="14" height="1" fill="#a00000"/>
<rect x="188" y="576.5" width="1" height="2" fill="#a00000"/>
<rect x="195" y="576" width="1.5" height="2.5" fill="#a00000"/>
<rect x="210" y="577.3" width="8" height="1.2" fill="#a00000"/>
<rect x="238" y="577" width="1" height="1.5" fill="#a00000"/>
<rect x="250" y="577" width="7" height="1.5" fill="#a00000"/>
<rect x="59.5" y="552" width="3.4" height="26.5" fill="#a00000"/>
<rect x="59.5" y="552" width="3.4" height="1.6" fill="#e020c0"/>
<rect x="64" y="552" width="0.9" height="26.5" fill="#b51c1c"/>
<rect x="67" y="552" width="0.9" height="26.5" fill="#b51c1c"/>
<rect x="114.5" y="565.9" width="0.9" height="12.6" fill="#b51c1c"/>
<rect x="118.5" y="563" width="0.9" height="15.5" fill="#b51c1c"/>
<rect x="121.3" y="560.9" width="0.9" height="17.6" fill="#b51c1c"/>
<rect x="127.1" y="560.7" width="0.9" height="17.8" fill="#b51c1c"/>
<rect x="129.1" y="562.5" width="0.9" height="16" fill="#b51c1c"/>
<rect x="131.2" y="561.5" width="0.9" height="17" fill="#b51c1c"/>
<rect x="134.1" y="557.5" width="0.9" height="21" fill="#b51c1c"/>
<rect x="136.4" y="553.5" width="0.9" height="25" fill="#b51c1c"/>
<rect x="219.1" y="564.5" width="0.9" height="14" fill="#b51c1c"/>
<rect x="223.2" y="560.5" width="0.9" height="18" fill="#b51c1c"/>
<rect x="225.1" y="563.5" width="0.9" height="15" fill="#b51c1c"/>
<rect x="227.4" y="562.5" width="0.9" height="16" fill="#b51c1c"/>
<rect x="208.5" y="572.5" width="0.9" height="6" fill="#b51c1c"/>
<text x="35.5" y="452.22" font-size="7" font-weight="bold" fill="#111">DNase</text>
<text x="35.5" y="477.02" font-size="7" font-weight="bold" fill="#111">H3K4me1</text>
<text x="35.5" y="504.02" font-size="7" font-weight="bold" fill="#111">H3K4me3</text>
<text x="35.5" y="532.02" font-size="7" font-weight="bold" fill="#111">H3K27ac</text>
<text x="35.5" y="559.12" font-size="7" font-weight="bold" fill="#111">RNA</text>
<text x="35.5" y="588.02" font-size="7" font-weight="bold" fill="#111">RNA</text>
<text x="358.2" y="452.22" font-size="7" text-anchor="end" font-weight="bold" fill="#111">[0-200]</text>
<text x="358.2" y="477.02" font-size="7" text-anchor="end" font-weight="bold" fill="#111">[0-30]</text>
<text x="358.2" y="504.02" font-size="7" text-anchor="end" font-weight="bold" fill="#111">[0-100]</text>
<text x="358.2" y="532.02" font-size="7" text-anchor="end" font-weight="bold" fill="#111">[0-100]</text>
<text x="358.2" y="559.12" font-size="7" text-anchor="end" font-weight="bold" fill="#111">[0-2000]</text>
<text x="358.2" y="588.02" font-size="7" text-anchor="end" font-weight="bold" fill="#111">[0-2000]</text>
<path d="M382.9 469V467.7H383.9V466.6H384.9V467.1H385.9V467.6H386.9V467.2H387.9V467.1H388.9V467.7H389.9V467.1H390.9V465.5H391.9V467.1H392.9V466H393.9V467.6H394.9V467.3H395.9V467.5H396.9V467.2H397.9V464.5H398.9V467.5H399.9V467.7H400.9V465.5H401.9V466.6H402.9V467.8H403.9V467.3H404.9V467.9H405.9V467.4H406.9V467.7H407.9V466.5H408.9V467.6H409.9V467.5H410.9V467.7H411.9V467.2H412.9V466H413.9V466.5H414.9V467.3H415.9V466.1H416.9V467.8H417.9V467.4H418.9V467.8H419.9V467.1H420.9V467.4H421.9V467.7H422.9V467.9H423.9V467.1H424.9V465.6H425.9V467.8H426.9V467.4H427.9V467.7H428.9V462H429.9V467.6H430.9V467.2H431.9V467.1H432.9H433.9V466.6H434.9V465H435.9H436.9V467.1H437.9V467.3H438.9V467.2H439.9V467.7H440.9V461H441.9V466.1H442.9V467.1H443.9V461H444.9V466.2H445.9V462H446.9V467.3H447.9V467.9H448.9V465.9H449.9V466.8H450.9V467.5H451.9V465.9H452.9V467.7H453.9V463.5H454.9V465.3H455.9V464.6H456.9V467.8H457.9V466.1H458.9V467.5H459.9V466.7H460.9V467H461.9V466H462.9V465H463.9V459H464.9V466.5H465.9V467.4H466.9H467.9V466.6H468.9V467.2H469.9V466.5H470.9V467.4H471.9V464H472.9V467.7H473.9V467.6H474.9V467.1H475.9V447H476.9V465.5H477.9V467.9H478.9V466.7H479.9V467.5H480.9V466.4H481.9V465.8H482.9V467.8H483.9V465.7H484.9V467.4H485.9V467.3H486.9V467.4H487.9V467.2H488.9V467H489.9V467.9H490.9V467.6H491.9V465.6H492.9V465.2H493.9V467.8H494.9H495.9V467.5H496.9V467.7H497.9V460H498.9V467.3H499.9V467.4H500.9V466.2H501.9V467.3H502.9V467.2H503.9V467.1H504.9V467.4H505.9H506.9V467.1H507.9V467H508.9V465.4H509.9V467.7H510.9V467.4H511.9V464.9H512.9V465.8H513.9V467.8H514.9V467.9H515.9V464.8H516.9V465H517.9H518.9V466.3H519.9V467.6H520.9V466.1H521.9V467.3H522.9V466.4H523.9V460H524.9V467.7H525.9V466.7H526.9V467.1H527.9V467.7H528.9V465.2H529.9V467.2H530.9V467.6H531.9V465.1H532.9V467.8H533.9V467.2H534.9V467.3H535.9V467.9H536.9H537.9V467.2H538.9V465.9H539.9V467.5H540.9V467.8H541.9V467.5H542.9V467.8H543.9V466.2H544.9V467.5H545.9H546.9V463.5H547.9H548.9V467.4H549.9V467.3H550.9V466.2H551.9V467.4H552.9V466.5H553.9V467.3H554.9V467.5H555.9V467.4H556.9V467.9H557.9V458.5H558.9V467.1H559.9V467.5H560.9V467.3H561.9V462.5H562.9V467.3H563.9V465.8H564.9V467.8H565.9V467.1H566.9V467.7H567.9V467.3H568.9V467.4H569.9V467.1H570.9V467.3H571.9V467.1H572.9V467.3H573.9V467.9H574.9V467.7H575.9V467.8H576.9V465.8H577.9V467.7H578.9V466.2H579.9V467.8H580.9V467.5H581.9V467.3H582.9V467.2H583.9V467.7H584.9V467.9H585.9V457H586.9V467.5H587.9V464.5H588.9V467.9H589.9V467.2H590.9V467.1H591.9V467.5H592.9V466.1H593.9V465.8H594.9V467.9H595.9V465.6H596.9V467.8H597.9H598.9V467.1H599.9V467.7H600.9V467.9H601.9V466.5H602.9V467.9H603.9V467.1H604.9V467.7H605.9V467.9H606.9V465H607.9V467.4H608.9H609.9V467.8H610.9V467.1H611.9V467.4H612.9V466.6H613.9V467.2H614.9V467.3H615.9H616.9V467.8H617.9V467.6H618.9V467.7H619.9V467.5H620.9V467.7H621.9V467.2H622.9V467.4H623.9V467.5H624.9V467.4H625.9H626.9V467.5H627.9V467.9H628.9V466H629.9V467.8H630.9V467.2H631.9V467.8H632.9V466.3H633.9V467.5H634.9V465.5H635.9V465.6H636.9V467.1H637.9V467.4H638.9V467.3H639.9H640.9V467.5H641.9V467.4H642.9V467.6H643.9V467.4H644.9V467.6H645.9V467.7H646.9V465.2H647.9V467.5H648.9V467.4H649.9V467.6H650.9V467.1H651.9V467.6H652.9V467.2H653.9V467.3H654.9V466H655.9V467.2H656.9V458H657.9V465H658.9V464H659.9V466.6H660.9V467.1H661.9V458H662.9V467.2H663.9V467.6H664.9V467.1H665.9V467.7H666.9H667.9V467.9H668.9V467.8H669.9H670.9H671.9V466.8H672.9V466.5H673.9V467.1H674.9V467.6H675.9V465.4H676.9V466H677.9V467.3H678.9V467.6H679.9V466.3H680.9V466H681.9V465.8H682.9V464.6H683.9V465H684.9V465.3H685.9V464.7H686.9V465.9H687.9V467.9H688.9V467.2H689.9V467.8H690.9V465.2H691.9V467.8H692.9V466.1H693.9V467.7H694.9V467.1H695.9V467.5H696.9V467.7H697.9V467.5H698.9H699.9V467.1H700.9V467.2H701.9V467.9H702.9V467.5H703.9V467.3H704.9V467.2H705.9V467.9H706.9V467.7H707.9V467.1H708.9V469Z" fill="#9b00dc"/>
<line x1="382.9" y1="468.7" x2="708.9" y2="468.7" stroke="#5a0a78" stroke-width="0.80"/>
<path d="M382.9 496V491.4H383.4V485.3H383.9V491.5H384.4V485.5H384.9V490.3H385.4V492.1H385.9V492.9H386.4V487H386.9V490.7H387.4V492.9H387.9V491.8H388.4V491.1H388.9V492.7H389.4V486.7H389.9V493.5H390.4V493.3H390.9V488.7H391.4V489.5H391.9V493.6H392.4V491.8H392.9V493H393.4V493.5H393.9V489.2H394.4V493.6H394.9V493.8H395.4H395.9V484H396.4V492.5H396.9V486.9H397.4V489.3H397.9V486.8H398.4V492.8H398.9V486.8H399.4V493.7H399.9V491.3H400.4V485.6H400.9V493.5H401.4V493.7H401.9V487H402.4V484.9H402.9V492.6H403.4V493.2H403.9V489.9H404.4V491.9H404.9V491.6H405.4V492.1H405.9V493.2H406.4V490.6H406.9V487.6H407.4V491.8H407.9V486H408.4V489.3H408.9V492.7H409.4V491.5H409.9V492.5H410.4V492.4H410.9V485.9H411.4V491.3H411.9V487.2H412.4V491.2H412.9V488.6H413.4V488.5H413.9V485.8H414.4V487.4H414.9V490.8H415.4H415.9V486.9H416.4V492H416.9V491.7H417.4V486.3H417.9V486.7H418.4V485.6H418.9H419.4V490.2H419.9V487H420.4V490.8H420.9H421.4V487.7H421.9V484.9H422.4V489.9H422.9V491.5H423.4V491.4H423.9V490H424.4V484.1H424.9V488.5H425.4V486.8H425.9V488.9H426.4V490.1H426.9V490.6H427.4V487.8H427.9V490.3H428.4V490.1H428.9V490.6H429.4V488.4H429.9V490.1H430.4V489.4H430.9V489.7H431.4V484.6H431.9V486.5H432.4V489.1H432.9V489.7H433.4V484.2H433.9V491H434.4V490.2H434.9V484.3H435.4V483.3H435.9V486.7H436.4V490.3H436.9V491.3H437.4V486.4H437.9V483.3H438.4V484.8H438.9V487.1H439.4V488.7H439.9V483.7H440.4V483.9H440.9V481H441.4V487.9H441.9V489.3H442.4V485.6H442.9V486.4H443.4V489.1H443.9V489.3H444.4H444.9V482.4H445.4V484.2H445.9V487.7H446.4V489.6H446.9V485H447.4V489.1H447.9V489.8H448.4V488.9H448.9V485.2H449.4V487.6H449.9V484H450.4V483.5H450.9V490H451.4V488.5H451.9V484.2H452.4V486.5H452.9V489.7H453.4V488.8H453.9V490.1H454.4V489.4H454.9V483H455.4V489.9H455.9V486H456.4V483.6H456.9V490H457.4V489.6H457.9V484H458.4V490.8H458.9V489.1H459.4V490.4H459.9V490.1H460.4V490H460.9V490.4H461.4V488H461.9V486H462.4V490.1H462.9V490.4H463.4V490.5H463.9V484.4H464.4V485.5H464.9V485.9H465.4V489.8H465.9V484H466.4V485H466.9V490.7H467.4V490.4H467.9V489.9H468.4V489.7H468.9V483.6H469.4V488.7H469.9V485H470.4V490.3H470.9V489.6H471.4V491H471.9V485.9H472.4V487.6H472.9V489.8H473.4V490.9H473.9V488.1H474.4V490.5H474.9V484H475.4V489.5H475.9V484.9H476.4V489.7H476.9V487.2H477.4V489.5H477.9V486H478.4V484.3H478.9V489H479.4V490.6H479.9V485.5H480.4V484.2H480.9V489.2H481.4V489.4H481.9V486.7H482.4V488.2H482.9V486.5H483.4V488.7H483.9V490H484.4V486.7H484.9V491.9H485.4V486.1H485.9V490.9H486.4V490.6H486.9V491.7H487.4V486.4H487.9V489.6H488.4V491.7H488.9V488.9H489.4V484.3H489.9V490.1H490.4V490.3H490.9V484.8H491.4V491.7H491.9V490.8H492.4V484.9H492.9V490.5H493.4V489H493.9V490.1H494.4V490.3H494.9V487.7H495.4V490.3H495.9V490.6H496.4V488.7H496.9V490.6H497.4V491.1H497.9V487H498.4V490.6H498.9V485.6H499.4V490.6H499.9V485H500.4V487.8H500.9V490H501.4V487.6H501.9V491.1H502.4V485H502.9V485.3H503.4V489.3H503.9V487.1H504.4V488.8H504.9V490.9H505.4V489.8H505.9V491.4H506.4V489.1H506.9V487.2H507.4V490.9H507.9V488H508.4V489.9H508.9V488.3H509.4V489.6H509.9V488.3H510.4V486H510.9V484.7H511.4V484.4H511.9V483.5H512.4V490.8H512.9V486.4H513.4V489.4H513.9V487.9H514.4V490.4H514.9V492H515.4V490.8H515.9V485.5H516.4V489.5H516.9V491.6H517.4V492.3H517.9V485H518.4V486.7H518.9V489.2H519.4V491.3H519.9V488.4H520.4V485.5H520.9V491.7H521.4V491.1H521.9V489.1H522.4V492.3H522.9V485.5H523.4V492.2H523.9V491.9H524.4V492.6H524.9V492.4H525.4V492.6H525.9V489.6H526.4V489.8H526.9V486H527.4V487.5H527.9V488H528.4V491.4H528.9V493.2H529.4V489H529.9V492.3H530.4V492.1H530.9V489.5H531.4V491.5H531.9V491H532.4V491.2H532.9V488.6H533.4V490.5H533.9V493H534.4V487H534.9V490.4H535.4V492.3H535.9V493.4H536.4V492H536.9V491.2H537.4V492.2H537.9V493.2H538.4H538.9V493.4H539.4V492.8H539.9V487H540.4V492.8H540.9H541.4V490.8H541.9V491.7H542.4V489.1H542.9V492.6H543.4V485.9H543.9V491.6H544.4V486.8H544.9V492.1H545.4V492H545.9V485H546.4V492.1H546.9V492.6H547.4V491.5H547.9V489.8H548.4V492.5H548.9V493H549.4V490.1H549.9V491.8H550.4V489.5H550.9V491.1H551.4V490.9H551.9V490.1H552.4V485.6H552.9V483.8H553.4V484.3H553.9V490.6H554.4V491.7H554.9V487H555.4V486.3H555.9V491.6H556.4V491.3H556.9V486.5H557.4V487.8H557.9V491H558.4V486.9H558.9V482H559.4V490.6H559.9V483.8H560.4V487H560.9V491.6H561.4V491.2H561.9V490.2H562.4V489.2H562.9V486.3H563.4V486.4H563.9V488.2H564.4V488.3H564.9V487H565.4V485.2H565.9V488.1H566.4V483.3H566.9V484.1H567.4V487.2H567.9V486.2H568.4V488.1H568.9V490.6H569.4V487.9H569.9H570.4V490H570.9V485.3H571.4V489.6H571.9V491H572.4V491.2H572.9V490.9H573.4V484.3H573.9V489.5H574.4V490.1H574.9V490.7H575.4V489.7H575.9V491.3H576.4V484H576.9V491H577.4V483.6H577.9V490.1H578.4V491.1H578.9V489.9H579.4H579.9V487H580.4V488.6H580.9V485.1H581.4V486.6H581.9V484.4H582.4V486.2H582.9V491.8H583.4V491.4H583.9V490.8H584.4V490.6H584.9V491.6H585.4V485.6H585.9V486.5H586.4V491.7H586.9V485.1H587.4V491.7H587.9V491.2H588.4V491.7H588.9V490H589.4V491.2H589.9V485H590.4V492.6H590.9V491.7H591.4V492H591.9V488.7H592.4V490.4H592.9V485.1H593.4V492.8H593.9V489.2H594.4V492.9H594.9H595.4V487.7H595.9V493H596.4V487.4H596.9V486.4H597.4V493H597.9V492H598.4V492.6H598.9V489.7H599.4V488.8H599.9V486H600.4V491H600.9V488H601.4V493H601.9V493.7H602.4V486.9H602.9V493.3H603.4V488.6H603.9V486.4H604.4V486.2H604.9V490.8H605.4V487.2H605.9V487H606.4V485.1H606.9V489.2H607.4V493.2H607.9V492.8H608.4V492.4H608.9V493.7H609.4V490.1H609.9V490.9H610.4V492.3H610.9V493.4H611.4V491.9H611.9V487H612.4V487.3H612.9V490H613.4V493.3H613.9V487.8H614.4V493.4H614.9V493H615.4V492.7H615.9H616.4V490.8H616.9V485.5H617.4V488.7H617.9H618.4V489.8H618.9V488H619.4V490.5H619.9V488H620.4V488.4H620.9V492.1H621.4V491.8H621.9V490.1H622.4V485H622.9V490.8H623.4V490.4H623.9V487.2H624.4V492H624.9V489.7H625.4V491.3H625.9V486.5H626.4V490.7H626.9V485H627.4V489.7H627.9V490.7H628.4V491.7H628.9V490.7H629.4V491.6H629.9V489.4H630.4V490H630.9H631.4V489.9H631.9V491.4H632.4V490.3H632.9V490H633.4V484.5H633.9V484H634.4V484.5H634.9V488.8H635.4V490.6H635.9V486H636.4V490.6H636.9V491.3H637.4V488.4H637.9V485.1H638.4V489.6H638.9V487.2H639.4V488.3H639.9V489.5H640.4V488H640.9V490.5H641.4V489.8H641.9V487.9H642.4V484.1H642.9V486H643.4V489.8H643.9V482.7H644.4V490.5H644.9V487.7H645.4V484.6H645.9V488.1H646.4V488.7H646.9V485.2H647.4V487.7H647.9V487.5H648.4V488.5H648.9H649.4V486.3H649.9V485H650.4V484.5H650.9V487.7H651.4V489.1H651.9V489.5H652.4V489H652.9V489.6H653.4V487.9H653.9V486.2H654.4V488H654.9V481H655.4V483.2H655.9V489.8H656.4V483.1H656.9V488.7H657.4V490.2H657.9V486.3H658.4V488.9H658.9V489.3H659.4V484.4H659.9V483H660.4V489.7H660.9V484.3H661.4V484H661.9V490.2H662.4V486.9H662.9V487.5H663.4V490.2H663.9V482H664.4V488.9H664.9V489.2H665.4V489.6H665.9V488.7H666.4V490.3H666.9V489.5H667.4V490.8H667.9V489.9H668.4V489.2H668.9V489.9H669.4V491.1H669.9V487H670.4V488.5H670.9V490H671.4V486.8H671.9V490.3H672.4V487.3H672.9V491.9H673.4V493.1H673.9V492.5H674.4V493.2H674.9V488.9H675.4V489.1H675.9V485.1H676.4V485.9H676.9V490.3H677.4V488.7H677.9V486.7H678.4V492.6H678.9V492.5H679.4V490.2H679.9V487H680.4V489.1H680.9V488.5H681.4V492H681.9V489.5H682.4V492.3H682.9V489.3H683.4V488.6H683.9V489.9H684.4V493.2H684.9V492.3H685.4V491.9H685.9V485.9H686.4V493H686.9V492.1H687.4V492.5H687.9V491H688.4V491.1H688.9V490H689.4V486.6H689.9V491.3H690.4V487.8H690.9V492.1H691.4V487.7H691.9V490.5H692.4V491.2H692.9V486.2H693.4V491.9H693.9V487.3H694.4V491.8H694.9V490.6H695.4V485.1H695.9V492H696.4V491.4H696.9V486.3H697.4V491.4H697.9V486.3H698.4V489.8H698.9V489.3H699.4V486.3H699.9V487H700.4V484.3H700.9V490.2H701.4V489.7H701.9V490.7H702.4V490.4H702.9V487H703.4V490.6H703.9V489.3H704.4V490.6H704.9V490.5H705.4V489.5H705.9V487.1H706.4V489.4H706.9V484.9H707.4V487H707.9V484H708.4V489.9H708.9V496Z" fill="#05cf63"/>
<path d="M382.9 523.5V522.1H383.9V522.5H384.9V522.4H385.9V522.1H386.9H387.9H388.9V521.6H389.9V522.6H390.9V522.5H391.9V522.4H392.9V522.2H393.9V522.4H394.9V522.2H395.9H396.9V522H397.9V522.4H398.9H399.9V522.3H400.9V522.1H401.9V522H402.9V522.2H403.9V522.3H404.9V522.5H405.9V522.1H406.9V522H407.9V522.5H408.9V522H409.9V522.5H410.9V522.1H411.9V522.6H412.9V520.9H413.9V518.6H414.9V520.6H415.9V521.3H416.9V522.5H417.9V522.3H418.9V522.4H419.9H420.9V522.6H421.9H422.9V522H423.9H424.9V522.3H425.9V522.4H426.9H427.9V522.3H428.9V522.1H429.9V522.6H430.9V522.1H431.9V522.4H432.9V522.5H433.9H434.9V522.1H435.9H436.9V522.2H437.9V522.1H438.9V522H439.9V522.4H440.9V522.5H441.9V522.1H442.9H443.9V522.5H444.9V522.1H445.9V522.4H446.9V522.1H447.9V522H448.9V522.2H449.9V522.5H450.9V521.6H451.9V522.3H452.9H453.9V522.6H454.9V522.5H455.9V522.3H456.9H457.9V522.6H458.9V522.3H459.9V522H460.9V520.2H461.9V517.1H462.9V506.5H463.9V518.3H464.9V520.4H465.9V522.2H466.9H467.9V522.1H468.9V521.2H469.9V522.6H470.9H471.9V522H472.9V521.4H473.9V519.6H474.9V500.5H475.9H476.9V517.6H477.9V521.4H478.9V522.5H479.9V521.7H480.9V522.4H481.9V522.6H482.9V522.5H483.9V522.4H484.9H485.9H486.9V522.3H487.9V521.8H488.9V522.4H489.9H490.9V522.2H491.9V522.6H492.9V522.2H493.9V521.1H494.9V522.6H495.9V522.3H496.9V522H497.9V522.6H498.9H499.9H500.9H501.9H502.9V522.1H503.9V522.2H504.9H505.9V522H506.9V522.5H507.9V522H508.9H509.9V522.5H510.9V522.6H511.9V522.5H512.9V522.6H513.9V522.2H514.9V521.3H515.9V522.1H516.9V522.5H517.9V516.5H518.9V522.1H519.9H520.9V522H521.9V522.6H522.9H523.9H524.9V522.5H525.9V522.3H526.9V522.1H527.9V522H528.9V522.6H529.9V522.4H530.9V522.6H531.9V522.1H532.9V521.2H533.9V522.1H534.9V522.4H535.9V522H536.9V522.1H537.9V522.2H538.9V522.4H539.9V522.6H540.9V522.4H541.9H542.9V522.6H543.9V522.5H544.9V522.4H545.9V522.2H546.9V522.1H547.9V522.4H548.9V522.2H549.9V522H550.9V522.2H551.9V522.3H552.9V522.6H553.9V522.3H554.9V522H555.9V522.5H556.9V522.6H557.9H558.9V522.3H559.9V522.2H560.9V522.1H561.9H562.9H563.9V522.2H564.9V522.5H565.9V522.6H566.9H567.9V522.5H568.9V522H569.9H570.9V522.2H571.9H572.9V522.5H573.9H574.9H575.9V522H576.9V522.5H577.9V522.4H578.9V522H579.9V522.2H580.9V521.8H581.9V522.2H582.9V522.3H583.9V522H584.9V522.1H585.9V513.5H586.9H587.9V520.5H588.9V521.3H589.9V520.7H590.9V521.2H591.9V521.5H592.9V521.9H593.9V522.3H594.9V522.4H595.9H596.9V522.5H597.9V522.4H598.9H599.9V522.3H600.9V521.4H601.9V522.5H602.9V522.2H603.9V522.6H604.9V522.1H605.9H606.9V522.6H607.9V522.2H608.9V522.6H609.9V522.4H610.9V522.3H611.9V521.7H612.9V522.2H613.9V522.6H614.9V522.3H615.9V522.6H616.9H617.9V522.2H618.9H619.9V522.4H620.9V522.6H621.9V521.6H622.9V522.3H623.9V522.6H624.9V522.1H625.9V522.4H626.9V522.3H627.9V522.4H628.9V522.3H629.9V522.2H630.9V522.3H631.9H632.9V522.5H633.9V522.4H634.9V522.3H635.9V522.5H636.9V521.7H637.9V522.6H638.9V522.4H639.9V522.2H640.9H641.9V522.6H642.9V522.2H643.9V521.3H644.9V522.4H645.9V522.1H646.9V522.3H647.9V522H648.9V522.3H649.9V522.4H650.9V522.1H651.9V522.2H652.9V522.4H653.9V521.3H654.9V519.7H655.9V501.5H656.9V517.6H657.9V519.2H658.9V521.5H659.9V522H660.9V520.7H661.9V510.5H662.9H663.9V520.2H664.9V522.2H665.9V522.1H666.9H667.9H668.9V521.6H669.9V522.4H670.9V522.1H671.9H672.9H673.9V522H674.9V522.4H675.9V522.6H676.9V522H677.9H678.9V522.6H679.9V522H680.9V522.4H681.9V522.6H682.9V522.5H683.9V522.3H684.9H685.9V522.5H686.9V522.4H687.9V522H688.9V522.1H689.9V522.4H690.9V522.3H691.9V522.5H692.9V522.3H693.9V522.2H694.9V522.4H695.9V522.5H696.9V522.4H697.9V522.2H698.9V522.1H699.9V522H700.9V522.2H701.9V522.3H702.9V522.4H703.9V522.3H704.9H705.9V522H706.9H707.9V518.5H708.9V523.5Z" fill="#f9cb00"/>
<path d="M382.9 551.3V549.7H383.9V550H384.9V550.1H385.9V549.7H386.9V549.9H387.9H388.9V549.8H389.9V549.6H390.9V549.2H391.9V550.2H392.9V549.9H393.9V549.4H394.9V549.9H395.9V549.5H396.9V548.3H397.9H398.9V549.8H399.9V550H400.9H401.9V549.3H402.9V549.7H403.9V549.4H404.9V549.9H405.9H406.9V549.6H407.9V549.2H408.9V550H409.9V549.3H410.9V550.1H411.9V550H412.9V548.3H413.9H414.9V549.4H415.9H416.9V549.3H417.9V549.8H418.9V549.4H419.9V549.7H420.9V549.9H421.9V550.2H422.9V549.2H423.9V549.7H424.9V549.8H425.9V550H426.9V549.5H427.9V549.9H428.9V549.5H429.9V548.3H430.9V549.4H431.9V549.3H432.9V549.5H433.9V550.1H434.9H435.9V549.5H436.9V549.8H437.9V549.3H438.9V548.1H439.9V549.8H440.9V550H441.9V549.3H442.9V547.6H443.9V547.9H444.9V546H445.9V545.9H446.9V546.3H447.9V546.7H448.9V547H449.9V547.7H450.9V547.6H451.9V547.7H452.9V547.4H453.9V546.8H454.9V546.3H455.9V549.3H456.9V548H457.9V549.8H458.9V548.9H459.9V548.6H460.9V547.4H461.9V546.2H462.9V541.8H463.9V544H464.9V547H465.9V546.4H466.9V546.3H467.9V546.6H468.9V547.1H469.9V547.6H470.9V547.2H471.9V547H472.9V546.8H473.9V548.8H474.9V546.4H475.9V536.3H476.9V546H477.9V549.7H478.9V549.2H479.9V548.9H480.9V550H481.9V549.5H482.9V550.1H483.9V549.9H484.9H485.9V549.7H486.9V550.1H487.9V549.6H488.9V549.9H489.9V548.5H490.9V549.8H491.9V550.2H492.9V549.3H493.9V549.8H494.9V549.9H495.9V549.3H496.9V549.7H497.9V549.4H498.9V549.9H499.9V549.1H500.9V550.1H501.9V549.9H502.9V550H503.9H504.9V549.7H505.9V549.9H506.9V549.6H507.9V548.3H508.9V549.5H509.9V549.8H510.9V549.4H511.9V549.6H512.9V549.5H513.9V549.3H514.9H515.9V549.6H516.9V549.3H517.9V549.9H518.9V549.5H519.9V548.8H520.9V550.1H521.9V549.5H522.9H523.9V549.6H524.9H525.9V549.9H526.9V550H527.9V549.4H528.9V549.6H529.9V549.7H530.9V549.5H531.9V549.9H532.9V550H533.9V549.7H534.9V549.5H535.9V549.2H536.9V549.4H537.9V549.1H538.9V549.4H539.9H540.9V549.6H541.9V549.7H542.9V549.9H543.9H544.9V550.1H545.9V549.3H546.9V548.4H547.9V549.3H548.9V549.5H549.9V549.4H550.9V549.3H551.9V549.5H552.9V549.9H553.9V549.5H554.9V550H555.9V549.4H556.9V550H557.9V546.3H558.9H559.9V549.6H560.9V548.7H561.9V548.4H562.9V549.4H563.9V549.2H564.9V549.3H565.9V549.2H566.9V549.6H567.9V549.9H568.9V550.1H569.9V549.2H570.9V549.7H571.9V550H572.9V549.9H573.9V549.6H574.9H575.9V549.7H576.9V549.4H577.9V549.6H578.9V549.9H579.9H580.9V549.4H581.9V549.6H582.9V550.1H583.9V549.6H584.9V548.7H585.9V546.1H586.9V549.1H587.9V549.6H588.9V549.4H589.9V549.7H590.9V549.3H591.9V550H592.9V549.5H593.9V549.4H594.9V548.9H595.9V550.1H596.9H597.9V549.8H598.9V549.9H599.9V549.3H600.9V549.7H601.9V550.2H602.9V550H603.9V549.4H604.9V550H605.9V549.4H606.9V550.1H607.9V550.2H608.9V550H609.9V549.9H610.9V549.7H611.9V549.8H612.9V549.3H613.9V549.9H614.9V549.7H615.9V550H616.9V549.8H617.9V549.2H618.9V549.4H619.9V549.8H620.9V549.3H621.9V549.6H622.9V550.2H623.9V550.1H624.9V550.2H625.9V549.9H626.9V549.6H627.9V549.4H628.9V550.1H629.9V549.7H630.9V549.8H631.9V549.7H632.9V550.1H633.9V549.7H634.9V550.1H635.9H636.9V549.8H637.9V550.1H638.9V549.8H639.9V550H640.9V549.9H641.9V549.7H642.9V549H643.9V549.2H644.9V550.1H645.9V549.3H646.9V549.9H647.9V549.4H648.9V549.2H649.9V550.1H650.9V549.5H651.9V549.8H652.9V550.1H653.9V549.6H654.9V549.8H655.9V548.5H656.9V547.5H657.9V549H658.9V550H659.9V549.7H660.9V548.3H661.9H662.9V549.5H663.9V549.3H664.9V549.6H665.9V549.8H666.9V549.3H667.9H668.9V549.8H669.9V549.3H670.9H671.9V549.5H672.9V549.1H673.9V550H674.9V549.5H675.9V549.3H676.9V549.9H677.9V549.8H678.9V549.4H679.9V549.5H680.9V549.9H681.9V548.2H682.9V550.1H683.9V549.4H684.9V550H685.9V549.7H686.9H687.9V549.6H688.9V549.4H689.9V549.3H690.9V549.5H691.9V549.4H692.9V549.3H693.9V550H694.9V549.6H695.9V549.8H696.9V550H697.9V549.6H698.9V549.5H699.9V550H700.9V549.4H701.9V549.5H702.9V549.9H703.9V550H704.9V548.9H705.9V549.7H706.9V549.8H707.9V549.7H708.9V551.3Z" fill="#0a66ff"/>
<rect x="382.9" y="577.9" width="326" height="1.1" fill="#b01e1e"/>
<rect x="439.5" y="570.5" width="1.5" height="8" fill="#a00000"/>
<rect x="466.8" y="573.5" width="1.8" height="5" fill="#a00000"/>
<rect x="610.3" y="571.5" width="1.7" height="7" fill="#a00000"/>
<rect x="620.5" y="572" width="1.5" height="6.5" fill="#a00000"/>
<rect x="623" y="573" width="2" height="5.5" fill="#a00000"/>
<rect x="415.8" y="552" width="9" height="26.5" fill="#a00000"/>
<rect x="415.8" y="552" width="9" height="1.6" fill="#e020c0"/>
<rect x="610.5" y="571.5" width="1" height="7" fill="#a80808"/>
<rect x="614" y="573.5" width="1" height="5" fill="#a80808"/>
<rect x="615.5" y="574" width="1" height="4.5" fill="#a80808"/>
<rect x="619" y="572.5" width="1" height="6" fill="#a80808"/>
<rect x="620.5" y="572" width="1" height="6.5" fill="#a80808"/>
<rect x="623.5" y="571.7" width="1" height="6.8" fill="#a80808"/>
<rect x="626" y="573.5" width="1" height="5" fill="#a80808"/>
<rect x="630.5" y="575.5" width="1" height="3" fill="#a80808"/>
<rect x="633" y="575.5" width="1" height="3" fill="#a80808"/>
<rect x="635.5" y="575.7" width="1" height="2.8" fill="#a80808"/>
<rect x="638" y="575.3" width="1" height="3.2" fill="#a80808"/>
<rect x="642.5" y="575" width="1" height="3.5" fill="#a80808"/>
<rect x="645" y="575.5" width="1" height="3" fill="#a80808"/>
<rect x="647.5" y="575.3" width="1" height="3.2" fill="#a80808"/>
<rect x="650" y="574.7" width="1" height="3.8" fill="#a80808"/>
<rect x="425.2" y="552" width="0.9" height="26.5" fill="#b51c1c"/>
<rect x="428.1" y="552" width="0.9" height="26.5" fill="#b51c1c"/>
<rect x="430.1" y="552" width="0.9" height="26.5" fill="#b51c1c"/>
<rect x="432.2" y="552" width="0.9" height="26.5" fill="#b51c1c"/>
<rect x="439.6" y="552" width="0.9" height="26.5" fill="#b51c1c"/>
<rect x="463.4" y="568.5" width="0.9" height="10" fill="#b51c1c"/>
<rect x="466.9" y="552" width="0.9" height="26.5" fill="#b51c1c"/>
<rect x="467.9" y="552" width="0.9" height="26.5" fill="#b51c1c"/>
<rect x="471.4" y="552" width="0.9" height="26.5" fill="#b51c1c"/>
<rect x="475.1" y="552" width="0.9" height="26.5" fill="#b51c1c"/>
<text x="384" y="452.22" font-size="7" font-weight="bold" fill="#111">DNase</text>
<text x="384" y="477.02" font-size="7" font-weight="bold" fill="#111">H3K4me1</text>
<text x="384" y="504.02" font-size="7" font-weight="bold" fill="#111">H3K4me3</text>
<text x="384" y="532.02" font-size="7" font-weight="bold" fill="#111">H3K27ac</text>
<text x="384" y="559.12" font-size="7" font-weight="bold" fill="#111">RNA</text>
<text x="384" y="588.02" font-size="7" font-weight="bold" fill="#111">RNA</text>
<text x="709.6" y="452.22" font-size="7" text-anchor="end" font-weight="bold" fill="#111">[0-200]</text>
<text x="709.6" y="477.02" font-size="7" text-anchor="end" font-weight="bold" fill="#111">[0-30]</text>
<text x="709.6" y="504.02" font-size="7" text-anchor="end" font-weight="bold" fill="#111">[0-100]</text>
<text x="709.6" y="532.02" font-size="7" text-anchor="end" font-weight="bold" fill="#111">[0-100]</text>
<text x="709.6" y="559.12" font-size="7" text-anchor="end" font-weight="bold" fill="#111">[0-2000]</text>
<text x="709.6" y="588.02" font-size="7" text-anchor="end" font-weight="bold" fill="#111">[0-2000]</text>
<path d="M730.5 469V467.6H731.5V467.7H732.5V467.8H733.5V467.3H734.5V467.9H735.5V467.8H736.5V467.7H737.5V467.8H738.5V467.5H739.5V467.1H740.5V467.3H741.5V467.7H742.5V467.2H743.5V465.7H744.5V467.7H745.5V467.3H746.5V467.9H747.5V467.7H748.5V466.7H749.5V467.5H750.5V467.8H751.5V467.4H752.5V467.2H753.5V465.2H754.5V466.5H755.5V466.6H756.5V467.2H757.5V467.4H758.5V467.5H759.5V467.8H760.5V467.6H761.5V467.4H762.5V467.9H763.5V466.7H764.5V467.2H765.5V467.6H766.5V467.4H767.5V467.9H768.5V467.6H769.5H770.5V466.5H771.5V467.2H772.5V467.6H773.5V467.1H774.5V467.8H775.5H776.5V467.3H777.5V467.4H778.5V465.5H779.5V467.4H780.5V467.5H781.5V467.6H782.5H783.5H784.5V467.8H785.5V467.7H786.5V467.9H787.5V467.1H788.5V467.7H789.5V466.8H790.5V467.9H791.5V467.6H792.5V467.1H793.5V467.3H794.5V467.2H795.5V466.3H796.5V467.7H797.5H798.5V467.9H799.5V467.4H800.5V467.2H801.5V464.8H802.5V467.4H803.5V467.9H804.5V467.7H805.5V464.5H806.5V468.3H807.5H808.5H809.5H810.5H811.5H812.5H813.5H814.5H815.5H816.5V467.2H817.5V467.1H818.5H819.5V467.8H820.5V467.9H821.5V467.1H822.5V467.7H823.5V467.9H824.5V466.3H825.5V467.6H826.5H827.5V467.9H828.5V467.5H829.5V467.7H830.5V467.3H831.5V467.6H832.5H833.5V465.8H834.5V467.9H835.5V461H836.5V467.4H837.5V467.6H838.5V467.7H839.5V466.9H840.5V467.9H841.5V467.8H842.5V467.4H843.5V467.3H844.5V467.4H845.5V467.9H846.5V467.3H847.5V467.8H848.5H849.5V467.6H850.5V467.3H851.5V466.7H852.5V463H853.5V466.2H854.5V467.2H855.5V467.4H856.5V465.3H857.5V467.8H858.5V467.3H859.5V463.5H860.5V467.2H861.5V467.4H862.5V467.8H863.5V465.3H864.5V467H865.5V467.2H866.5V467.7H867.5V467.6H868.5V467.9H869.5V467.1H870.5V467.3H871.5V467.5H872.5V467.3H873.5V467.2H874.5V467.7H875.5V467.2H876.5V467.9H877.5V465.3H878.5V467.7H879.5V467.3H880.5V467.8H881.5V465.9H882.5V467.8H883.5V467.2H884.5V467.4H885.5V467.5H886.5V464.9H887.5V467.5H888.5V467.4H889.5V467.8H890.5V467.3H891.5V467.9H892.5V466H893.5V465.8H894.5V467.1H895.5V467.2H896.5V460H897.5V466.4H898.5V465.5H899.5V467.1H900.5V467.9H901.5V467.3H902.5V455H903.5V466.7H904.5V467.7H905.5V467.1H906.5V465.6H907.5V466.6H908.5V467.3H909.5V467.7H910.5V462H911.5V465H912.5V467.1H913.5V464.9H914.5V467.5H915.5V466.6H916.5V467.1H917.5V464.5H918.5V467.2H919.5V467.5H920.5V464.9H921.5V467.7H922.5V467.5H923.5V467.3H924.5V467.1H925.5V467H926.5V466.5H927.5V462H928.5V467H929.5V467.6H930.5V467.2H931.5H932.5V467.6H933.5V467.3H934.5V467.4H935.5V467.7H936.5V467.8H937.5V464.8H938.5V467.5H939.5V467.8H940.5V466.4H941.5V467.1H942.5H943.5V467.3H944.5V467.4H945.5V466H946.5V467.1H947.5H948.5V467.3H949.5H950.5V467.2H951.5H952.5H953.5V467.8H954.5V467.2H955.5V467.5H956.5V467.2H957.5V467.3H958.5V467.9H959.5V466.6H960.5V467.2H961.5V467.5H962.5V467.8H963.5V467.9H964.5V467.2H965.5V464.9H966.5V467.2H967.5V466H968.5H969.5V467.5H970.5V466H971.5V465.2H972.5V467.5H973.5V467.7H974.5V465.9H975.5V467.6H976.5V465.1H977.5V467.7H978.5V467.1H979.5V467.6H980.5V467.1H981.5V466.1H982.5V467.5H983.5V467.6H984.5V467.2H985.5V466.2H986.5V467.4H987.5V467.8H988.5V467.4H989.5V467.9H990.5V467.8H991.5V467.3H992.5V467.1H993.5V465.3H994.5V456H995.5V467.7H996.5V467.6H997.5V467.7H998.5V467.9H999.5V467.6H1000.5V467.2H1001.5V464.9H1002.5V466.3H1003.5V467.6H1004.5V467.5H1005.5V467.2H1006.5V467.3H1007.5V467.9H1008.5V467.2H1009.5V467.5H1010.5V467.1H1011.5V467.9H1012.5V467.8H1013.5V467.4H1014.5V467.9H1015.5V467.3H1016.5V467.2H1017.5V467.6H1018.5V452H1019.5H1020.5V465.3H1021.5V463H1022.5V467.6H1023.5V466.5H1024.5V467.2H1025.5V467.7H1026.5V467.6H1027.5V467.2H1028.5V467.5H1029.5V467.1H1030.5V467.9H1031.5V467.1H1032.5V467.3H1033.5H1034.5V467.5H1035.5V467.2H1036.5V467.4H1037.5V465.2H1038.5V467.9H1039.5V467.7H1040.5H1041.5V465H1042.5H1043.5V467.2H1044.5V467.7H1045.5V467.8H1046.5V465.3H1047.5V467.5H1048.5H1049.5H1050.5V466.1H1051.5V467.8H1052.5V465.7H1053.5V467.2H1054.5V467.6H1055.5V466.5H1056.5V469Z" fill="#9b00dc"/>
<line x1="730.5" y1="468.7" x2="1056.3" y2="468.7" stroke="#5a0a78" stroke-width="0.80"/>
<path d="M730.5 496V494H731V493.9H731.5V492.4H732V488.7H732.5V493.6H733V486.8H733.5V489.3H734V492.2H734.5V493.4H735V493.7H735.5V493.8H736V492.7H736.5V489.2H737V488.6H737.5V489H738V488.8H738.5V490.9H739V493.1H739.5V486.6H740V492H740.5V491H741V492.1H741.5V487H742V489.1H742.5V493.8H743V487.1H743.5V489.9H744V486.4H744.5V485.6H745V490H745.5V487H746V489.4H746.5V492H747V490.4H747.5V486.9H748V492.3H748.5V487.5H749V493.1H749.5V492.4H750V492.2H750.5V492H751V486.5H751.5V489H752H752.5V491.7H753V493.5H753.5V488.1H754V492.6H754.5V493.6H755V488.4H755.5V493.1H756V488.6H756.5V486.6H757V492.7H757.5V492.6H758V493.9H758.5V491.2H759V493.6H759.5V488.6H760V490H760.5V492.2H761V492.8H761.5V491.7H762V490.6H762.5V492.7H763V486.4H763.5V487.6H764V492.6H764.5V491.9H765V492.6H765.5V493.1H766V493.9H766.5V494.1H767V491.9H767.5V492.9H768V494.4H768.5V494.8H769V489.4H769.5V494.5H770V487.1H770.5V490.9H771V493.5H771.5V490.5H772V494.6H772.5V489.3H773V489H773.5V492.5H774V492.4H774.5V488.4H775V490H775.5V493.4H776V493.3H776.5V493.4H777V489H777.5V487H778V487.8H778.5V493.6H779V491.7H779.5V494.6H780V491.6H780.5V489.9H781V494.6H781.5V490.6H782V493.8H782.5V491.2H783V494.9H783.5V488.9H784V494.4H784.5V493.8H785V487.4H785.5V490.6H786V493.3H786.5V492H787V489.2H787.5V493H788V493.6H788.5V492.2H789V487.3H789.5V490H790H790.5V489.2H791V493H791.5V494.1H792V493.4H792.5V493.9H793V492.4H793.5V490.7H794V488.9H794.5V493.4H795V490.2H795.5V489H796V492.4H796.5V493.6H797V489.1H797.5V487.5H798V490.1H798.5V487.7H799V493.5H799.5V489H800V486.3H800.5V491H801V492.3H801.5V490.5H802V485.8H802.5V487.1H803V492.2H803.5V488.3H804V489.6H804.5V486.8H805V491.9H805.5V493.5H806V490H806.5V493.6H807V495.3H807.5H808H808.5H809H809.5H810H810.5H811H811.5H812H812.5H813H813.5H814H814.5H815H815.5H816H816.5V487.8H817V493.6H817.5V488H818V492.8H818.5V490.3H819V488.9H819.5V493.7H820V489.6H820.5V490.5H821V490.9H821.5V488.9H822V494.1H822.5V489.1H823V490.7H823.5V487.5H824V487.9H824.5V494.3H825V493.1H825.5V490.4H826V489.2H826.5V489.1H827V492.3H827.5V489.9H828V492H828.5V488.5H829V490H829.5V487H830H830.5V492.4H831V486.6H831.5V488.1H832V484.5H832.5V489.5H833V490.2H833.5V484H834H834.5V487.6H835V490.7H835.5V485H836H836.5V489.6H837V485.9H837.5V483.3H838V486H838.5V484.7H839V492H839.5V490.7H840V485H840.5V487.2H841V490.7H841.5V491.9H842V487.8H842.5V487.4H843V491.2H843.5V490.8H844V489H844.5V486.2H845V492H845.5V484.9H846V490.3H846.5V486.4H847V487.5H847.5V490.4H848V490.8H848.5V490.9H849V490.8H849.5V485.4H850V488H850.5V490.7H851V489.6H851.5V490H852V488.8H852.5V490.4H853V491.1H853.5V487.4H854V489.4H854.5V486.4H855V487.9H855.5V484.8H856V488.5H856.5V489.8H857V490H857.5V487H858H858.5V483.9H859V489.6H859.5V485.2H860V486.3H860.5V489.8H861H861.5V490.5H862V489H862.5V490H863V488.9H863.5V484.4H864V490H864.5V489.9H865V490.7H865.5V490.1H866V490.5H866.5V490H867V490.1H867.5V482.6H868V485.4H868.5V486.9H869H869.5V484.3H870V490.8H870.5V488.2H871V489.2H871.5V488.2H872V490.6H872.5V487.7H873V491.6H873.5V490.7H874V487.1H874.5V487.8H875V491.5H875.5V487.6H876V485.5H876.5V487.4H877V485H877.5V484.6H878V485H878.5V486.7H879V485.4H879.5V487.3H880V489.5H880.5V491.1H881V492.3H881.5V484.8H882V491.9H882.5V490.6H883V489.6H883.5V490.8H884V491.2H884.5V488.1H885V490.7H885.5V491H886V489.4H886.5V491.9H887V490.9H887.5V486.5H888V484.1H888.5V491.3H889V492H889.5V492.3H890V485.6H890.5V492.4H891V492.7H891.5V492.1H892V489.3H892.5V485.7H893V487H893.5V492.1H894V491.1H894.5V491.5H895V491.8H895.5V484.7H896V492.4H896.5V484.8H897V492.5H897.5V490.6H898V490.7H898.5V491H899V488.6H899.5V485.2H900V491.5H900.5V487H901H901.5V485.4H902H902.5V488H903V490.4H903.5V491.2H904V488.1H904.5V488.5H905V488.6H905.5V491.9H906V490.2H906.5V483.9H907V489.8H907.5V490.4H908V485.9H908.5V486H909V490.5H909.5V486.4H910V490.4H910.5V489.8H911V485.3H911.5V488H912H912.5V491.1H913V490.2H913.5V491.1H914V489.7H914.5V484.5H915V485.2H915.5V490.7H916V491H916.5V487.9H917V489.6H917.5V483H918V488.7H918.5V489.8H919V490.8H919.5V491H920V489.5H920.5V485.3H921V489.3H921.5V486H922V488H922.5V487.9H923V490.8H923.5V484.1H924V487.7H924.5V490.2H925V489.7H925.5V491.4H926V491H926.5V485.6H927V484.8H927.5V488.4H928V483.6H928.5V490.7H929V491.4H929.5V490.8H930V487.3H930.5V490.3H931V491.8H931.5V491.1H932V490H932.5V487.2H933V486.4H933.5V485.7H934V484.9H934.5V483H935H935.5V491.7H936V490.9H936.5V487.1H937V491.2H937.5V486.8H938V492.3H938.5V491.7H939V486.7H939.5V490.6H940V490.7H940.5V488H941V487.5H941.5V491.6H942V487.7H942.5V492.7H943V491.9H943.5V489.8H944V486.5H944.5V487H945H945.5V492.1H946V490.8H946.5V485.9H947V491.5H947.5V488.2H948V484.5H948.5V492.4H949V491.1H949.5V492H950V492.5H950.5H951V484.8H951.5V491.7H952V490.8H952.5V491.8H953V490.6H953.5V491.1H954H954.5V488.2H955V490.9H955.5V491.3H956V487.6H956.5V492.3H957V485.5H957.5V490.8H958V487.3H958.5V488.8H959V491.8H959.5V488H960H960.5V487H961V490.2H961.5V490.9H962V490.1H962.5V490.6H963V491.6H963.5V489.8H964V491.2H964.5V490.1H965V489.7H965.5V488.3H966V491H966.5V488.1H967V490.1H967.5V490.6H968V489.7H968.5V490.1H969V488.4H969.5V489.7H970V491.1H970.5V488.9H971V491H971.5V489.9H972V484.5H972.5V486.7H973V489.7H973.5V486.2H974V485.9H974.5V485.3H975V487H975.5V488.1H976V482.9H976.5V490.3H977V487.1H977.5V490.8H978V490.7H978.5V489.5H979V485.2H979.5V490.5H980V491.1H980.5V486.3H981V484.1H981.5V490.6H982V491.4H982.5V490.5H983V487.1H983.5V488.6H984V489.6H984.5V491.2H985V490.3H985.5V484.8H986V489.9H986.5V491H987V491.3H987.5V490.8H988V489.1H988.5V487.6H989V491H989.5V486.9H990V488H990.5V487.7H991V490.9H991.5V490.4H992V491H992.5V491.7H993V489.3H993.5V490.4H994V491.8H994.5V492.3H995V491.9H995.5V492H996V491.2H996.5V490.8H997V488.3H997.5V491.7H998V487.4H998.5V492.5H999V492H999.5V492.2H1000V486.6H1000.5V491.2H1001V491.6H1001.5V491H1002V487.7H1002.5V487.1H1003V491H1003.5V486H1004V489.3H1004.5V487.7H1005V489H1005.5V488.4H1006V492.4H1006.5V492H1007V492.4H1007.5V490.4H1008V491.6H1008.5V491.4H1009V492.5H1009.5V488.7H1010V486.2H1010.5V492H1011V490.5H1011.5V492.2H1012V481.7H1012.5V487.4H1013V489.7H1013.5V490.1H1014V488.5H1014.5V486H1015V489.8H1015.5V488.8H1016V488.4H1016.5V484.8H1017V488.9H1017.5V485.9H1018V482.5H1018.5V483.3H1019V489.3H1019.5V484.5H1020V481.3H1020.5V488.9H1021V482.4H1021.5V487H1022V484.2H1022.5V483.2H1023V488.2H1023.5V488.4H1024V488.8H1024.5V485H1025H1025.5V483.2H1026V482.3H1026.5V483.5H1027V483.8H1027.5V481.5H1028V488.3H1028.5V481.5H1029V485.7H1029.5V481.4H1030V481.5H1030.5V487.2H1031V480.6H1031.5V487.4H1032V488.1H1032.5V485.9H1033V481.3H1033.5V487.3H1034V487.4H1034.5V485H1035V482.4H1035.5V487.2H1036V485.5H1036.5V487.2H1037V488.6H1037.5V489H1038V486.7H1038.5V488.4H1039V487.8H1039.5V483.1H1040V484H1040.5V486.2H1041V488.2H1041.5V487.8H1042V484.7H1042.5V486.1H1043V485.8H1043.5V488H1044V487.8H1044.5V485H1045V481.8H1045.5V488.8H1046V483.7H1046.5V485.7H1047V486.2H1047.5V483.9H1048V489.7H1048.5V489.1H1049H1049.5V486H1050H1050.5V488.7H1051V487.9H1051.5V489.5H1052V486H1052.5V484.7H1053V489H1053.5V487.2H1054V490.4H1054.5V488.9H1055V488H1055.5V486.8H1056V489H1056.5V496Z" fill="#05cf63"/>
<path d="M730.5 523.5V522H731.5V522.1H732.5V522.5H733.5V522.2H734.5V522.6H735.5V522H736.5H737.5V522.6H738.5V522.1H739.5V522.3H740.5V522.4H741.5H742.5V522.2H743.5V522.5H744.5V522.2H745.5V522.3H746.5V522H747.5V522.3H748.5V522.2H749.5V521.8H750.5V522.3H751.5V521.6H752.5V522.5H753.5V522H754.5V522.1H755.5V522.3H756.5V522.6H757.5V522.5H758.5H759.5V522.4H760.5V522.3H761.5V522.5H762.5V522.3H763.5V522H764.5V522.4H765.5V522.2H766.5V522.6H767.5V522H768.5V522.5H769.5V522.3H770.5V522.1H771.5V522.3H772.5V522H773.5V522.3H774.5V522.2H775.5V522.1H776.5H777.5V522H778.5V522.6H779.5V522.2H780.5V522H781.5V522.2H782.5V522.4H783.5H784.5V522.2H785.5H786.5H787.5V522.1H788.5V522.2H789.5V522H790.5V522.5H791.5V522.1H792.5V522.4H793.5V522.5H794.5V522.3H795.5V522.5H796.5V522.2H797.5V521.9H798.5V522.6H799.5V522.5H800.5V521.3H801.5V522.2H802.5V522.4H803.5V522H804.5V522.1H805.5V522H806.5V521.3H807.5V522.1H808.5H809.5H810.5V522.3H811.5V522.6H812.5V522.4H813.5V522.2H814.5V522H815.5V522.2H816.5V522.6H817.5V522H818.5V522.3H819.5V522.2H820.5V522.3H821.5V522.6H822.5H823.5V522.2H824.5V522.4H825.5V522.5H826.5V522.4H827.5V522.5H828.5V522H829.5V522.1H830.5V522.3H831.5V521.1H832.5V522.2H833.5H834.5V520.5H835.5V511.5H836.5V521H837.5V522.2H838.5V522.4H839.5V522.5H840.5V522.4H841.5V522H842.5V522.2H843.5V522.5H844.5V522.6H845.5V522.5H846.5V522.1H847.5V522.4H848.5V522.2H849.5V522.5H850.5V519.8H851.5V515.3H852.5V519.5H853.5V522H854.5V522.4H855.5V522.2H856.5V522.1H857.5V522H858.5V521.4H859.5V522.1H860.5H861.5V522.4H862.5V522.5H863.5V522H864.5H865.5V522.6H866.5V522.1H867.5V522.4H868.5V522.2H869.5V522H870.5V522.5H871.5V522.3H872.5V522.1H873.5V522.5H874.5H875.5V522.4H876.5V522.3H877.5V522.2H878.5V522H879.5V522.1H880.5V522.2H881.5V522.6H882.5V522H883.5V522.6H884.5V522.4H885.5V522.5H886.5V522.2H887.5V522.4H888.5V522H889.5H890.5V521.2H891.5V522.3H892.5V521.8H893.5V520.7H894.5V519H895.5V508.5H896.5V520.6H897.5V522H898.5V522.3H899.5V522.2H900.5V522.3H901.5V522.5H902.5V522.6H903.5V522H904.5V522.1H905.5V522.5H906.5V522.6H907.5V522.5H908.5V522.2H909.5V522H910.5V522.1H911.5H912.5H913.5V522.2H914.5V522H915.5V522.3H916.5V521.6H917.5V521H918.5V520.8H919.5V520.4H920.5V520.7H921.5V519.7H922.5H923.5V520.4H924.5V520.5H925.5V518.4H926.5V515.3H927.5V516.1H928.5V517.8H929.5V520H930.5V522.2H931.5V522.3H932.5V522.6H933.5V522.1H934.5V521.3H935.5V522.2H936.5V522.4H937.5V522.1H938.5V522.4H939.5V522.3H940.5V522.2H941.5H942.5V522.1H943.5H944.5V522.4H945.5H946.5V522.6H947.5H948.5V522.3H949.5H950.5V522.6H951.5V522.2H952.5V522.3H953.5V522.4H954.5V522.3H955.5H956.5H957.5V521.3H958.5V522H959.5V521.3H960.5V521.6H961.5H962.5V522.6H963.5V521.4H964.5V522.1H965.5V522.2H966.5V522.1H967.5V522H968.5V522.2H969.5V521.3H970.5V522.3H971.5V522.4H972.5V522.1H973.5V522.4H974.5V522.6H975.5V522H976.5V522.3H977.5V522.6H978.5V521.4H979.5V522.6H980.5V522.2H981.5V522.4H982.5V522.5H983.5V522.4H984.5V522.1H985.5V522H986.5V522.4H987.5V522.1H988.5V522.4H989.5V522H990.5H991.5H992.5V522.6H993.5V522.4H994.5V522.6H995.5V522.5H996.5V522.1H997.5H998.5V522.6H999.5V522H1000.5V522.2H1001.5V522.6H1002.5V522.4H1003.5V522H1004.5V522.5H1005.5V522.3H1006.5V522.5H1007.5V522.4H1008.5V522.2H1009.5V522.4H1010.5V521.3H1011.5V522.5H1012.5V522.4H1013.5V521.5H1014.5V522.3H1015.5V522H1016.5V514.5H1017.5V510.5H1018.5V508.5H1019.5V507.5H1020.5H1021.5V508H1022.5V510.5H1023.5V516.5H1024.5V520.5H1025.5V522.6H1026.5V522.2H1027.5V522H1028.5H1029.5V522.1H1030.5V522.5H1031.5V522.3H1032.5V522.2H1033.5V522.6H1034.5H1035.5V522.1H1036.5V522.5H1037.5V522H1038.5V522.6H1039.5H1040.5V522.4H1041.5V522H1042.5V521.7H1043.5V522.2H1044.5V522.6H1045.5V522.5H1046.5V522.6H1047.5V522H1048.5V522.2H1049.5V522.4H1050.5V522.6H1051.5V522H1052.5H1053.5V522.6H1054.5V522H1055.5V522.2H1056.5V523.5Z" fill="#f9cb00"/>
<path d="M730.5 551.3V549.8H731.5V549.3H732.5V550.1H733.5V549.8H734.5V549.3H735.5V549.7H736.5V550H737.5V549.2H738.5V549.5H739.5V550.1H740.5V549.5H741.5V550H742.5V549.4H743.5V550.2H744.5V549.7H745.5V549.4H746.5V550H747.5V550.1H748.5V549.2H749.5V550H750.5H751.5V549.7H752.5V549.5H753.5V550H754.5V549.7H755.5V549.4H756.5V550H757.5V549.7H758.5V550.1H759.5V550.2H760.5V549.3H761.5V549.6H762.5V549.9H763.5V550.2H764.5V549.7H765.5V549.6H766.5V549.8H767.5V550H768.5V550.2H769.5V549.2H770.5H771.5V549.7H772.5V550H773.5H774.5V549.4H775.5H776.5H777.5V549.6H778.5V550H779.5V549.5H780.5V549.7H781.5V550.2H782.5V549.4H783.5V550.1H784.5V549.9H785.5V549.8H786.5V549.6H787.5V550.1H788.5V548.4H789.5V549.2H790.5V549.6H791.5V549.4H792.5V550.1H793.5V549.6H794.5V549.8H795.5V549.9H796.5V549.3H797.5V549.4H798.5V549.3H799.5V549.4H800.5V549.5H801.5V549.4H802.5V549.6H803.5V550.1H804.5V549.3H805.5V549.2H806.5V549.8H807.5V548.5H808.5V549.9H809.5V549.2H810.5V550.2H811.5V549.3H812.5V549.2H813.5V549.6H814.5V550.2H815.5V549.7H816.5V549.3H817.5V549.9H818.5V548.8H819.5V549.9H820.5V549.6H821.5V549.5H822.5V549.6H823.5H824.5V549.9H825.5V550.1H826.5V550H827.5H828.5H829.5V549.3H830.5V550H831.5H832.5V549.4H833.5V550.1H834.5V549.9H835.5V545.3H836.5V549.5H837.5V550.2H838.5V549.4H839.5V549.2H840.5V549.6H841.5V548.3H842.5V549.4H843.5V550.1H844.5V549.4H845.5V549.8H846.5V549.3H847.5V549.4H848.5H849.5V549.9H850.5V548.6H851.5V548.9H852.5V550H853.5V549.2H854.5V549.5H855.5V548.7H856.5V550.1H857.5V549.8H858.5V550.1H859.5V549.6H860.5V550.1H861.5V549.2H862.5V549.7H863.5V549.5H864.5V549.7H865.5V549.8H866.5H867.5V549.7H868.5V549.4H869.5H870.5V550H871.5V548.9H872.5V549.7H873.5V550H874.5V550.1H875.5V549.8H876.5V549.7H877.5V549.5H878.5V550.2H879.5V549.9H880.5V549.4H881.5V549.3H882.5V548.7H883.5V549.3H884.5V549.8H885.5V549.7H886.5V549.9H887.5V549.4H888.5H889.5V549.3H890.5V549.8H891.5V549.9H892.5V549.4H893.5V549.3H894.5V548.8H895.5V542.3H896.5V549.1H897.5V549.5H898.5V550.1H899.5H900.5V549.8H901.5V549.7H902.5V549.4H903.5V549.7H904.5V550.2H905.5V549.8H906.5V549.9H907.5V549.6H908.5V549.7H909.5V550.2H910.5V548.3H911.5V548.9H912.5V549.2H913.5V550.1H914.5H915.5V549.6H916.5V550.1H917.5H918.5V549.7H919.5V549.3H920.5V550.2H921.5V550H922.5V548.9H923.5V548H924.5V547.9H925.5V546.3H926.5V546.4H927.5V547.1H928.5V546.6H929.5V547H930.5V548.1H931.5V549.2H932.5V550.1H933.5V549.8H934.5H935.5V549.9H936.5V550H937.5V550.1H938.5V549.9H939.5V549.2H940.5V549.3H941.5H942.5V549.9H943.5V549.3H944.5H945.5V549H946.5V549.6H947.5V550H948.5V549.4H949.5V549.9H950.5H951.5V550.2H952.5V548.7H953.5V549.2H954.5V549.5H955.5V549.6H956.5V550.2H957.5V549.4H958.5V549.3H959.5V549.7H960.5V549.6H961.5V548.7H962.5V549.7H963.5V549.3H964.5V549.6H965.5V549.5H966.5V548.9H967.5V549.9H968.5V549.7H969.5H970.5H971.5V550.2H972.5V549.6H973.5V549.5H974.5V550.1H975.5V549.9H976.5V549.3H977.5V548.9H978.5V549.7H979.5V549.5H980.5V549.2H981.5V549.3H982.5V549.6H983.5V550.1H984.5V549.5H985.5V550H986.5V549.2H987.5V549.4H988.5V549H989.5V549.4H990.5H991.5V549.9H992.5V549.4H993.5V549.7H994.5V549.1H995.5V549.2H996.5V549.3H997.5V550.1H998.5V549.7H999.5V549.5H1000.5V549.3H1001.5V549.6H1002.5H1003.5V550H1004.5V549.5H1005.5V549.7H1006.5H1007.5V549.9H1008.5V549.8H1009.5V549.3H1010.5V550H1011.5V549H1012.5V550.1H1013.5H1014.5V548.5H1015.5V549.4H1016.5V543.3H1017.5V539.3H1018.5V537.3H1019.5H1020.5V537.8H1021.5V539.3H1022.5V542.3H1023.5V547.3H1024.5V550.1H1025.5H1026.5V548.7H1027.5V550.1H1028.5V549.4H1029.5V549.9H1030.5V549.7H1031.5V550.1H1032.5V549.4H1033.5V550.1H1034.5H1035.5V550H1036.5V549.7H1037.5V549.8H1038.5V549.6H1039.5V549.3H1040.5V548.7H1041.5V550H1042.5V549.1H1043.5V549.7H1044.5V550H1045.5V549.3H1046.5V550H1047.5V549.6H1048.5V549.4H1049.5V550H1050.5V549.4H1051.5V549.2H1052.5V550.2H1053.5V549.5H1054.5V549H1055.5V549.3H1056.5V551.3Z" fill="#0a66ff"/>
<rect x="730.5" y="577.9" width="325.8" height="1.1" fill="#b01e1e"/>
<rect x="760" y="577.5" width="25" height="1" fill="#a00000"/>
<rect x="841" y="575.5" width="4" height="3" fill="#a00000"/>
<rect x="846" y="576" width="3" height="2.5" fill="#a00000"/>
<rect x="857" y="568.5" width="3" height="10" fill="#a00000"/>
<rect x="915" y="577" width="1" height="1.5" fill="#a00000"/>
<rect x="741.5" y="575" width="1" height="3.5" fill="#a80808"/>
<rect x="743.5" y="574.7" width="1" height="3.8" fill="#a80808"/>
<rect x="746" y="575" width="1" height="3.5" fill="#a80808"/>
<rect x="748.5" y="575.3" width="1" height="3.2" fill="#a80808"/>
<rect x="751" y="575.5" width="1" height="3" fill="#a80808"/>
<rect x="757" y="575.3" width="1" height="3.2" fill="#a80808"/>
<rect x="758.5" y="576" width="1" height="2.5" fill="#a80808"/>
<rect x="842.5" y="575.3" width="1" height="3.2" fill="#a80808"/>
<rect x="847" y="575.9" width="1" height="2.6" fill="#a80808"/>
<rect x="1019.9" y="567.5" width="0.9" height="11" fill="#b51c1c"/>
<rect x="1038.3" y="561.5" width="0.9" height="17" fill="#b51c1c"/>
<rect x="1042.3" y="558.5" width="0.9" height="20" fill="#b51c1c"/>
<rect x="1047" y="552.5" width="0.9" height="26" fill="#b51c1c"/>
<rect x="1051.8" y="560.5" width="0.9" height="18" fill="#b51c1c"/>
<rect x="1055" y="561.5" width="0.9" height="17" fill="#b51c1c"/>
<rect x="857.3" y="568.5" width="0.9" height="10" fill="#b51c1c"/>
<rect x="861.9" y="569.5" width="0.9" height="9" fill="#b51c1c"/>
<rect x="865.3" y="572.5" width="0.9" height="6" fill="#b51c1c"/>
<rect x="869.4" y="573.5" width="0.9" height="5" fill="#b51c1c"/>
<rect x="872.5" y="571" width="0.9" height="7.5" fill="#b51c1c"/>
<rect x="880.6" y="573.5" width="0.9" height="5" fill="#b51c1c"/>
<rect x="883.8" y="574" width="0.9" height="4.5" fill="#b51c1c"/>
<rect x="888" y="575" width="0.9" height="3.5" fill="#b51c1c"/>
<rect x="895.8" y="576.5" width="0.9" height="2" fill="#b51c1c"/>
<text x="731.9" y="452.22" font-size="7" font-weight="bold" fill="#111">DNase</text>
<text x="731.9" y="477.02" font-size="7" font-weight="bold" fill="#111">H3K4me1</text>
<text x="731.9" y="504.02" font-size="7" font-weight="bold" fill="#111">H3K4me3</text>
<text x="731.9" y="532.02" font-size="7" font-weight="bold" fill="#111">H3K27ac</text>
<text x="731.9" y="559.12" font-size="7" font-weight="bold" fill="#111">RNA</text>
<text x="731.9" y="588.02" font-size="7" font-weight="bold" fill="#111">RNA</text>
<text x="1054.8" y="452.22" font-size="7" text-anchor="end" font-weight="bold" fill="#111">[0-200]</text>
<text x="1054.8" y="477.02" font-size="7" text-anchor="end" font-weight="bold" fill="#111">[0-30]</text>
<text x="1054.8" y="504.02" font-size="7" text-anchor="end" font-weight="bold" fill="#111">[0-100]</text>
<text x="1054.8" y="532.02" font-size="7" text-anchor="end" font-weight="bold" fill="#111">[0-100]</text>
<text x="1054.8" y="559.12" font-size="7" text-anchor="end" font-weight="bold" fill="#111">[0-2000]</text>
<text x="1054.8" y="588.02" font-size="7" text-anchor="end" font-weight="bold" fill="#111">[0-2000]</text>
<rect x="34" y="605.2" width="327" height="1.8" fill="#bfdcf2"/>
<rect x="34" y="607" width="3" height="7.7" fill="#fccd78"/>
<rect x="37" y="607" width="1.6" height="7.7" fill="#d21f26"/>
<rect x="38.5" y="607" width="3.5" height="7.7" fill="#fde0a2"/>
<rect x="42" y="607" width="1.6" height="7.7" fill="#ffe200"/>
<rect x="43.5" y="607" width="2.5" height="7.7" fill="#fde0a2"/>
<rect x="46" y="607" width="1.6" height="7.7" fill="#ffe200"/>
<rect x="47.5" y="607" width="4.5" height="7.7" fill="#fccd78"/>
<rect x="52" y="607" width="2" height="7.7" fill="#ffe200"/>
<rect x="54" y="607" width="4" height="7.7" fill="#fccd78"/>
<rect x="58" y="607" width="4.8" height="7.7" fill="#fde0a2"/>
<rect x="62.7" y="607" width="3.3" height="7.7" fill="#d21f26"/>
<rect x="66" y="607" width="1.6" height="7.7" fill="#8b3a2a"/>
<rect x="67.5" y="607" width="2.5" height="7.7" fill="#d21f26"/>
<rect x="70" y="607" width="5" height="7.7" fill="#fde0a2"/>
<rect x="75" y="607" width="1.1" height="7.7" fill="#de9c28"/>
<rect x="76" y="607" width="6.5" height="7.7" fill="#fdeccb"/>
<rect x="82.5" y="607" width="11.1" height="7.7" fill="#e1e1e1"/>
<rect x="93.5" y="607" width="1.1" height="7.7" fill="#de9c28"/>
<rect x="94.5" y="607" width="1.1" height="7.7" fill="#d21f26"/>
<rect x="95.5" y="607" width="1.6" height="7.7" fill="#ffe200"/>
<rect x="97" y="607" width="6" height="7.7" fill="#e1e1e1"/>
<rect x="103" y="607" width="1.1" height="7.7" fill="#93c060"/>
<rect x="104" y="607" width="9.1" height="7.7" fill="#e1e1e1"/>
<rect x="113" y="607" width="1.6" height="7.7" fill="#d21f26"/>
<rect x="114.5" y="607" width="1.1" height="7.7" fill="#8b3a2a"/>
<rect x="115.5" y="607" width="1.6" height="7.7" fill="#d21f26"/>
<rect x="117" y="607" width="1.6" height="7.7" fill="#8b3a2a"/>
<rect x="118.5" y="607" width="2.5" height="7.7" fill="#fde0a2"/>
<rect x="121" y="607" width="1.1" height="7.7" fill="#ffe200"/>
<rect x="122" y="607" width="4" height="7.7" fill="#fde0a2"/>
<rect x="126" y="607" width="1.1" height="7.7" fill="#ffe200"/>
<rect x="127" y="607" width="4" height="7.7" fill="#fdeccb"/>
<rect x="131" y="607" width="4" height="7.7" fill="#fde0a2"/>
<rect x="135" y="607" width="5" height="7.7" fill="#e1e1e1"/>
<rect x="140" y="607" width="3" height="7.7" fill="#a9a7a8"/>
<rect x="143" y="607" width="2" height="7.7" fill="#6e6a6b"/>
<rect x="145" y="607" width="1.6" height="7.7" fill="#e9663a"/>
<rect x="146.5" y="607" width="3.5" height="7.7" fill="#6e6a6b"/>
<rect x="150" y="607" width="2" height="7.7" fill="#a9a7a8"/>
<rect x="152" y="607" width="2" height="7.7" fill="#6e6a6b"/>
<rect x="154" y="607" width="2" height="7.7" fill="#a9a7a8"/>
<rect x="156" y="607" width="4" height="7.7" fill="#fde0a2"/>
<rect x="160" y="607" width="3.5" height="7.7" fill="#ffe200"/>
<rect x="163.5" y="607" width="1.6" height="7.7" fill="#127c43"/>
<rect x="165" y="607" width="3" height="7.7" fill="#d21f26"/>
<rect x="168" y="607" width="2" height="7.7" fill="#fde0a2"/>
<rect x="170" y="607" width="7" height="7.7" fill="#fdeccb"/>
<rect x="177" y="607" width="8.1" height="7.7" fill="#e1e1e1"/>
<rect x="185" y="607" width="5" height="7.7" fill="#ffe200"/>
<rect x="190" y="607" width="5" height="7.7" fill="#fde0a2"/>
<rect x="195" y="607" width="4" height="7.7" fill="#ffe200"/>
<rect x="199" y="607" width="5" height="7.7" fill="#fccd78"/>
<rect x="204" y="607" width="3" height="7.7" fill="#8b3a2a"/>
<rect x="207" y="607" width="4" height="7.7" fill="#d21f26"/>
<rect x="211" y="607" width="1.1" height="7.7" fill="#127c43"/>
<rect x="212" y="607" width="1.1" height="7.7" fill="#d21f26"/>
<rect x="213" y="607" width="1.1" height="7.7" fill="#127c43"/>
<rect x="214" y="607" width="3" height="7.7" fill="#fde0a2"/>
<rect x="217" y="607" width="9.1" height="7.7" fill="#e1e1e1"/>
<rect x="226" y="607" width="5" height="7.7" fill="#fdeccb"/>
<rect x="231" y="607" width="1.1" height="7.7" fill="#a9a7a8"/>
<rect x="232" y="607" width="3.7" height="7.7" fill="#fde0a2"/>
<rect x="235.7" y="607" width="4" height="7.7" fill="#ffe200"/>
<rect x="239.7" y="607" width="1.1" height="7.7" fill="#17b05f"/>
<rect x="240.7" y="607" width="6.4" height="7.7" fill="#fccd78"/>
<rect x="247" y="607" width="1.1" height="7.7" fill="#17b05f"/>
<rect x="248" y="607" width="2" height="7.7" fill="#fde0a2"/>
<rect x="250" y="607" width="7" height="7.7" fill="#e1e1e1"/>
<rect x="257" y="607" width="2" height="7.7" fill="#d21f26"/>
<rect x="259" y="607" width="1.4" height="7.7" fill="#f06ba2"/>
<rect x="260.4" y="607" width="2.7" height="7.7" fill="#de9c28"/>
<rect x="263" y="607" width="5" height="7.7" fill="#fdeccb"/>
<rect x="268" y="607" width="1.1" height="7.7" fill="#de9c28"/>
<rect x="269" y="607" width="27.1" height="7.7" fill="#fdeccb"/>
<rect x="296" y="607" width="1.1" height="7.7" fill="#de9c28"/>
<rect x="297" y="607" width="2" height="7.7" fill="#7ca6d2"/>
<rect x="299" y="607" width="21.1" height="7.7" fill="#fdeccb"/>
<rect x="320" y="607" width="1.1" height="7.7" fill="#de9c28"/>
<rect x="321" y="607" width="5" height="7.7" fill="#fdeccb"/>
<rect x="326" y="607" width="3" height="7.7" fill="#de9c28"/>
<rect x="329" y="607" width="6" height="7.7" fill="#fdeccb"/>
<rect x="335" y="607" width="14.1" height="7.7" fill="#e1e1e1"/>
<rect x="349" y="607" width="4" height="7.7" fill="#fdeccb"/>
<rect x="353" y="607" width="2.5" height="7.7" fill="#ffe200"/>
<rect x="355.5" y="607" width="5.5" height="7.7" fill="#fdeccb"/>
<rect x="382.9" y="605.2" width="326" height="1.8" fill="#bfdcf2"/>
<rect x="382.9" y="607" width="9.8" height="7.7" fill="#e1e1e1"/>
<rect x="392.6" y="607" width="1.4" height="7.7" fill="#de9c28"/>
<rect x="394" y="607" width="4" height="7.7" fill="#fde0a2"/>
<rect x="398" y="607" width="2" height="7.7" fill="#de9c28"/>
<rect x="400" y="607" width="1.1" height="7.7" fill="#fde0a2"/>
<rect x="401" y="607" width="1.1" height="7.7" fill="#7ca6d2"/>
<rect x="402" y="607" width="5" height="7.7" fill="#fdeccb"/>
<rect x="407" y="607" width="1.7" height="7.7" fill="#de9c28"/>
<rect x="408.7" y="607" width="4" height="7.7" fill="#fdeccb"/>
<rect x="412.7" y="607" width="1.4" height="7.7" fill="#d21f26"/>
<rect x="414" y="607" width="1.1" height="7.7" fill="#127c43"/>
<rect x="415" y="607" width="0.9" height="7.7" fill="#d21f26"/>
<rect x="415.8" y="607" width="6.1" height="7.7" fill="#7ca6d2"/>
<rect x="421.9" y="607" width="2.4" height="7.7" fill="#e1e1e1"/>
<rect x="424.2" y="607" width="3" height="7.7" fill="#7ca6d2"/>
<rect x="427.1" y="607" width="1.9" height="7.7" fill="#e1e1e1"/>
<rect x="429" y="607" width="1.1" height="7.7" fill="#7ca6d2"/>
<rect x="430" y="607" width="5.5" height="7.7" fill="#e1e1e1"/>
<rect x="435.5" y="607" width="1.6" height="7.7" fill="#de9c28"/>
<rect x="437" y="607" width="3" height="7.7" fill="#fde0a2"/>
<rect x="440" y="607" width="3" height="7.7" fill="#ffe200"/>
<rect x="443" y="607" width="1.4" height="7.7" fill="#fde0a2"/>
<rect x="444.3" y="607" width="2.9" height="7.7" fill="#de9c28"/>
<rect x="447.2" y="607" width="4.9" height="7.7" fill="#ffe200"/>
<rect x="452" y="607" width="1.1" height="7.7" fill="#fde0a2"/>
<rect x="453" y="607" width="6.2" height="7.7" fill="#ffe200"/>
<rect x="459.2" y="607" width="3.5" height="7.7" fill="#127c43"/>
<rect x="462.7" y="607" width="1.9" height="7.7" fill="#d21f26"/>
<rect x="464.5" y="607" width="1.1" height="7.7" fill="#127c43"/>
<rect x="465.5" y="607" width="1.6" height="7.7" fill="#d21f26"/>
<rect x="467" y="607" width="6" height="7.7" fill="#ffe200"/>
<rect x="473" y="607" width="1.2" height="7.7" fill="#fde0a2"/>
<rect x="474.2" y="607" width="4.5" height="7.7" fill="#d21f26"/>
<rect x="478.7" y="607" width="18.9" height="7.7" fill="#e1e1e1"/>
<rect x="497.5" y="607" width="1.1" height="7.7" fill="#de9c28"/>
<rect x="498.5" y="607" width="9.1" height="7.7" fill="#e1e1e1"/>
<rect x="507.5" y="607" width="1.4" height="7.7" fill="#7ca6d2"/>
<rect x="508.8" y="607" width="8.7" height="7.7" fill="#e1e1e1"/>
<rect x="517.5" y="607" width="1.6" height="7.7" fill="#e9663a"/>
<rect x="519" y="607" width="1.6" height="7.7" fill="#fde0a2"/>
<rect x="520.5" y="607" width="1.3" height="7.7" fill="#de9c28"/>
<rect x="521.8" y="607" width="1.8" height="7.7" fill="#fde0a2"/>
<rect x="523.5" y="607" width="1.6" height="7.7" fill="#de9c28"/>
<rect x="525" y="607" width="1.1" height="7.7" fill="#fde0a2"/>
<rect x="526" y="607" width="3.7" height="7.7" fill="#de9c28"/>
<rect x="529.6" y="607" width="6.9" height="7.7" fill="#e1e1e1"/>
<rect x="536.5" y="607" width="5.3" height="7.7" fill="#6e6a6b"/>
<rect x="541.7" y="607" width="3.3" height="7.7" fill="#fde0a2"/>
<rect x="545" y="607" width="1.6" height="7.7" fill="#de9c28"/>
<rect x="546.5" y="607" width="5.5" height="7.7" fill="#fdeccb"/>
<rect x="552" y="607" width="1.1" height="7.7" fill="#de9c28"/>
<rect x="553" y="607" width="4" height="7.7" fill="#fde0a2"/>
<rect x="557" y="607" width="1.6" height="7.7" fill="#de9c28"/>
<rect x="558.5" y="607" width="1.6" height="7.7" fill="#fdeccb"/>
<rect x="560" y="607" width="2" height="7.7" fill="#e1e1e1"/>
<rect x="562" y="607" width="1.1" height="7.7" fill="#7ca6d2"/>
<rect x="563" y="607" width="17.8" height="7.7" fill="#e1e1e1"/>
<rect x="580.7" y="607" width="4.6" height="7.7" fill="#fccd78"/>
<rect x="585.3" y="607" width="2.3" height="7.7" fill="#8b3a2a"/>
<rect x="587.5" y="607" width="2" height="7.7" fill="#7ccaa5"/>
<rect x="589.5" y="607" width="65.7" height="7.7" fill="#e1e1e1"/>
<rect x="655.1" y="607" width="1.9" height="7.7" fill="#8b3a2a"/>
<rect x="657" y="607" width="3" height="7.7" fill="#ffe200"/>
<rect x="660" y="607" width="2" height="7.7" fill="#8b3a2a"/>
<rect x="662" y="607" width="2" height="7.7" fill="#17b05f"/>
<rect x="664" y="607" width="11.8" height="7.7" fill="#e1e1e1"/>
<rect x="675.8" y="607" width="4.3" height="7.7" fill="#fde0a2"/>
<rect x="680" y="607" width="2" height="7.7" fill="#de9c28"/>
<rect x="682" y="607" width="2" height="7.7" fill="#e1e1e1"/>
<rect x="684" y="607" width="1.1" height="7.7" fill="#7ca6d2"/>
<rect x="685" y="607" width="16.1" height="7.7" fill="#e1e1e1"/>
<rect x="701" y="607" width="5" height="7.7" fill="#6e6a6b"/>
<rect x="706" y="607" width="2.9" height="7.7" fill="#e9663a"/>
<rect x="730.5" y="605.2" width="325.8" height="1.8" fill="#bfdcf2"/>
<rect x="730.5" y="607" width="98.3" height="7.7" fill="#e1e1e1"/>
<rect x="828.7" y="607" width="5.3" height="7.7" fill="#fdeccb"/>
<rect x="834" y="607" width="1.1" height="7.7" fill="#7ccaa5"/>
<rect x="835" y="607" width="2.5" height="7.7" fill="#d21f26"/>
<rect x="837.5" y="607" width="12.1" height="7.7" fill="#e1e1e1"/>
<rect x="849.5" y="607" width="1.6" height="7.7" fill="#fccd78"/>
<rect x="851" y="607" width="2.3" height="7.7" fill="#8b3a2a"/>
<rect x="853.2" y="607" width="1.8" height="7.7" fill="#127c43"/>
<rect x="855" y="607" width="5" height="7.7" fill="#e1e1e1"/>
<rect x="860" y="607" width="1.1" height="7.7" fill="#7ca6d2"/>
<rect x="861" y="607" width="15.6" height="7.7" fill="#e1e1e1"/>
<rect x="876.5" y="607" width="1.1" height="7.7" fill="#7ca6d2"/>
<rect x="877.5" y="607" width="17.1" height="7.7" fill="#e1e1e1"/>
<rect x="894.5" y="607" width="3" height="7.7" fill="#c04030"/>
<rect x="897.5" y="607" width="3.4" height="7.7" fill="#fde0a2"/>
<rect x="900.9" y="607" width="4.5" height="7.7" fill="#de9c28"/>
<rect x="905.4" y="607" width="5.3" height="7.7" fill="#e1e1e1"/>
<rect x="910.6" y="607" width="2.3" height="7.7" fill="#7ca6d2"/>
<rect x="912.9" y="607" width="1.8" height="7.7" fill="#e1e1e1"/>
<rect x="914.6" y="607" width="3.4" height="7.7" fill="#fccd78"/>
<rect x="918" y="607" width="2.5" height="7.7" fill="#7ccaa5"/>
<rect x="920.5" y="607" width="1.7" height="7.7" fill="#d21f26"/>
<rect x="922.1" y="607" width="10.3" height="7.7" fill="#e9663a"/>
<rect x="932.4" y="607" width="2.9" height="7.7" fill="#a9a7a8"/>
<rect x="935.3" y="607" width="1.8" height="7.7" fill="#6e6a6b"/>
<rect x="937" y="607" width="7.5" height="7.7" fill="#a9a7a8"/>
<rect x="944.5" y="607" width="2.5" height="7.7" fill="#e1e1e1"/>
<rect x="947" y="607" width="2" height="7.7" fill="#7ca6d2"/>
<rect x="949" y="607" width="1.6" height="7.7" fill="#a9a7a8"/>
<rect x="950.5" y="607" width="1.1" height="7.7" fill="#d21f26"/>
<rect x="951.5" y="607" width="8.6" height="7.7" fill="#e1e1e1"/>
<rect x="960" y="607" width="1.1" height="7.7" fill="#7ca6d2"/>
<rect x="961" y="607" width="7" height="7.7" fill="#e1e1e1"/>
<rect x="968" y="607" width="1.1" height="7.7" fill="#7ca6d2"/>
<rect x="969" y="607" width="6.7" height="7.7" fill="#e1e1e1"/>
<rect x="975.6" y="607" width="14.3" height="7.7" fill="#a9a7a8"/>
<rect x="989.9" y="607" width="3.7" height="7.7" fill="#e1e1e1"/>
<rect x="993.5" y="607" width="1.6" height="7.7" fill="#7ca6d2"/>
<rect x="995" y="607" width="22.8" height="7.7" fill="#e1e1e1"/>
<rect x="1017.8" y="607" width="6" height="7.7" fill="#d21f26"/>
<rect x="1023.8" y="607" width="2.3" height="7.7" fill="#fccd78"/>
<rect x="1026" y="607" width="2" height="7.7" fill="#ffe200"/>
<rect x="1028" y="607" width="2" height="7.7" fill="#fccd78"/>
<rect x="1030" y="607" width="12.6" height="7.7" fill="#fdeccb"/>
<rect x="1042.5" y="607" width="1.6" height="7.7" fill="#de9c28"/>
<rect x="1044" y="607" width="2" height="7.7" fill="#fdeccb"/>
<rect x="1046" y="607" width="10.3" height="7.7" fill="#e1e1e1"/>
<rect x="34" y="617.2" width="3.5" height="4.6" fill="#1414c8"/>
<rect x="37.5" y="619" width="18" height="1" fill="#1414c8"/>
<rect x="40.5" y="616.7" width="0.9" height="5.6" fill="#1414c8"/>
<rect x="55" y="616.7" width="0.9" height="5.6" fill="#1414c8"/>
<rect x="58" y="619" width="20" height="1" fill="#1414c8"/>
<rect x="57.9" y="616.7" width="1.2" height="5.6" fill="#5a5ae0"/>
<rect x="59.4" y="616.7" width="1.2" height="5.6" fill="#5a5ae0"/>
<rect x="60.9" y="616.7" width="1.2" height="5.6" fill="#5a5ae0"/>
<rect x="62.4" y="616.7" width="1.2" height="5.6" fill="#5a5ae0"/>
<rect x="63.9" y="616.7" width="1.2" height="5.6" fill="#5a5ae0"/>
<rect x="67.5" y="617.2" width="5.5" height="4.6" fill="#1414c8"/>
<rect x="74" y="616.7" width="0.9" height="5.6" fill="#5a5ae0"/>
<rect x="75.5" y="616.7" width="0.9" height="5.6" fill="#5a5ae0"/>
<rect x="77" y="616.7" width="0.9" height="5.6" fill="#5a5ae0"/>
<rect x="85" y="619" width="7" height="1" fill="#1414c8"/>
<rect x="85" y="617.2" width="2.5" height="4.6" fill="#1414c8"/>
<rect x="88" y="616.7" width="0.9" height="5.6" fill="#5a5ae0"/>
<rect x="89.5" y="616.7" width="0.9" height="5.6" fill="#5a5ae0"/>
<rect x="91" y="616.7" width="0.9" height="5.6" fill="#5a5ae0"/>
<rect x="94" y="619" width="11" height="1" fill="#1414c8"/>
<rect x="94" y="616.7" width="0.9" height="5.6" fill="#5a5ae0"/>
<rect x="95.5" y="616.7" width="0.9" height="5.6" fill="#5a5ae0"/>
<rect x="97" y="616.7" width="0.9" height="5.6" fill="#5a5ae0"/>
<rect x="98.5" y="616.7" width="0.9" height="5.6" fill="#5a5ae0"/>
<rect x="100" y="616.7" width="0.9" height="5.6" fill="#5a5ae0"/>
<rect x="102" y="617.2" width="3" height="4.6" fill="#1414c8"/>
<rect x="113.8" y="619" width="20.7" height="1" fill="#1414c8"/>
<rect x="113.3" y="616.7" width="0.9" height="5.6" fill="#1414c8"/>
<rect x="115.5" y="616.7" width="0.9" height="5.6" fill="#1414c8"/>
<rect x="118" y="616.7" width="0.9" height="5.6" fill="#1414c8"/>
<rect x="126.5" y="616.7" width="1.1" height="5.6" fill="#5a5ae0"/>
<rect x="128" y="616.7" width="1.1" height="5.6" fill="#5a5ae0"/>
<rect x="129.4" y="616.7" width="1.1" height="5.6" fill="#5a5ae0"/>
<rect x="130.9" y="616.7" width="1.1" height="5.6" fill="#5a5ae0"/>
<rect x="132.4" y="616.7" width="1.1" height="5.6" fill="#5a5ae0"/>
<rect x="133.9" y="616.7" width="1.1" height="5.6" fill="#5a5ae0"/>
<rect x="146.5" y="619" width="12" height="1" fill="#1414c8"/>
<rect x="146.1" y="616.7" width="0.9" height="5.6" fill="#1414c8"/>
<rect x="147.6" y="616.7" width="0.9" height="5.6" fill="#1414c8"/>
<rect x="158.1" y="616.7" width="0.9" height="5.6" fill="#1414c8"/>
<rect x="166" y="619" width="68" height="1" fill="#1414c8"/>
<rect x="166.1" y="616.7" width="0.9" height="5.6" fill="#1414c8"/>
<rect x="167.1" y="616.7" width="0.9" height="5.6" fill="#1414c8"/>
<rect x="175.6" y="616.7" width="0.9" height="5.6" fill="#1414c8"/>
<rect x="187.6" y="616.7" width="0.9" height="5.6" fill="#1414c8"/>
<rect x="195.6" y="616.7" width="0.9" height="5.6" fill="#1414c8"/>
<rect x="209" y="616.7" width="0.9" height="5.6" fill="#1414c8"/>
<rect x="219.6" y="616.7" width="0.9" height="5.6" fill="#1414c8"/>
<rect x="221.1" y="616.7" width="0.9" height="5.6" fill="#1414c8"/>
<rect x="222.6" y="616.7" width="0.9" height="5.6" fill="#1414c8"/>
<rect x="223.7" y="617.2" width="10.3" height="4.6" fill="#1414c8"/>
<rect x="249.3" y="617.2" width="4.7" height="4.6" fill="#1414c8"/>
<rect x="258" y="619" width="103" height="1" fill="#1414c8"/>
<rect x="258.1" y="616.7" width="0.9" height="5.6" fill="#1414c8"/>
<rect x="283.9" y="616.7" width="0.9" height="5.6" fill="#1414c8"/>
<rect x="383.5" y="619" width="20.2" height="1" fill="#1414c8"/>
<rect x="383.4" y="616.7" width="0.9" height="5.6" fill="#1414c8"/>
<rect x="385.8" y="616.7" width="0.9" height="5.6" fill="#1414c8"/>
<rect x="403.1" y="616.7" width="0.9" height="5.6" fill="#1414c8"/>
<rect x="415.6" y="617.2" width="9.4" height="4.6" fill="#1414c8"/>
<rect x="425" y="619" width="40" height="1" fill="#1414c8"/>
<rect x="426.1" y="616.7" width="0.9" height="5.6" fill="#1414c8"/>
<rect x="428.4" y="616.7" width="0.9" height="5.6" fill="#1414c8"/>
<rect x="430.7" y="616.7" width="0.9" height="5.6" fill="#1414c8"/>
<rect x="432.2" y="616.7" width="0.9" height="5.6" fill="#1414c8"/>
<rect x="439.7" y="616.7" width="0.9" height="5.6" fill="#1414c8"/>
<rect x="463.2" y="616.7" width="0.9" height="5.6" fill="#1414c8"/>
<rect x="464.6" y="616.7" width="0.9" height="5.6" fill="#1414c8"/>
<rect x="468" y="619" width="37" height="1" fill="#1414c8"/>
<rect x="467.9" y="616.7" width="0.9" height="5.6" fill="#1414c8"/>
<rect x="470.7" y="616.7" width="0.9" height="5.6" fill="#1414c8"/>
<rect x="472.6" y="616.7" width="0.9" height="5.6" fill="#1414c8"/>
<rect x="476.1" y="617.2" width="3.9" height="4.6" fill="#1414c8"/>
<rect x="482.5" y="616.7" width="1" height="5.6" fill="#5a5ae0"/>
<rect x="484.3" y="616.7" width="1" height="5.6" fill="#5a5ae0"/>
<rect x="486.1" y="616.7" width="1" height="5.6" fill="#5a5ae0"/>
<rect x="487.9" y="616.7" width="1" height="5.6" fill="#5a5ae0"/>
<rect x="489.7" y="616.7" width="1" height="5.6" fill="#5a5ae0"/>
<rect x="491.5" y="616.7" width="1" height="5.6" fill="#5a5ae0"/>
<rect x="493.3" y="616.7" width="1" height="5.6" fill="#5a5ae0"/>
<rect x="495.1" y="616.7" width="1" height="5.6" fill="#5a5ae0"/>
<rect x="496.9" y="616.7" width="1" height="5.6" fill="#5a5ae0"/>
<rect x="498.7" y="616.7" width="1" height="5.6" fill="#5a5ae0"/>
<rect x="500.5" y="616.7" width="1" height="5.6" fill="#5a5ae0"/>
<rect x="502.3" y="616.7" width="1" height="5.6" fill="#5a5ae0"/>
<rect x="503" y="617.2" width="2" height="4.6" fill="#1414c8"/>
<rect x="518.4" y="619" width="190.4" height="1" fill="#1414c8"/>
<rect x="517.9" y="616.7" width="0.9" height="5.6" fill="#1414c8"/>
<rect x="542.3" y="616.7" width="0.9" height="5.6" fill="#1414c8"/>
<rect x="547.6" y="616.7" width="0.9" height="5.6" fill="#1414c8"/>
<rect x="554" y="616.7" width="0.9" height="5.6" fill="#1414c8"/>
<rect x="563.4" y="616.7" width="0.9" height="5.6" fill="#1414c8"/>
<rect x="575" y="616.7" width="0.9" height="5.6" fill="#1414c8"/>
<rect x="577.5" y="616.7" width="0.9" height="5.6" fill="#1414c8"/>
<rect x="580.4" y="617.2" width="4.8" height="4.6" fill="#1414c8"/>
<rect x="586.5" y="616.7" width="0.9" height="5.6" fill="#1414c8"/>
<rect x="588.5" y="616.7" width="0.9" height="5.6" fill="#1414c8"/>
<rect x="588.5" y="617.2" width="5.6" height="4.6" fill="#1414c8"/>
<rect x="595.2" y="616.7" width="1.1" height="5.6" fill="#5a5ae0"/>
<rect x="596.8" y="616.7" width="1.1" height="5.6" fill="#5a5ae0"/>
<rect x="598.4" y="616.7" width="1.1" height="5.6" fill="#5a5ae0"/>
<rect x="600" y="616.7" width="1.1" height="5.6" fill="#5a5ae0"/>
<rect x="601.6" y="616.7" width="1.1" height="5.6" fill="#5a5ae0"/>
<rect x="603.2" y="616.7" width="1.1" height="5.6" fill="#5a5ae0"/>
<rect x="606.5" y="616.7" width="0.9" height="5.6" fill="#1414c8"/>
<rect x="608.5" y="616.7" width="0.9" height="5.6" fill="#1414c8"/>
<rect x="611.4" y="616.7" width="0.9" height="5.6" fill="#1414c8"/>
<rect x="613.5" y="616.7" width="0.9" height="5.6" fill="#1414c8"/>
<rect x="616.5" y="616.7" width="0.9" height="5.6" fill="#1414c8"/>
<rect x="620.8" y="617.2" width="4" height="4.6" fill="#1414c8"/>
<rect x="626.7" y="616.7" width="1.1" height="5.6" fill="#5a5ae0"/>
<rect x="629.7" y="616.7" width="1.1" height="5.6" fill="#5a5ae0"/>
<rect x="632.7" y="616.7" width="1.1" height="5.6" fill="#5a5ae0"/>
<rect x="635.7" y="616.7" width="1.1" height="5.6" fill="#5a5ae0"/>
<rect x="638.7" y="616.7" width="1.1" height="5.6" fill="#5a5ae0"/>
<rect x="641.7" y="616.7" width="1.1" height="5.6" fill="#5a5ae0"/>
<rect x="644.7" y="616.7" width="1.1" height="5.6" fill="#5a5ae0"/>
<rect x="647.7" y="616.7" width="1.1" height="5.6" fill="#5a5ae0"/>
<rect x="650.7" y="616.7" width="1.1" height="5.6" fill="#5a5ae0"/>
<rect x="655.8" y="616.7" width="0.9" height="5.6" fill="#1414c8"/>
<rect x="662.8" y="617.2" width="9.7" height="4.6" fill="#1414c8"/>
<rect x="673.3" y="617.2" width="3.2" height="4.6" fill="#1414c8"/>
<rect x="681.8" y="616.7" width="0.9" height="5.6" fill="#1414c8"/>
<rect x="686.2" y="617.2" width="4.8" height="4.6" fill="#1414c8"/>
<rect x="731" y="619" width="121" height="1" fill="#1414c8"/>
<rect x="731.1" y="617.2" width="3.1" height="4.6" fill="#1414c8"/>
<rect x="738.1" y="617.2" width="4.6" height="4.6" fill="#1414c8"/>
<rect x="745" y="616.7" width="0.9" height="5.6" fill="#5a5ae0"/>
<rect x="746.5" y="616.7" width="0.9" height="5.6" fill="#5a5ae0"/>
<rect x="749" y="616.7" width="0.9" height="5.6" fill="#5a5ae0"/>
<rect x="752" y="616.7" width="0.9" height="5.6" fill="#5a5ae0"/>
<rect x="755.5" y="616.7" width="0.9" height="5.6" fill="#5a5ae0"/>
<rect x="757.5" y="616.7" width="0.9" height="5.6" fill="#5a5ae0"/>
<rect x="759.5" y="616.7" width="0.9" height="5.6" fill="#5a5ae0"/>
<rect x="761.5" y="616.7" width="0.9" height="5.6" fill="#5a5ae0"/>
<rect x="762.9" y="616.5" width="6.2" height="6" fill="#1414c8"/>
<rect x="771.5" y="616.7" width="0.9" height="5.6" fill="#1414c8"/>
<rect x="773.5" y="616.7" width="0.9" height="5.6" fill="#1414c8"/>
<rect x="775.3" y="616.5" width="6.9" height="6" fill="#1414c8"/>
<rect x="782.5" y="616.7" width="1" height="5.6" fill="#5a5ae0"/>
<rect x="783.7" y="616.7" width="1" height="5.6" fill="#5a5ae0"/>
<rect x="784.9" y="616.7" width="1" height="5.6" fill="#5a5ae0"/>
<rect x="786.1" y="616.7" width="1" height="5.6" fill="#5a5ae0"/>
<rect x="787.3" y="616.7" width="1" height="5.6" fill="#5a5ae0"/>
<rect x="788.5" y="616.7" width="1" height="5.6" fill="#5a5ae0"/>
<rect x="789.7" y="616.7" width="1" height="5.6" fill="#5a5ae0"/>
<rect x="790.9" y="616.7" width="1" height="5.6" fill="#5a5ae0"/>
<rect x="792.1" y="616.7" width="1" height="5.6" fill="#5a5ae0"/>
<rect x="793.3" y="616.7" width="1" height="5.6" fill="#5a5ae0"/>
<rect x="799.5" y="616.7" width="0.9" height="5.6" fill="#1414c8"/>
<rect x="801.5" y="616.7" width="0.9" height="5.6" fill="#1414c8"/>
<rect x="805.5" y="616.7" width="0.9" height="5.6" fill="#1414c8"/>
<rect x="818.9" y="616.7" width="0.9" height="5.6" fill="#5a5ae0"/>
<rect x="820.5" y="616.7" width="0.9" height="5.6" fill="#5a5ae0"/>
<rect x="822.5" y="616.7" width="0.9" height="5.6" fill="#5a5ae0"/>
<rect x="825" y="616.7" width="0.9" height="5.6" fill="#5a5ae0"/>
<rect x="827.5" y="616.7" width="0.9" height="5.6" fill="#5a5ae0"/>
<rect x="831.3" y="616.7" width="0.9" height="5.6" fill="#5a5ae0"/>
<rect x="837.2" y="617.2" width="7" height="4.6" fill="#1414c8"/>
<rect x="846" y="616.7" width="0.9" height="5.6" fill="#1414c8"/>
<rect x="848.5" y="616.7" width="0.9" height="5.6" fill="#1414c8"/>
<rect x="851.5" y="616.7" width="0.9" height="5.6" fill="#1414c8"/>
<rect x="857.4" y="619" width="40.6" height="1" fill="#1414c8"/>
<rect x="857.4" y="617.2" width="1.6" height="4.6" fill="#1414c8"/>
<rect x="858.5" y="616.7" width="1.1" height="5.6" fill="#5a5ae0"/>
<rect x="860.5" y="616.7" width="1.1" height="5.6" fill="#5a5ae0"/>
<rect x="862.5" y="616.7" width="1.1" height="5.6" fill="#5a5ae0"/>
<rect x="865.5" y="616.7" width="1.1" height="5.6" fill="#5a5ae0"/>
<rect x="869.1" y="616.7" width="1.1" height="5.6" fill="#5a5ae0"/>
<rect x="880.9" y="616.7" width="1.1" height="5.6" fill="#5a5ae0"/>
<rect x="884.7" y="616.7" width="1.1" height="5.6" fill="#5a5ae0"/>
<rect x="888.5" y="616.7" width="1.1" height="5.6" fill="#5a5ae0"/>
<rect x="892.5" y="616.7" width="1.1" height="5.6" fill="#5a5ae0"/>
<rect x="896.5" y="616.7" width="1.1" height="5.6" fill="#5a5ae0"/>
<rect x="913" y="619" width="17" height="1" fill="#1414c8"/>
<rect x="913" y="617.2" width="2.5" height="4.6" fill="#1414c8"/>
<rect x="916.5" y="616.7" width="0.9" height="5.6" fill="#1414c8"/>
<rect x="919.5" y="616.7" width="0.9" height="5.6" fill="#1414c8"/>
<rect x="924.5" y="616.7" width="0.9" height="5.6" fill="#1414c8"/>
<rect x="929" y="616.7" width="0.9" height="5.6" fill="#1414c8"/>
<rect x="1017.7" y="619" width="38.6" height="1" fill="#1414c8"/>
<rect x="1018" y="616.7" width="0.9" height="5.6" fill="#1414c8"/>
<rect x="1038" y="616.7" width="0.9" height="5.6" fill="#1414c8"/>
<rect x="1041" y="616.7" width="0.9" height="5.6" fill="#1414c8"/>
<rect x="1044.5" y="616.7" width="0.9" height="5.6" fill="#1414c8"/>
<rect x="1048" y="616.7" width="0.9" height="5.6" fill="#1414c8"/>
<rect x="1051.5" y="616.7" width="0.9" height="5.6" fill="#1414c8"/>
<rect x="1055" y="616.7" width="0.9" height="5.6" fill="#1414c8"/>
<text x="36.1" y="631.64" font-size="7.6" font-weight="bold" font-style="italic" fill="#111">LSP1</text>
<text x="57.9" y="631.64" font-size="7.6" font-weight="bold" font-style="italic" fill="#111">TNNI2</text>
<text x="69.6" y="639.24" font-size="7.6" font-weight="bold" font-style="italic" fill="#111">CYTS</text>
<text x="94.6" y="639.24" font-size="7.6" font-weight="bold" font-style="italic" fill="#111">C5NT1AL</text>
<text x="113" y="631.64" font-size="7.6" font-weight="bold" font-style="italic" fill="#111">CTSD</text>
<text x="139.3" y="631.64" font-size="7.6" font-weight="bold" font-style="italic" fill="#111">IFITM10</text>
<text x="173.7" y="631.64" font-size="7.6" font-weight="bold" font-style="italic" fill="#e0151b">DUSP8</text>
<text x="232.5" y="631.64" font-size="7.6" font-weight="bold" font-style="italic" fill="#111">LOC112532517</text>
<text x="319.5" y="631.64" font-size="7.6" font-weight="bold" font-style="italic" fill="#111">MOB2</text>
<text x="383.4" y="631.74" font-size="7.6" font-weight="bold" font-style="italic" fill="#111">CRACR2B</text>
<text x="429.8" y="631.74" font-size="7.6" font-weight="bold" font-style="italic" fill="#111">PNPLA2</text>
<text x="469.9" y="631.74" font-size="7.6" font-weight="bold" font-style="italic" fill="#111">LRC27</text>
<text x="532.6" y="631.74" font-size="7.6" font-weight="bold" font-style="italic" fill="#e0151b">SLC25A22</text>
<text x="588.1" y="631.74" font-size="7.6" font-weight="bold" font-style="italic" fill="#111">IRF7</text>
<text x="624.6" y="631.74" font-size="7.6" font-weight="bold" font-style="italic" fill="#111">PHRF1</text>
<text x="673.1" y="631.74" font-size="7.6" font-weight="bold" font-style="italic" fill="#111">RASSF7</text>
<text x="733.2" y="631.74" font-size="7.6" font-weight="bold" font-style="italic" fill="#111">ACTBL2L</text>
<text x="790.6" y="631.74" font-size="7.6" font-weight="bold" font-style="italic" fill="#111">LOC415641</text>
<text x="867.4" y="631.74" font-size="7.6" font-weight="bold" font-style="italic" fill="#e0151b">FBXO3</text>
<text x="913" y="631.74" font-size="7.6" font-weight="bold" font-style="italic" fill="#111">LMO2</text>
<text x="1020.1" y="631.74" font-size="7.6" font-weight="bold" font-style="italic" fill="#111">RASSF7</text>
<line x1="87.2" y1="623" x2="84.6" y2="631.5" stroke="#222" stroke-width="0.70"/>
<line x1="98.4" y1="623" x2="100.6" y2="631.5" stroke="#222" stroke-width="0.70"/>
<rect x="20" y="444.4" width="13.9" height="134.2" fill="#a6a6a6"/>
<rect x="20" y="578.4" width="13.9" height="27.9" fill="#8dc7f3"/>
<rect x="20" y="606.5" width="13.9" height="8" fill="#a6a6a6"/>
<text x="27" y="515.27" font-size="11.3" text-anchor="middle" font-weight="bold" fill="#111" transform="rotate(-90 27 511.2)" textLength="36.3" lengthAdjust="spacingAndGlyphs">Muscle</text>
<text x="27.1" y="596.8" font-size="11.4" text-anchor="middle" font-weight="bold" fill="#fff" transform="rotate(-90 27.1 592.7)" textLength="18.2" lengthAdjust="spacingAndGlyphs">DF1</text>
<rect x="200.5" y="440" width="6.4" height="180" fill="#e3e3e3" opacity="0.55"/>
<rect x="200.5" y="322" width="6.4" height="102" fill="#e3e3e3" opacity="0.35"/>
<rect x="519.4" y="440" width="6.2" height="180" fill="#e3e3e3" opacity="0.55"/>
<rect x="519.4" y="322" width="6.2" height="102" fill="#e3e3e3" opacity="0.35"/>
<rect x="895" y="440" width="6" height="180" fill="#e3e3e3" opacity="0.55"/>
<rect x="895" y="322" width="6" height="102" fill="#e3e3e3" opacity="0.35"/>
<rect x="41.8" y="675.6" width="315.8" height="115.7" fill="#fff"/>
<path d="M41.8 715.4H42V713.4H44V715.4H44V712.9H46.7V715.4H46.7V712.4H49.3V715.4H49.3V713.4H52V715.4H52V714.4H55V715.4H55V713.9H58V715.4H58V713.9H60V715.4H60V713.9H62V715.4H62V714.4H64.7V715.4H64.7V714.4H67.3V715.4H67.3V714.4H70V715.4H70V713.9H72.5V715.4H72.5V713.9H75V715.4H75V713.9H77.5V715.4H77.5V714.4H80V715.4H80V714.4H82.5V715.4H82.5V714.4H85V715.4H85V714.4H87.5V715.4H87.5V713.9H90V715.4H90V711.9H93.5V715.4H93.5V713.4H96V715.4H96V714.4H98V715.4H98V714.4H100V715.4H100V712.9H103V715.4H103V713.4H106V715.4H106V708.9H109V715.4H109V703.9H111V715.4H111V703.9H113V715.4H113V707.9H116.5V715.4H116.5V712.4H119V715.4H119V714.4H122V715.4H122V714.4H125V715.4H125V712.9H127.7V715.4H127.7V712.9H130.3V715.4H130.3V712.4H133V715.4H133V714.4H135.5V715.4H135.5V713.9H138V715.4H138V713.4H140.4V715.4H140.4V712.9H142.8V715.4H142.8V712.9H145.2V715.4H145.2V713.9H147.6V715.4H147.6V712.9H150V715.4H150V714.4H153V715.4H153V712.9H155.4V715.4H155.4V713.9H157.8V715.4H157.8V713.4H160.2V715.4H160.2V713.9H162.6V715.4H162.6V713.4H165V715.4H165V714.4H167.2V715.4H167.2V714.4H169.4V715.4H169.4V714.4H171.6V715.4H171.6V714.4H173.8V715.4H173.8V714.4H176V715.4H176V713.4H178.7V715.4H178.7V713.4H181.3V715.4H181.3V713.9H184V715.4H184V712.4H187V715.4H187V709.9H190V715.4H190V707.4H193V715.4H193V706.4H196V715.4H196V704.4H198V715.4H198V702.4H200V715.4H200V700.9H202V715.4H202V708.4H205V715.4H205V713.9H208V715.4H208V712.4H210V715.4H210V712.4H212V715.4H212V710.4H215V715.4H215V711.4H218V715.4H218V713.9H220.5V715.4H220.5V713.9H223V715.4H223V714.4H225.2V715.4H225.2V714.4H227.5V715.4H227.5V714.4H229.8V715.4H229.8V714.4H232V715.4H232V713.4H234.7V715.4H234.7V713.9H237.3V715.4H237.3V713.4H240V715.4H240V713.4H242.3V715.4H242.3V713.9H244.7V715.4H244.7V712.9H247V715.4H247V712.4H250V715.4H250V712.4H253V715.4H253V711.4H255.5V715.4H255.5V711.9H258V715.4H258V709.4H260V715.4H260V708.9H262V715.4H262V695.9H265V715.4H265V698.9H268V715.4H268V708.9H271V715.4H271V713.9H273V715.4H273V713.4H275V715.4H275V714.4H277.3V715.4H277.3V714.4H279.7V715.4H279.7V714.4H282V715.4H282V713.4H284.7V715.4H284.7V714.4H287.3V715.4H287.3V713.9H290V715.4H290V713.4H292.5V715.4H292.5V713.4H295V715.4H295V713.4H297.5V715.4H297.5V713.9H300V715.4H300V712.4H302.5V715.4H302.5V712.4H305V715.4H305V714.4H307.3V715.4H307.3V713.9H309.7V715.4H309.7V714.4H312V715.4H312V714.4H315V715.4H315V714.4H318V715.4H318V713.9H320.7V715.4H320.7V713.4H323.3V715.4H323.3V713.9H326V715.4H326V712.9H328V715.4H328V712.4H330V715.4H330V709.9H332.2V715.4H332.2V709.9H334.4V715.4H334.4V710.9H336.6V715.4H336.6V710.4H338.8V715.4H338.8V709.4H341V715.4H341V712.4H343.2V715.4H343.2V712.4H345.5V715.4H345.5V712.4H347.8V715.4H347.8V712.4H350V715.4H350V714.4H352V715.4H352V714.4H354V715.4H354V709.9H355.8V715.4H355.8V710.9H357.6V715.4H357.6Z" fill="#9a00de"/>
<line x1="41.8" y1="715.1" x2="357.6" y2="715.1" stroke="#4a3050" stroke-width="0.90"/>
<path d="M41.8 742.6H42V740.1H44.7V742.6H44.7V740.1H47.3V742.6H47.3V740.6H50V742.6H50V741.6H52V742.6H52V739.6H54.5V742.6H54.5V739.6H57V742.6H57V739.6H59.5V742.6H59.5V739.6H62V742.6H62V741.6H64.2V742.6H64.2V740.6H66.4V742.6H66.4V741.1H68.6V742.6H68.6V741.1H70.8V742.6H70.8V741.1H73V742.6H73V740.1H75.3V742.6H75.3V740.1H77.7V742.6H77.7V740.1H80V742.6H80V738.1H82.5V742.6H82.5V738.1H85V742.6H85V738.1H87.5V742.6H87.5V738.1H90V742.6H90V737.1H92.3V742.6H92.3V737.1H94.7V742.6H94.7V737.1H97V742.6H97V737.1H99.3V742.6H99.3V736.6H101.7V742.6H101.7V737.6H104V742.6H104V738.6H106.2V742.6H106.2V738.6H108.4V742.6H108.4V739.1H110.6V742.6H110.6V738.6H112.8V742.6H112.8V738.6H115V742.6H115V734.6H118V742.6H118V733.6H120V742.6H120V732.6H122V742.6H122V731.1H124.4V742.6H124.4V731.6H126.8V742.6H126.8V731.6H129.2V742.6H129.2V730.6H131.6V742.6H131.6V730.6H134V742.6H134V732.1H136.4V742.6H136.4V731.6H138.8V742.6H138.8V731.1H141.2V742.6H141.2V731.6H143.6V742.6H143.6V731.6H146V742.6H146V734.6H149V742.6H149V734.1H152V742.6H152V735.6H154.7V742.6H154.7V736.1H157.3V742.6H157.3V735.1H160V742.6H160V734.1H163V742.6H163V735.1H166V742.6H166V738.1H168.5V742.6H168.5V737.1H171V742.6H171V738.1H173.5V742.6H173.5V738.1H176V742.6H176V735.1H178.7V742.6H178.7V735.6H181.3V742.6H181.3V736.1H184V742.6H184V734.6H187V742.6H187V733.6H190V742.6H190V737.1H192.5V742.6H192.5V736.6H195V742.6H195V738.6H198V742.6H198V740.1H200.5V742.6H200.5V739.6H203V742.6H203V739.1H205V742.6H205V739.1H207V742.6H207V734.1H209.5V742.6H209.5V734.1H212V742.6H212V733.6H214.5V742.6H214.5V734.1H217V742.6H217V734.6H219.5V742.6H219.5V734.6H222V742.6H222V732.6H224.4V742.6H224.4V732.6H226.8V742.6H226.8V733.1H229.2V742.6H229.2V732.1H231.6V742.6H231.6V731.6H234V742.6H234V735.1H237V742.6H237V733.6H240V742.6H240V732.6H242.5V742.6H242.5V733.1H245V742.6H245V732.6H247.5V742.6H247.5V734.1H250V742.6H250V734.1H252.5V742.6H252.5V734.1H255V742.6H255V737.1H257.5V742.6H257.5V736.6H260V742.6H260V737.6H262.5V742.6H262.5V738.1H265V742.6H265V738.1H267.5V742.6H267.5V738.1H270V742.6H270V734.6H272.5V742.6H272.5V735.1H275V742.6H275V730.6H277.5V742.6H277.5V729.6H280V742.6H280V727.1H282.6V742.6H282.6V728.6H285.2V742.6H285.2V727.6H287.8V742.6H287.8V727.1H290.4V742.6H290.4V727.1H293V742.6H293V728.6H295.3V742.6H295.3V729.6H297.7V742.6H297.7V728.6H300V742.6H300V731.6H302.5V742.6H302.5V731.6H305V742.6H305V730.6H307.4V742.6H307.4V730.6H309.9V742.6H309.9V732.1H312.3V742.6H312.3V731.1H314.7V742.6H314.7V732.1H317.1V742.6H317.1V731.6H319.6V742.6H319.6V732.1H322V742.6H322V733.6H324.7V742.6H324.7V734.1H327.3V742.6H327.3V733.1H330V742.6H330V732.6H332.5V742.6H332.5V732.1H335V742.6H335V732.6H337.5V742.6H337.5V733.1H340V742.6H340V732.6H342.5V742.6H342.5V732.1H345V742.6H345V733.1H347.5V742.6H347.5V732.1H350V742.6H350V734.1H352.5V742.6H352.5V734.6H355.1V742.6H355.1V733.6H357.6V742.6H357.6Z" fill="#0066ff"/>
<line x1="41.8" y1="742.2" x2="357.6" y2="742.2" stroke="#0066ff" stroke-width="0.90"/>
<rect x="42" y="743.6" width="48.8" height="4.7" fill="#fde0a2"/>
<rect x="90.7" y="743.6" width="25.3" height="4.7" fill="#ffe200"/>
<rect x="116" y="743.6" width="25.5" height="4.7" fill="#127c43"/>
<rect x="141.4" y="743.6" width="76.1" height="4.7" fill="#d21f26"/>
<rect x="217.5" y="743.6" width="12.9" height="4.7" fill="#127c43"/>
<rect x="230.3" y="743.6" width="12.7" height="4.7" fill="#d21f26"/>
<rect x="243" y="743.6" width="12.5" height="4.7" fill="#127c43"/>
<rect x="255.4" y="743.6" width="13.3" height="4.7" fill="#d21f26"/>
<rect x="268.6" y="743.6" width="50.1" height="4.7" fill="#e9663a"/>
<rect x="318.7" y="743.6" width="39" height="4.7" fill="#d21f26"/>
<line x1="42" y1="751.4" x2="357.6" y2="751.4" stroke="#6a6ae6" stroke-width="0.90"/>
<rect x="258.6" y="750.2" width="27.9" height="2.6" fill="#1010c8"/>
<rect x="286.5" y="748.9" width="7.1" height="5" fill="#1010c8"/>
<text x="133.6" y="682.69" font-size="5.8" text-anchor="end" font-weight="bold" fill="#222">2 kb</text>
<line x1="134" y1="680.4" x2="261.6" y2="680.4" stroke="#444" stroke-width="0.80"/>
<line x1="134.3" y1="677.8" x2="134.3" y2="683" stroke="#444" stroke-width="0.90"/>
<line x1="261.3" y1="677.8" x2="261.3" y2="683" stroke="#444" stroke-width="0.90"/>
<line x1="103.5" y1="684.2" x2="103.5" y2="689.8" stroke="#333" stroke-width="0.80"/>
<text x="101.9" y="689.05" font-size="5.7" text-anchor="end" font-weight="bold" fill="#222">14,369,000</text>
<line x1="166.9" y1="684.2" x2="166.9" y2="689.8" stroke="#333" stroke-width="0.80"/>
<text x="165.3" y="689.05" font-size="5.7" text-anchor="end" font-weight="bold" fill="#222">14,370,000</text>
<line x1="230.1" y1="684.2" x2="230.1" y2="689.8" stroke="#333" stroke-width="0.80"/>
<text x="228.5" y="689.05" font-size="5.7" text-anchor="end" font-weight="bold" fill="#222">14,371,000</text>
<line x1="293.6" y1="684.2" x2="293.6" y2="689.8" stroke="#333" stroke-width="0.80"/>
<text x="292" y="689.05" font-size="5.7" text-anchor="end" font-weight="bold" fill="#222">14,372,000</text>
<text x="45.3" y="761.12" font-size="7" font-weight="bold" fill="#111">gRNA target sites</text>
<line x1="172.4" y1="753.5" x2="172.4" y2="765.4" stroke="#f07070" stroke-width="1.1"/>
<text x="177.1" y="762.51" font-size="7.8" fill="#3a3a3a">rs316338889</text>
<line x1="172" y1="768.2" x2="172" y2="779.8" stroke="#111" stroke-width="1.9"/>
<text x="172" y="789.15" font-size="8.2" text-anchor="middle" fill="#222">1</text>
<line x1="180.5" y1="768.2" x2="180.5" y2="779.8" stroke="#111" stroke-width="1.9"/>
<text x="180.5" y="789.15" font-size="8.2" text-anchor="middle" fill="#222">2</text>
<line x1="191.2" y1="768.2" x2="191.2" y2="779.8" stroke="#111" stroke-width="1.9"/>
<text x="191.2" y="789.15" font-size="8.2" text-anchor="middle" fill="#222">3</text>
<line x1="198.7" y1="768.2" x2="198.7" y2="779.8" stroke="#111" stroke-width="1.9"/>
<text x="198.7" y="789.15" font-size="8.2" text-anchor="middle" fill="#222">4</text>
<rect x="41.8" y="675.6" width="315.8" height="115.7" fill="none" stroke="#555" stroke-width="1.2"/>
<rect x="382.2" y="675.6" width="318.3" height="116.5" fill="#fff"/>
<path d="M382.2 716H382.5V715H386V716H386V715H388.2V716H388.2V715H390.5V716H390.5V715H392.8V716H392.8V715H395V716H395V713H397.3V716H397.3V713H399.7V716H399.7V713H402V716H402V715H405V716H405V714.5H408V716H408V715H410.4V716H410.4V715H412.8V716H412.8V715H415.2V716H415.2V715H417.6V716H417.6V715H420V716H420V713.5H422.3V716H422.3V714.5H424.7V716H424.7V713.5H427V716H427V715H429.5V716H429.5V715H432V716H432V715H434.5V716H434.5V715H437V716H437V715H439.5V716H439.5V715H442V716H442V715H444.5V716H444.5V715H447V716H447V715H449.6V716H449.6V715H452.2V716H452.2V715H454.8V716H454.8V715H457.4V716H457.4V715H460V716H460V715H462.5V716H462.5V715H465V716H465V715H467.5V716H467.5V715H470V716H470V714.5H472V716H472V715H474V716H474V712.5H477V716H477V712.5H480V716H480V712H483V716H483V712H486V716H486V714H489V716H489V714.5H492V716H492V715H494.6V716H494.6V715H497.2V716H497.2V715H499.8V716H499.8V715H502.4V716H502.4V715H505V716H505V715H507.5V716H507.5V715H510V716H510V714H512.5V716H512.5V714.5H515V716H515V715H517.5V716H517.5V714.5H520V716H520V715H522.5V716H522.5V715H525V716H525V715H527.5V716H527.5V715H530V716H530V714.5H532.5V716H532.5V714H535V716H535V715H537.5V716H537.5V714H540V716H540V715H542.5V716H542.5V714.5H545V716H545V715H547.5V716H547.5V715H550V716H550V712.5H553V716H553V713H556V716H556V710.5H559V716H559V705H561.3V716H561.3V705H563.7V716H563.7V706.5H566V716H566V710H569V716H569V713H571V716H571V713.5H573V716H573V715H575.4V716H575.4V715H577.9V716H577.9V715H580.3V716H580.3V715H582.7V716H582.7V715H585.1V716H585.1V715H587.6V716H587.6V715H590V716H590V715H592.5V716H592.5V714.5H595V716H595V714.5H597.5V716H597.5V714H600V716H600V715H602.5V716H602.5V714H605V716H605V714.5H607.5V716H607.5V715H610V716H610V714.5H612.5V716H612.5V715H615V716H615V714H617.5V716H617.5V714.5H620V716H620V714.5H622.5V716H622.5V715H625V716H625V715H627.5V716H627.5V715H630V716H630V715H632.5V716H632.5V715H635V716H635V714.5H637.5V716H637.5V714H640V716H640V715H642.5V716H642.5V715H645V716H645V715H647.5V716H647.5V715H650V716H650V715H652.5V716H652.5V715H655V716H655V715H657.5V716H657.5V714.5H660V716H660V714.5H662.5V716H662.5V715H665V716H665V714H667.5V716H667.5V714.5H670V716H670V715H672.5V716H672.5V715H675V716H675V715H677.5V716H677.5V715H680V716H680V715H682.5V716H682.5V715H685V716H685V715H687.5V716H687.5V715H690V716H690V715H692.5V716H692.5V715H695V716H695V713.5H697.8V716H697.8V714.5H700.5V716H700.5Z" fill="#9a00de"/>
<line x1="382.2" y1="715.7" x2="700.5" y2="715.7" stroke="#4a3050" stroke-width="0.90"/>
<path d="M382.2 740.6H382.5V739.6H384.8V740.6H384.8V739.6H387.1V740.6H387.1V739.6H389.5V740.6H389.5V740.1H391.8V740.6H391.8V740.1H394.1V740.6H394.1V739.6H396.4V740.6H396.4V740.1H398.7V740.6H398.7V739.6H401V740.6H401V740.1H403.4V740.6H403.4V739.1H405.7V740.6H405.7V739.6H408V740.6H408V739.1H410.4V740.6H410.4V739.1H412.8V740.6H412.8V739.1H415.1V740.6H415.1V739.1H417.5V740.6H417.5V738.6H419.9V740.6H419.9V739.1H422.2V740.6H422.2V738.6H424.6V740.6H424.6V739.1H427V740.6H427V739.6H429.4V740.6H429.4V740.1H431.8V740.6H431.8V740.1H434.2V740.6H434.2V739.6H436.6V740.6H436.6V740.1H439V740.6H439V740.1H441.4V740.6H441.4V740.1H443.8V740.6H443.8V739.6H446.2V740.6H446.2V739.6H448.6V740.6H448.6V740.1H451V740.6H451V739.6H453.4V740.6H453.4V740.1H455.8V740.6H455.8V740.1H458.2V740.6H458.2V740.1H460.6V740.6H460.6V740.1H463V740.6H463V739.6H465.2V740.6H465.2V739.6H467.5V740.6H467.5V739.6H469.8V740.6H469.8V739.1H472V740.6H472V740.1H474.2V740.6H474.2V739.6H476.5V740.6H476.5V739.6H478.8V740.6H478.8V740.1H481V740.6H481V739.6H483.2V740.6H483.2V740.1H485.5V740.6H485.5V739.6H487.8V740.6H487.8V740.1H490V740.6H490V738.6H492.5V740.6H492.5V739.1H495V740.6H495V738.6H497.5V740.6H497.5V739.1H500V740.6H500V739.6H502.5V740.6H502.5V739.6H505V740.6H505V739.6H507.5V740.6H507.5V739.1H510V740.6H510V739.6H512.5V740.6H512.5V740.1H515V740.6H515V739.6H517.5V740.6H517.5V739.6H520V740.6H520V739.1H522.5V740.6H522.5V739.6H525V740.6H525V739.6H527.5V740.6H527.5V740.1H529.9V740.6H529.9V739.6H532.4V740.6H532.4V740.1H534.8V740.6H534.8V739.6H537.3V740.6H537.3V739.6H539.7V740.6H539.7V739.6H542.2V740.6H542.2V740.1H544.6V740.6H544.6V739.6H547.1V740.6H547.1V740.1H549.5V740.6H549.5V739.1H552V740.6H552V739.1H554.7V740.6H554.7V739.1H557.3V740.6H557.3V739.1H560V740.6H560V739.6H562V740.6H562V738.6H564.6V740.6H564.6V738.6H567.2V740.6H567.2V738.1H569.8V740.6H569.8V738.6H572.4V740.6H572.4V738.6H575V740.6H575V740.1H577.4V740.6H577.4V739.6H579.8V740.6H579.8V739.6H582.2V740.6H582.2V740.1H584.6V740.6H584.6V739.6H587V740.6H587V739.1H589.4V740.6H589.4V739.6H591.9V740.6H591.9V740.1H594.3V740.6H594.3V739.6H596.7V740.6H596.7V740.1H599.1V740.6H599.1V740.1H601.5V740.6H601.5V739.1H603.9V740.6H603.9V740.1H606.3V740.6H606.3V740.1H608.7V740.6H608.7V740.1H611.1V740.6H611.1V740.1H613.5V740.6H613.5V740.1H615.9V740.6H615.9V739.6H618.3V740.6H618.3V739.6H620.7V740.6H620.7V740.1H623.1V740.6H623.1V739.6H625.6V740.6H625.6V739.6H628V740.6H628V739.6H630.4V740.6H630.4V740.1H632.8V740.6H632.8V739.6H635.2V740.6H635.2V739.1H637.6V740.6H637.6V739.1H640V740.6H640V739.6H642.5V740.6H642.5V740.1H645V740.6H645V739.6H647.5V740.6H647.5V739.1H650V740.6H650V739.6H652.5V740.6H652.5V739.1H655V740.6H655V739.6H657.5V740.6H657.5V739.6H660V740.6H660V740.1H662.5V740.6H662.5V739.6H665V740.6H665V739.6H667.5V740.6H667.5V739.6H670V740.6H670V740.1H672.5V740.6H672.5V739.6H675V740.6H675V739.6H677.5V740.6H677.5V739.6H680V740.6H680V739.6H682.5V740.6H682.5V739.6H685V740.6H685V738.6H687.6V740.6H687.6V738.6H690.2V740.6H690.2V738.6H692.8V740.6H692.8V739.6H695.3V740.6H695.3V738.6H697.9V740.6H697.9V739.1H700.5V740.6H700.5Z" fill="#0066ff"/>
<line x1="382.2" y1="740.2" x2="700.5" y2="740.2" stroke="#0066ff" stroke-width="0.90"/>
<rect x="382.2" y="742" width="35.2" height="5.7" fill="#e9663a"/>
<rect x="417.4" y="742" width="12.3" height="5.7" fill="#6e6a6b"/>
<rect x="429.6" y="742" width="38.6" height="5.7" fill="#fdeccb"/>
<rect x="468.2" y="742" width="24.7" height="5.7" fill="#de9c28"/>
<rect x="492.8" y="742" width="51.6" height="5.7" fill="#fdeccb"/>
<rect x="544.4" y="742" width="75.4" height="5.7" fill="#de9c28"/>
<rect x="619.7" y="742" width="38.5" height="5.7" fill="#fdeccb"/>
<rect x="658.2" y="742" width="42.3" height="5.7" fill="#de9c28"/>
<line x1="382.2" y1="751.4" x2="700.5" y2="751.4" stroke="#6a6ae6" stroke-width="0.90"/>
<text x="478" y="683.79" font-size="5.8" text-anchor="end" font-weight="bold" fill="#222">2 kb</text>
<line x1="478.4" y1="681.5" x2="604.5" y2="681.5" stroke="#444" stroke-width="0.80"/>
<line x1="478.7" y1="678.9" x2="478.7" y2="684.1" stroke="#444" stroke-width="0.90"/>
<line x1="604.2" y1="678.9" x2="604.2" y2="684.1" stroke="#444" stroke-width="0.90"/>
<line x1="417.4" y1="686.5" x2="417.4" y2="692.1" stroke="#333" stroke-width="0.80"/>
<text x="415.8" y="691.35" font-size="5.7" text-anchor="end" font-weight="bold" fill="#222">16,017,000</text>
<line x1="480.9" y1="686.5" x2="480.9" y2="692.1" stroke="#333" stroke-width="0.80"/>
<text x="479.3" y="691.35" font-size="5.7" text-anchor="end" font-weight="bold" fill="#222">16,018,000</text>
<line x1="544.1" y1="686.5" x2="544.1" y2="692.1" stroke="#333" stroke-width="0.80"/>
<text x="542.5" y="691.35" font-size="5.7" text-anchor="end" font-weight="bold" fill="#222">16,019,000</text>
<line x1="607.4" y1="686.5" x2="607.4" y2="692.1" stroke="#333" stroke-width="0.80"/>
<text x="605.8" y="691.35" font-size="5.7" text-anchor="end" font-weight="bold" fill="#222">16,020,000</text>
<line x1="671.4" y1="686.5" x2="671.4" y2="692.1" stroke="#333" stroke-width="0.80"/>
<text x="669.8" y="691.35" font-size="5.7" text-anchor="end" font-weight="bold" fill="#222">16,021,000</text>
<text x="385.7" y="761.12" font-size="7" font-weight="bold" fill="#111">gRNA target sites</text>
<line x1="567.6" y1="755.7" x2="567.6" y2="766.3" stroke="#f07070" stroke-width="1.1"/>
<text x="573.2" y="763.31" font-size="7.8" fill="#3a3a3a">rs313523098</text>
<line x1="553.7" y1="769.2" x2="553.7" y2="781.1" stroke="#111" stroke-width="1.9"/>
<text x="553.7" y="789.75" font-size="8.2" text-anchor="middle" fill="#222">1</text>
<line x1="560.8" y1="769.2" x2="560.8" y2="781.1" stroke="#111" stroke-width="1.9"/>
<text x="560.8" y="789.75" font-size="8.2" text-anchor="middle" fill="#222">2</text>
<line x1="567.6" y1="769.2" x2="567.6" y2="781.1" stroke="#111" stroke-width="1.9"/>
<text x="567.6" y="789.75" font-size="8.2" text-anchor="middle" fill="#222">3</text>
<line x1="574.4" y1="769.2" x2="574.4" y2="781.1" stroke="#111" stroke-width="1.9"/>
<text x="574.4" y="789.75" font-size="8.2" text-anchor="middle" fill="#222">4</text>
<rect x="382.2" y="675.6" width="318.3" height="116.5" fill="none" stroke="#555" stroke-width="1.2"/>
<rect x="734.7" y="676.1" width="318.9" height="116.3" fill="#fff"/>
<path d="M734.7 716.4H735V715.4H737.7V716.4H737.7V714.9H740.3V716.4H740.3V715.4H743V716.4H743V714.4H745.3V716.4H745.3V714.9H747.7V716.4H747.7V714.4H750V716.4H750V715.4H752.5V716.4H752.5V715.4H755V716.4H755V715.4H757.5V716.4H757.5V715.4H760V716.4H760V714.9H762.5V716.4H762.5V714.4H765V716.4H765V715.4H767.5V716.4H767.5V715.4H770V716.4H770V715.4H772.5V716.4H772.5V715.4H775V716.4H775V715.4H777.5V716.4H777.5V715.4H780V716.4H780V715.4H782.5V716.4H782.5V714.9H785V716.4H785V715.4H787.5V716.4H787.5V714.9H790V716.4H790V715.4H792.5V716.4H792.5V714.9H795V716.4H795V714.9H797.5V716.4H797.5V714.9H800V716.4H800V715.4H802.5V716.4H802.5V714.9H805V716.4H805V715.4H807.7V716.4H807.7V715.4H810.3V716.4H810.3V715.4H813V716.4H813V714.9H815.5V716.4H815.5V714.4H818V716.4H818V714.4H820.3V716.4H820.3V713.4H822.7V716.4H822.7V713.4H825V716.4H825V715.4H827.5V716.4H827.5V714.9H830V716.4H830V714.4H832.5V716.4H832.5V715.4H835V716.4H835V715.4H837.5V716.4H837.5V715.4H840V716.4H840V715.4H842.5V716.4H842.5V715.4H845V716.4H845V712.9H847.3V716.4H847.3V712.9H849.7V716.4H849.7V711.9H852V716.4H852V715.4H855V716.4H855V714.4H857.5V716.4H857.5V714.4H860V716.4H860V713.9H862.5V716.4H862.5V713.9H865V716.4H865V715.4H868V716.4H868V711.9H870.5V716.4H870.5V712.4H873V716.4H873V712.9H875.5V716.4H875.5V712.9H878V716.4H878V714.4H880V716.4H880V711.9H882.3V716.4H882.3V711.4H884.7V716.4H884.7V711.4H887V716.4H887V707.4H890V716.4H890V705.9H893V716.4H893V706.4H895V716.4H895V707.9H897V716.4H897V713.9H900V716.4H900V710.4H903V716.4H903V708.4H905.3V716.4H905.3V707.4H907.7V716.4H907.7V708.9H910V716.4H910V712.4H913V716.4H913V714.4H916V716.4H916V712.4H919V716.4H919V713.9H922V716.4H922V715.4H924.5V716.4H924.5V715.4H927V716.4H927V714.4H929.5V716.4H929.5V714.4H932V716.4H932V714.4H934.5V716.4H934.5V713.9H937V716.4H937V714.4H939.5V716.4H939.5V714.4H942V716.4H942V715.4H944.3V716.4H944.3V715.4H946.7V716.4H946.7V715.4H949V716.4H949V715.4H951.3V716.4H951.3V715.4H953.7V716.4H953.7V714.9H956V716.4H956V715.4H958.3V716.4H958.3V715.4H960.7V716.4H960.7V715.4H963V716.4H963V715.4H965.3V716.4H965.3V715.4H967.7V716.4H967.7V715.4H970V716.4H970V714.4H972.5V716.4H972.5V714.9H975V716.4H975V714.4H977.5V716.4H977.5V714.4H980V716.4H980V714.9H982.5V716.4H982.5V714.4H985V716.4H985V713.4H987.5V716.4H987.5V713.9H990V716.4H990V713.9H992.5V716.4H992.5V713.9H995V716.4H995V715.4H997.5V716.4H997.5V714.9H1000V716.4H1000V715.4H1002.5V716.4H1002.5V715.4H1005V716.4H1005V714.9H1007.5V716.4H1007.5V715.4H1010V716.4H1010V715.4H1012.5V716.4H1012.5V715.4H1015V716.4H1015V715.4H1017.5V716.4H1017.5V715.4H1020V716.4H1020V715.4H1022.5V716.4H1022.5V715.4H1025V716.4H1025V715.4H1027.5V716.4H1027.5V715.4H1030V716.4H1030V715.4H1032.5V716.4H1032.5V715.4H1035V716.4H1035V715.4H1037.5V716.4H1037.5V715.4H1040V716.4H1040V715.4H1042.5V716.4H1042.5V715.4H1045V716.4H1045V714.4H1047.2V716.4H1047.2V714.4H1049.3V716.4H1049.3V714.4H1051.4V716.4H1051.4V714.9H1053.6V716.4H1053.6Z" fill="#9a00de"/>
<line x1="734.7" y1="716.1" x2="1053.6" y2="716.1" stroke="#4a3050" stroke-width="0.90"/>
<path d="M734.7 740.6H735V739.6H737.5V740.6H737.5V740.1H740V740.6H740V739.6H742.5V740.6H742.5V740.1H745V740.6H745V739.1H747.5V740.6H747.5V739.6H750V740.6H750V739.6H752.5V740.6H752.5V740.1H755V740.6H755V739.6H757.5V740.6H757.5V740.1H760V740.6H760V740.1H762.5V740.6H762.5V739.6H765V740.6H765V739.6H767.5V740.6H767.5V739.6H770V740.6H770V739.6H772.5V740.6H772.5V739.6H775V740.6H775V740.1H777.5V740.6H777.5V740.1H780V740.6H780V740.1H782.5V740.6H782.5V739.1H785V740.6H785V740.1H787.5V740.6H787.5V739.6H790V740.6H790V739.6H792.5V740.6H792.5V740.1H795V740.6H795V739.1H797.5V740.6H797.5V739.1H800V740.6H800V739.6H802.5V740.6H802.5V740.1H805V740.6H805V740.1H807.5V740.6H807.5V739.6H810V740.6H810V739.1H812.5V740.6H812.5V739.6H815V740.6H815V740.1H817.5V740.6H817.5V739.6H820V740.6H820V740.1H822.5V740.6H822.5V740.1H825V740.6H825V740.1H827.5V740.6H827.5V739.6H830V740.6H830V738.6H832.5V740.6H832.5V738.6H835V740.6H835V738.1H837.5V740.6H837.5V738.6H840V740.6H840V738.6H842.5V740.6H842.5V739.1H845V740.6H845V737.6H847.5V740.6H847.5V737.6H850V740.6H850V738.1H852.5V740.6H852.5V737.6H855V740.6H855V737.6H857.5V740.6H857.5V737.6H860V740.6H860V736.6H862.5V740.6H862.5V736.1H865V740.6H865V736.1H867.5V740.6H867.5V736.1H870V740.6H870V737.6H872.5V740.6H872.5V737.6H875V740.6H875V737.6H877.5V740.6H877.5V738.1H880V740.6H880V734.1H882.3V740.6H882.3V734.1H884.7V740.6H884.7V733.6H887V740.6H887V734.6H889.5V740.6H889.5V734.6H892V740.6H892V734.1H894.5V740.6H894.5V734.1H897V740.6H897V736.6H899.7V740.6H899.7V736.6H902.3V740.6H902.3V737.1H905V740.6H905V740.1H907.3V740.6H907.3V739.6H909.7V740.6H909.7V739.6H912V740.6H912V739.6H914.3V740.6H914.3V739.1H916.7V740.6H916.7V738.6H919V740.6H919V739.1H921.3V740.6H921.3V739.1H923.7V740.6H923.7V739.1H926V740.6H926V739.1H928.3V740.6H928.3V738.6H930.7V740.6H930.7V739.1H933V740.6H933V739.1H935.3V740.6H935.3V738.6H937.7V740.6H937.7V739.1H940V740.6H940V738.6H942.5V740.6H942.5V738.6H945V740.6H945V739.1H947.5V740.6H947.5V738.1H950V740.6H950V738.6H952.5V740.6H952.5V739.1H955V740.6H955V739.1H957.5V740.6H957.5V739.6H960V740.6H960V738.6H962.5V740.6H962.5V739.6H965V740.6H965V738.6H967.5V740.6H967.5V739.1H970V740.6H970V740.1H972.5V740.6H972.5V739.1H975V740.6H975V739.6H977.5V740.6H977.5V739.6H980V740.6H980V738.1H982.5V740.6H982.5V738.6H985V740.6H985V738.1H987.5V740.6H987.5V738.1H990V740.6H990V737.6H992.5V740.6H992.5V738.1H995V740.6H995V738.1H997.5V740.6H997.5V737.6H1000V740.6H1000V737.6H1002.5V740.6H1002.5V738.1H1005V740.6H1005V738.6H1007.5V740.6H1007.5V737.6H1010V740.6H1010V739.6H1012.5V740.6H1012.5V739.6H1015V740.6H1015V739.1H1017.5V740.6H1017.5V738.6H1020V740.6H1020V739.6H1022.5V740.6H1022.5V739.6H1025V740.6H1025V739.6H1027.4V740.6H1027.4V738.6H1029.8V740.6H1029.8V738.6H1032.2V740.6H1032.2V739.1H1034.5V740.6H1034.5V738.6H1036.9V740.6H1036.9V739.6H1039.3V740.6H1039.3V738.6H1041.7V740.6H1041.7V738.6H1044.1V740.6H1044.1V739.1H1046.4V740.6H1046.4V739.1H1048.8V740.6H1048.8V738.6H1051.2V740.6H1051.2V738.6H1053.6V740.6H1053.6Z" fill="#0066ff"/>
<line x1="734.7" y1="740.2" x2="1053.6" y2="740.2" stroke="#0066ff" stroke-width="0.90"/>
<rect x="734.7" y="742" width="25.4" height="5.7" fill="#e1e1e1"/>
<rect x="760.1" y="742" width="25.9" height="5.7" fill="#fdeccb"/>
<rect x="786" y="742" width="37.8" height="5.7" fill="#7ccaa5"/>
<rect x="823.8" y="742" width="12.5" height="5.7" fill="#f06ba2"/>
<rect x="836.2" y="742" width="101.7" height="5.7" fill="#d21f26"/>
<rect x="937.9" y="742" width="12.9" height="5.7" fill="#de9c28"/>
<rect x="950.8" y="742" width="25.5" height="5.7" fill="#fccd78"/>
<rect x="976.2" y="742" width="24.8" height="5.7" fill="#de9c28"/>
<rect x="1001" y="742" width="38.3" height="5.7" fill="#fccd78"/>
<rect x="1039.2" y="742" width="14.4" height="5.7" fill="#de9c28"/>
<line x1="734.7" y1="751.4" x2="876.1" y2="751.4" stroke="#6a6ae6" stroke-width="0.90"/>
<rect x="882.9" y="750.2" width="30.6" height="2.6" fill="#1010c8"/>
<rect x="876.1" y="748.9" width="6.8" height="5" fill="#1010c8"/>
<text x="829.6" y="683.79" font-size="5.8" text-anchor="end" font-weight="bold" fill="#222">2 kb</text>
<line x1="830" y1="681.5" x2="957" y2="681.5" stroke="#444" stroke-width="0.80"/>
<line x1="830.3" y1="678.9" x2="830.3" y2="684.1" stroke="#444" stroke-width="0.90"/>
<line x1="956.7" y1="678.9" x2="956.7" y2="684.1" stroke="#444" stroke-width="0.90"/>
<line x1="735.4" y1="686.8" x2="735.4" y2="692.4" stroke="#333" stroke-width="0.80"/>
<line x1="798.4" y1="686.8" x2="798.4" y2="692.4" stroke="#333" stroke-width="0.80"/>
<text x="796.8" y="691.65" font-size="5.7" text-anchor="end" font-weight="bold" fill="#222">18,648,000</text>
<line x1="862.2" y1="686.8" x2="862.2" y2="692.4" stroke="#333" stroke-width="0.80"/>
<text x="860.6" y="691.65" font-size="5.7" text-anchor="end" font-weight="bold" fill="#222">18,649,000</text>
<line x1="924.9" y1="686.8" x2="924.9" y2="692.4" stroke="#333" stroke-width="0.80"/>
<text x="923.3" y="691.65" font-size="5.7" text-anchor="end" font-weight="bold" fill="#222">18,650,000</text>
<line x1="988.4" y1="686.8" x2="988.4" y2="692.4" stroke="#333" stroke-width="0.80"/>
<text x="986.8" y="691.65" font-size="5.7" text-anchor="end" font-weight="bold" fill="#222">18,651,000</text>
<text x="738.2" y="761.12" font-size="7" font-weight="bold" fill="#111">gRNA target sites</text>
<line x1="897.8" y1="755.7" x2="897.8" y2="766.7" stroke="#f07070" stroke-width="1.1"/>
<text x="903.7" y="763.41" font-size="7.8" fill="#3a3a3a">rs317345807</text>
<line x1="890.5" y1="770" x2="890.5" y2="781.6" stroke="#111" stroke-width="1.9"/>
<text x="890.5" y="789.85" font-size="8.2" text-anchor="middle" fill="#222">1</text>
<line x1="897.4" y1="770" x2="897.4" y2="781.6" stroke="#111" stroke-width="1.9"/>
<text x="897.4" y="789.85" font-size="8.2" text-anchor="middle" fill="#222">2</text>
<line x1="904.6" y1="770" x2="904.6" y2="781.6" stroke="#111" stroke-width="1.9"/>
<text x="904.6" y="789.85" font-size="8.2" text-anchor="middle" fill="#222">3</text>
<line x1="910.1" y1="770" x2="910.1" y2="781.6" stroke="#111" stroke-width="1.9"/>
<text x="910.1" y="789.85" font-size="8.2" text-anchor="middle" fill="#222">4</text>
<rect x="734.7" y="676.1" width="318.9" height="116.3" fill="none" stroke="#555" stroke-width="1.2"/>
<rect x="141.3" y="810.2" width="11" height="11.2" fill="#d21f26"/>
<text x="156.9" y="818.76" font-size="7.4" font-weight="bold" fill="#222">TssA</text>
<rect x="186.8" y="810.2" width="11" height="11.2" fill="#f06ba2"/>
<text x="202.4" y="818.76" font-size="7.4" font-weight="bold" fill="#222">TssAHet</text>
<rect x="246" y="810.2" width="11" height="11.2" fill="#127c43"/>
<text x="261.6" y="818.76" font-size="7.4" font-weight="bold" fill="#222">TxFlnk</text>
<rect x="298.3" y="810.2" width="11" height="11.2" fill="#17b05f"/>
<text x="313.9" y="818.76" font-size="7.4" font-weight="bold" fill="#222">TxFlnkWk</text>
<rect x="363.3" y="810.2" width="11" height="11.2" fill="#7ccaa5"/>
<text x="378.9" y="818.76" font-size="7.4" font-weight="bold" fill="#222">TxFlnkHet</text>
<rect x="429.2" y="810.2" width="11" height="11.2" fill="#ffe200"/>
<text x="444.8" y="818.76" font-size="7.4" font-weight="bold" fill="#222">EnhA</text>
<rect x="476" y="810.2" width="11" height="11.2" fill="#de9c28"/>
<text x="491.6" y="818.76" font-size="7.4" font-weight="bold" fill="#222">EnhAME</text>
<rect x="535.8" y="810.2" width="11" height="11.2" fill="#fccd78"/>
<text x="551.4" y="818.76" font-size="7.4" font-weight="bold" fill="#222">EnhAWk</text>
<rect x="595.6" y="810.2" width="11" height="11.2" fill="#fde0a2"/>
<text x="611.2" y="818.76" font-size="7.4" font-weight="bold" fill="#222">EnhAHet</text>
<rect x="658.7" y="810.2" width="11" height="11.2" fill="#fdeccb"/>
<text x="674.3" y="818.76" font-size="7.4" font-weight="bold" fill="#222">EnhPois</text>
<rect x="717.8" y="810.2" width="11" height="11.2" fill="#7ca6d2"/>
<text x="733.4" y="818.76" font-size="7.4" font-weight="bold" fill="#222">ATAC</text>
<rect x="768" y="810.2" width="11" height="11.2" fill="#e9663a"/>
<text x="783.6" y="818.76" font-size="7.4" font-weight="bold" fill="#222">TssBiv</text>
<rect x="822.5" y="810.2" width="11" height="11.2" fill="#6e6a6b"/>
<text x="838.1" y="818.76" font-size="7.4" font-weight="bold" fill="#222">Repr</text>
<rect x="866.4" y="810.2" width="11" height="11.2" fill="#a9a7a8"/>
<text x="882" y="818.76" font-size="7.4" font-weight="bold" fill="#222">ReprWk</text>
<rect x="924.7" y="810.2" width="11" height="11.2" fill="#e1e1e1"/>
<text x="940.3" y="818.76" font-size="7.4" font-weight="bold" fill="#222">Qui</text></svg></body></html>
